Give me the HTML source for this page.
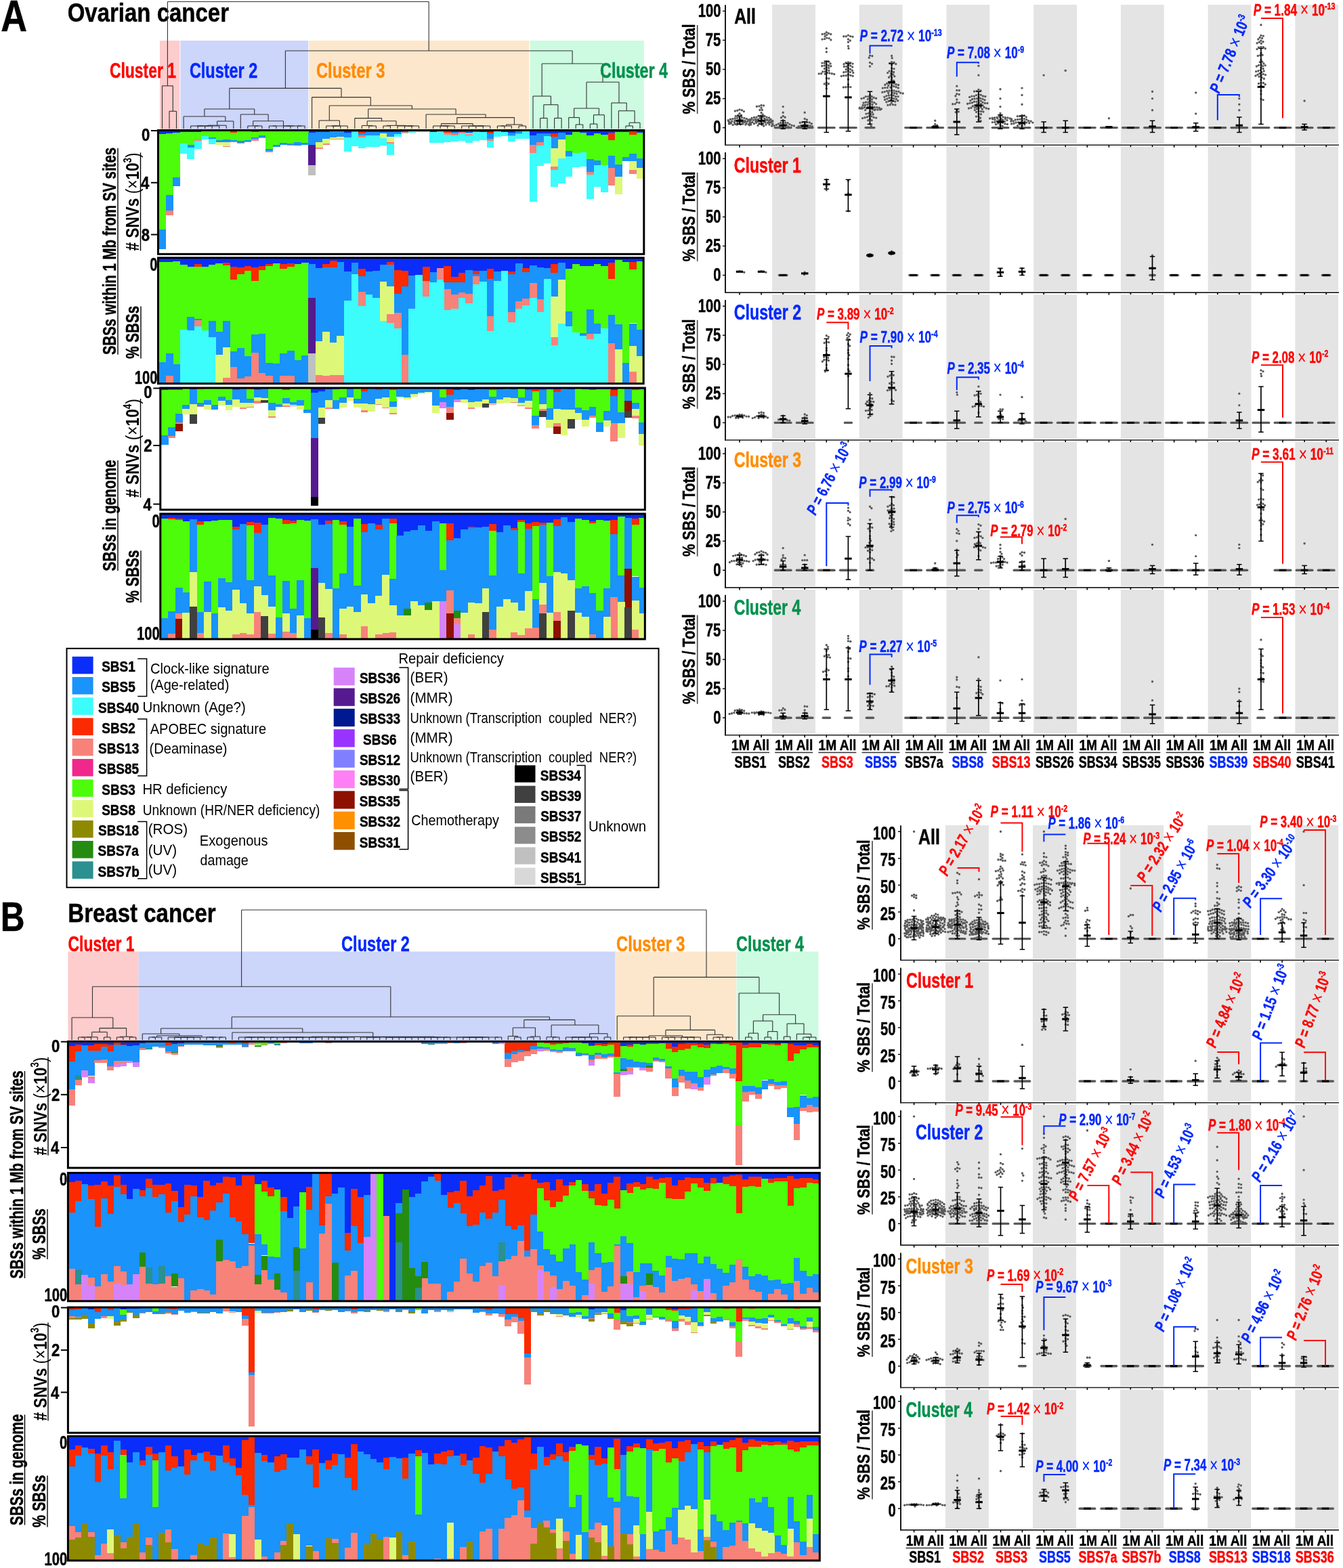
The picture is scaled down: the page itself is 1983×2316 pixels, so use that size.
<!DOCTYPE html>
<html><head><meta charset="utf-8"><title>Figure</title>
<style>
html,body{margin:0;padding:0;background:#fff;}
svg{display:block;font-family:'Liberation Sans', Arial, sans-serif;}
</style></head>
<body>
<svg xmlns="http://www.w3.org/2000/svg" width="1983" height="2316" viewBox="0 0 1983 2316">
<rect width="1983" height="2316" fill="#fff"/>
<text transform="translate(1.3,46.4) scale(0.826,1)" font-size="65" font-weight="bold" fill="#000" stroke="#000" stroke-width="0.50" >A</text>
<text transform="translate(99.7,32.3) scale(0.835,1)" font-size="39.5" font-weight="bold" fill="#000" stroke="#000" stroke-width="0.50" >Ovarian cancer</text>
<text transform="translate(0.7,1374.9) scale(0.816,1)" font-size="60.7" font-weight="bold" fill="#000" stroke="#000" stroke-width="0.50" >B</text>
<text transform="translate(100.3,1361.9) scale(0.836,1)" font-size="39.5" font-weight="bold" fill="#000" stroke="#000" stroke-width="0.50" >Breast cancer</text>
<rect x="1140.1" y="7.0" width="63.8" height="205.2" fill="#e4e4e4" />
<rect x="1268.8" y="7.0" width="63.8" height="205.2" fill="#e4e4e4" />
<rect x="1397.5" y="7.0" width="63.8" height="205.2" fill="#e4e4e4" />
<rect x="1526.2" y="7.0" width="63.8" height="205.2" fill="#e4e4e4" />
<rect x="1654.9" y="7.0" width="63.8" height="205.2" fill="#e4e4e4" />
<rect x="1783.6" y="7.0" width="63.8" height="205.2" fill="#e4e4e4" />
<rect x="1912.3" y="7.0" width="63.8" height="205.2" fill="#e4e4e4" />
<line x1="1071.0" y1="7.2" x2="1071.0" y2="215.0" stroke="#000" stroke-width="1.8" />
<line x1="1070.1" y1="214.2" x2="1977.0" y2="214.2" stroke="#222" stroke-width="1.6" />
<line x1="1067.0" y1="188.6" x2="1071.0" y2="188.6" stroke="#000" stroke-width="1.4" />
<text transform="translate(1053.3,197.3) scale(0.750,1)" font-size="27" font-weight="bold" fill="#000" stroke="#000" stroke-width="0.50" >0</text>
<line x1="1067.0" y1="145.6" x2="1071.0" y2="145.6" stroke="#000" stroke-width="1.4" />
<text transform="translate(1041.7,154.2) scale(0.750,1)" font-size="27" font-weight="bold" fill="#000" stroke="#000" stroke-width="0.50" >25</text>
<line x1="1067.0" y1="102.5" x2="1071.0" y2="102.5" stroke="#000" stroke-width="1.4" />
<text transform="translate(1041.9,111.2) scale(0.750,1)" font-size="27" font-weight="bold" fill="#000" stroke="#000" stroke-width="0.50" >50</text>
<line x1="1067.0" y1="59.4" x2="1071.0" y2="59.4" stroke="#000" stroke-width="1.4" />
<text transform="translate(1041.7,68.1) scale(0.750,1)" font-size="27" font-weight="bold" fill="#000" stroke="#000" stroke-width="0.50" >75</text>
<line x1="1067.0" y1="16.4" x2="1071.0" y2="16.4" stroke="#000" stroke-width="1.4" />
<text transform="translate(1030.8,25.1) scale(0.750,1)" font-size="27" font-weight="bold" fill="#000" stroke="#000" stroke-width="0.50" >100</text>
<line x1="1092.0" y1="214.2" x2="1092.0" y2="217.7" stroke="#000" stroke-width="1.6" />
<line x1="1124.1" y1="214.2" x2="1124.1" y2="217.7" stroke="#000" stroke-width="1.6" />
<line x1="1156.2" y1="214.2" x2="1156.2" y2="217.7" stroke="#000" stroke-width="1.6" />
<line x1="1188.2" y1="214.2" x2="1188.2" y2="217.7" stroke="#000" stroke-width="1.6" />
<line x1="1220.3" y1="214.2" x2="1220.3" y2="217.7" stroke="#000" stroke-width="1.6" />
<line x1="1252.4" y1="214.2" x2="1252.4" y2="217.7" stroke="#000" stroke-width="1.6" />
<line x1="1284.5" y1="214.2" x2="1284.5" y2="217.7" stroke="#000" stroke-width="1.6" />
<line x1="1316.6" y1="214.2" x2="1316.6" y2="217.7" stroke="#000" stroke-width="1.6" />
<line x1="1348.6" y1="214.2" x2="1348.6" y2="217.7" stroke="#000" stroke-width="1.6" />
<line x1="1380.7" y1="214.2" x2="1380.7" y2="217.7" stroke="#000" stroke-width="1.6" />
<line x1="1412.8" y1="214.2" x2="1412.8" y2="217.7" stroke="#000" stroke-width="1.6" />
<line x1="1444.9" y1="214.2" x2="1444.9" y2="217.7" stroke="#000" stroke-width="1.6" />
<line x1="1477.0" y1="214.2" x2="1477.0" y2="217.7" stroke="#000" stroke-width="1.6" />
<line x1="1509.0" y1="214.2" x2="1509.0" y2="217.7" stroke="#000" stroke-width="1.6" />
<line x1="1541.1" y1="214.2" x2="1541.1" y2="217.7" stroke="#000" stroke-width="1.6" />
<line x1="1573.2" y1="214.2" x2="1573.2" y2="217.7" stroke="#000" stroke-width="1.6" />
<line x1="1605.3" y1="214.2" x2="1605.3" y2="217.7" stroke="#000" stroke-width="1.6" />
<line x1="1637.4" y1="214.2" x2="1637.4" y2="217.7" stroke="#000" stroke-width="1.6" />
<line x1="1669.4" y1="214.2" x2="1669.4" y2="217.7" stroke="#000" stroke-width="1.6" />
<line x1="1701.5" y1="214.2" x2="1701.5" y2="217.7" stroke="#000" stroke-width="1.6" />
<line x1="1733.6" y1="214.2" x2="1733.6" y2="217.7" stroke="#000" stroke-width="1.6" />
<line x1="1765.7" y1="214.2" x2="1765.7" y2="217.7" stroke="#000" stroke-width="1.6" />
<line x1="1797.8" y1="214.2" x2="1797.8" y2="217.7" stroke="#000" stroke-width="1.6" />
<line x1="1829.8" y1="214.2" x2="1829.8" y2="217.7" stroke="#000" stroke-width="1.6" />
<line x1="1861.9" y1="214.2" x2="1861.9" y2="217.7" stroke="#000" stroke-width="1.6" />
<line x1="1894.0" y1="214.2" x2="1894.0" y2="217.7" stroke="#000" stroke-width="1.6" />
<line x1="1926.1" y1="214.2" x2="1926.1" y2="217.7" stroke="#000" stroke-width="1.6" />
<line x1="1958.2" y1="214.2" x2="1958.2" y2="217.7" stroke="#000" stroke-width="1.6" />
<text transform="translate(1026.0,168.4) rotate(-90) scale(0.812,1)" font-size="25.7" font-weight="bold" fill="#000" stroke="#000" stroke-width="0.50" >% SBS / Total</text>
<line x1="1029.7" y1="37.0" x2="1029.7" y2="168.0" stroke="#444" stroke-width="1.6" />
<text transform="translate(1084.2,34.8) scale(0.800,1)" font-size="31" font-weight="bold" fill="#000000" stroke="#000000" stroke-width="0.50" >All</text>
<path stroke="#5a5a5a" stroke-width="3.4" stroke-linecap="round" d="M1092.0 161.9h0M1095.4 162.7h0M1088.8 163.3h0M1085.4 164.0h0M1098.4 164.6h0M1092.0 167.7h0M1094.5 170.1h0M1089.7 170.3h0M1086.3 171.4h0M1092.0 173.3h0M1095.5 173.6h0M1088.6 174.2h0M1098.9 174.4h0M1085.2 174.8h0M1102.3 175.4h0M1081.8 175.8h0M1078.4 176.2h0M1093.4 176.5h0M1105.4 176.9h0M1108.9 177.0h0M1104.8 177.2h0M1090.1 177.7h0M1096.7 177.7h0M1075.2 177.8h0M1091.4 177.8h0M1086.6 178.1h0M1100.1 178.2h0M1084.9 178.3h0M1091.8 178.5h0M1080.7 179.1h0M1075.9 179.3h0M1094.4 179.4h0M1103.7 179.4h0M1100.5 179.5h0M1099.4 179.7h0M1092.2 179.9h0M1096.2 180.0h0M1107.1 180.4h0M1092.4 180.5h0M1099.1 180.5h0M1077.6 180.6h0M1107.1 180.7h0M1084.3 180.7h0M1088.9 181.2h0M1076.7 181.5h0M1079.6 181.7h0M1108.6 182.0h0M1078.1 182.4h0M1088.9 182.4h0M1102.1 182.5h0M1076.5 182.9h0M1096.8 183.0h0M1085.3 183.0h0M1086.0 183.4h0M1105.4 183.8h0M1093.3 183.9h0M1088.2 184.0h0M1100.9 184.1h0M1108.7 184.1h0M1082.1 184.4h0M1106.5 184.7h0"/>
<line x1="1092.0" y1="171.4" x2="1092.0" y2="183.4" stroke="#000" stroke-width="1.7" />
<line x1="1088.2" y1="171.4" x2="1095.8" y2="171.4" stroke="#000" stroke-width="1.5" />
<line x1="1088.2" y1="183.4" x2="1095.8" y2="183.4" stroke="#000" stroke-width="1.5" />
<line x1="1086.8" y1="178.3" x2="1097.2" y2="178.3" stroke="#000" stroke-width="3" />
<path stroke="#5a5a5a" stroke-width="3.4" stroke-linecap="round" d="M1124.1 155.5h0M1127.6 155.9h0M1120.9 156.9h0M1117.4 157.2h0M1124.1 159.2h0M1125.4 162.4h0M1121.9 162.5h0M1124.1 166.5h0M1126.3 169.2h0M1123.4 171.0h0M1119.9 171.2h0M1129.0 171.5h0M1116.9 173.1h0M1132.1 173.1h0M1126.0 173.4h0M1113.4 173.5h0M1135.5 174.0h0M1122.1 174.3h0M1110.0 174.4h0M1129.0 175.2h0M1119.2 176.2h0M1138.1 176.3h0M1115.6 176.3h0M1132.7 176.5h0M1124.7 176.6h0M1107.4 176.7h0M1129.6 176.9h0M1112.3 177.3h0M1132.8 177.6h0M1116.4 177.6h0M1136.0 177.7h0M1107.8 177.9h0M1107.3 178.1h0M1140.8 178.5h0M1122.0 178.8h0M1129.8 178.9h0M1115.6 179.0h0M1116.2 179.1h0M1140.9 179.2h0M1128.3 179.5h0M1139.0 179.5h0M1118.0 179.7h0M1123.6 179.8h0M1135.5 179.9h0M1129.5 180.0h0M1110.9 180.5h0M1135.5 180.8h0M1129.7 180.9h0M1138.1 181.0h0M1116.7 181.2h0M1135.0 181.4h0M1133.3 181.4h0M1120.8 182.1h0M1126.1 182.2h0M1108.0 182.4h0M1113.5 182.8h0M1141.0 183.0h0M1140.3 183.6h0M1136.0 184.1h0M1131.0 184.1h0M1124.8 184.2h0M1119.1 185.2h0M1127.7 186.1h0"/>
<line x1="1124.1" y1="171.4" x2="1124.1" y2="183.4" stroke="#000" stroke-width="1.7" />
<line x1="1120.3" y1="171.4" x2="1127.8" y2="171.4" stroke="#000" stroke-width="1.5" />
<line x1="1120.3" y1="183.4" x2="1127.8" y2="183.4" stroke="#000" stroke-width="1.5" />
<line x1="1118.8" y1="178.3" x2="1129.3" y2="178.3" stroke="#000" stroke-width="3" />
<rect x="1142.7" y="186.9" width="27.0" height="3.4" rx="1.7" fill="#5a5a5a"/>
<path stroke="#5a5a5a" stroke-width="3.4" stroke-linecap="round" d="M1156.2 157.6h0M1156.2 166.2h0M1156.2 171.5h0M1159.1 173.3h0M1153.5 173.7h0M1156.2 177.4h0M1156.2 181.2h0M1159.7 181.2h0M1152.7 181.5h0M1163.1 181.6h0M1149.5 183.0h0M1166.0 183.6h0M1157.7 184.4h0M1146.4 184.5h0M1161.2 184.6h0M1154.3 185.0h0M1169.1 185.3h0M1143.1 185.8h0M1172.5 185.9h0M1139.6 186.1h0M1151.1 186.5h0M1163.9 186.9h0"/>
<line x1="1156.2" y1="178.3" x2="1156.2" y2="190.3" stroke="#000" stroke-width="1.7" />
<line x1="1152.4" y1="178.3" x2="1159.9" y2="178.3" stroke="#000" stroke-width="1.5" />
<line x1="1152.4" y1="190.3" x2="1159.9" y2="190.3" stroke="#000" stroke-width="1.5" />
<line x1="1150.9" y1="185.2" x2="1161.4" y2="185.2" stroke="#000" stroke-width="3" />
<rect x="1174.7" y="186.9" width="27.0" height="3.4" rx="1.7" fill="#5a5a5a"/>
<path stroke="#5a5a5a" stroke-width="3.4" stroke-linecap="round" d="M1188.2 166.2h0M1188.2 175.4h0M1191.4 176.9h0M1188.2 180.3h0M1191.7 180.5h0M1184.7 180.5h0M1195.2 181.0h0M1181.3 181.3h0M1198.3 182.7h0M1189.2 183.7h0M1186.0 184.9h0M1192.4 185.1h0M1182.5 185.6h0M1195.9 185.8h0M1179.2 186.6h0M1199.3 186.6h0"/>
<line x1="1188.2" y1="180.0" x2="1188.2" y2="190.3" stroke="#000" stroke-width="1.7" />
<line x1="1184.5" y1="180.0" x2="1192.0" y2="180.0" stroke="#000" stroke-width="1.5" />
<line x1="1184.5" y1="190.3" x2="1192.0" y2="190.3" stroke="#000" stroke-width="1.5" />
<line x1="1183.0" y1="186.0" x2="1193.5" y2="186.0" stroke="#000" stroke-width="3" />
<rect x="1206.8" y="186.9" width="27.0" height="3.4" rx="1.7" fill="#5a5a5a"/>
<path stroke="#5a5a5a" stroke-width="3.4" stroke-linecap="round" d="M1220.3 47.7h0M1223.4 49.3h0M1217.7 50.0h0M1214.2 50.4h0M1226.7 50.5h0M1220.8 51.6h0M1218.1 53.8h0M1220.8 56.1h0M1224.2 56.6h0M1217.6 57.6h0M1214.1 58.1h0M1226.9 58.9h0M1220.3 71.5h0M1220.3 76.7h0M1220.3 91.0h0M1223.8 91.3h0M1217.5 93.0h0M1214.0 93.1h0M1226.1 93.9h0M1220.3 95.2h0M1223.5 96.7h0M1217.3 97.0h0M1213.8 97.5h0M1226.8 97.8h0M1220.3 99.3h0M1223.7 100.2h0M1217.5 101.4h0M1220.6 103.1h0M1223.9 104.3h0M1218.3 105.8h0M1214.8 105.9h0M1221.4 107.5h0M1224.8 108.0h0M1212.7 108.7h0M1228.3 108.7h0M1209.2 108.9h0M1218.4 109.3h0M1231.7 109.5h0M1220.3 115.8h0M1223.8 115.9h0M1220.3 122.1h0M1223.4 123.8h0M1217.3 123.9h0M1220.3 126.0h0M1220.3 130.8h0"/>
<line x1="1220.3" y1="90.4" x2="1220.3" y2="195.5" stroke="#000" stroke-width="1.7" />
<line x1="1216.6" y1="90.4" x2="1224.1" y2="90.4" stroke="#000" stroke-width="1.5" />
<line x1="1216.6" y1="195.5" x2="1224.1" y2="195.5" stroke="#000" stroke-width="1.5" />
<line x1="1215.1" y1="142.1" x2="1225.6" y2="142.1" stroke="#000" stroke-width="3" />
<rect x="1238.9" y="186.9" width="27.0" height="3.4" rx="1.7" fill="#5a5a5a"/>
<path stroke="#5a5a5a" stroke-width="3.4" stroke-linecap="round" d="M1252.4 52.1h0M1255.6 53.6h0M1249.3 53.7h0M1245.8 53.8h0M1259.0 54.3h0M1252.4 58.0h0M1255.3 60.0h0M1252.4 62.2h0M1252.4 68.1h0M1253.0 71.5h0M1252.4 92.0h0M1255.8 92.6h0M1249.0 92.7h0M1259.0 94.1h0M1246.1 94.7h0M1252.4 95.9h0M1255.7 97.0h0M1249.9 98.3h0M1246.4 98.4h0M1258.7 98.9h0M1252.4 100.8h0M1255.6 102.2h0M1249.3 102.4h0M1258.5 104.2h0M1252.4 104.6h0M1249.2 106.1h0M1255.3 106.6h0M1245.8 106.7h0M1259.8 107.5h0M1252.4 110.2h0M1255.8 111.2h0M1249.2 111.7h0M1245.7 111.8h0M1259.1 112.2h0M1242.3 112.4h0M1252.4 117.3h0M1252.4 124.7h0M1252.4 128.2h0M1255.9 128.6h0M1248.9 128.7h0M1245.4 128.9h0"/>
<line x1="1252.4" y1="93.9" x2="1252.4" y2="193.8" stroke="#000" stroke-width="1.7" />
<line x1="1248.7" y1="93.9" x2="1256.2" y2="93.9" stroke="#000" stroke-width="1.5" />
<line x1="1248.7" y1="193.8" x2="1256.2" y2="193.8" stroke="#000" stroke-width="1.5" />
<line x1="1247.2" y1="143.8" x2="1257.7" y2="143.8" stroke="#000" stroke-width="3" />
<rect x="1276.4" y="186.9" width="16.2" height="3.4" rx="1.7" fill="#5a5a5a"/>
<path stroke="#5a5a5a" stroke-width="3.4" stroke-linecap="round" d="M1284.5 82.0h0M1287.9 82.8h0M1283.2 85.3h0M1284.5 92.4h0M1287.5 94.3h0M1284.5 98.0h0M1284.5 140.3h0M1287.2 142.5h0M1281.8 142.6h0M1278.3 142.6h0M1290.2 144.3h0M1275.5 144.7h0M1284.5 144.8h0M1293.6 145.2h0M1272.1 145.6h0M1281.4 146.4h0M1287.4 146.8h0M1284.4 148.6h0M1287.4 150.4h0M1281.9 151.0h0M1278.4 151.0h0M1290.8 151.5h0M1275.1 152.0h0M1284.6 153.3h0M1293.6 153.6h0M1288.0 154.2h0M1281.1 154.4h0M1277.6 155.2h0M1274.2 155.5h0M1284.5 157.0h0M1287.9 157.8h0M1281.3 158.5h0M1291.3 158.5h0M1276.6 158.5h0M1294.8 158.6h0M1272.7 158.7h0M1298.2 159.3h0M1269.2 159.3h0M1272.8 159.5h0M1272.8 159.7h0M1279.9 159.9h0M1273.6 160.0h0M1269.2 160.0h0M1271.7 160.2h0M1284.5 160.8h0M1301.3 161.0h0M1287.9 161.4h0M1288.5 161.6h0M1292.3 161.9h0M1299.5 161.9h0M1295.9 162.0h0M1277.6 162.6h0M1291.4 162.6h0M1284.5 164.7h0M1287.8 165.7h0M1282.3 167.5h0M1278.9 168.1h0M1285.6 168.6h0M1289.2 168.9h0M1283.6 171.4h0M1287.0 171.9h0M1280.4 172.8h0M1290.2 173.4h0M1277.0 173.7h0M1293.7 174.1h0M1273.6 174.6h0M1284.5 175.5h0M1287.2 177.7h0M1281.8 177.8h0M1284.5 183.1h0M1286.3 186.1h0"/>
<line x1="1284.5" y1="135.2" x2="1284.5" y2="183.4" stroke="#000" stroke-width="1.7" />
<line x1="1280.7" y1="135.2" x2="1288.2" y2="135.2" stroke="#000" stroke-width="1.5" />
<line x1="1280.7" y1="183.4" x2="1288.2" y2="183.4" stroke="#000" stroke-width="1.5" />
<line x1="1279.2" y1="159.3" x2="1289.7" y2="159.3" stroke="#000" stroke-width="3" />
<path stroke="#5a5a5a" stroke-width="3.4" stroke-linecap="round" d="M1316.6 82.4h0M1317.2 85.8h0M1316.6 91.8h0M1320.0 92.3h0M1313.5 93.5h0M1322.8 94.5h0M1316.6 95.5h0M1316.6 100.9h0M1320.0 101.6h0M1316.6 105.1h0M1313.1 105.1h0M1319.7 106.5h0M1310.7 107.6h0M1315.5 108.4h0M1318.7 109.9h0M1315.1 111.9h0M1320.8 112.7h0M1312.5 114.2h0M1316.7 115.0h0M1316.2 118.5h0M1319.6 119.1h0M1316.6 122.2h0M1319.9 123.2h0M1313.2 123.2h0M1309.7 123.3h0M1323.1 124.7h0M1306.8 125.3h0M1326.5 125.5h0M1316.6 126.1h0M1311.7 126.4h0M1319.8 127.4h0M1323.1 128.5h0M1314.9 129.2h0M1310.3 129.6h0M1306.8 129.6h0M1326.3 129.9h0M1303.3 130.1h0M1316.6 133.7h0M1320.0 134.0h0M1313.1 134.0h0M1309.6 134.4h0M1323.4 135.0h0M1326.9 135.3h0M1306.3 135.6h0M1302.9 136.3h0M1317.2 137.1h0M1311.7 137.2h0M1329.7 137.3h0M1320.6 137.6h0M1333.2 138.0h0M1324.0 138.6h0M1315.9 140.4h0M1312.4 140.7h0M1319.3 141.0h0M1309.0 141.6h0M1322.5 142.6h0M1326.0 142.6h0M1305.9 143.3h0M1316.6 144.5h0M1313.1 144.5h0M1319.8 145.8h0M1309.9 146.0h0M1323.3 146.2h0M1306.6 147.3h0M1315.3 147.7h0M1325.7 148.7h0M1318.4 149.2h0M1312.2 149.4h0M1321.8 150.0h0M1308.9 150.7h0M1316.2 151.9h0M1318.4 154.6h0M1314.4 154.8h0M1321.9 154.9h0M1310.9 155.3h0"/>
<line x1="1316.6" y1="93.9" x2="1316.6" y2="149.0" stroke="#000" stroke-width="1.7" />
<line x1="1312.8" y1="93.9" x2="1320.3" y2="93.9" stroke="#000" stroke-width="1.5" />
<line x1="1312.8" y1="149.0" x2="1320.3" y2="149.0" stroke="#000" stroke-width="1.5" />
<line x1="1311.3" y1="121.4" x2="1321.8" y2="121.4" stroke="#000" stroke-width="3" />
<rect x="1335.1" y="186.9" width="27.0" height="3.4" rx="1.7" fill="#5a5a5a"/>
<line x1="1343.4" y1="188.6" x2="1353.9" y2="188.6" stroke="#000" stroke-width="3" />
<rect x="1367.2" y="186.9" width="27.0" height="3.4" rx="1.7" fill="#5a5a5a"/>
<path stroke="#5a5a5a" stroke-width="3.4" stroke-linecap="round" d="M1380.7 178.3h0M1380.7 183.4h0M1383.8 185.2h0"/>
<line x1="1380.7" y1="186.0" x2="1380.7" y2="188.6" stroke="#000" stroke-width="1.7" />
<line x1="1377.0" y1="186.0" x2="1384.5" y2="186.0" stroke="#000" stroke-width="1.5" />
<line x1="1377.0" y1="188.6" x2="1384.5" y2="188.6" stroke="#000" stroke-width="1.5" />
<line x1="1375.5" y1="187.7" x2="1386.0" y2="187.7" stroke="#000" stroke-width="3" />
<rect x="1399.3" y="186.9" width="27.0" height="3.4" rx="1.7" fill="#5a5a5a"/>
<path stroke="#5a5a5a" stroke-width="3.4" stroke-linecap="round" d="M1412.8 127.3h0M1412.8 133.4h0M1416.3 133.5h0M1412.8 138.7h0M1416.2 139.5h0M1410.9 141.7h0M1412.8 147.0h0M1412.8 151.2h0M1416.3 151.7h0M1410.2 153.6h0M1406.7 153.8h0M1412.8 162.6h0M1415.3 165.0h0M1411.2 165.7h0"/>
<line x1="1412.8" y1="161.0" x2="1412.8" y2="198.9" stroke="#000" stroke-width="1.7" />
<line x1="1409.0" y1="161.0" x2="1416.5" y2="161.0" stroke="#000" stroke-width="1.5" />
<line x1="1409.0" y1="198.9" x2="1416.5" y2="198.9" stroke="#000" stroke-width="1.5" />
<line x1="1407.5" y1="180.0" x2="1418.0" y2="180.0" stroke="#000" stroke-width="3" />
<rect x="1436.8" y="186.9" width="16.2" height="3.4" rx="1.7" fill="#5a5a5a"/>
<path stroke="#5a5a5a" stroke-width="3.4" stroke-linecap="round" d="M1444.9 97.3h0M1444.9 111.1h0M1444.9 132.5h0M1448.1 134.0h0M1442.1 134.6h0M1438.6 135.0h0M1444.9 139.5h0M1448.3 140.2h0M1441.5 140.6h0M1451.4 141.9h0M1438.4 142.1h0M1434.9 142.1h0M1454.8 142.5h0M1444.9 143.1h0M1431.6 143.4h0M1447.6 145.3h0M1442.5 145.6h0M1439.0 145.9h0M1451.0 146.2h0M1435.6 146.5h0M1454.0 147.8h0M1444.9 148.2h0M1432.8 148.6h0M1448.3 149.1h0M1442.0 150.2h0M1438.5 150.3h0M1451.0 151.2h0M1445.3 151.7h0M1435.4 151.8h0M1454.4 152.4h0M1431.9 152.4h0M1457.9 152.4h0M1428.5 153.2h0M1448.3 153.6h0M1442.7 154.0h0M1439.5 155.4h0M1451.1 155.7h0M1445.6 156.0h0M1436.3 156.8h0M1442.6 157.8h0M1448.2 158.4h0M1453.1 158.5h0M1439.3 158.9h0M1433.9 159.3h0M1456.3 160.0h0M1430.5 160.0h0M1445.0 160.3h0M1459.7 160.8h0M1442.4 160.9h0M1450.2 161.2h0M1439.3 162.6h0M1444.9 164.3h0M1448.4 164.6h0M1451.8 165.0h0M1441.6 165.5h0M1444.9 168.3h0M1448.4 168.7h0M1444.9 171.9h0M1441.4 172.1h0M1447.5 174.2h0M1444.9 177.3h0M1448.1 178.7h0"/>
<line x1="1444.9" y1="135.2" x2="1444.9" y2="180.0" stroke="#000" stroke-width="1.7" />
<line x1="1441.1" y1="135.2" x2="1448.6" y2="135.2" stroke="#000" stroke-width="1.5" />
<line x1="1441.1" y1="180.0" x2="1448.6" y2="180.0" stroke="#000" stroke-width="1.5" />
<line x1="1439.6" y1="155.9" x2="1450.1" y2="155.9" stroke="#000" stroke-width="3" />
<rect x="1463.5" y="186.9" width="27.0" height="3.4" rx="1.7" fill="#5a5a5a"/>
<path stroke="#5a5a5a" stroke-width="3.4" stroke-linecap="round" d="M1477.0 131.8h0M1477.0 145.6h0M1477.0 157.6h0M1477.0 167.4h0M1478.4 170.6h0M1475.2 172.0h0M1481.0 172.9h0M1472.0 173.5h0M1484.4 173.8h0M1468.5 174.0h0M1487.9 174.0h0M1465.1 174.2h0M1477.3 174.8h0M1491.3 175.0h0M1461.6 175.0h0M1472.9 175.0h0M1484.3 175.4h0M1465.6 175.9h0M1493.7 175.9h0M1478.3 176.0h0M1469.0 176.9h0M1480.7 177.2h0M1487.0 177.6h0M1475.3 177.7h0M1479.1 177.8h0M1493.4 177.9h0M1472.1 179.1h0M1483.4 179.4h0M1468.8 180.5h0M1465.3 180.6h0M1477.0 180.9h0M1480.4 181.3h0M1473.8 182.3h0M1483.9 182.9h0M1487.3 183.5h0M1470.5 183.7h0M1477.0 184.7h0M1480.1 186.2h0"/>
<line x1="1477.0" y1="169.7" x2="1477.0" y2="190.3" stroke="#000" stroke-width="1.7" />
<line x1="1473.2" y1="169.7" x2="1480.7" y2="169.7" stroke="#000" stroke-width="1.5" />
<line x1="1473.2" y1="190.3" x2="1480.7" y2="190.3" stroke="#000" stroke-width="1.5" />
<line x1="1471.7" y1="180.0" x2="1482.2" y2="180.0" stroke="#000" stroke-width="3" />
<rect x="1495.5" y="186.9" width="27.0" height="3.4" rx="1.7" fill="#5a5a5a"/>
<path stroke="#5a5a5a" stroke-width="3.4" stroke-linecap="round" d="M1509.0 130.1h0M1509.0 140.4h0M1509.0 154.2h0M1509.0 170.2h0M1512.5 170.6h0M1505.8 171.5h0M1502.3 171.8h0M1515.2 172.9h0M1509.0 174.3h0M1512.3 175.6h0M1506.1 176.3h0M1502.7 176.5h0M1515.7 176.6h0M1499.2 177.0h0M1509.3 177.9h0M1518.6 178.4h0M1496.3 179.0h0M1522.1 179.0h0M1512.9 179.1h0M1492.8 179.1h0M1507.1 180.6h0M1503.6 180.7h0M1515.8 181.0h0M1500.1 181.0h0M1524.9 181.1h0M1510.4 181.6h0M1519.7 181.8h0M1496.9 182.5h0M1493.5 182.9h0M1505.5 183.7h0M1512.9 184.1h0M1509.0 185.4h0M1502.5 185.6h0"/>
<line x1="1509.0" y1="171.4" x2="1509.0" y2="190.3" stroke="#000" stroke-width="1.7" />
<line x1="1505.3" y1="171.4" x2="1512.8" y2="171.4" stroke="#000" stroke-width="1.5" />
<line x1="1505.3" y1="190.3" x2="1512.8" y2="190.3" stroke="#000" stroke-width="1.5" />
<line x1="1503.8" y1="181.7" x2="1514.3" y2="181.7" stroke="#000" stroke-width="3" />
<rect x="1527.6" y="186.9" width="27.0" height="3.4" rx="1.7" fill="#5a5a5a"/>
<path stroke="#5a5a5a" stroke-width="3.4" stroke-linecap="round" d="M1541.1 111.1h0"/>
<line x1="1541.1" y1="180.0" x2="1541.1" y2="195.5" stroke="#000" stroke-width="1.7" />
<line x1="1537.4" y1="180.0" x2="1544.9" y2="180.0" stroke="#000" stroke-width="1.5" />
<line x1="1537.4" y1="195.5" x2="1544.9" y2="195.5" stroke="#000" stroke-width="1.5" />
<line x1="1535.9" y1="188.6" x2="1546.4" y2="188.6" stroke="#000" stroke-width="3" />
<rect x="1559.7" y="186.9" width="27.0" height="3.4" rx="1.7" fill="#5a5a5a"/>
<path stroke="#5a5a5a" stroke-width="3.4" stroke-linecap="round" d="M1573.2 104.2h0"/>
<line x1="1573.2" y1="178.3" x2="1573.2" y2="195.5" stroke="#000" stroke-width="1.7" />
<line x1="1569.5" y1="178.3" x2="1577.0" y2="178.3" stroke="#000" stroke-width="1.5" />
<line x1="1569.5" y1="195.5" x2="1577.0" y2="195.5" stroke="#000" stroke-width="1.5" />
<line x1="1568.0" y1="188.6" x2="1578.5" y2="188.6" stroke="#000" stroke-width="3" />
<rect x="1591.8" y="186.9" width="27.0" height="3.4" rx="1.7" fill="#5a5a5a"/>
<line x1="1600.0" y1="188.6" x2="1610.5" y2="188.6" stroke="#000" stroke-width="3" />
<rect x="1623.9" y="186.9" width="27.0" height="3.4" rx="1.7" fill="#5a5a5a"/>
<path stroke="#5a5a5a" stroke-width="3.4" stroke-linecap="round" d="M1637.4 174.8h0"/>
<line x1="1637.4" y1="186.9" x2="1637.4" y2="188.6" stroke="#000" stroke-width="1.7" />
<line x1="1633.6" y1="186.9" x2="1641.1" y2="186.9" stroke="#000" stroke-width="1.5" />
<line x1="1633.6" y1="188.6" x2="1641.1" y2="188.6" stroke="#000" stroke-width="1.5" />
<line x1="1632.1" y1="187.7" x2="1642.6" y2="187.7" stroke="#000" stroke-width="3" />
<rect x="1655.9" y="186.9" width="27.0" height="3.4" rx="1.7" fill="#5a5a5a"/>
<line x1="1664.2" y1="188.6" x2="1674.7" y2="188.6" stroke="#000" stroke-width="3" />
<rect x="1688.0" y="186.9" width="27.0" height="3.4" rx="1.7" fill="#5a5a5a"/>
<path stroke="#5a5a5a" stroke-width="3.4" stroke-linecap="round" d="M1701.5 135.2h0M1701.5 145.6h0M1701.5 162.8h0"/>
<line x1="1701.5" y1="178.3" x2="1701.5" y2="195.5" stroke="#000" stroke-width="1.7" />
<line x1="1697.8" y1="178.3" x2="1705.3" y2="178.3" stroke="#000" stroke-width="1.5" />
<line x1="1697.8" y1="195.5" x2="1705.3" y2="195.5" stroke="#000" stroke-width="1.5" />
<line x1="1696.3" y1="186.9" x2="1706.8" y2="186.9" stroke="#000" stroke-width="3" />
<rect x="1720.1" y="186.9" width="27.0" height="3.4" rx="1.7" fill="#5a5a5a"/>
<line x1="1728.3" y1="188.6" x2="1738.8" y2="188.6" stroke="#000" stroke-width="3" />
<rect x="1752.2" y="186.9" width="27.0" height="3.4" rx="1.7" fill="#5a5a5a"/>
<path stroke="#5a5a5a" stroke-width="3.4" stroke-linecap="round" d="M1765.7 136.9h0M1765.7 167.9h0"/>
<line x1="1765.7" y1="181.7" x2="1765.7" y2="193.8" stroke="#000" stroke-width="1.7" />
<line x1="1761.9" y1="181.7" x2="1769.4" y2="181.7" stroke="#000" stroke-width="1.5" />
<line x1="1761.9" y1="193.8" x2="1769.4" y2="193.8" stroke="#000" stroke-width="1.5" />
<line x1="1760.4" y1="187.7" x2="1770.9" y2="187.7" stroke="#000" stroke-width="3" />
<rect x="1784.3" y="186.9" width="27.0" height="3.4" rx="1.7" fill="#5a5a5a"/>
<line x1="1792.5" y1="188.6" x2="1803.0" y2="188.6" stroke="#000" stroke-width="3" />
<rect x="1816.3" y="186.9" width="27.0" height="3.4" rx="1.7" fill="#5a5a5a"/>
<path stroke="#5a5a5a" stroke-width="3.4" stroke-linecap="round" d="M1829.8 145.6h0M1829.8 154.2h0M1829.8 162.8h0"/>
<line x1="1829.8" y1="173.1" x2="1829.8" y2="195.5" stroke="#000" stroke-width="1.7" />
<line x1="1826.1" y1="173.1" x2="1833.6" y2="173.1" stroke="#000" stroke-width="1.5" />
<line x1="1826.1" y1="195.5" x2="1833.6" y2="195.5" stroke="#000" stroke-width="1.5" />
<line x1="1824.6" y1="185.2" x2="1835.1" y2="185.2" stroke="#000" stroke-width="3" />
<rect x="1848.4" y="186.9" width="27.0" height="3.4" rx="1.7" fill="#5a5a5a"/>
<path stroke="#5a5a5a" stroke-width="3.4" stroke-linecap="round" d="M1861.9 36.7h0M1861.9 52.4h0M1865.3 53.1h0M1860.2 55.5h0M1863.6 56.4h0M1857.8 58.0h0M1861.9 60.0h0M1865.0 61.8h0M1859.3 62.3h0M1856.1 63.8h0M1862.3 64.2h0M1861.9 69.5h0M1865.4 69.6h0M1858.5 70.1h0M1868.2 71.7h0M1856.0 72.6h0M1861.9 78.5h0M1864.1 81.2h0M1860.7 81.7h0M1857.3 82.5h0M1861.9 88.2h0M1863.7 91.2h0M1860.3 91.7h0M1865.9 93.9h0M1861.9 95.6h0M1858.5 96.4h0M1868.2 96.6h0M1864.7 97.6h0M1855.4 98.0h0M1861.9 100.2h0M1865.1 101.5h0M1861.3 103.6h0M1858.0 104.8h0M1866.2 104.9h0M1854.6 105.6h0M1863.0 106.6h0M1860.0 108.5h0M1865.2 109.4h0M1857.0 110.3h0M1868.5 110.6h0M1862.1 111.3h0M1854.0 112.0h0M1859.2 113.2h0M1863.3 114.6h0M1866.4 116.2h0M1861.9 118.0h0M1861.9 122.4h0M1865.4 122.5h0M1858.5 123.4h0M1868.2 124.7h0M1861.9 126.8h0M1861.9 134.2h0M1861.9 138.9h0M1861.9 146.2h0M1865.1 147.6h0"/>
<line x1="1861.9" y1="71.5" x2="1861.9" y2="183.4" stroke="#000" stroke-width="1.7" />
<line x1="1858.2" y1="71.5" x2="1865.7" y2="71.5" stroke="#000" stroke-width="1.5" />
<line x1="1858.2" y1="183.4" x2="1865.7" y2="183.4" stroke="#000" stroke-width="1.5" />
<line x1="1856.7" y1="128.3" x2="1867.2" y2="128.3" stroke="#000" stroke-width="3" />
<rect x="1880.5" y="186.9" width="27.0" height="3.4" rx="1.7" fill="#5a5a5a"/>
<line x1="1888.8" y1="188.6" x2="1899.2" y2="188.6" stroke="#000" stroke-width="3" />
<rect x="1912.6" y="186.9" width="27.0" height="3.4" rx="1.7" fill="#5a5a5a"/>
<path stroke="#5a5a5a" stroke-width="3.4" stroke-linecap="round" d="M1926.1 149.0h0"/>
<line x1="1926.1" y1="183.4" x2="1926.1" y2="192.0" stroke="#000" stroke-width="1.7" />
<line x1="1922.3" y1="183.4" x2="1929.8" y2="183.4" stroke="#000" stroke-width="1.5" />
<line x1="1922.3" y1="192.0" x2="1929.8" y2="192.0" stroke="#000" stroke-width="1.5" />
<line x1="1920.8" y1="187.7" x2="1931.3" y2="187.7" stroke="#000" stroke-width="3" />
<rect x="1944.7" y="186.9" width="27.0" height="3.4" rx="1.7" fill="#5a5a5a"/>
<line x1="1952.9" y1="188.6" x2="1963.4" y2="188.6" stroke="#000" stroke-width="3" />
<polyline points="1284.5,79.3 1284.5,67.4 1316.6,67.4 1316.6,68.7" stroke="#0028ff" stroke-width="2.0" fill="none" />
<text transform="translate(1269.5,61.0) scale(0.747,1)" font-size="23" font-weight="bold" fill="#0028ff" stroke="#0028ff" stroke-width="0.45"><tspan font-style="italic">P</tspan> = 2.72 <tspan font-weight="normal" font-size="28.8" stroke-width="0" dy="1.8">×</tspan><tspan dy="-1.8"> 10</tspan><tspan font-size="14.3" dy="-8.3">-13</tspan></text>
<polyline points="1412.8,113.3 1412.8,92.3 1444.9,92.3 1444.9,93.9" stroke="#0028ff" stroke-width="2.0" fill="none" />
<text transform="translate(1398.0,86.0) scale(0.740,1)" font-size="23" font-weight="bold" fill="#0028ff" stroke="#0028ff" stroke-width="0.45"><tspan font-style="italic">P</tspan> = 7.08 <tspan font-weight="normal" font-size="28.8" stroke-width="0" dy="1.8">×</tspan><tspan dy="-1.8"> 10</tspan><tspan font-size="14.3" dy="-8.3">-9</tspan></text>
<polyline points="1797.8,177.4 1797.8,140.0 1829.8,140.0 1829.8,143.3" stroke="#0028ff" stroke-width="2.0" fill="none" />
<text transform="translate(1800.0,139.0) rotate(-67.5) scale(0.789,1)" font-size="23" font-weight="bold" fill="#0028ff" stroke="#0028ff" stroke-width="0.45"><tspan font-style="italic">P</tspan> = 7.78 <tspan font-weight="normal" font-size="28.8" stroke-width="0" dy="1.8">×</tspan><tspan dy="-1.8"> 10</tspan><tspan font-size="14.3" dy="-8.3">-3</tspan></text>
<polyline points="1861.9,27.1 1861.9,27.1 1894.0,27.1 1894.0,174.5" stroke="#ff0000" stroke-width="2.0" fill="none" />
<text transform="translate(1850.7,22.6) scale(0.744,1)" font-size="23" font-weight="bold" fill="#ff0000" stroke="#ff0000" stroke-width="0.45"><tspan font-style="italic">P</tspan> = 1.84 <tspan font-weight="normal" font-size="28.8" stroke-width="0" dy="1.8">×</tspan><tspan dy="-1.8"> 10</tspan><tspan font-size="14.3" dy="-8.3">-13</tspan></text>
<rect x="1140.1" y="217.2" width="63.8" height="212.9" fill="#e4e4e4" />
<rect x="1268.8" y="217.2" width="63.8" height="212.9" fill="#e4e4e4" />
<rect x="1397.5" y="217.2" width="63.8" height="212.9" fill="#e4e4e4" />
<rect x="1526.2" y="217.2" width="63.8" height="212.9" fill="#e4e4e4" />
<rect x="1654.9" y="217.2" width="63.8" height="212.9" fill="#e4e4e4" />
<rect x="1783.6" y="217.2" width="63.8" height="212.9" fill="#e4e4e4" />
<rect x="1912.3" y="217.2" width="63.8" height="212.9" fill="#e4e4e4" />
<line x1="1071.0" y1="225.1" x2="1071.0" y2="432.9" stroke="#000" stroke-width="1.8" />
<line x1="1070.1" y1="432.1" x2="1977.0" y2="432.1" stroke="#222" stroke-width="1.6" />
<line x1="1067.0" y1="406.5" x2="1071.0" y2="406.5" stroke="#000" stroke-width="1.4" />
<text transform="translate(1053.3,415.2) scale(0.750,1)" font-size="27" font-weight="bold" fill="#000" stroke="#000" stroke-width="0.50" >0</text>
<line x1="1067.0" y1="363.4" x2="1071.0" y2="363.4" stroke="#000" stroke-width="1.4" />
<text transform="translate(1041.7,372.1) scale(0.750,1)" font-size="27" font-weight="bold" fill="#000" stroke="#000" stroke-width="0.50" >25</text>
<line x1="1067.0" y1="320.4" x2="1071.0" y2="320.4" stroke="#000" stroke-width="1.4" />
<text transform="translate(1041.9,329.1) scale(0.750,1)" font-size="27" font-weight="bold" fill="#000" stroke="#000" stroke-width="0.50" >50</text>
<line x1="1067.0" y1="277.4" x2="1071.0" y2="277.4" stroke="#000" stroke-width="1.4" />
<text transform="translate(1041.7,286.1) scale(0.750,1)" font-size="27" font-weight="bold" fill="#000" stroke="#000" stroke-width="0.50" >75</text>
<line x1="1067.0" y1="234.3" x2="1071.0" y2="234.3" stroke="#000" stroke-width="1.4" />
<text transform="translate(1030.8,243.0) scale(0.750,1)" font-size="27" font-weight="bold" fill="#000" stroke="#000" stroke-width="0.50" >100</text>
<line x1="1092.0" y1="432.1" x2="1092.0" y2="435.6" stroke="#000" stroke-width="1.6" />
<line x1="1124.1" y1="432.1" x2="1124.1" y2="435.6" stroke="#000" stroke-width="1.6" />
<line x1="1156.2" y1="432.1" x2="1156.2" y2="435.6" stroke="#000" stroke-width="1.6" />
<line x1="1188.2" y1="432.1" x2="1188.2" y2="435.6" stroke="#000" stroke-width="1.6" />
<line x1="1220.3" y1="432.1" x2="1220.3" y2="435.6" stroke="#000" stroke-width="1.6" />
<line x1="1252.4" y1="432.1" x2="1252.4" y2="435.6" stroke="#000" stroke-width="1.6" />
<line x1="1284.5" y1="432.1" x2="1284.5" y2="435.6" stroke="#000" stroke-width="1.6" />
<line x1="1316.6" y1="432.1" x2="1316.6" y2="435.6" stroke="#000" stroke-width="1.6" />
<line x1="1348.6" y1="432.1" x2="1348.6" y2="435.6" stroke="#000" stroke-width="1.6" />
<line x1="1380.7" y1="432.1" x2="1380.7" y2="435.6" stroke="#000" stroke-width="1.6" />
<line x1="1412.8" y1="432.1" x2="1412.8" y2="435.6" stroke="#000" stroke-width="1.6" />
<line x1="1444.9" y1="432.1" x2="1444.9" y2="435.6" stroke="#000" stroke-width="1.6" />
<line x1="1477.0" y1="432.1" x2="1477.0" y2="435.6" stroke="#000" stroke-width="1.6" />
<line x1="1509.0" y1="432.1" x2="1509.0" y2="435.6" stroke="#000" stroke-width="1.6" />
<line x1="1541.1" y1="432.1" x2="1541.1" y2="435.6" stroke="#000" stroke-width="1.6" />
<line x1="1573.2" y1="432.1" x2="1573.2" y2="435.6" stroke="#000" stroke-width="1.6" />
<line x1="1605.3" y1="432.1" x2="1605.3" y2="435.6" stroke="#000" stroke-width="1.6" />
<line x1="1637.4" y1="432.1" x2="1637.4" y2="435.6" stroke="#000" stroke-width="1.6" />
<line x1="1669.4" y1="432.1" x2="1669.4" y2="435.6" stroke="#000" stroke-width="1.6" />
<line x1="1701.5" y1="432.1" x2="1701.5" y2="435.6" stroke="#000" stroke-width="1.6" />
<line x1="1733.6" y1="432.1" x2="1733.6" y2="435.6" stroke="#000" stroke-width="1.6" />
<line x1="1765.7" y1="432.1" x2="1765.7" y2="435.6" stroke="#000" stroke-width="1.6" />
<line x1="1797.8" y1="432.1" x2="1797.8" y2="435.6" stroke="#000" stroke-width="1.6" />
<line x1="1829.8" y1="432.1" x2="1829.8" y2="435.6" stroke="#000" stroke-width="1.6" />
<line x1="1861.9" y1="432.1" x2="1861.9" y2="435.6" stroke="#000" stroke-width="1.6" />
<line x1="1894.0" y1="432.1" x2="1894.0" y2="435.6" stroke="#000" stroke-width="1.6" />
<line x1="1926.1" y1="432.1" x2="1926.1" y2="435.6" stroke="#000" stroke-width="1.6" />
<line x1="1958.2" y1="432.1" x2="1958.2" y2="435.6" stroke="#000" stroke-width="1.6" />
<text transform="translate(1026.0,386.3) rotate(-90) scale(0.812,1)" font-size="25.7" font-weight="bold" fill="#000" stroke="#000" stroke-width="0.50" >% SBS / Total</text>
<line x1="1029.7" y1="254.9" x2="1029.7" y2="385.9" stroke="#444" stroke-width="1.6" />
<text transform="translate(1083.8,254.8) scale(0.747,1)" font-size="31" font-weight="bold" fill="#ff0000" stroke="#ff0000" stroke-width="0.50" >Cluster 1</text>
<path stroke="#5a5a5a" stroke-width="3.4" stroke-linecap="round" d="M1092.0 400.5h0M1095.4 401.3h0M1088.6 401.3h0M1098.8 402.2h0"/>
<line x1="1086.8" y1="401.3" x2="1097.2" y2="401.3" stroke="#000" stroke-width="3" />
<path stroke="#5a5a5a" stroke-width="3.4" stroke-linecap="round" d="M1124.1 400.5h0M1127.5 401.3h0M1120.7 401.3h0M1130.9 402.2h0"/>
<line x1="1118.8" y1="401.3" x2="1129.3" y2="401.3" stroke="#000" stroke-width="3" />
<rect x="1148.7" y="404.8" width="14.9" height="3.4" rx="1.7" fill="#5a5a5a"/>
<line x1="1150.9" y1="406.5" x2="1161.4" y2="406.5" stroke="#000" stroke-width="3" />
<path stroke="#5a5a5a" stroke-width="3.4" stroke-linecap="round" d="M1188.2 402.2h0M1191.3 403.9h0M1187.6 405.6h0"/>
<line x1="1183.0" y1="403.9" x2="1193.5" y2="403.9" stroke="#000" stroke-width="3" />
<path stroke="#5a5a5a" stroke-width="3.4" stroke-linecap="round" d="M1220.3 265.3h0M1220.9 268.7h0M1220.3 275.6h0M1220.3 280.8h0"/>
<line x1="1220.3" y1="265.3" x2="1220.3" y2="279.1" stroke="#000" stroke-width="1.7" />
<line x1="1216.6" y1="265.3" x2="1224.1" y2="265.3" stroke="#000" stroke-width="1.5" />
<line x1="1216.6" y1="279.1" x2="1224.1" y2="279.1" stroke="#000" stroke-width="1.5" />
<line x1="1215.1" y1="272.2" x2="1225.6" y2="272.2" stroke="#000" stroke-width="3" />
<path stroke="#5a5a5a" stroke-width="3.4" stroke-linecap="round" d="M1252.4 267.0h0M1252.4 286.0h0M1252.4 311.8h0"/>
<line x1="1252.4" y1="265.3" x2="1252.4" y2="311.8" stroke="#000" stroke-width="1.7" />
<line x1="1248.7" y1="265.3" x2="1256.2" y2="265.3" stroke="#000" stroke-width="1.5" />
<line x1="1248.7" y1="311.8" x2="1256.2" y2="311.8" stroke="#000" stroke-width="1.5" />
<line x1="1247.2" y1="287.7" x2="1257.7" y2="287.7" stroke="#000" stroke-width="3" />
<path stroke="#5a5a5a" stroke-width="3.4" stroke-linecap="round" d="M1284.5 375.5h0M1287.5 377.2h0M1283.9 378.9h0"/>
<line x1="1284.5" y1="375.5" x2="1284.5" y2="378.9" stroke="#000" stroke-width="1.7" />
<line x1="1280.7" y1="375.5" x2="1288.2" y2="375.5" stroke="#000" stroke-width="1.5" />
<line x1="1280.7" y1="378.9" x2="1288.2" y2="378.9" stroke="#000" stroke-width="1.5" />
<line x1="1279.2" y1="377.2" x2="1289.7" y2="377.2" stroke="#000" stroke-width="3" />
<path stroke="#5a5a5a" stroke-width="3.4" stroke-linecap="round" d="M1316.6 371.2h0M1318.9 373.8h0M1315.9 375.5h0"/>
<line x1="1316.6" y1="372.1" x2="1316.6" y2="375.5" stroke="#000" stroke-width="1.7" />
<line x1="1312.8" y1="372.1" x2="1320.3" y2="372.1" stroke="#000" stroke-width="1.5" />
<line x1="1312.8" y1="375.5" x2="1320.3" y2="375.5" stroke="#000" stroke-width="1.5" />
<line x1="1311.3" y1="373.8" x2="1321.8" y2="373.8" stroke="#000" stroke-width="3" />
<rect x="1341.2" y="404.8" width="14.9" height="3.4" rx="1.7" fill="#5a5a5a"/>
<line x1="1343.4" y1="406.5" x2="1353.9" y2="406.5" stroke="#000" stroke-width="3" />
<rect x="1373.3" y="404.8" width="14.9" height="3.4" rx="1.7" fill="#5a5a5a"/>
<line x1="1375.5" y1="406.5" x2="1386.0" y2="406.5" stroke="#000" stroke-width="3" />
<rect x="1405.4" y="404.8" width="14.9" height="3.4" rx="1.7" fill="#5a5a5a"/>
<line x1="1407.5" y1="406.5" x2="1418.0" y2="406.5" stroke="#000" stroke-width="3" />
<rect x="1437.5" y="404.8" width="14.9" height="3.4" rx="1.7" fill="#5a5a5a"/>
<line x1="1439.6" y1="406.5" x2="1450.1" y2="406.5" stroke="#000" stroke-width="3" />
<path stroke="#5a5a5a" stroke-width="3.4" stroke-linecap="round" d="M1477.0 397.9h0M1477.0 403.1h0M1477.6 406.5h0"/>
<line x1="1477.0" y1="396.2" x2="1477.0" y2="408.2" stroke="#000" stroke-width="1.7" />
<line x1="1473.2" y1="396.2" x2="1480.7" y2="396.2" stroke="#000" stroke-width="1.5" />
<line x1="1473.2" y1="408.2" x2="1480.7" y2="408.2" stroke="#000" stroke-width="1.5" />
<line x1="1471.7" y1="402.2" x2="1482.2" y2="402.2" stroke="#000" stroke-width="3" />
<path stroke="#5a5a5a" stroke-width="3.4" stroke-linecap="round" d="M1509.0 396.2h0M1509.0 401.3h0M1509.7 404.8h0"/>
<line x1="1509.0" y1="396.2" x2="1509.0" y2="406.5" stroke="#000" stroke-width="1.7" />
<line x1="1505.3" y1="396.2" x2="1512.8" y2="396.2" stroke="#000" stroke-width="1.5" />
<line x1="1505.3" y1="406.5" x2="1512.8" y2="406.5" stroke="#000" stroke-width="1.5" />
<line x1="1503.8" y1="401.3" x2="1514.3" y2="401.3" stroke="#000" stroke-width="3" />
<rect x="1533.7" y="404.8" width="14.9" height="3.4" rx="1.7" fill="#5a5a5a"/>
<line x1="1535.9" y1="406.5" x2="1546.4" y2="406.5" stroke="#000" stroke-width="3" />
<rect x="1565.8" y="404.8" width="14.9" height="3.4" rx="1.7" fill="#5a5a5a"/>
<line x1="1568.0" y1="406.5" x2="1578.5" y2="406.5" stroke="#000" stroke-width="3" />
<rect x="1597.9" y="404.8" width="14.9" height="3.4" rx="1.7" fill="#5a5a5a"/>
<line x1="1600.0" y1="406.5" x2="1610.5" y2="406.5" stroke="#000" stroke-width="3" />
<rect x="1629.9" y="404.8" width="14.9" height="3.4" rx="1.7" fill="#5a5a5a"/>
<line x1="1632.1" y1="406.5" x2="1642.6" y2="406.5" stroke="#000" stroke-width="3" />
<rect x="1662.0" y="404.8" width="14.9" height="3.4" rx="1.7" fill="#5a5a5a"/>
<line x1="1664.2" y1="406.5" x2="1674.7" y2="406.5" stroke="#000" stroke-width="3" />
<rect x="1696.1" y="404.8" width="10.8" height="3.4" rx="1.7" fill="#5a5a5a"/>
<path stroke="#5a5a5a" stroke-width="3.4" stroke-linecap="round" d="M1701.5 377.2h0M1701.5 396.2h0"/>
<line x1="1701.5" y1="378.9" x2="1701.5" y2="413.4" stroke="#000" stroke-width="1.7" />
<line x1="1697.8" y1="378.9" x2="1705.3" y2="378.9" stroke="#000" stroke-width="1.5" />
<line x1="1697.8" y1="413.4" x2="1705.3" y2="413.4" stroke="#000" stroke-width="1.5" />
<line x1="1696.3" y1="396.2" x2="1706.8" y2="396.2" stroke="#000" stroke-width="3" />
<rect x="1726.2" y="404.8" width="14.9" height="3.4" rx="1.7" fill="#5a5a5a"/>
<line x1="1728.3" y1="406.5" x2="1738.8" y2="406.5" stroke="#000" stroke-width="3" />
<rect x="1758.3" y="404.8" width="14.9" height="3.4" rx="1.7" fill="#5a5a5a"/>
<line x1="1760.4" y1="406.5" x2="1770.9" y2="406.5" stroke="#000" stroke-width="3" />
<rect x="1790.3" y="404.8" width="14.9" height="3.4" rx="1.7" fill="#5a5a5a"/>
<line x1="1792.5" y1="406.5" x2="1803.0" y2="406.5" stroke="#000" stroke-width="3" />
<rect x="1822.4" y="404.8" width="14.9" height="3.4" rx="1.7" fill="#5a5a5a"/>
<line x1="1824.6" y1="406.5" x2="1835.1" y2="406.5" stroke="#000" stroke-width="3" />
<rect x="1854.5" y="404.8" width="14.9" height="3.4" rx="1.7" fill="#5a5a5a"/>
<line x1="1856.7" y1="406.5" x2="1867.2" y2="406.5" stroke="#000" stroke-width="3" />
<rect x="1886.6" y="404.8" width="14.9" height="3.4" rx="1.7" fill="#5a5a5a"/>
<line x1="1888.8" y1="406.5" x2="1899.2" y2="406.5" stroke="#000" stroke-width="3" />
<rect x="1918.7" y="404.8" width="14.9" height="3.4" rx="1.7" fill="#5a5a5a"/>
<line x1="1920.8" y1="406.5" x2="1931.3" y2="406.5" stroke="#000" stroke-width="3" />
<rect x="1950.7" y="404.8" width="14.9" height="3.4" rx="1.7" fill="#5a5a5a"/>
<line x1="1952.9" y1="406.5" x2="1963.4" y2="406.5" stroke="#000" stroke-width="3" />
<rect x="1140.1" y="435.1" width="63.8" height="212.9" fill="#e4e4e4" />
<rect x="1268.8" y="435.1" width="63.8" height="212.9" fill="#e4e4e4" />
<rect x="1397.5" y="435.1" width="63.8" height="212.9" fill="#e4e4e4" />
<rect x="1526.2" y="435.1" width="63.8" height="212.9" fill="#e4e4e4" />
<rect x="1654.9" y="435.1" width="63.8" height="212.9" fill="#e4e4e4" />
<rect x="1783.6" y="435.1" width="63.8" height="212.9" fill="#e4e4e4" />
<rect x="1912.3" y="435.1" width="63.8" height="212.9" fill="#e4e4e4" />
<line x1="1071.0" y1="443.0" x2="1071.0" y2="650.8" stroke="#000" stroke-width="1.8" />
<line x1="1070.1" y1="650.0" x2="1977.0" y2="650.0" stroke="#222" stroke-width="1.6" />
<line x1="1067.0" y1="624.4" x2="1071.0" y2="624.4" stroke="#000" stroke-width="1.4" />
<text transform="translate(1053.3,633.1) scale(0.750,1)" font-size="27" font-weight="bold" fill="#000" stroke="#000" stroke-width="0.50" >0</text>
<line x1="1067.0" y1="581.4" x2="1071.0" y2="581.4" stroke="#000" stroke-width="1.4" />
<text transform="translate(1041.7,590.1) scale(0.750,1)" font-size="27" font-weight="bold" fill="#000" stroke="#000" stroke-width="0.50" >25</text>
<line x1="1067.0" y1="538.3" x2="1071.0" y2="538.3" stroke="#000" stroke-width="1.4" />
<text transform="translate(1041.9,547.0) scale(0.750,1)" font-size="27" font-weight="bold" fill="#000" stroke="#000" stroke-width="0.50" >50</text>
<line x1="1067.0" y1="495.2" x2="1071.0" y2="495.2" stroke="#000" stroke-width="1.4" />
<text transform="translate(1041.7,503.9) scale(0.750,1)" font-size="27" font-weight="bold" fill="#000" stroke="#000" stroke-width="0.50" >75</text>
<line x1="1067.0" y1="452.2" x2="1071.0" y2="452.2" stroke="#000" stroke-width="1.4" />
<text transform="translate(1030.8,460.9) scale(0.750,1)" font-size="27" font-weight="bold" fill="#000" stroke="#000" stroke-width="0.50" >100</text>
<line x1="1092.0" y1="650.0" x2="1092.0" y2="653.5" stroke="#000" stroke-width="1.6" />
<line x1="1124.1" y1="650.0" x2="1124.1" y2="653.5" stroke="#000" stroke-width="1.6" />
<line x1="1156.2" y1="650.0" x2="1156.2" y2="653.5" stroke="#000" stroke-width="1.6" />
<line x1="1188.2" y1="650.0" x2="1188.2" y2="653.5" stroke="#000" stroke-width="1.6" />
<line x1="1220.3" y1="650.0" x2="1220.3" y2="653.5" stroke="#000" stroke-width="1.6" />
<line x1="1252.4" y1="650.0" x2="1252.4" y2="653.5" stroke="#000" stroke-width="1.6" />
<line x1="1284.5" y1="650.0" x2="1284.5" y2="653.5" stroke="#000" stroke-width="1.6" />
<line x1="1316.6" y1="650.0" x2="1316.6" y2="653.5" stroke="#000" stroke-width="1.6" />
<line x1="1348.6" y1="650.0" x2="1348.6" y2="653.5" stroke="#000" stroke-width="1.6" />
<line x1="1380.7" y1="650.0" x2="1380.7" y2="653.5" stroke="#000" stroke-width="1.6" />
<line x1="1412.8" y1="650.0" x2="1412.8" y2="653.5" stroke="#000" stroke-width="1.6" />
<line x1="1444.9" y1="650.0" x2="1444.9" y2="653.5" stroke="#000" stroke-width="1.6" />
<line x1="1477.0" y1="650.0" x2="1477.0" y2="653.5" stroke="#000" stroke-width="1.6" />
<line x1="1509.0" y1="650.0" x2="1509.0" y2="653.5" stroke="#000" stroke-width="1.6" />
<line x1="1541.1" y1="650.0" x2="1541.1" y2="653.5" stroke="#000" stroke-width="1.6" />
<line x1="1573.2" y1="650.0" x2="1573.2" y2="653.5" stroke="#000" stroke-width="1.6" />
<line x1="1605.3" y1="650.0" x2="1605.3" y2="653.5" stroke="#000" stroke-width="1.6" />
<line x1="1637.4" y1="650.0" x2="1637.4" y2="653.5" stroke="#000" stroke-width="1.6" />
<line x1="1669.4" y1="650.0" x2="1669.4" y2="653.5" stroke="#000" stroke-width="1.6" />
<line x1="1701.5" y1="650.0" x2="1701.5" y2="653.5" stroke="#000" stroke-width="1.6" />
<line x1="1733.6" y1="650.0" x2="1733.6" y2="653.5" stroke="#000" stroke-width="1.6" />
<line x1="1765.7" y1="650.0" x2="1765.7" y2="653.5" stroke="#000" stroke-width="1.6" />
<line x1="1797.8" y1="650.0" x2="1797.8" y2="653.5" stroke="#000" stroke-width="1.6" />
<line x1="1829.8" y1="650.0" x2="1829.8" y2="653.5" stroke="#000" stroke-width="1.6" />
<line x1="1861.9" y1="650.0" x2="1861.9" y2="653.5" stroke="#000" stroke-width="1.6" />
<line x1="1894.0" y1="650.0" x2="1894.0" y2="653.5" stroke="#000" stroke-width="1.6" />
<line x1="1926.1" y1="650.0" x2="1926.1" y2="653.5" stroke="#000" stroke-width="1.6" />
<line x1="1958.2" y1="650.0" x2="1958.2" y2="653.5" stroke="#000" stroke-width="1.6" />
<text transform="translate(1026.0,604.2) rotate(-90) scale(0.812,1)" font-size="25.7" font-weight="bold" fill="#000" stroke="#000" stroke-width="0.50" >% SBS / Total</text>
<line x1="1029.7" y1="472.8" x2="1029.7" y2="603.8" stroke="#444" stroke-width="1.6" />
<text transform="translate(1083.8,472.4) scale(0.749,1)" font-size="31" font-weight="bold" fill="#0028ff" stroke="#0028ff" stroke-width="0.50" >Cluster 2</text>
<path stroke="#5a5a5a" stroke-width="3.4" stroke-linecap="round" d="M1092.0 612.5h0M1095.5 612.7h0M1088.7 613.6h0M1085.2 613.7h0M1098.8 613.7h0M1081.7 614.2h0M1102.1 615.1h0M1105.6 615.2h0M1093.3 615.7h0M1078.7 616.0h0M1075.2 616.0h0M1096.6 616.9h0M1090.1 617.3h0M1086.6 617.3h0"/>
<line x1="1086.8" y1="614.9" x2="1097.2" y2="614.9" stroke="#000" stroke-width="3" />
<path stroke="#5a5a5a" stroke-width="3.4" stroke-linecap="round" d="M1124.1 608.9h0M1127.5 609.9h0M1120.7 609.9h0M1124.1 612.5h0M1127.4 613.5h0M1121.0 614.1h0M1117.5 614.6h0M1130.5 615.2h0M1124.1 616.1h0M1114.6 616.5h0M1133.5 617.0h0M1127.4 617.1h0M1120.2 617.5h0M1111.3 617.6h0"/>
<line x1="1118.8" y1="614.9" x2="1129.3" y2="614.9" stroke="#000" stroke-width="3" />
<rect x="1142.7" y="622.7" width="27.0" height="3.4" rx="1.7" fill="#5a5a5a"/>
<path stroke="#5a5a5a" stroke-width="3.4" stroke-linecap="round" d="M1156.2 613.9h0M1156.2 617.4h0M1159.4 618.7h0M1153.0 619.0h0M1149.6 619.7h0M1162.4 620.5h0M1156.2 621.3h0M1165.8 621.3h0"/>
<line x1="1156.2" y1="614.1" x2="1156.2" y2="624.4" stroke="#000" stroke-width="1.7" />
<line x1="1152.4" y1="614.1" x2="1159.9" y2="614.1" stroke="#000" stroke-width="1.5" />
<line x1="1152.4" y1="624.4" x2="1159.9" y2="624.4" stroke="#000" stroke-width="1.5" />
<line x1="1150.9" y1="619.2" x2="1161.4" y2="619.2" stroke="#000" stroke-width="3" />
<rect x="1174.7" y="622.7" width="27.0" height="3.4" rx="1.7" fill="#5a5a5a"/>
<path stroke="#5a5a5a" stroke-width="3.4" stroke-linecap="round" d="M1188.2 612.0h0M1191.3 613.6h0M1188.2 616.4h0M1191.5 617.7h0M1185.0 617.7h0"/>
<line x1="1188.2" y1="617.5" x2="1188.2" y2="626.1" stroke="#000" stroke-width="1.7" />
<line x1="1184.5" y1="617.5" x2="1192.0" y2="617.5" stroke="#000" stroke-width="1.5" />
<line x1="1184.5" y1="626.1" x2="1192.0" y2="626.1" stroke="#000" stroke-width="1.5" />
<line x1="1183.0" y1="621.8" x2="1193.5" y2="621.8" stroke="#000" stroke-width="3" />
<path stroke="#5a5a5a" stroke-width="3.4" stroke-linecap="round" d="M1220.3 495.8h0M1223.3 497.6h0M1220.3 504.9h0M1223.7 505.6h0M1217.2 506.5h0M1220.3 514.2h0M1220.3 517.7h0M1220.3 522.6h0M1223.2 524.7h0M1220.1 526.3h0M1216.7 527.2h0M1222.7 528.6h0M1220.3 531.2h0M1216.8 531.5h0M1223.5 532.5h0M1214.4 534.0h0M1220.3 539.1h0M1220.3 544.0h0M1221.7 547.2h0M1218.5 548.7h0"/>
<line x1="1220.3" y1="500.4" x2="1220.3" y2="546.9" stroke="#000" stroke-width="1.7" />
<line x1="1216.6" y1="500.4" x2="1224.1" y2="500.4" stroke="#000" stroke-width="1.5" />
<line x1="1216.6" y1="546.9" x2="1224.1" y2="546.9" stroke="#000" stroke-width="1.5" />
<line x1="1215.1" y1="524.5" x2="1225.6" y2="524.5" stroke="#000" stroke-width="3" />
<rect x="1245.7" y="622.7" width="13.5" height="3.4" rx="1.7" fill="#5a5a5a"/>
<path stroke="#5a5a5a" stroke-width="3.4" stroke-linecap="round" d="M1252.4 491.9h0M1255.3 493.9h0M1250.6 494.9h0M1253.4 496.9h0M1251.1 499.5h0M1254.0 501.5h0M1252.4 508.3h0M1254.7 510.9h0M1252.4 517.1h0M1252.4 521.3h0M1253.8 524.6h0M1252.4 529.9h0M1252.4 539.3h0M1252.4 545.4h0M1254.3 548.4h0M1252.4 555.5h0"/>
<line x1="1252.4" y1="502.1" x2="1252.4" y2="603.7" stroke="#000" stroke-width="1.7" />
<line x1="1248.7" y1="502.1" x2="1256.2" y2="502.1" stroke="#000" stroke-width="1.5" />
<line x1="1248.7" y1="603.7" x2="1256.2" y2="603.7" stroke="#000" stroke-width="1.5" />
<line x1="1247.2" y1="552.1" x2="1257.7" y2="552.1" stroke="#000" stroke-width="3" />
<path stroke="#5a5a5a" stroke-width="3.4" stroke-linecap="round" d="M1284.5 580.7h0M1284.5 588.0h0M1287.9 588.8h0M1283.3 591.3h0M1286.3 593.1h0M1280.4 593.2h0M1289.8 593.5h0M1283.5 595.2h0M1278.6 596.2h0M1286.6 597.0h0M1283.6 598.9h0M1286.5 600.9h0M1284.3 603.6h0M1287.2 605.5h0M1281.9 606.2h0M1278.4 606.6h0M1284.5 610.9h0M1287.9 611.8h0M1284.8 614.4h0M1282.3 616.9h0"/>
<line x1="1284.5" y1="583.1" x2="1284.5" y2="612.3" stroke="#000" stroke-width="1.7" />
<line x1="1280.7" y1="583.1" x2="1288.2" y2="583.1" stroke="#000" stroke-width="1.5" />
<line x1="1280.7" y1="612.3" x2="1288.2" y2="612.3" stroke="#000" stroke-width="1.5" />
<line x1="1279.2" y1="598.6" x2="1289.7" y2="598.6" stroke="#000" stroke-width="3" />
<path stroke="#5a5a5a" stroke-width="3.4" stroke-linecap="round" d="M1316.6 527.0h0M1320.0 527.3h0M1316.6 532.5h0M1316.6 537.5h0M1316.6 552.3h0M1319.4 554.3h0M1314.1 554.8h0M1310.9 556.2h0M1316.6 558.8h0M1316.6 564.4h0M1319.9 565.6h0M1313.6 566.3h0M1316.6 568.3h0M1316.6 573.5h0M1320.1 573.7h0M1313.8 575.7h0M1322.6 576.1h0M1310.4 576.6h0M1316.6 590.7h0M1319.5 592.6h0"/>
<line x1="1316.6" y1="548.6" x2="1316.6" y2="596.8" stroke="#000" stroke-width="1.7" />
<line x1="1312.8" y1="548.6" x2="1320.3" y2="548.6" stroke="#000" stroke-width="1.5" />
<line x1="1312.8" y1="596.8" x2="1320.3" y2="596.8" stroke="#000" stroke-width="1.5" />
<line x1="1311.3" y1="572.7" x2="1321.8" y2="572.7" stroke="#000" stroke-width="3" />
<rect x="1335.1" y="622.7" width="27.0" height="3.4" rx="1.7" fill="#5a5a5a"/>
<line x1="1343.4" y1="624.4" x2="1353.9" y2="624.4" stroke="#000" stroke-width="3" />
<rect x="1367.2" y="622.7" width="27.0" height="3.4" rx="1.7" fill="#5a5a5a"/>
<line x1="1375.5" y1="624.4" x2="1386.0" y2="624.4" stroke="#000" stroke-width="3" />
<rect x="1399.3" y="622.7" width="27.0" height="3.4" rx="1.7" fill="#5a5a5a"/>
<path stroke="#5a5a5a" stroke-width="3.4" stroke-linecap="round" d="M1412.8 579.6h0M1413.4 583.1h0"/>
<line x1="1412.8" y1="607.2" x2="1412.8" y2="633.0" stroke="#000" stroke-width="1.7" />
<line x1="1409.0" y1="607.2" x2="1416.5" y2="607.2" stroke="#000" stroke-width="1.5" />
<line x1="1409.0" y1="633.0" x2="1416.5" y2="633.0" stroke="#000" stroke-width="1.5" />
<line x1="1407.5" y1="621.0" x2="1418.0" y2="621.0" stroke="#000" stroke-width="3" />
<rect x="1438.1" y="622.7" width="13.5" height="3.4" rx="1.7" fill="#5a5a5a"/>
<path stroke="#5a5a5a" stroke-width="3.4" stroke-linecap="round" d="M1444.9 570.9h0M1444.9 580.6h0M1448.2 581.6h0M1442.5 583.2h0M1439.1 584.0h0M1444.9 586.0h0M1444.9 591.5h0M1447.6 593.7h0M1444.9 596.0h0M1441.5 596.8h0M1445.6 599.5h0M1449.1 599.6h0M1439.6 599.8h0M1452.5 600.4h0M1436.2 600.7h0M1444.9 609.5h0"/>
<line x1="1444.9" y1="577.9" x2="1444.9" y2="615.8" stroke="#000" stroke-width="1.7" />
<line x1="1441.1" y1="577.9" x2="1448.6" y2="577.9" stroke="#000" stroke-width="1.5" />
<line x1="1441.1" y1="615.8" x2="1448.6" y2="615.8" stroke="#000" stroke-width="1.5" />
<line x1="1439.6" y1="596.8" x2="1450.1" y2="596.8" stroke="#000" stroke-width="3" />
<rect x="1463.5" y="622.7" width="27.0" height="3.4" rx="1.7" fill="#5a5a5a"/>
<path stroke="#5a5a5a" stroke-width="3.4" stroke-linecap="round" d="M1477.0 583.1h0M1477.0 604.6h0M1480.5 604.7h0M1477.0 610.1h0M1478.4 613.3h0M1475.2 614.8h0M1477.8 617.1h0M1474.6 618.4h0M1480.7 619.1h0"/>
<line x1="1477.0" y1="607.2" x2="1477.0" y2="624.4" stroke="#000" stroke-width="1.7" />
<line x1="1473.2" y1="607.2" x2="1480.7" y2="607.2" stroke="#000" stroke-width="1.5" />
<line x1="1473.2" y1="624.4" x2="1480.7" y2="624.4" stroke="#000" stroke-width="1.5" />
<line x1="1471.7" y1="615.8" x2="1482.2" y2="615.8" stroke="#000" stroke-width="3" />
<rect x="1495.5" y="622.7" width="27.0" height="3.4" rx="1.7" fill="#5a5a5a"/>
<path stroke="#5a5a5a" stroke-width="3.4" stroke-linecap="round" d="M1509.0 586.5h0M1509.0 610.9h0M1509.0 617.9h0M1511.8 620.1h0M1507.2 620.9h0M1503.7 621.0h0M1514.7 622.1h0"/>
<line x1="1509.0" y1="610.6" x2="1509.0" y2="626.1" stroke="#000" stroke-width="1.7" />
<line x1="1505.3" y1="610.6" x2="1512.8" y2="610.6" stroke="#000" stroke-width="1.5" />
<line x1="1505.3" y1="626.1" x2="1512.8" y2="626.1" stroke="#000" stroke-width="1.5" />
<line x1="1503.8" y1="619.2" x2="1514.3" y2="619.2" stroke="#000" stroke-width="3" />
<rect x="1527.6" y="622.7" width="27.0" height="3.4" rx="1.7" fill="#5a5a5a"/>
<line x1="1535.9" y1="624.4" x2="1546.4" y2="624.4" stroke="#000" stroke-width="3" />
<rect x="1559.7" y="622.7" width="27.0" height="3.4" rx="1.7" fill="#5a5a5a"/>
<line x1="1568.0" y1="624.4" x2="1578.5" y2="624.4" stroke="#000" stroke-width="3" />
<rect x="1591.8" y="622.7" width="27.0" height="3.4" rx="1.7" fill="#5a5a5a"/>
<line x1="1600.0" y1="624.4" x2="1610.5" y2="624.4" stroke="#000" stroke-width="3" />
<rect x="1623.9" y="622.7" width="27.0" height="3.4" rx="1.7" fill="#5a5a5a"/>
<line x1="1632.1" y1="624.4" x2="1642.6" y2="624.4" stroke="#000" stroke-width="3" />
<rect x="1655.9" y="622.7" width="27.0" height="3.4" rx="1.7" fill="#5a5a5a"/>
<line x1="1664.2" y1="624.4" x2="1674.7" y2="624.4" stroke="#000" stroke-width="3" />
<rect x="1688.0" y="622.7" width="27.0" height="3.4" rx="1.7" fill="#5a5a5a"/>
<line x1="1696.3" y1="624.4" x2="1706.8" y2="624.4" stroke="#000" stroke-width="3" />
<rect x="1720.1" y="622.7" width="27.0" height="3.4" rx="1.7" fill="#5a5a5a"/>
<line x1="1728.3" y1="624.4" x2="1738.8" y2="624.4" stroke="#000" stroke-width="3" />
<rect x="1752.2" y="622.7" width="27.0" height="3.4" rx="1.7" fill="#5a5a5a"/>
<line x1="1760.4" y1="624.4" x2="1770.9" y2="624.4" stroke="#000" stroke-width="3" />
<rect x="1784.3" y="622.7" width="27.0" height="3.4" rx="1.7" fill="#5a5a5a"/>
<line x1="1792.5" y1="624.4" x2="1803.0" y2="624.4" stroke="#000" stroke-width="3" />
<rect x="1816.3" y="622.7" width="27.0" height="3.4" rx="1.7" fill="#5a5a5a"/>
<path stroke="#5a5a5a" stroke-width="3.4" stroke-linecap="round" d="M1829.8 581.4h0M1829.8 598.6h0"/>
<line x1="1829.8" y1="608.9" x2="1829.8" y2="633.0" stroke="#000" stroke-width="1.7" />
<line x1="1826.1" y1="608.9" x2="1833.6" y2="608.9" stroke="#000" stroke-width="1.5" />
<line x1="1826.1" y1="633.0" x2="1833.6" y2="633.0" stroke="#000" stroke-width="1.5" />
<line x1="1824.6" y1="621.0" x2="1835.1" y2="621.0" stroke="#000" stroke-width="3" />
<rect x="1848.4" y="622.7" width="27.0" height="3.4" rx="1.7" fill="#5a5a5a"/>
<path stroke="#5a5a5a" stroke-width="3.4" stroke-linecap="round" d="M1861.9 546.9h0M1865.0 548.6h0M1861.9 552.1h0M1862.5 555.5h0"/>
<line x1="1861.9" y1="571.0" x2="1861.9" y2="638.2" stroke="#000" stroke-width="1.7" />
<line x1="1858.2" y1="571.0" x2="1865.7" y2="571.0" stroke="#000" stroke-width="1.5" />
<line x1="1858.2" y1="638.2" x2="1865.7" y2="638.2" stroke="#000" stroke-width="1.5" />
<line x1="1856.7" y1="605.5" x2="1867.2" y2="605.5" stroke="#000" stroke-width="3" />
<rect x="1880.5" y="622.7" width="27.0" height="3.4" rx="1.7" fill="#5a5a5a"/>
<line x1="1888.8" y1="624.4" x2="1899.2" y2="624.4" stroke="#000" stroke-width="3" />
<rect x="1912.6" y="622.7" width="27.0" height="3.4" rx="1.7" fill="#5a5a5a"/>
<line x1="1920.8" y1="624.4" x2="1931.3" y2="624.4" stroke="#000" stroke-width="3" />
<rect x="1944.7" y="622.7" width="27.0" height="3.4" rx="1.7" fill="#5a5a5a"/>
<line x1="1952.9" y1="624.4" x2="1963.4" y2="624.4" stroke="#000" stroke-width="3" />
<polyline points="1220.3,476.3 1220.3,476.3 1252.4,476.3 1252.4,486.6" stroke="#ff0000" stroke-width="2.0" fill="none" />
<text transform="translate(1206.0,472.4) scale(0.736,1)" font-size="23" font-weight="bold" fill="#ff0000" stroke="#ff0000" stroke-width="0.45"><tspan font-style="italic">P</tspan> = 3.89 <tspan font-weight="normal" font-size="28.8" stroke-width="0" dy="1.8">×</tspan><tspan dy="-1.8"> 10</tspan><tspan font-size="14.3" dy="-8.3">-2</tspan></text>
<polyline points="1284.5,563.1 1284.5,511.1 1316.6,511.1 1316.6,514.2" stroke="#0028ff" stroke-width="2.0" fill="none" />
<text transform="translate(1269.5,506.3) scale(0.746,1)" font-size="23" font-weight="bold" fill="#0028ff" stroke="#0028ff" stroke-width="0.45"><tspan font-style="italic">P</tspan> = 7.90 <tspan font-weight="normal" font-size="28.8" stroke-width="0" dy="1.8">×</tspan><tspan dy="-1.8"> 10</tspan><tspan font-size="14.3" dy="-8.3">-4</tspan></text>
<polyline points="1412.8,576.2 1412.8,557.2 1444.9,557.2 1444.9,560.7" stroke="#0028ff" stroke-width="2.0" fill="none" />
<text transform="translate(1398.4,551.6) scale(0.736,1)" font-size="23" font-weight="bold" fill="#0028ff" stroke="#0028ff" stroke-width="0.45"><tspan font-style="italic">P</tspan> = 2.35 <tspan font-weight="normal" font-size="28.8" stroke-width="0" dy="1.8">×</tspan><tspan dy="-1.8"> 10</tspan><tspan font-size="14.3" dy="-8.3">-4</tspan></text>
<polyline points="1861.9,539.3 1861.9,539.3 1894.0,539.3 1894.0,616.8" stroke="#ff0000" stroke-width="2.0" fill="none" />
<text transform="translate(1847.9,535.7) scale(0.736,1)" font-size="23" font-weight="bold" fill="#ff0000" stroke="#ff0000" stroke-width="0.45"><tspan font-style="italic">P</tspan> = 2.08 <tspan font-weight="normal" font-size="28.8" stroke-width="0" dy="1.8">×</tspan><tspan dy="-1.8"> 10</tspan><tspan font-size="14.3" dy="-8.3">-2</tspan></text>
<rect x="1140.1" y="653.0" width="63.8" height="212.9" fill="#e4e4e4" />
<rect x="1268.8" y="653.0" width="63.8" height="212.9" fill="#e4e4e4" />
<rect x="1397.5" y="653.0" width="63.8" height="212.9" fill="#e4e4e4" />
<rect x="1526.2" y="653.0" width="63.8" height="212.9" fill="#e4e4e4" />
<rect x="1654.9" y="653.0" width="63.8" height="212.9" fill="#e4e4e4" />
<rect x="1783.6" y="653.0" width="63.8" height="212.9" fill="#e4e4e4" />
<rect x="1912.3" y="653.0" width="63.8" height="212.9" fill="#e4e4e4" />
<line x1="1071.0" y1="660.9" x2="1071.0" y2="868.7" stroke="#000" stroke-width="1.8" />
<line x1="1070.1" y1="867.9" x2="1977.0" y2="867.9" stroke="#222" stroke-width="1.6" />
<line x1="1067.0" y1="842.3" x2="1071.0" y2="842.3" stroke="#000" stroke-width="1.4" />
<text transform="translate(1053.3,851.0) scale(0.750,1)" font-size="27" font-weight="bold" fill="#000" stroke="#000" stroke-width="0.50" >0</text>
<line x1="1067.0" y1="799.3" x2="1071.0" y2="799.3" stroke="#000" stroke-width="1.4" />
<text transform="translate(1041.7,808.0) scale(0.750,1)" font-size="27" font-weight="bold" fill="#000" stroke="#000" stroke-width="0.50" >25</text>
<line x1="1067.0" y1="756.2" x2="1071.0" y2="756.2" stroke="#000" stroke-width="1.4" />
<text transform="translate(1041.9,764.9) scale(0.750,1)" font-size="27" font-weight="bold" fill="#000" stroke="#000" stroke-width="0.50" >50</text>
<line x1="1067.0" y1="713.2" x2="1071.0" y2="713.2" stroke="#000" stroke-width="1.4" />
<text transform="translate(1041.7,721.9) scale(0.750,1)" font-size="27" font-weight="bold" fill="#000" stroke="#000" stroke-width="0.50" >75</text>
<line x1="1067.0" y1="670.1" x2="1071.0" y2="670.1" stroke="#000" stroke-width="1.4" />
<text transform="translate(1030.8,678.8) scale(0.750,1)" font-size="27" font-weight="bold" fill="#000" stroke="#000" stroke-width="0.50" >100</text>
<line x1="1092.0" y1="867.9" x2="1092.0" y2="871.4" stroke="#000" stroke-width="1.6" />
<line x1="1124.1" y1="867.9" x2="1124.1" y2="871.4" stroke="#000" stroke-width="1.6" />
<line x1="1156.2" y1="867.9" x2="1156.2" y2="871.4" stroke="#000" stroke-width="1.6" />
<line x1="1188.2" y1="867.9" x2="1188.2" y2="871.4" stroke="#000" stroke-width="1.6" />
<line x1="1220.3" y1="867.9" x2="1220.3" y2="871.4" stroke="#000" stroke-width="1.6" />
<line x1="1252.4" y1="867.9" x2="1252.4" y2="871.4" stroke="#000" stroke-width="1.6" />
<line x1="1284.5" y1="867.9" x2="1284.5" y2="871.4" stroke="#000" stroke-width="1.6" />
<line x1="1316.6" y1="867.9" x2="1316.6" y2="871.4" stroke="#000" stroke-width="1.6" />
<line x1="1348.6" y1="867.9" x2="1348.6" y2="871.4" stroke="#000" stroke-width="1.6" />
<line x1="1380.7" y1="867.9" x2="1380.7" y2="871.4" stroke="#000" stroke-width="1.6" />
<line x1="1412.8" y1="867.9" x2="1412.8" y2="871.4" stroke="#000" stroke-width="1.6" />
<line x1="1444.9" y1="867.9" x2="1444.9" y2="871.4" stroke="#000" stroke-width="1.6" />
<line x1="1477.0" y1="867.9" x2="1477.0" y2="871.4" stroke="#000" stroke-width="1.6" />
<line x1="1509.0" y1="867.9" x2="1509.0" y2="871.4" stroke="#000" stroke-width="1.6" />
<line x1="1541.1" y1="867.9" x2="1541.1" y2="871.4" stroke="#000" stroke-width="1.6" />
<line x1="1573.2" y1="867.9" x2="1573.2" y2="871.4" stroke="#000" stroke-width="1.6" />
<line x1="1605.3" y1="867.9" x2="1605.3" y2="871.4" stroke="#000" stroke-width="1.6" />
<line x1="1637.4" y1="867.9" x2="1637.4" y2="871.4" stroke="#000" stroke-width="1.6" />
<line x1="1669.4" y1="867.9" x2="1669.4" y2="871.4" stroke="#000" stroke-width="1.6" />
<line x1="1701.5" y1="867.9" x2="1701.5" y2="871.4" stroke="#000" stroke-width="1.6" />
<line x1="1733.6" y1="867.9" x2="1733.6" y2="871.4" stroke="#000" stroke-width="1.6" />
<line x1="1765.7" y1="867.9" x2="1765.7" y2="871.4" stroke="#000" stroke-width="1.6" />
<line x1="1797.8" y1="867.9" x2="1797.8" y2="871.4" stroke="#000" stroke-width="1.6" />
<line x1="1829.8" y1="867.9" x2="1829.8" y2="871.4" stroke="#000" stroke-width="1.6" />
<line x1="1861.9" y1="867.9" x2="1861.9" y2="871.4" stroke="#000" stroke-width="1.6" />
<line x1="1894.0" y1="867.9" x2="1894.0" y2="871.4" stroke="#000" stroke-width="1.6" />
<line x1="1926.1" y1="867.9" x2="1926.1" y2="871.4" stroke="#000" stroke-width="1.6" />
<line x1="1958.2" y1="867.9" x2="1958.2" y2="871.4" stroke="#000" stroke-width="1.6" />
<text transform="translate(1026.0,822.1) rotate(-90) scale(0.812,1)" font-size="25.7" font-weight="bold" fill="#000" stroke="#000" stroke-width="0.50" >% SBS / Total</text>
<line x1="1029.7" y1="690.7" x2="1029.7" y2="821.7" stroke="#444" stroke-width="1.6" />
<text transform="translate(1083.8,690.0) scale(0.749,1)" font-size="31" font-weight="bold" fill="#ff8c00" stroke="#ff8c00" stroke-width="0.50" >Cluster 3</text>
<path stroke="#5a5a5a" stroke-width="3.4" stroke-linecap="round" d="M1092.0 817.2h0M1094.8 819.2h0M1089.4 819.6h0M1086.0 820.2h0M1098.2 820.3h0M1082.6 821.1h0M1101.5 821.5h0M1092.0 823.8h0M1095.5 824.0h0M1088.7 824.9h0M1092.0 828.0h0M1095.5 828.1h0M1087.4 828.2h0M1099.0 828.4h0M1083.9 828.5h0M1102.5 828.7h0M1080.4 828.7h0M1105.9 829.4h0M1077.4 830.5h0M1090.0 830.8h0M1093.5 831.1h0M1096.9 832.0h0M1087.8 833.6h0M1092.0 834.5h0M1095.0 836.4h0"/>
<line x1="1092.0" y1="819.9" x2="1092.0" y2="833.7" stroke="#000" stroke-width="1.7" />
<line x1="1088.2" y1="819.9" x2="1095.8" y2="819.9" stroke="#000" stroke-width="1.5" />
<line x1="1088.2" y1="833.7" x2="1095.8" y2="833.7" stroke="#000" stroke-width="1.5" />
<line x1="1086.8" y1="826.8" x2="1097.2" y2="826.8" stroke="#000" stroke-width="3" />
<path stroke="#5a5a5a" stroke-width="3.4" stroke-linecap="round" d="M1124.1 814.1h0M1127.2 815.7h0M1121.0 815.8h0M1117.6 816.5h0M1130.6 816.6h0M1124.1 818.8h0M1114.9 818.8h0M1133.0 819.0h0M1127.3 820.1h0M1121.1 820.5h0M1124.1 823.1h0M1126.7 825.4h0M1122.2 826.0h0M1118.7 826.3h0M1129.9 826.8h0M1115.2 827.0h0M1133.4 827.3h0M1124.8 828.3h0M1112.1 828.6h0M1121.6 829.7h0M1124.1 832.9h0M1127.5 833.4h0M1120.7 833.7h0M1117.2 834.0h0M1131.0 834.2h0"/>
<line x1="1124.1" y1="819.9" x2="1124.1" y2="833.7" stroke="#000" stroke-width="1.7" />
<line x1="1120.3" y1="819.9" x2="1127.8" y2="819.9" stroke="#000" stroke-width="1.5" />
<line x1="1120.3" y1="833.7" x2="1127.8" y2="833.7" stroke="#000" stroke-width="1.5" />
<line x1="1118.8" y1="826.8" x2="1129.3" y2="826.8" stroke="#000" stroke-width="3" />
<rect x="1142.7" y="840.6" width="27.0" height="3.4" rx="1.7" fill="#5a5a5a"/>
<path stroke="#5a5a5a" stroke-width="3.4" stroke-linecap="round" d="M1156.2 809.6h0M1156.2 820.1h0M1156.2 823.7h0M1159.5 824.5h0M1154.0 826.4h0M1156.2 833.5h0M1159.5 834.4h0M1152.9 834.7h0M1156.2 840.5h0"/>
<line x1="1156.2" y1="828.5" x2="1156.2" y2="842.3" stroke="#000" stroke-width="1.7" />
<line x1="1152.4" y1="828.5" x2="1159.9" y2="828.5" stroke="#000" stroke-width="1.5" />
<line x1="1152.4" y1="842.3" x2="1159.9" y2="842.3" stroke="#000" stroke-width="1.5" />
<line x1="1150.9" y1="837.1" x2="1161.4" y2="837.1" stroke="#000" stroke-width="3" />
<rect x="1174.7" y="840.6" width="27.0" height="3.4" rx="1.7" fill="#5a5a5a"/>
<path stroke="#5a5a5a" stroke-width="3.4" stroke-linecap="round" d="M1188.2 819.9h0M1188.2 827.4h0M1191.7 827.4h0M1184.7 827.6h0M1188.2 834.0h0M1189.3 837.4h0M1187.4 840.2h0"/>
<line x1="1188.2" y1="833.7" x2="1188.2" y2="842.3" stroke="#000" stroke-width="1.7" />
<line x1="1184.5" y1="833.7" x2="1192.0" y2="833.7" stroke="#000" stroke-width="1.5" />
<line x1="1184.5" y1="842.3" x2="1192.0" y2="842.3" stroke="#000" stroke-width="1.5" />
<line x1="1183.0" y1="838.9" x2="1193.5" y2="838.9" stroke="#000" stroke-width="3" />
<rect x="1206.8" y="840.6" width="27.0" height="3.4" rx="1.7" fill="#5a5a5a"/>
<line x1="1215.1" y1="842.3" x2="1225.6" y2="842.3" stroke="#000" stroke-width="3" />
<rect x="1238.9" y="840.6" width="27.0" height="3.4" rx="1.7" fill="#5a5a5a"/>
<path stroke="#5a5a5a" stroke-width="3.4" stroke-linecap="round" d="M1252.4 750.1h0M1252.4 754.4h0M1255.1 756.6h0M1252.4 765.0h0M1255.1 767.2h0M1252.0 768.7h0M1252.4 773.4h0M1255.0 775.7h0"/>
<line x1="1252.4" y1="792.4" x2="1252.4" y2="856.1" stroke="#000" stroke-width="1.7" />
<line x1="1248.7" y1="792.4" x2="1256.2" y2="792.4" stroke="#000" stroke-width="1.5" />
<line x1="1248.7" y1="856.1" x2="1256.2" y2="856.1" stroke="#000" stroke-width="1.5" />
<line x1="1247.2" y1="825.1" x2="1257.7" y2="825.1" stroke="#000" stroke-width="3" />
<rect x="1277.7" y="840.6" width="13.5" height="3.4" rx="1.7" fill="#5a5a5a"/>
<path stroke="#5a5a5a" stroke-width="3.4" stroke-linecap="round" d="M1284.5 748.3h0M1286.9 750.8h0M1284.5 767.8h0M1284.5 774.5h0M1284.5 778.3h0M1287.9 779.2h0M1282.1 780.9h0M1284.5 784.4h0M1284.5 791.8h0M1284.5 795.4h0M1285.6 798.7h0M1283.8 801.7h0M1284.5 806.4h0M1287.5 808.1h0M1281.5 808.3h0M1278.0 808.6h0M1284.5 811.6h0M1287.8 812.6h0M1281.5 813.4h0M1284.5 815.8h0M1284.5 823.8h0M1287.8 825.0h0M1281.5 825.5h0M1290.5 827.1h0M1284.5 831.3h0"/>
<line x1="1284.5" y1="773.4" x2="1284.5" y2="842.3" stroke="#000" stroke-width="1.7" />
<line x1="1280.7" y1="773.4" x2="1288.2" y2="773.4" stroke="#000" stroke-width="1.5" />
<line x1="1280.7" y1="842.3" x2="1288.2" y2="842.3" stroke="#000" stroke-width="1.5" />
<line x1="1279.2" y1="806.1" x2="1289.7" y2="806.1" stroke="#000" stroke-width="3" />
<path stroke="#5a5a5a" stroke-width="3.4" stroke-linecap="round" d="M1316.6 733.9h0M1320.0 734.2h0M1316.6 744.2h0M1319.4 746.3h0M1314.0 746.6h0M1310.9 748.2h0M1316.6 750.8h0M1320.0 751.2h0M1314.5 753.6h0M1311.0 754.0h0M1317.9 754.4h0M1321.2 755.7h0M1316.0 757.4h0M1312.6 757.8h0M1317.9 760.4h0M1314.7 761.8h0M1316.9 764.5h0M1313.6 765.5h0M1319.7 766.6h0M1316.6 769.1h0M1319.6 770.9h0M1316.6 773.7h0M1313.1 773.8h0M1319.9 774.7h0M1315.1 776.8h0M1316.6 780.2h0M1318.8 782.9h0M1315.8 784.6h0"/>
<line x1="1316.6" y1="733.8" x2="1316.6" y2="778.6" stroke="#000" stroke-width="1.7" />
<line x1="1312.8" y1="733.8" x2="1320.3" y2="733.8" stroke="#000" stroke-width="1.5" />
<line x1="1312.8" y1="778.6" x2="1320.3" y2="778.6" stroke="#000" stroke-width="1.5" />
<line x1="1311.3" y1="756.2" x2="1321.8" y2="756.2" stroke="#000" stroke-width="3" />
<rect x="1335.1" y="840.6" width="27.0" height="3.4" rx="1.7" fill="#5a5a5a"/>
<line x1="1343.4" y1="842.3" x2="1353.9" y2="842.3" stroke="#000" stroke-width="3" />
<rect x="1367.2" y="840.6" width="27.0" height="3.4" rx="1.7" fill="#5a5a5a"/>
<path stroke="#5a5a5a" stroke-width="3.4" stroke-linecap="round" d="M1380.7 832.0h0M1380.7 838.9h0"/>
<line x1="1380.7" y1="838.9" x2="1380.7" y2="843.2" stroke="#000" stroke-width="1.7" />
<line x1="1377.0" y1="838.9" x2="1384.5" y2="838.9" stroke="#000" stroke-width="1.5" />
<line x1="1377.0" y1="843.2" x2="1384.5" y2="843.2" stroke="#000" stroke-width="1.5" />
<line x1="1375.5" y1="841.4" x2="1386.0" y2="841.4" stroke="#000" stroke-width="3" />
<rect x="1399.3" y="840.6" width="27.0" height="3.4" rx="1.7" fill="#5a5a5a"/>
<path stroke="#5a5a5a" stroke-width="3.4" stroke-linecap="round" d="M1412.8 781.5h0M1415.1 784.1h0M1412.8 787.4h0M1416.2 788.4h0M1412.8 799.0h0M1412.8 811.9h0M1412.8 816.6h0M1414.3 819.7h0M1412.8 823.3h0"/>
<line x1="1412.8" y1="813.0" x2="1412.8" y2="850.9" stroke="#000" stroke-width="1.7" />
<line x1="1409.0" y1="813.0" x2="1416.5" y2="813.0" stroke="#000" stroke-width="1.5" />
<line x1="1409.0" y1="850.9" x2="1416.5" y2="850.9" stroke="#000" stroke-width="1.5" />
<line x1="1407.5" y1="832.0" x2="1418.0" y2="832.0" stroke="#000" stroke-width="3" />
<rect x="1438.1" y="840.6" width="13.5" height="3.4" rx="1.7" fill="#5a5a5a"/>
<path stroke="#5a5a5a" stroke-width="3.4" stroke-linecap="round" d="M1444.9 774.6h0M1448.0 776.2h0M1444.9 781.2h0M1444.9 786.4h0M1444.9 791.2h0M1448.2 792.3h0M1442.4 793.6h0M1439.0 794.4h0M1450.9 794.6h0M1444.9 799.9h0M1447.3 802.3h0M1442.5 802.5h0M1439.3 803.8h0M1444.9 806.1h0M1448.4 806.3h0M1441.8 807.7h0M1451.3 808.3h0M1438.3 808.3h0M1454.7 809.1h0M1444.9 811.1h0M1447.8 813.0h0M1444.9 821.1h0"/>
<line x1="1444.9" y1="785.5" x2="1444.9" y2="826.8" stroke="#000" stroke-width="1.7" />
<line x1="1441.1" y1="785.5" x2="1448.6" y2="785.5" stroke="#000" stroke-width="1.5" />
<line x1="1441.1" y1="826.8" x2="1448.6" y2="826.8" stroke="#000" stroke-width="1.5" />
<line x1="1439.6" y1="806.1" x2="1450.1" y2="806.1" stroke="#000" stroke-width="3" />
<path stroke="#5a5a5a" stroke-width="3.4" stroke-linecap="round" d="M1477.0 804.7h0M1477.0 810.1h0M1477.0 815.2h0M1479.0 818.1h0M1477.0 821.5h0M1480.0 823.1h0M1477.0 825.1h0M1473.5 825.5h0M1482.6 825.6h0M1477.0 828.7h0M1480.5 828.9h0M1473.5 829.2h0M1483.8 830.0h0M1470.5 830.9h0M1467.0 830.9h0M1487.1 831.0h0M1463.5 831.5h0M1477.0 833.2h0M1480.3 834.1h0M1474.7 835.9h0M1471.2 836.2h0M1477.9 837.2h0"/>
<line x1="1477.0" y1="821.6" x2="1477.0" y2="838.9" stroke="#000" stroke-width="1.7" />
<line x1="1473.2" y1="821.6" x2="1480.7" y2="821.6" stroke="#000" stroke-width="1.5" />
<line x1="1473.2" y1="838.9" x2="1480.7" y2="838.9" stroke="#000" stroke-width="1.5" />
<line x1="1471.7" y1="830.2" x2="1482.2" y2="830.2" stroke="#000" stroke-width="3" />
<rect x="1495.5" y="840.6" width="27.0" height="3.4" rx="1.7" fill="#5a5a5a"/>
<path stroke="#5a5a5a" stroke-width="3.4" stroke-linecap="round" d="M1509.0 815.7h0M1512.5 816.3h0M1506.3 818.0h0M1509.0 820.5h0M1509.0 828.9h0M1512.5 829.4h0M1506.0 830.6h0M1509.0 835.0h0M1512.5 835.1h0M1509.0 840.4h0"/>
<line x1="1509.0" y1="830.2" x2="1509.0" y2="842.3" stroke="#000" stroke-width="1.7" />
<line x1="1505.3" y1="830.2" x2="1512.8" y2="830.2" stroke="#000" stroke-width="1.5" />
<line x1="1505.3" y1="842.3" x2="1512.8" y2="842.3" stroke="#000" stroke-width="1.5" />
<line x1="1503.8" y1="837.1" x2="1514.3" y2="837.1" stroke="#000" stroke-width="3" />
<rect x="1527.6" y="840.6" width="27.0" height="3.4" rx="1.7" fill="#5a5a5a"/>
<line x1="1541.1" y1="825.1" x2="1541.1" y2="852.6" stroke="#000" stroke-width="1.7" />
<line x1="1537.4" y1="825.1" x2="1544.9" y2="825.1" stroke="#000" stroke-width="1.5" />
<line x1="1537.4" y1="852.6" x2="1544.9" y2="852.6" stroke="#000" stroke-width="1.5" />
<line x1="1535.9" y1="842.3" x2="1546.4" y2="842.3" stroke="#000" stroke-width="3" />
<rect x="1559.7" y="840.6" width="27.0" height="3.4" rx="1.7" fill="#5a5a5a"/>
<path stroke="#5a5a5a" stroke-width="3.4" stroke-linecap="round" d="M1573.2 766.5h0"/>
<line x1="1573.2" y1="825.1" x2="1573.2" y2="852.6" stroke="#000" stroke-width="1.7" />
<line x1="1569.5" y1="825.1" x2="1577.0" y2="825.1" stroke="#000" stroke-width="1.5" />
<line x1="1569.5" y1="852.6" x2="1577.0" y2="852.6" stroke="#000" stroke-width="1.5" />
<line x1="1568.0" y1="840.6" x2="1578.5" y2="840.6" stroke="#000" stroke-width="3" />
<rect x="1591.8" y="840.6" width="27.0" height="3.4" rx="1.7" fill="#5a5a5a"/>
<line x1="1600.0" y1="842.3" x2="1610.5" y2="842.3" stroke="#000" stroke-width="3" />
<rect x="1623.9" y="840.6" width="27.0" height="3.4" rx="1.7" fill="#5a5a5a"/>
<path stroke="#5a5a5a" stroke-width="3.4" stroke-linecap="round" d="M1637.4 828.5h0"/>
<line x1="1637.4" y1="838.9" x2="1637.4" y2="844.0" stroke="#000" stroke-width="1.7" />
<line x1="1633.6" y1="838.9" x2="1641.1" y2="838.9" stroke="#000" stroke-width="1.5" />
<line x1="1633.6" y1="844.0" x2="1641.1" y2="844.0" stroke="#000" stroke-width="1.5" />
<line x1="1632.1" y1="842.3" x2="1642.6" y2="842.3" stroke="#000" stroke-width="3" />
<rect x="1655.9" y="840.6" width="27.0" height="3.4" rx="1.7" fill="#5a5a5a"/>
<line x1="1664.2" y1="842.3" x2="1674.7" y2="842.3" stroke="#000" stroke-width="3" />
<rect x="1688.0" y="840.6" width="27.0" height="3.4" rx="1.7" fill="#5a5a5a"/>
<path stroke="#5a5a5a" stroke-width="3.4" stroke-linecap="round" d="M1701.5 804.4h0"/>
<line x1="1701.5" y1="835.4" x2="1701.5" y2="847.5" stroke="#000" stroke-width="1.7" />
<line x1="1697.8" y1="835.4" x2="1705.3" y2="835.4" stroke="#000" stroke-width="1.5" />
<line x1="1697.8" y1="847.5" x2="1705.3" y2="847.5" stroke="#000" stroke-width="1.5" />
<line x1="1696.3" y1="840.6" x2="1706.8" y2="840.6" stroke="#000" stroke-width="3" />
<rect x="1720.1" y="840.6" width="27.0" height="3.4" rx="1.7" fill="#5a5a5a"/>
<line x1="1728.3" y1="842.3" x2="1738.8" y2="842.3" stroke="#000" stroke-width="3" />
<rect x="1752.2" y="840.6" width="27.0" height="3.4" rx="1.7" fill="#5a5a5a"/>
<path stroke="#5a5a5a" stroke-width="3.4" stroke-linecap="round" d="M1765.7 790.6h0M1765.7 821.6h0"/>
<line x1="1765.7" y1="832.0" x2="1765.7" y2="849.2" stroke="#000" stroke-width="1.7" />
<line x1="1761.9" y1="832.0" x2="1769.4" y2="832.0" stroke="#000" stroke-width="1.5" />
<line x1="1761.9" y1="849.2" x2="1769.4" y2="849.2" stroke="#000" stroke-width="1.5" />
<line x1="1760.4" y1="842.3" x2="1770.9" y2="842.3" stroke="#000" stroke-width="3" />
<rect x="1784.3" y="840.6" width="27.0" height="3.4" rx="1.7" fill="#5a5a5a"/>
<line x1="1792.5" y1="842.3" x2="1803.0" y2="842.3" stroke="#000" stroke-width="3" />
<rect x="1816.3" y="840.6" width="27.0" height="3.4" rx="1.7" fill="#5a5a5a"/>
<path stroke="#5a5a5a" stroke-width="3.4" stroke-linecap="round" d="M1829.8 804.4h0M1829.8 809.6h0"/>
<line x1="1829.8" y1="833.7" x2="1829.8" y2="849.2" stroke="#000" stroke-width="1.7" />
<line x1="1826.1" y1="833.7" x2="1833.6" y2="833.7" stroke="#000" stroke-width="1.5" />
<line x1="1826.1" y1="849.2" x2="1833.6" y2="849.2" stroke="#000" stroke-width="1.5" />
<line x1="1824.6" y1="840.6" x2="1835.1" y2="840.6" stroke="#000" stroke-width="3" />
<path stroke="#5a5a5a" stroke-width="3.4" stroke-linecap="round" d="M1861.9 700.2h0M1864.7 702.3h0M1861.9 706.9h0M1864.1 709.6h0M1859.8 709.7h0M1857.2 712.0h0M1861.9 712.7h0M1861.9 721.7h0M1864.9 723.6h0M1861.9 736.6h0M1865.2 737.8h0M1858.7 737.9h0M1861.9 742.3h0M1864.9 744.2h0M1859.8 745.1h0M1856.4 745.9h0M1867.6 746.4h0M1862.3 747.6h0M1861.9 751.9h0M1865.3 752.9h0M1861.9 758.8h0M1861.9 765.5h0M1863.5 768.6h0M1860.0 768.8h0M1866.6 770.2h0M1861.9 772.2h0M1864.8 774.2h0M1861.9 776.6h0M1861.9 781.7h0M1861.9 790.0h0"/>
<line x1="1861.9" y1="699.4" x2="1861.9" y2="799.3" stroke="#000" stroke-width="1.7" />
<line x1="1858.2" y1="699.4" x2="1865.7" y2="699.4" stroke="#000" stroke-width="1.5" />
<line x1="1858.2" y1="799.3" x2="1865.7" y2="799.3" stroke="#000" stroke-width="1.5" />
<line x1="1856.7" y1="749.3" x2="1867.2" y2="749.3" stroke="#000" stroke-width="3" />
<rect x="1880.5" y="840.6" width="27.0" height="3.4" rx="1.7" fill="#5a5a5a"/>
<line x1="1888.8" y1="842.3" x2="1899.2" y2="842.3" stroke="#000" stroke-width="3" />
<rect x="1912.6" y="840.6" width="27.0" height="3.4" rx="1.7" fill="#5a5a5a"/>
<path stroke="#5a5a5a" stroke-width="3.4" stroke-linecap="round" d="M1926.1 802.7h0"/>
<line x1="1926.1" y1="835.4" x2="1926.1" y2="847.5" stroke="#000" stroke-width="1.7" />
<line x1="1922.3" y1="835.4" x2="1929.8" y2="835.4" stroke="#000" stroke-width="1.5" />
<line x1="1922.3" y1="847.5" x2="1929.8" y2="847.5" stroke="#000" stroke-width="1.5" />
<line x1="1920.8" y1="842.3" x2="1931.3" y2="842.3" stroke="#000" stroke-width="3" />
<rect x="1944.7" y="840.6" width="27.0" height="3.4" rx="1.7" fill="#5a5a5a"/>
<line x1="1952.9" y1="842.3" x2="1963.4" y2="842.3" stroke="#000" stroke-width="3" />
<polyline points="1220.3,836.3 1220.3,742.9 1252.4,742.9 1252.4,746.7" stroke="#0028ff" stroke-width="2.0" fill="none" />
<text transform="translate(1204.0,762.0) rotate(-62) scale(0.756,1)" font-size="23" font-weight="bold" fill="#0028ff" stroke="#0028ff" stroke-width="0.45"><tspan font-style="italic">P</tspan> = 6.76 <tspan font-weight="normal" font-size="28.8" stroke-width="0" dy="1.8">×</tspan><tspan dy="-1.8"> 10</tspan><tspan font-size="14.3" dy="-8.3">-3</tspan></text>
<polyline points="1284.5,733.8 1284.5,723.5 1316.6,723.5 1316.6,725.2" stroke="#0028ff" stroke-width="2.0" fill="none" />
<text transform="translate(1268.3,721.2) scale(0.736,1)" font-size="23" font-weight="bold" fill="#0028ff" stroke="#0028ff" stroke-width="0.45"><tspan font-style="italic">P</tspan> = 2.99 <tspan font-weight="normal" font-size="28.8" stroke-width="0" dy="1.8">×</tspan><tspan dy="-1.8"> 10</tspan><tspan font-size="14.3" dy="-8.3">-9</tspan></text>
<polyline points="1412.8,772.4 1412.8,761.2 1444.9,761.2 1444.9,763.8" stroke="#0028ff" stroke-width="2.0" fill="none" />
<text transform="translate(1398.4,757.9) scale(0.736,1)" font-size="23" font-weight="bold" fill="#0028ff" stroke="#0028ff" stroke-width="0.45"><tspan font-style="italic">P</tspan> = 2.75 <tspan font-weight="normal" font-size="28.8" stroke-width="0" dy="1.8">×</tspan><tspan dy="-1.8"> 10</tspan><tspan font-size="14.3" dy="-8.3">-6</tspan></text>
<polyline points="1477.0,793.2 1477.0,793.2 1509.0,793.2 1509.0,803.4" stroke="#ff0000" stroke-width="2.0" fill="none" />
<text transform="translate(1462.3,791.8) scale(0.733,1)" font-size="23" font-weight="bold" fill="#ff0000" stroke="#ff0000" stroke-width="0.45"><tspan font-style="italic">P</tspan> = 2.79 <tspan font-weight="normal" font-size="28.8" stroke-width="0" dy="1.8">×</tspan><tspan dy="-1.8"> 10</tspan><tspan font-size="14.3" dy="-8.3">-2</tspan></text>
<polyline points="1861.9,682.5 1861.9,682.5 1894.0,682.5 1894.0,832.8" stroke="#ff0000" stroke-width="2.0" fill="none" />
<text transform="translate(1847.9,678.8) scale(0.750,1)" font-size="23" font-weight="bold" fill="#ff0000" stroke="#ff0000" stroke-width="0.45"><tspan font-style="italic">P</tspan> = 3.61 <tspan font-weight="normal" font-size="28.8" stroke-width="0" dy="1.8">×</tspan><tspan dy="-1.8"> 10</tspan><tspan font-size="14.3" dy="-8.3">-11</tspan></text>
<rect x="1140.1" y="870.9" width="63.8" height="212.9" fill="#e4e4e4" />
<rect x="1268.8" y="870.9" width="63.8" height="212.9" fill="#e4e4e4" />
<rect x="1397.5" y="870.9" width="63.8" height="212.9" fill="#e4e4e4" />
<rect x="1526.2" y="870.9" width="63.8" height="212.9" fill="#e4e4e4" />
<rect x="1654.9" y="870.9" width="63.8" height="212.9" fill="#e4e4e4" />
<rect x="1783.6" y="870.9" width="63.8" height="212.9" fill="#e4e4e4" />
<rect x="1912.3" y="870.9" width="63.8" height="212.9" fill="#e4e4e4" />
<line x1="1071.0" y1="878.8" x2="1071.0" y2="1086.6" stroke="#000" stroke-width="1.8" />
<line x1="1070.1" y1="1085.8" x2="1977.0" y2="1085.8" stroke="#222" stroke-width="1.6" />
<line x1="1067.0" y1="1060.2" x2="1071.0" y2="1060.2" stroke="#000" stroke-width="1.4" />
<text transform="translate(1053.3,1068.9) scale(0.750,1)" font-size="27" font-weight="bold" fill="#000" stroke="#000" stroke-width="0.50" >0</text>
<line x1="1067.0" y1="1017.2" x2="1071.0" y2="1017.2" stroke="#000" stroke-width="1.4" />
<text transform="translate(1041.7,1025.9) scale(0.750,1)" font-size="27" font-weight="bold" fill="#000" stroke="#000" stroke-width="0.50" >25</text>
<line x1="1067.0" y1="974.1" x2="1071.0" y2="974.1" stroke="#000" stroke-width="1.4" />
<text transform="translate(1041.9,982.8) scale(0.750,1)" font-size="27" font-weight="bold" fill="#000" stroke="#000" stroke-width="0.50" >50</text>
<line x1="1067.0" y1="931.1" x2="1071.0" y2="931.1" stroke="#000" stroke-width="1.4" />
<text transform="translate(1041.7,939.8) scale(0.750,1)" font-size="27" font-weight="bold" fill="#000" stroke="#000" stroke-width="0.50" >75</text>
<line x1="1067.0" y1="888.0" x2="1071.0" y2="888.0" stroke="#000" stroke-width="1.4" />
<text transform="translate(1030.8,896.7) scale(0.750,1)" font-size="27" font-weight="bold" fill="#000" stroke="#000" stroke-width="0.50" >100</text>
<line x1="1092.0" y1="1085.8" x2="1092.0" y2="1089.3" stroke="#000" stroke-width="1.6" />
<line x1="1124.1" y1="1085.8" x2="1124.1" y2="1089.3" stroke="#000" stroke-width="1.6" />
<line x1="1156.2" y1="1085.8" x2="1156.2" y2="1089.3" stroke="#000" stroke-width="1.6" />
<line x1="1188.2" y1="1085.8" x2="1188.2" y2="1089.3" stroke="#000" stroke-width="1.6" />
<line x1="1220.3" y1="1085.8" x2="1220.3" y2="1089.3" stroke="#000" stroke-width="1.6" />
<line x1="1252.4" y1="1085.8" x2="1252.4" y2="1089.3" stroke="#000" stroke-width="1.6" />
<line x1="1284.5" y1="1085.8" x2="1284.5" y2="1089.3" stroke="#000" stroke-width="1.6" />
<line x1="1316.6" y1="1085.8" x2="1316.6" y2="1089.3" stroke="#000" stroke-width="1.6" />
<line x1="1348.6" y1="1085.8" x2="1348.6" y2="1089.3" stroke="#000" stroke-width="1.6" />
<line x1="1380.7" y1="1085.8" x2="1380.7" y2="1089.3" stroke="#000" stroke-width="1.6" />
<line x1="1412.8" y1="1085.8" x2="1412.8" y2="1089.3" stroke="#000" stroke-width="1.6" />
<line x1="1444.9" y1="1085.8" x2="1444.9" y2="1089.3" stroke="#000" stroke-width="1.6" />
<line x1="1477.0" y1="1085.8" x2="1477.0" y2="1089.3" stroke="#000" stroke-width="1.6" />
<line x1="1509.0" y1="1085.8" x2="1509.0" y2="1089.3" stroke="#000" stroke-width="1.6" />
<line x1="1541.1" y1="1085.8" x2="1541.1" y2="1089.3" stroke="#000" stroke-width="1.6" />
<line x1="1573.2" y1="1085.8" x2="1573.2" y2="1089.3" stroke="#000" stroke-width="1.6" />
<line x1="1605.3" y1="1085.8" x2="1605.3" y2="1089.3" stroke="#000" stroke-width="1.6" />
<line x1="1637.4" y1="1085.8" x2="1637.4" y2="1089.3" stroke="#000" stroke-width="1.6" />
<line x1="1669.4" y1="1085.8" x2="1669.4" y2="1089.3" stroke="#000" stroke-width="1.6" />
<line x1="1701.5" y1="1085.8" x2="1701.5" y2="1089.3" stroke="#000" stroke-width="1.6" />
<line x1="1733.6" y1="1085.8" x2="1733.6" y2="1089.3" stroke="#000" stroke-width="1.6" />
<line x1="1765.7" y1="1085.8" x2="1765.7" y2="1089.3" stroke="#000" stroke-width="1.6" />
<line x1="1797.8" y1="1085.8" x2="1797.8" y2="1089.3" stroke="#000" stroke-width="1.6" />
<line x1="1829.8" y1="1085.8" x2="1829.8" y2="1089.3" stroke="#000" stroke-width="1.6" />
<line x1="1861.9" y1="1085.8" x2="1861.9" y2="1089.3" stroke="#000" stroke-width="1.6" />
<line x1="1894.0" y1="1085.8" x2="1894.0" y2="1089.3" stroke="#000" stroke-width="1.6" />
<line x1="1926.1" y1="1085.8" x2="1926.1" y2="1089.3" stroke="#000" stroke-width="1.6" />
<line x1="1958.2" y1="1085.8" x2="1958.2" y2="1089.3" stroke="#000" stroke-width="1.6" />
<text transform="translate(1026.0,1040.0) rotate(-90) scale(0.812,1)" font-size="25.7" font-weight="bold" fill="#000" stroke="#000" stroke-width="0.50" >% SBS / Total</text>
<line x1="1029.7" y1="908.6" x2="1029.7" y2="1039.6" stroke="#444" stroke-width="1.6" />
<text transform="translate(1083.8,908.3) scale(0.742,1)" font-size="31" font-weight="bold" fill="#00904c" stroke="#00904c" stroke-width="0.50" >Cluster 4</text>
<path stroke="#5a5a5a" stroke-width="3.4" stroke-linecap="round" d="M1092.0 1048.0h0M1095.4 1048.7h0M1088.6 1048.9h0M1085.2 1049.4h0M1098.7 1050.0h0M1092.0 1051.8h0M1095.4 1052.6h0M1088.6 1052.6h0M1084.0 1052.7h0M1098.8 1053.6h0M1102.3 1053.7h0M1080.6 1053.7h0M1105.8 1054.0h0M1077.2 1054.5h0"/>
<line x1="1092.0" y1="1049.9" x2="1092.0" y2="1055.0" stroke="#000" stroke-width="1.7" />
<line x1="1088.2" y1="1049.9" x2="1095.8" y2="1049.9" stroke="#000" stroke-width="1.5" />
<line x1="1088.2" y1="1055.0" x2="1095.8" y2="1055.0" stroke="#000" stroke-width="1.5" />
<line x1="1086.8" y1="1052.5" x2="1097.2" y2="1052.5" stroke="#000" stroke-width="3" />
<path stroke="#5a5a5a" stroke-width="3.4" stroke-linecap="round" d="M1124.1 1050.8h0M1127.5 1051.4h0M1120.8 1052.0h0M1117.3 1052.2h0M1130.9 1052.4h0M1113.8 1052.5h0M1134.4 1052.6h0M1110.3 1052.6h0M1137.8 1053.2h0M1114.4 1053.2h0M1114.3 1053.7h0M1124.1 1054.9h0M1127.5 1055.7h0M1120.7 1055.7h0"/>
<line x1="1124.1" y1="1051.6" x2="1124.1" y2="1055.0" stroke="#000" stroke-width="1.7" />
<line x1="1120.3" y1="1051.6" x2="1127.8" y2="1051.6" stroke="#000" stroke-width="1.5" />
<line x1="1120.3" y1="1055.0" x2="1127.8" y2="1055.0" stroke="#000" stroke-width="1.5" />
<line x1="1118.8" y1="1053.3" x2="1129.3" y2="1053.3" stroke="#000" stroke-width="3" />
<rect x="1142.7" y="1058.5" width="27.0" height="3.4" rx="1.7" fill="#5a5a5a"/>
<path stroke="#5a5a5a" stroke-width="3.4" stroke-linecap="round" d="M1156.2 1046.1h0M1158.9 1048.3h0M1154.3 1049.1h0M1150.8 1049.2h0M1156.2 1056.4h0"/>
<line x1="1156.2" y1="1053.3" x2="1156.2" y2="1061.9" stroke="#000" stroke-width="1.7" />
<line x1="1152.4" y1="1053.3" x2="1159.9" y2="1053.3" stroke="#000" stroke-width="1.5" />
<line x1="1152.4" y1="1061.9" x2="1159.9" y2="1061.9" stroke="#000" stroke-width="1.5" />
<line x1="1150.9" y1="1058.5" x2="1161.4" y2="1058.5" stroke="#000" stroke-width="3" />
<rect x="1174.7" y="1058.5" width="27.0" height="3.4" rx="1.7" fill="#5a5a5a"/>
<path stroke="#5a5a5a" stroke-width="3.4" stroke-linecap="round" d="M1188.2 1043.3h0M1191.7 1043.6h0M1188.2 1048.9h0M1188.2 1052.7h0M1191.6 1053.7h0"/>
<line x1="1188.2" y1="1053.3" x2="1188.2" y2="1061.9" stroke="#000" stroke-width="1.7" />
<line x1="1184.5" y1="1053.3" x2="1192.0" y2="1053.3" stroke="#000" stroke-width="1.5" />
<line x1="1184.5" y1="1061.9" x2="1192.0" y2="1061.9" stroke="#000" stroke-width="1.5" />
<line x1="1183.0" y1="1057.6" x2="1193.5" y2="1057.6" stroke="#000" stroke-width="3" />
<rect x="1213.6" y="1058.5" width="13.5" height="3.4" rx="1.7" fill="#5a5a5a"/>
<path stroke="#5a5a5a" stroke-width="3.4" stroke-linecap="round" d="M1220.3 952.8h0M1222.3 955.7h0M1220.3 961.3h0M1220.3 967.5h0M1223.8 967.5h0M1217.3 969.2h0M1221.9 970.6h0M1225.4 971.1h0M1220.3 988.1h0M1223.3 989.9h0M1218.8 991.2h0M1215.5 992.2h0M1220.3 997.0h0"/>
<line x1="1220.3" y1="958.6" x2="1220.3" y2="1048.1" stroke="#000" stroke-width="1.7" />
<line x1="1216.6" y1="958.6" x2="1224.1" y2="958.6" stroke="#000" stroke-width="1.5" />
<line x1="1216.6" y1="1048.1" x2="1224.1" y2="1048.1" stroke="#000" stroke-width="1.5" />
<line x1="1215.1" y1="1003.4" x2="1225.6" y2="1003.4" stroke="#000" stroke-width="3" />
<rect x="1245.7" y="1058.5" width="13.5" height="3.4" rx="1.7" fill="#5a5a5a"/>
<path stroke="#5a5a5a" stroke-width="3.4" stroke-linecap="round" d="M1252.4 939.4h0M1252.4 943.1h0M1252.4 946.9h0M1255.8 947.5h0M1252.4 955.5h0M1254.7 958.2h0M1252.4 962.7h0M1252.4 972.3h0M1255.9 972.7h0M1252.4 977.6h0M1252.4 987.4h0M1252.4 991.3h0M1252.4 998.9h0"/>
<line x1="1252.4" y1="956.9" x2="1252.4" y2="1049.9" stroke="#000" stroke-width="1.7" />
<line x1="1248.7" y1="956.9" x2="1256.2" y2="956.9" stroke="#000" stroke-width="1.5" />
<line x1="1248.7" y1="1049.9" x2="1256.2" y2="1049.9" stroke="#000" stroke-width="1.5" />
<line x1="1247.2" y1="1003.4" x2="1257.7" y2="1003.4" stroke="#000" stroke-width="3" />
<rect x="1277.7" y="1058.5" width="13.5" height="3.4" rx="1.7" fill="#5a5a5a"/>
<path stroke="#5a5a5a" stroke-width="3.4" stroke-linecap="round" d="M1284.5 1023.9h0M1287.9 1024.4h0M1281.0 1024.6h0M1291.3 1025.4h0M1284.5 1028.1h0M1287.9 1028.9h0M1281.4 1029.8h0M1284.5 1035.2h0M1286.7 1037.9h0M1283.5 1039.5h0M1285.7 1042.2h0M1281.6 1042.4h0M1289.2 1042.8h0M1284.5 1045.7h0"/>
<line x1="1284.5" y1="1024.0" x2="1284.5" y2="1048.1" stroke="#000" stroke-width="1.7" />
<line x1="1280.7" y1="1024.0" x2="1288.2" y2="1024.0" stroke="#000" stroke-width="1.5" />
<line x1="1280.7" y1="1048.1" x2="1288.2" y2="1048.1" stroke="#000" stroke-width="1.5" />
<line x1="1279.2" y1="1036.1" x2="1289.7" y2="1036.1" stroke="#000" stroke-width="3" />
<path stroke="#5a5a5a" stroke-width="3.4" stroke-linecap="round" d="M1316.6 984.7h0M1318.4 987.7h0M1315.1 989.1h0M1316.6 993.7h0M1316.6 998.0h0M1319.7 999.5h0M1316.6 1003.0h0M1320.0 1003.7h0M1316.6 1007.8h0M1319.9 1008.9h0M1314.2 1010.5h0M1317.3 1012.1h0M1320.7 1013.0h0M1312.5 1013.5h0M1309.0 1013.8h0M1316.6 1015.6h0M1316.6 1020.0h0"/>
<line x1="1316.6" y1="987.9" x2="1316.6" y2="1022.3" stroke="#000" stroke-width="1.7" />
<line x1="1312.8" y1="987.9" x2="1320.3" y2="987.9" stroke="#000" stroke-width="1.5" />
<line x1="1312.8" y1="1022.3" x2="1320.3" y2="1022.3" stroke="#000" stroke-width="1.5" />
<line x1="1311.3" y1="1005.1" x2="1321.8" y2="1005.1" stroke="#000" stroke-width="3" />
<rect x="1335.1" y="1058.5" width="27.0" height="3.4" rx="1.7" fill="#5a5a5a"/>
<line x1="1343.4" y1="1060.2" x2="1353.9" y2="1060.2" stroke="#000" stroke-width="3" />
<rect x="1367.2" y="1058.5" width="27.0" height="3.4" rx="1.7" fill="#5a5a5a"/>
<line x1="1375.5" y1="1060.2" x2="1386.0" y2="1060.2" stroke="#000" stroke-width="3" />
<rect x="1399.3" y="1058.5" width="27.0" height="3.4" rx="1.7" fill="#5a5a5a"/>
<path stroke="#5a5a5a" stroke-width="3.4" stroke-linecap="round" d="M1412.8 1000.2h0M1412.8 1004.0h0M1412.8 1014.4h0M1416.2 1015.2h0M1412.8 1030.8h0"/>
<line x1="1412.8" y1="1022.3" x2="1412.8" y2="1068.8" stroke="#000" stroke-width="1.7" />
<line x1="1409.0" y1="1022.3" x2="1416.5" y2="1022.3" stroke="#000" stroke-width="1.5" />
<line x1="1409.0" y1="1068.8" x2="1416.5" y2="1068.8" stroke="#000" stroke-width="1.5" />
<line x1="1407.5" y1="1046.4" x2="1418.0" y2="1046.4" stroke="#000" stroke-width="3" />
<rect x="1431.4" y="1058.5" width="27.0" height="3.4" rx="1.7" fill="#5a5a5a"/>
<path stroke="#5a5a5a" stroke-width="3.4" stroke-linecap="round" d="M1444.9 970.7h0M1444.9 1002.8h0M1444.9 1013.3h0M1448.2 1014.4h0M1444.9 1018.1h0M1448.2 1019.3h0M1444.9 1022.2h0M1448.3 1023.1h0M1441.8 1023.8h0M1450.8 1025.5h0M1444.9 1027.1h0"/>
<line x1="1444.9" y1="1005.1" x2="1444.9" y2="1056.8" stroke="#000" stroke-width="1.7" />
<line x1="1441.1" y1="1005.1" x2="1448.6" y2="1005.1" stroke="#000" stroke-width="1.5" />
<line x1="1441.1" y1="1056.8" x2="1448.6" y2="1056.8" stroke="#000" stroke-width="1.5" />
<line x1="1439.6" y1="1030.9" x2="1450.1" y2="1030.9" stroke="#000" stroke-width="3" />
<rect x="1463.5" y="1058.5" width="27.0" height="3.4" rx="1.7" fill="#5a5a5a"/>
<path stroke="#5a5a5a" stroke-width="3.4" stroke-linecap="round" d="M1477.0 1005.1h0M1477.0 1037.5h0M1480.2 1038.8h0M1477.0 1047.2h0M1477.0 1050.8h0"/>
<line x1="1477.0" y1="1037.8" x2="1477.0" y2="1065.4" stroke="#000" stroke-width="1.7" />
<line x1="1473.2" y1="1037.8" x2="1480.7" y2="1037.8" stroke="#000" stroke-width="1.5" />
<line x1="1473.2" y1="1065.4" x2="1480.7" y2="1065.4" stroke="#000" stroke-width="1.5" />
<line x1="1471.7" y1="1053.3" x2="1482.2" y2="1053.3" stroke="#000" stroke-width="3" />
<rect x="1495.5" y="1058.5" width="27.0" height="3.4" rx="1.7" fill="#5a5a5a"/>
<path stroke="#5a5a5a" stroke-width="3.4" stroke-linecap="round" d="M1509.0 1003.4h0M1509.0 1034.6h0M1509.0 1040.2h0M1512.5 1040.6h0M1505.8 1041.5h0"/>
<line x1="1509.0" y1="1039.5" x2="1509.0" y2="1065.4" stroke="#000" stroke-width="1.7" />
<line x1="1505.3" y1="1039.5" x2="1512.8" y2="1039.5" stroke="#000" stroke-width="1.5" />
<line x1="1505.3" y1="1065.4" x2="1512.8" y2="1065.4" stroke="#000" stroke-width="1.5" />
<line x1="1503.8" y1="1053.3" x2="1514.3" y2="1053.3" stroke="#000" stroke-width="3" />
<rect x="1527.6" y="1058.5" width="27.0" height="3.4" rx="1.7" fill="#5a5a5a"/>
<line x1="1535.9" y1="1060.2" x2="1546.4" y2="1060.2" stroke="#000" stroke-width="3" />
<rect x="1559.7" y="1058.5" width="27.0" height="3.4" rx="1.7" fill="#5a5a5a"/>
<line x1="1568.0" y1="1060.2" x2="1578.5" y2="1060.2" stroke="#000" stroke-width="3" />
<rect x="1591.8" y="1058.5" width="27.0" height="3.4" rx="1.7" fill="#5a5a5a"/>
<line x1="1600.0" y1="1060.2" x2="1610.5" y2="1060.2" stroke="#000" stroke-width="3" />
<rect x="1623.9" y="1058.5" width="27.0" height="3.4" rx="1.7" fill="#5a5a5a"/>
<line x1="1632.1" y1="1060.2" x2="1642.6" y2="1060.2" stroke="#000" stroke-width="3" />
<rect x="1655.9" y="1058.5" width="27.0" height="3.4" rx="1.7" fill="#5a5a5a"/>
<line x1="1664.2" y1="1060.2" x2="1674.7" y2="1060.2" stroke="#000" stroke-width="3" />
<rect x="1688.0" y="1058.5" width="27.0" height="3.4" rx="1.7" fill="#5a5a5a"/>
<path stroke="#5a5a5a" stroke-width="3.4" stroke-linecap="round" d="M1701.5 1006.8h0M1701.5 1034.4h0"/>
<line x1="1701.5" y1="1041.3" x2="1701.5" y2="1068.8" stroke="#000" stroke-width="1.7" />
<line x1="1697.8" y1="1041.3" x2="1705.3" y2="1041.3" stroke="#000" stroke-width="1.5" />
<line x1="1697.8" y1="1068.8" x2="1705.3" y2="1068.8" stroke="#000" stroke-width="1.5" />
<line x1="1696.3" y1="1055.0" x2="1706.8" y2="1055.0" stroke="#000" stroke-width="3" />
<rect x="1720.1" y="1058.5" width="27.0" height="3.4" rx="1.7" fill="#5a5a5a"/>
<line x1="1728.3" y1="1060.2" x2="1738.8" y2="1060.2" stroke="#000" stroke-width="3" />
<rect x="1752.2" y="1058.5" width="27.0" height="3.4" rx="1.7" fill="#5a5a5a"/>
<line x1="1760.4" y1="1060.2" x2="1770.9" y2="1060.2" stroke="#000" stroke-width="3" />
<rect x="1784.3" y="1058.5" width="27.0" height="3.4" rx="1.7" fill="#5a5a5a"/>
<line x1="1792.5" y1="1060.2" x2="1803.0" y2="1060.2" stroke="#000" stroke-width="3" />
<rect x="1816.3" y="1058.5" width="27.0" height="3.4" rx="1.7" fill="#5a5a5a"/>
<path stroke="#5a5a5a" stroke-width="3.4" stroke-linecap="round" d="M1829.8 1017.2h0M1829.8 1022.3h0M1829.8 1034.4h0M1829.8 1043.0h0M1829.8 1051.6h0"/>
<line x1="1829.8" y1="1036.1" x2="1829.8" y2="1068.8" stroke="#000" stroke-width="1.7" />
<line x1="1826.1" y1="1036.1" x2="1833.6" y2="1036.1" stroke="#000" stroke-width="1.5" />
<line x1="1826.1" y1="1068.8" x2="1833.6" y2="1068.8" stroke="#000" stroke-width="1.5" />
<line x1="1824.6" y1="1053.3" x2="1835.1" y2="1053.3" stroke="#000" stroke-width="3" />
<rect x="1855.2" y="1058.5" width="13.5" height="3.4" rx="1.7" fill="#5a5a5a"/>
<path stroke="#5a5a5a" stroke-width="3.4" stroke-linecap="round" d="M1861.9 945.0h0M1861.9 966.4h0M1864.4 968.9h0M1861.9 975.2h0M1861.9 979.6h0M1861.9 983.6h0M1864.7 985.7h0M1861.9 989.7h0M1861.9 993.4h0M1865.3 994.3h0M1861.9 1001.3h0M1865.1 1002.7h0M1861.9 1006.5h0M1865.4 1006.9h0"/>
<line x1="1861.9" y1="958.6" x2="1861.9" y2="1048.1" stroke="#000" stroke-width="1.7" />
<line x1="1858.2" y1="958.6" x2="1865.7" y2="958.6" stroke="#000" stroke-width="1.5" />
<line x1="1858.2" y1="1048.1" x2="1865.7" y2="1048.1" stroke="#000" stroke-width="1.5" />
<line x1="1856.7" y1="1003.4" x2="1867.2" y2="1003.4" stroke="#000" stroke-width="3" />
<rect x="1880.5" y="1058.5" width="27.0" height="3.4" rx="1.7" fill="#5a5a5a"/>
<line x1="1888.8" y1="1060.2" x2="1899.2" y2="1060.2" stroke="#000" stroke-width="3" />
<rect x="1912.6" y="1058.5" width="27.0" height="3.4" rx="1.7" fill="#5a5a5a"/>
<line x1="1920.8" y1="1060.2" x2="1931.3" y2="1060.2" stroke="#000" stroke-width="3" />
<rect x="1944.7" y="1058.5" width="27.0" height="3.4" rx="1.7" fill="#5a5a5a"/>
<line x1="1952.9" y1="1060.2" x2="1963.4" y2="1060.2" stroke="#000" stroke-width="3" />
<polyline points="1284.5,1011.6 1284.5,966.5 1316.6,966.5 1316.6,970.7" stroke="#0028ff" stroke-width="2.0" fill="none" />
<text transform="translate(1268.3,962.9) scale(0.745,1)" font-size="23" font-weight="bold" fill="#0028ff" stroke="#0028ff" stroke-width="0.45"><tspan font-style="italic">P</tspan> = 2.27 <tspan font-weight="normal" font-size="28.8" stroke-width="0" dy="1.8">×</tspan><tspan dy="-1.8"> 10</tspan><tspan font-size="14.3" dy="-8.3">-5</tspan></text>
<polyline points="1861.9,912.1 1861.9,912.1 1894.0,912.1 1894.0,1053.7" stroke="#ff0000" stroke-width="2.0" fill="none" />
<text transform="translate(1848.0,908.0) scale(0.747,1)" font-size="23" font-weight="bold" fill="#ff0000" stroke="#ff0000" stroke-width="0.45"><tspan font-style="italic">P</tspan> = 1.53 <tspan font-weight="normal" font-size="28.8" stroke-width="0" dy="1.8">×</tspan><tspan dy="-1.8"> 10</tspan><tspan font-size="14.3" dy="-8.3">-4</tspan></text>
<text transform="translate(1080.1,1107.9) scale(0.837,1)" font-size="23" font-weight="bold" fill="#000" stroke="#000" stroke-width="0.50" >1M All</text>
<line x1="1080.1" y1="1111.5" x2="1136.0" y2="1111.5" stroke="#333" stroke-width="1.5" />
<text transform="translate(1084.6,1133.9) scale(0.780,1)" font-size="23" font-weight="bold" fill="#000000" stroke="#000000" stroke-width="0.50" >SBS1</text>
<text transform="translate(1144.3,1107.9) scale(0.837,1)" font-size="23" font-weight="bold" fill="#000" stroke="#000" stroke-width="0.50" >1M All</text>
<line x1="1144.2" y1="1111.5" x2="1200.2" y2="1111.5" stroke="#333" stroke-width="1.5" />
<text transform="translate(1148.9,1133.9) scale(0.780,1)" font-size="23" font-weight="bold" fill="#000000" stroke="#000000" stroke-width="0.50" >SBS2</text>
<text transform="translate(1208.5,1107.9) scale(0.837,1)" font-size="23" font-weight="bold" fill="#000" stroke="#000" stroke-width="0.50" >1M All</text>
<line x1="1208.4" y1="1111.5" x2="1264.3" y2="1111.5" stroke="#333" stroke-width="1.5" />
<text transform="translate(1213.0,1133.9) scale(0.780,1)" font-size="23" font-weight="bold" fill="#ff0000" stroke="#ff0000" stroke-width="0.50" >SBS3</text>
<text transform="translate(1272.6,1107.9) scale(0.837,1)" font-size="23" font-weight="bold" fill="#000" stroke="#000" stroke-width="0.50" >1M All</text>
<line x1="1272.6" y1="1111.5" x2="1328.5" y2="1111.5" stroke="#333" stroke-width="1.5" />
<text transform="translate(1277.1,1133.9) scale(0.780,1)" font-size="23" font-weight="bold" fill="#0028ff" stroke="#0028ff" stroke-width="0.50" >SBS5</text>
<text transform="translate(1336.8,1107.9) scale(0.837,1)" font-size="23" font-weight="bold" fill="#000" stroke="#000" stroke-width="0.50" >1M All</text>
<line x1="1336.7" y1="1111.5" x2="1392.6" y2="1111.5" stroke="#333" stroke-width="1.5" />
<text transform="translate(1336.0,1133.9) scale(0.780,1)" font-size="23" font-weight="bold" fill="#000000" stroke="#000000" stroke-width="0.50" >SBS7a</text>
<text transform="translate(1400.9,1107.9) scale(0.837,1)" font-size="23" font-weight="bold" fill="#000" stroke="#000" stroke-width="0.50" >1M All</text>
<line x1="1400.9" y1="1111.5" x2="1456.8" y2="1111.5" stroke="#333" stroke-width="1.5" />
<text transform="translate(1405.4,1133.9) scale(0.780,1)" font-size="23" font-weight="bold" fill="#0028ff" stroke="#0028ff" stroke-width="0.50" >SBS8</text>
<text transform="translate(1465.1,1107.9) scale(0.837,1)" font-size="23" font-weight="bold" fill="#000" stroke="#000" stroke-width="0.50" >1M All</text>
<line x1="1465.0" y1="1111.5" x2="1521.0" y2="1111.5" stroke="#333" stroke-width="1.5" />
<text transform="translate(1464.7,1133.9) scale(0.780,1)" font-size="23" font-weight="bold" fill="#ff0000" stroke="#ff0000" stroke-width="0.50" >SBS13</text>
<text transform="translate(1529.3,1107.9) scale(0.837,1)" font-size="23" font-weight="bold" fill="#000" stroke="#000" stroke-width="0.50" >1M All</text>
<line x1="1529.2" y1="1111.5" x2="1585.1" y2="1111.5" stroke="#333" stroke-width="1.5" />
<text transform="translate(1528.9,1133.9) scale(0.780,1)" font-size="23" font-weight="bold" fill="#000000" stroke="#000000" stroke-width="0.50" >SBS26</text>
<text transform="translate(1593.4,1107.9) scale(0.837,1)" font-size="23" font-weight="bold" fill="#000" stroke="#000" stroke-width="0.50" >1M All</text>
<line x1="1593.4" y1="1111.5" x2="1649.3" y2="1111.5" stroke="#333" stroke-width="1.5" />
<text transform="translate(1592.7,1133.9) scale(0.780,1)" font-size="23" font-weight="bold" fill="#000000" stroke="#000000" stroke-width="0.50" >SBS34</text>
<text transform="translate(1657.6,1107.9) scale(0.837,1)" font-size="23" font-weight="bold" fill="#000" stroke="#000" stroke-width="0.50" >1M All</text>
<line x1="1657.5" y1="1111.5" x2="1713.4" y2="1111.5" stroke="#333" stroke-width="1.5" />
<text transform="translate(1657.1,1133.9) scale(0.780,1)" font-size="23" font-weight="bold" fill="#000000" stroke="#000000" stroke-width="0.50" >SBS35</text>
<text transform="translate(1721.7,1107.9) scale(0.837,1)" font-size="23" font-weight="bold" fill="#000" stroke="#000" stroke-width="0.50" >1M All</text>
<line x1="1721.7" y1="1111.5" x2="1777.6" y2="1111.5" stroke="#333" stroke-width="1.5" />
<text transform="translate(1721.4,1133.9) scale(0.780,1)" font-size="23" font-weight="bold" fill="#000000" stroke="#000000" stroke-width="0.50" >SBS36</text>
<text transform="translate(1785.9,1107.9) scale(0.837,1)" font-size="23" font-weight="bold" fill="#000" stroke="#000" stroke-width="0.50" >1M All</text>
<line x1="1785.8" y1="1111.5" x2="1841.8" y2="1111.5" stroke="#333" stroke-width="1.5" />
<text transform="translate(1785.5,1133.9) scale(0.780,1)" font-size="23" font-weight="bold" fill="#0028ff" stroke="#0028ff" stroke-width="0.50" >SBS39</text>
<text transform="translate(1850.1,1107.9) scale(0.837,1)" font-size="23" font-weight="bold" fill="#000" stroke="#000" stroke-width="0.50" >1M All</text>
<line x1="1850.0" y1="1111.5" x2="1905.9" y2="1111.5" stroke="#333" stroke-width="1.5" />
<text transform="translate(1849.7,1133.9) scale(0.780,1)" font-size="23" font-weight="bold" fill="#ff0000" stroke="#ff0000" stroke-width="0.50" >SBS40</text>
<text transform="translate(1914.2,1107.9) scale(0.837,1)" font-size="23" font-weight="bold" fill="#000" stroke="#000" stroke-width="0.50" >1M All</text>
<line x1="1914.2" y1="1111.5" x2="1970.1" y2="1111.5" stroke="#333" stroke-width="1.5" />
<text transform="translate(1913.8,1133.9) scale(0.780,1)" font-size="23" font-weight="bold" fill="#000000" stroke="#000000" stroke-width="0.50" >SBS41</text>
<rect x="1395.9" y="1218.8" width="64.0" height="197.5" fill="#e4e4e4" />
<rect x="1525.0" y="1218.8" width="64.0" height="197.5" fill="#e4e4e4" />
<rect x="1654.1" y="1218.8" width="64.0" height="197.5" fill="#e4e4e4" />
<rect x="1783.2" y="1218.8" width="64.0" height="197.5" fill="#e4e4e4" />
<rect x="1912.3" y="1218.8" width="64.0" height="197.5" fill="#e4e4e4" />
<line x1="1330.0" y1="1219.2" x2="1330.0" y2="1419.1" stroke="#000" stroke-width="1.8" />
<line x1="1329.1" y1="1418.3" x2="1977.0" y2="1418.3" stroke="#222" stroke-width="1.6" />
<line x1="1326.0" y1="1386.6" x2="1330.0" y2="1386.6" stroke="#000" stroke-width="1.4" />
<text transform="translate(1311.4,1398.1) scale(0.750,1)" font-size="27" font-weight="bold" fill="#000" stroke="#000" stroke-width="0.50" >0</text>
<line x1="1326.0" y1="1347.0" x2="1330.0" y2="1347.0" stroke="#000" stroke-width="1.4" />
<text transform="translate(1299.8,1358.5) scale(0.750,1)" font-size="27" font-weight="bold" fill="#000" stroke="#000" stroke-width="0.50" >25</text>
<line x1="1326.0" y1="1307.4" x2="1330.0" y2="1307.4" stroke="#000" stroke-width="1.4" />
<text transform="translate(1300.0,1318.9) scale(0.750,1)" font-size="27" font-weight="bold" fill="#000" stroke="#000" stroke-width="0.50" >50</text>
<line x1="1326.0" y1="1267.9" x2="1330.0" y2="1267.9" stroke="#000" stroke-width="1.4" />
<text transform="translate(1299.8,1279.4) scale(0.750,1)" font-size="27" font-weight="bold" fill="#000" stroke="#000" stroke-width="0.50" >75</text>
<line x1="1326.0" y1="1228.3" x2="1330.0" y2="1228.3" stroke="#000" stroke-width="1.4" />
<text transform="translate(1288.9,1239.8) scale(0.750,1)" font-size="27" font-weight="bold" fill="#000" stroke="#000" stroke-width="0.50" >100</text>
<line x1="1349.6" y1="1418.3" x2="1349.6" y2="1421.8" stroke="#000" stroke-width="1.6" />
<line x1="1381.6" y1="1418.3" x2="1381.6" y2="1421.8" stroke="#000" stroke-width="1.6" />
<line x1="1413.5" y1="1418.3" x2="1413.5" y2="1421.8" stroke="#000" stroke-width="1.6" />
<line x1="1445.5" y1="1418.3" x2="1445.5" y2="1421.8" stroke="#000" stroke-width="1.6" />
<line x1="1477.5" y1="1418.3" x2="1477.5" y2="1421.8" stroke="#000" stroke-width="1.6" />
<line x1="1509.4" y1="1418.3" x2="1509.4" y2="1421.8" stroke="#000" stroke-width="1.6" />
<line x1="1541.4" y1="1418.3" x2="1541.4" y2="1421.8" stroke="#000" stroke-width="1.6" />
<line x1="1573.4" y1="1418.3" x2="1573.4" y2="1421.8" stroke="#000" stroke-width="1.6" />
<line x1="1605.4" y1="1418.3" x2="1605.4" y2="1421.8" stroke="#000" stroke-width="1.6" />
<line x1="1637.3" y1="1418.3" x2="1637.3" y2="1421.8" stroke="#000" stroke-width="1.6" />
<line x1="1669.3" y1="1418.3" x2="1669.3" y2="1421.8" stroke="#000" stroke-width="1.6" />
<line x1="1701.3" y1="1418.3" x2="1701.3" y2="1421.8" stroke="#000" stroke-width="1.6" />
<line x1="1733.2" y1="1418.3" x2="1733.2" y2="1421.8" stroke="#000" stroke-width="1.6" />
<line x1="1765.2" y1="1418.3" x2="1765.2" y2="1421.8" stroke="#000" stroke-width="1.6" />
<line x1="1797.2" y1="1418.3" x2="1797.2" y2="1421.8" stroke="#000" stroke-width="1.6" />
<line x1="1829.1" y1="1418.3" x2="1829.1" y2="1421.8" stroke="#000" stroke-width="1.6" />
<line x1="1861.1" y1="1418.3" x2="1861.1" y2="1421.8" stroke="#000" stroke-width="1.6" />
<line x1="1893.1" y1="1418.3" x2="1893.1" y2="1421.8" stroke="#000" stroke-width="1.6" />
<line x1="1925.1" y1="1418.3" x2="1925.1" y2="1421.8" stroke="#000" stroke-width="1.6" />
<line x1="1957.0" y1="1418.3" x2="1957.0" y2="1421.8" stroke="#000" stroke-width="1.6" />
<text transform="translate(1284.3,1373.4) rotate(-90) scale(0.812,1)" font-size="25.7" font-weight="bold" fill="#000" stroke="#000" stroke-width="0.50" >% SBS / Total</text>
<line x1="1288.0" y1="1241.9" x2="1288.0" y2="1372.9" stroke="#444" stroke-width="1.6" />
<text transform="translate(1356.1,1246.7) scale(0.800,1)" font-size="31" font-weight="bold" fill="#000000" stroke="#000000" stroke-width="0.50" >All</text>
<path stroke="#5a5a5a" stroke-width="3.4" stroke-linecap="round" d="M1349.6 1228.3h0M1349.6 1321.4h0M1352.8 1322.8h0M1346.5 1322.9h0M1349.6 1324.9h0M1352.8 1326.5h0M1349.6 1344.7h0M1349.6 1355.8h0M1352.9 1357.0h0M1347.2 1358.3h0M1343.7 1358.5h0M1355.9 1358.7h0M1340.2 1358.8h0M1359.4 1359.2h0M1350.2 1360.1h0M1337.0 1360.2h0M1362.7 1360.4h0M1351.3 1361.0h0M1361.0 1361.4h0M1339.1 1361.4h0M1346.5 1361.7h0M1354.6 1362.3h0M1343.1 1362.7h0M1360.6 1362.7h0M1341.7 1362.9h0M1336.5 1363.8h0M1349.6 1364.6h0M1357.1 1364.7h0M1363.5 1364.7h0M1362.2 1364.8h0M1352.9 1365.7h0M1346.3 1365.8h0M1339.7 1365.8h0M1350.6 1365.8h0M1350.7 1365.9h0M1361.6 1366.1h0M1359.3 1366.4h0M1343.0 1366.6h0M1353.6 1366.7h0M1360.2 1367.1h0M1348.8 1367.1h0M1335.7 1367.2h0M1337.3 1367.8h0M1338.7 1368.3h0M1358.3 1368.3h0M1337.6 1368.4h0M1352.4 1368.4h0M1361.8 1368.5h0M1361.7 1368.7h0M1360.5 1368.8h0M1339.9 1368.8h0M1345.5 1369.2h0M1359.7 1369.6h0M1336.7 1369.7h0M1358.9 1370.0h0M1356.4 1370.2h0M1355.3 1370.3h0M1363.0 1370.4h0M1349.6 1370.8h0M1358.6 1371.0h0M1342.7 1371.3h0M1336.2 1371.9h0M1341.4 1372.0h0M1360.0 1372.1h0M1342.5 1372.3h0M1351.9 1372.5h0M1346.6 1372.6h0M1352.1 1372.6h0M1356.3 1373.2h0M1348.5 1373.3h0M1362.9 1374.0h0M1362.8 1374.2h0M1343.7 1374.3h0M1338.9 1374.4h0M1361.4 1374.6h0M1337.7 1374.6h0M1361.8 1374.9h0M1353.9 1374.9h0M1345.0 1375.1h0M1350.5 1375.8h0M1341.0 1375.8h0M1355.7 1375.8h0M1339.4 1375.9h0M1349.4 1376.1h0M1350.2 1376.2h0M1352.9 1376.3h0M1345.7 1376.4h0M1350.2 1376.4h0M1363.1 1376.5h0M1362.6 1376.6h0M1341.7 1376.7h0M1338.5 1376.8h0M1339.4 1376.9h0M1358.9 1377.1h0M1340.6 1377.2h0M1359.8 1377.8h0M1337.4 1378.5h0M1335.7 1378.6h0M1357.6 1378.7h0M1363.5 1378.7h0M1354.4 1378.9h0M1349.2 1379.7h0M1344.9 1379.8h0M1338.8 1379.8h0M1350.8 1380.1h0M1342.2 1380.7h0M1359.6 1381.5h0M1356.0 1382.0h0M1336.3 1382.2h0M1363.0 1382.3h0M1352.4 1382.5h0M1348.0 1383.0h0M1348.7 1383.2h0M1344.6 1384.0h0M1341.1 1384.3h0M1338.7 1384.3h0M1357.9 1384.9h0"/>
<line x1="1349.6" y1="1353.4" x2="1349.6" y2="1388.2" stroke="#000" stroke-width="1.7" />
<line x1="1345.8" y1="1353.4" x2="1353.3" y2="1353.4" stroke="#000" stroke-width="1.5" />
<line x1="1345.8" y1="1388.2" x2="1353.3" y2="1388.2" stroke="#000" stroke-width="1.5" />
<line x1="1344.3" y1="1370.8" x2="1354.8" y2="1370.8" stroke="#000" stroke-width="3" />
<path stroke="#5a5a5a" stroke-width="3.4" stroke-linecap="round" d="M1381.6 1349.9h0M1384.8 1351.1h0M1379.2 1352.5h0M1375.7 1352.6h0M1382.3 1354.2h0M1385.7 1354.9h0M1389.2 1355.3h0M1373.7 1355.4h0M1392.7 1355.5h0M1377.6 1355.6h0M1370.2 1355.7h0M1388.8 1356.4h0M1386.5 1356.6h0M1389.0 1357.0h0M1391.9 1357.2h0M1395.2 1357.3h0M1380.7 1357.3h0M1390.9 1357.8h0M1367.6 1358.0h0M1384.6 1358.2h0M1389.7 1358.2h0M1370.6 1358.3h0M1375.6 1358.5h0M1379.4 1359.0h0M1389.9 1359.3h0M1380.8 1359.3h0M1383.3 1359.7h0M1394.7 1359.8h0M1386.3 1360.1h0M1378.3 1360.2h0M1378.9 1360.3h0M1383.4 1360.4h0M1382.0 1360.7h0M1373.7 1361.5h0M1370.3 1361.8h0M1373.1 1361.8h0M1368.1 1361.9h0M1394.7 1362.0h0M1388.4 1362.9h0M1382.5 1363.3h0M1377.2 1363.5h0M1370.4 1363.6h0M1373.6 1363.7h0M1371.2 1363.8h0M1391.7 1364.0h0M1383.7 1364.9h0M1380.1 1365.9h0M1394.6 1366.0h0M1386.8 1366.6h0M1375.6 1366.7h0M1368.8 1366.7h0M1380.9 1366.8h0M1370.9 1366.9h0M1388.8 1366.9h0M1377.2 1367.5h0M1382.0 1367.5h0M1393.0 1367.9h0M1387.4 1368.0h0M1376.3 1368.2h0M1380.6 1368.5h0M1381.0 1368.7h0M1382.4 1368.8h0M1376.9 1369.1h0M1393.0 1369.3h0M1372.5 1369.4h0M1391.5 1369.6h0M1380.0 1369.7h0M1382.2 1369.7h0M1376.0 1369.7h0M1368.1 1370.1h0M1385.0 1370.3h0M1376.7 1370.3h0M1375.2 1370.7h0M1388.2 1371.0h0M1381.2 1371.0h0M1385.4 1371.1h0M1371.1 1371.5h0M1373.2 1371.6h0M1368.4 1371.6h0M1395.1 1372.1h0M1375.7 1372.2h0M1372.7 1372.6h0M1389.9 1372.7h0M1367.9 1372.9h0M1370.7 1372.9h0M1372.1 1372.9h0M1370.0 1373.0h0M1375.1 1373.3h0M1388.3 1373.4h0M1379.1 1373.8h0M1374.9 1373.9h0M1382.7 1374.2h0M1387.8 1374.3h0M1376.0 1374.3h0M1392.3 1375.2h0M1368.0 1375.6h0M1386.3 1375.7h0M1384.6 1375.8h0M1369.8 1376.1h0M1373.6 1376.2h0M1395.6 1376.4h0M1385.3 1376.6h0M1379.8 1376.8h0M1389.4 1377.5h0M1382.4 1379.1h0M1377.3 1379.3h0M1373.8 1379.7h0M1385.8 1380.1h0M1380.3 1381.9h0M1376.0 1382.6h0"/>
<line x1="1381.6" y1="1359.7" x2="1381.6" y2="1378.7" stroke="#000" stroke-width="1.7" />
<line x1="1377.8" y1="1359.7" x2="1385.3" y2="1359.7" stroke="#000" stroke-width="1.5" />
<line x1="1377.8" y1="1378.7" x2="1385.3" y2="1378.7" stroke="#000" stroke-width="1.5" />
<line x1="1376.3" y1="1369.2" x2="1386.8" y2="1369.2" stroke="#000" stroke-width="3" />
<rect x="1400.5" y="1384.9" width="26.0" height="3.4" rx="1.7" fill="#5a5a5a"/>
<path stroke="#5a5a5a" stroke-width="3.4" stroke-linecap="round" d="M1413.5 1289.2h0M1416.5 1291.1h0M1413.5 1300.5h0M1413.5 1304.4h0M1413.5 1317.9h0M1417.0 1318.3h0M1410.2 1318.9h0M1406.7 1319.2h0M1419.1 1321.1h0M1413.5 1325.2h0M1414.8 1328.5h0M1413.5 1332.9h0M1414.6 1336.2h0M1411.9 1338.4h0M1413.5 1344.3h0M1416.8 1345.5h0M1410.3 1345.6h0M1420.0 1347.0h0M1413.5 1349.0h0M1416.9 1349.9h0M1411.0 1351.4h0M1414.0 1353.2h0M1417.2 1354.7h0M1411.9 1355.9h0M1415.0 1357.5h0M1408.8 1357.7h0M1418.4 1358.1h0M1405.4 1358.1h0M1421.9 1358.3h0M1401.9 1358.4h0M1412.1 1359.5h0M1425.1 1359.8h0M1403.0 1360.1h0M1405.2 1360.3h0M1408.9 1360.5h0M1402.3 1360.7h0M1415.9 1360.9h0M1419.6 1361.4h0M1414.9 1361.6h0M1408.8 1362.1h0M1427.5 1362.3h0M1422.7 1363.0h0M1400.1 1363.5h0M1414.5 1363.5h0M1424.5 1363.6h0M1405.7 1363.8h0M1421.9 1363.9h0M1412.4 1363.9h0M1400.4 1364.1h0M1417.8 1364.7h0M1409.3 1365.6h0M1402.9 1365.7h0M1426.3 1366.6h0M1399.6 1366.7h0M1413.5 1367.2h0M1420.2 1367.2h0M1406.3 1367.3h0M1403.6 1367.5h0M1401.5 1367.9h0M1426.4 1368.2h0M1416.6 1368.9h0M1410.6 1369.1h0M1426.1 1369.2h0M1422.4 1369.7h0M1400.8 1369.8h0M1404.0 1370.0h0M1421.8 1370.1h0M1417.2 1370.1h0M1422.7 1370.4h0M1422.8 1370.5h0M1405.4 1370.6h0M1413.6 1370.9h0M1409.9 1370.9h0M1418.3 1371.0h0M1427.3 1372.4h0M1413.0 1372.5h0M1409.4 1372.8h0M1415.9 1374.3h0M1419.4 1374.4h0M1406.5 1374.9h0M1422.8 1375.5h0M1411.7 1375.7h0M1403.2 1375.9h0M1426.2 1376.1h0M1399.8 1376.8h0M1418.6 1376.8h0M1421.5 1377.4h0M1413.7 1378.6h0M1409.9 1378.8h0M1406.4 1378.8h0M1424.3 1378.8h0M1426.0 1378.9h0M1412.3 1381.8h0M1415.8 1382.1h0"/>
<line x1="1413.5" y1="1345.4" x2="1413.5" y2="1386.6" stroke="#000" stroke-width="1.7" />
<line x1="1409.8" y1="1345.4" x2="1417.3" y2="1345.4" stroke="#000" stroke-width="1.5" />
<line x1="1409.8" y1="1386.6" x2="1417.3" y2="1386.6" stroke="#000" stroke-width="1.5" />
<line x1="1408.3" y1="1366.0" x2="1418.8" y2="1366.0" stroke="#000" stroke-width="3" />
<rect x="1432.5" y="1384.9" width="26.0" height="3.4" rx="1.7" fill="#5a5a5a"/>
<path stroke="#5a5a5a" stroke-width="3.4" stroke-linecap="round" d="M1445.5 1298.7h0M1445.5 1318.4h0M1446.2 1321.8h0M1442.8 1322.1h0M1449.7 1322.2h0M1439.6 1323.7h0M1445.5 1325.4h0M1445.5 1335.9h0M1448.5 1337.7h0M1445.5 1343.1h0M1449.0 1343.4h0M1445.5 1348.3h0M1445.5 1357.4h0M1448.9 1358.3h0M1442.4 1359.1h0M1439.0 1359.7h0M1446.0 1360.9h0M1451.2 1361.0h0M1454.6 1361.4h0M1436.0 1361.6h0M1443.3 1363.1h0M1439.8 1363.3h0M1448.1 1363.7h0M1457.1 1363.9h0M1433.5 1364.0h0M1458.0 1364.1h0M1451.8 1364.4h0M1448.0 1364.5h0M1445.8 1364.7h0M1450.9 1365.0h0M1436.9 1365.3h0M1436.2 1365.4h0M1452.7 1365.6h0M1448.2 1365.7h0M1431.9 1365.8h0M1454.8 1365.8h0M1443.0 1366.9h0M1443.7 1366.9h0M1459.0 1367.4h0M1439.7 1368.1h0M1446.0 1368.2h0M1449.6 1368.9h0M1453.1 1369.1h0M1436.4 1369.2h0M1432.9 1369.6h0M1454.3 1369.7h0M1448.3 1369.7h0M1459.0 1369.8h0M1443.3 1370.4h0M1459.4 1371.4h0M1440.0 1371.7h0M1450.9 1372.1h0M1433.5 1372.2h0M1445.5 1373.2h0M1437.0 1373.4h0M1454.1 1373.4h0M1437.9 1374.2h0M1442.4 1374.3h0M1443.9 1374.4h0M1448.6 1374.9h0M1457.1 1375.2h0M1432.3 1375.5h0M1457.9 1375.6h0M1443.0 1375.7h0M1446.4 1375.7h0M1442.6 1375.8h0M1451.6 1376.6h0M1440.6 1376.7h0M1435.7 1377.0h0M1446.5 1377.2h0M1434.6 1377.2h0M1445.2 1377.4h0M1450.1 1377.5h0M1446.9 1377.6h0M1442.6 1377.8h0M1454.9 1378.0h0M1441.3 1378.0h0M1434.2 1378.1h0M1450.5 1378.2h0M1456.1 1378.5h0M1443.8 1378.8h0M1449.8 1379.1h0M1459.5 1379.5h0M1438.3 1379.7h0M1441.1 1379.8h0M1437.0 1380.1h0M1435.5 1380.2h0M1432.0 1380.8h0M1445.5 1382.3h0M1448.3 1384.4h0M1443.0 1384.7h0M1439.6 1385.7h0"/>
<line x1="1445.5" y1="1354.9" x2="1445.5" y2="1388.2" stroke="#000" stroke-width="1.7" />
<line x1="1441.8" y1="1354.9" x2="1449.3" y2="1354.9" stroke="#000" stroke-width="1.5" />
<line x1="1441.8" y1="1388.2" x2="1449.3" y2="1388.2" stroke="#000" stroke-width="1.5" />
<line x1="1440.3" y1="1372.4" x2="1450.8" y2="1372.4" stroke="#000" stroke-width="3" />
<rect x="1464.5" y="1384.9" width="26.0" height="3.4" rx="1.7" fill="#5a5a5a"/>
<path stroke="#5a5a5a" stroke-width="3.4" stroke-linecap="round" d="M1477.5 1228.3h0M1477.5 1261.3h0M1480.6 1262.8h0M1477.5 1264.8h0M1480.0 1267.3h0M1477.5 1269.7h0M1474.0 1269.8h0M1480.6 1271.3h0M1484.1 1271.3h0M1477.5 1280.0h0M1479.9 1282.6h0M1476.6 1283.8h0M1481.2 1285.8h0M1473.8 1285.9h0M1470.4 1286.7h0M1477.5 1287.8h0M1478.5 1291.1h0M1475.4 1292.8h0M1478.2 1294.8h0M1475.2 1296.7h0M1480.6 1297.4h0M1471.9 1297.9h0M1477.5 1301.4h0M1479.1 1304.5h0M1475.6 1305.1h0M1481.4 1307.1h0M1473.2 1307.7h0M1477.5 1325.8h0M1479.4 1328.8h0M1475.9 1329.2h0M1472.7 1330.7h0"/>
<line x1="1477.5" y1="1302.7" x2="1477.5" y2="1394.5" stroke="#000" stroke-width="1.7" />
<line x1="1473.7" y1="1302.7" x2="1481.2" y2="1302.7" stroke="#000" stroke-width="1.5" />
<line x1="1473.7" y1="1394.5" x2="1481.2" y2="1394.5" stroke="#000" stroke-width="1.5" />
<line x1="1472.2" y1="1348.6" x2="1482.7" y2="1348.6" stroke="#000" stroke-width="3" />
<rect x="1496.4" y="1384.9" width="26.0" height="3.4" rx="1.7" fill="#5a5a5a"/>
<path stroke="#5a5a5a" stroke-width="3.4" stroke-linecap="round" d="M1509.4 1261.9h0M1509.4 1273.6h0M1512.9 1273.7h0M1507.4 1276.4h0M1510.8 1277.0h0M1514.2 1278.1h0M1509.4 1287.3h0M1512.6 1288.9h0M1509.4 1292.7h0M1511.8 1295.3h0M1509.2 1297.5h0M1512.3 1299.0h0M1506.1 1299.2h0M1509.4 1304.7h0M1512.8 1305.7h0M1507.0 1307.2h0M1509.4 1312.9h0M1512.8 1314.0h0M1507.0 1315.4h0M1503.5 1315.9h0M1509.7 1317.6h0M1509.4 1322.4h0"/>
<line x1="1509.4" y1="1323.3" x2="1509.4" y2="1402.4" stroke="#000" stroke-width="1.7" />
<line x1="1505.7" y1="1323.3" x2="1513.2" y2="1323.3" stroke="#000" stroke-width="1.5" />
<line x1="1505.7" y1="1402.4" x2="1513.2" y2="1402.4" stroke="#000" stroke-width="1.5" />
<line x1="1504.2" y1="1362.9" x2="1514.7" y2="1362.9" stroke="#000" stroke-width="3" />
<path stroke="#5a5a5a" stroke-width="3.4" stroke-linecap="round" d="M1541.4 1228.3h0M1541.4 1260.3h0M1541.4 1265.5h0M1544.9 1266.1h0M1541.4 1271.4h0M1544.5 1273.2h0M1539.1 1274.0h0M1535.6 1274.4h0M1541.4 1276.7h0M1544.9 1277.3h0M1538.3 1278.2h0M1547.9 1279.1h0M1541.4 1283.5h0M1543.7 1286.1h0M1540.5 1287.5h0M1537.1 1288.4h0M1541.4 1293.1h0M1544.8 1293.8h0M1538.3 1294.8h0M1542.4 1296.5h0M1545.7 1297.6h0M1536.7 1297.9h0M1549.2 1297.9h0M1533.2 1298.1h0M1540.4 1299.4h0M1552.3 1299.4h0M1543.6 1300.8h0M1541.4 1304.2h0M1544.9 1304.6h0M1538.0 1304.6h0M1548.3 1305.4h0M1534.6 1305.8h0M1531.1 1306.0h0M1551.7 1306.4h0M1527.8 1306.9h0M1541.4 1308.2h0M1544.7 1309.5h0M1538.3 1309.8h0M1534.8 1310.3h0M1547.7 1311.3h0M1541.4 1312.2h0M1532.1 1312.4h0M1550.8 1312.9h0M1544.7 1313.5h0M1538.2 1313.5h0M1528.8 1313.8h0M1547.9 1314.9h0M1535.0 1315.0h0M1553.4 1315.2h0M1541.4 1316.1h0M1531.9 1316.6h0M1536.8 1316.9h0M1544.4 1318.0h0M1547.8 1318.4h0M1541.4 1319.9h0M1535.1 1320.0h0M1550.6 1320.6h0M1531.8 1321.1h0M1543.7 1322.6h0M1541.4 1327.5h0M1544.8 1328.4h0M1538.6 1329.6h0M1535.1 1329.8h0M1547.4 1330.7h0M1541.6 1331.3h0M1532.3 1331.9h0M1550.4 1332.6h0M1537.5 1332.9h0M1544.5 1333.3h0M1541.4 1335.2h0M1547.4 1335.3h0M1538.2 1336.5h0M1534.7 1336.6h0M1550.5 1337.0h0M1541.4 1340.2h0M1544.9 1340.7h0M1538.1 1341.4h0M1534.6 1341.5h0M1541.4 1344.8h0M1544.9 1345.1h0M1538.2 1346.1h0M1541.4 1348.7h0M1544.9 1348.7h0M1538.6 1350.8h0M1547.6 1351.0h0M1535.2 1351.6h0M1541.4 1353.1h0M1544.6 1354.6h0M1538.7 1355.3h0M1541.7 1357.1h0M1545.6 1357.9h0M1536.8 1358.2h0M1540.5 1360.3h0M1548.0 1360.4h0M1543.4 1362.2h0M1537.9 1362.7h0M1534.5 1363.4h0M1541.4 1366.5h0M1544.8 1367.4h0M1538.4 1368.2h0M1534.9 1368.3h0M1541.4 1370.1h0M1546.8 1370.3h0M1550.2 1370.8h0M1541.4 1375.6h0M1544.8 1376.3h0M1538.1 1376.6h0M1534.6 1376.8h0M1548.0 1377.8h0M1541.4 1380.1h0M1544.8 1380.9h0"/>
<line x1="1541.4" y1="1296.4" x2="1541.4" y2="1370.8" stroke="#000" stroke-width="1.7" />
<line x1="1537.7" y1="1296.4" x2="1545.2" y2="1296.4" stroke="#000" stroke-width="1.5" />
<line x1="1537.7" y1="1370.8" x2="1545.2" y2="1370.8" stroke="#000" stroke-width="1.5" />
<line x1="1536.2" y1="1332.8" x2="1546.7" y2="1332.8" stroke="#000" stroke-width="3" />
<path stroke="#5a5a5a" stroke-width="3.4" stroke-linecap="round" d="M1573.4 1249.2h0M1573.4 1253.4h0M1573.4 1258.4h0M1576.7 1259.5h0M1573.4 1262.3h0M1576.7 1263.3h0M1573.4 1266.0h0M1569.9 1266.1h0M1575.2 1268.9h0M1573.4 1272.0h0M1576.8 1272.6h0M1571.0 1274.6h0M1567.5 1274.7h0M1574.3 1275.9h0M1577.8 1276.0h0M1581.3 1276.3h0M1571.7 1278.3h0M1568.3 1278.7h0M1564.8 1278.9h0M1574.2 1280.8h0M1571.4 1282.9h0M1576.8 1283.1h0M1568.0 1283.6h0M1580.0 1284.6h0M1564.8 1284.9h0M1574.0 1285.3h0M1583.3 1285.8h0M1561.4 1285.9h0M1586.8 1285.9h0M1570.8 1286.9h0M1576.7 1287.5h0M1567.5 1287.9h0M1580.0 1288.8h0M1573.4 1289.5h0M1564.6 1290.0h0M1576.2 1291.5h0M1570.6 1291.6h0M1573.4 1295.9h0M1576.9 1296.1h0M1570.3 1297.5h0M1566.8 1297.5h0M1579.8 1298.1h0M1573.4 1301.7h0M1576.3 1303.7h0M1570.6 1303.8h0M1567.1 1304.1h0M1579.7 1304.1h0M1563.6 1304.3h0M1583.2 1304.4h0M1560.2 1305.0h0M1586.6 1305.2h0M1581.9 1305.7h0M1573.4 1306.3h0M1574.5 1306.6h0M1570.5 1306.6h0M1563.9 1306.8h0M1577.9 1307.3h0M1586.8 1307.6h0M1573.3 1309.9h0M1569.7 1310.1h0M1579.9 1310.2h0M1575.5 1312.5h0M1572.1 1313.3h0M1568.7 1314.2h0M1578.4 1314.6h0M1565.3 1314.7h0M1573.4 1317.1h0M1580.6 1317.3h0M1569.9 1317.6h0M1576.2 1319.2h0M1567.1 1319.7h0M1573.4 1321.4h0M1578.7 1321.7h0M1570.1 1322.6h0M1575.7 1324.1h0M1567.0 1324.2h0M1572.5 1325.4h0M1575.2 1327.6h0M1572.1 1329.2h0M1577.7 1330.1h0M1569.1 1331.0h0M1573.9 1332.1h0M1580.4 1332.3h0M1566.2 1333.0h0M1583.8 1333.1h0M1572.3 1335.2h0M1575.8 1335.4h0M1573.9 1338.3h0M1570.5 1339.0h0M1577.3 1339.1h0M1567.1 1340.0h0M1580.6 1340.4h0M1563.9 1341.5h0M1583.9 1341.5h0M1573.4 1344.6h0M1576.8 1345.6h0M1573.4 1349.8h0M1576.1 1352.0h0M1573.4 1355.2h0M1576.9 1355.6h0M1570.0 1355.9h0M1573.4 1359.7h0M1576.8 1360.5h0M1571.5 1362.6h0M1574.6 1364.2h0M1578.1 1364.8h0M1570.3 1365.9h0M1567.1 1367.1h0M1573.4 1371.4h0M1573.4 1382.2h0"/>
<line x1="1573.4" y1="1272.6" x2="1573.4" y2="1345.4" stroke="#000" stroke-width="1.7" />
<line x1="1569.6" y1="1272.6" x2="1577.1" y2="1272.6" stroke="#000" stroke-width="1.5" />
<line x1="1569.6" y1="1345.4" x2="1577.1" y2="1345.4" stroke="#000" stroke-width="1.5" />
<line x1="1568.1" y1="1309.0" x2="1578.6" y2="1309.0" stroke="#000" stroke-width="3" />
<rect x="1592.4" y="1384.9" width="26.0" height="3.4" rx="1.7" fill="#5a5a5a"/>
<path stroke="#5a5a5a" stroke-width="3.4" stroke-linecap="round" d="M1605.4 1340.9h0M1605.8 1344.4h0M1602.4 1345.2h0M1605.4 1358.8h0M1608.7 1359.7h0M1603.8 1361.9h0M1605.5 1365.0h0M1602.3 1366.3h0M1605.4 1369.4h0M1608.8 1370.2h0M1602.5 1371.5h0M1605.4 1375.1h0"/>
<line x1="1605.4" y1="1366.0" x2="1605.4" y2="1397.7" stroke="#000" stroke-width="1.7" />
<line x1="1601.6" y1="1366.0" x2="1609.1" y2="1366.0" stroke="#000" stroke-width="1.5" />
<line x1="1601.6" y1="1397.7" x2="1609.1" y2="1397.7" stroke="#000" stroke-width="1.5" />
<line x1="1600.1" y1="1381.9" x2="1610.6" y2="1381.9" stroke="#000" stroke-width="3" />
<rect x="1624.3" y="1384.9" width="26.0" height="3.4" rx="1.7" fill="#5a5a5a"/>
<line x1="1632.1" y1="1386.6" x2="1642.6" y2="1386.6" stroke="#000" stroke-width="3" />
<rect x="1656.3" y="1384.9" width="26.0" height="3.4" rx="1.7" fill="#5a5a5a"/>
<path stroke="#5a5a5a" stroke-width="3.4" stroke-linecap="round" d="M1669.3 1312.2h0M1669.3 1351.5h0M1672.8 1351.5h0M1666.4 1353.5h0M1669.3 1368.1h0M1671.3 1371.0h0M1669.3 1377.3h0"/>
<line x1="1669.3" y1="1375.5" x2="1669.3" y2="1392.9" stroke="#000" stroke-width="1.7" />
<line x1="1665.5" y1="1375.5" x2="1673.0" y2="1375.5" stroke="#000" stroke-width="1.5" />
<line x1="1665.5" y1="1392.9" x2="1673.0" y2="1392.9" stroke="#000" stroke-width="1.5" />
<line x1="1664.0" y1="1385.0" x2="1674.5" y2="1385.0" stroke="#000" stroke-width="3" />
<rect x="1688.3" y="1384.9" width="26.0" height="3.4" rx="1.7" fill="#5a5a5a"/>
<line x1="1696.0" y1="1386.6" x2="1706.5" y2="1386.6" stroke="#000" stroke-width="3" />
<rect x="1720.2" y="1384.9" width="26.0" height="3.4" rx="1.7" fill="#5a5a5a"/>
<line x1="1728.0" y1="1386.6" x2="1738.5" y2="1386.6" stroke="#000" stroke-width="3" />
<rect x="1752.2" y="1384.9" width="26.0" height="3.4" rx="1.7" fill="#5a5a5a"/>
<path stroke="#5a5a5a" stroke-width="3.4" stroke-linecap="round" d="M1765.2 1334.8h0M1765.2 1338.5h0M1765.2 1344.9h0M1768.6 1345.8h0M1761.8 1345.9h0M1771.8 1347.2h0M1759.1 1348.1h0M1765.2 1348.8h0M1768.4 1350.2h0M1765.2 1356.4h0M1768.6 1357.1h0M1762.3 1358.3h0M1765.2 1362.2h0M1768.6 1363.1h0M1762.2 1363.9h0M1765.2 1366.7h0"/>
<line x1="1765.2" y1="1366.0" x2="1765.2" y2="1392.9" stroke="#000" stroke-width="1.7" />
<line x1="1761.5" y1="1366.0" x2="1769.0" y2="1366.0" stroke="#000" stroke-width="1.5" />
<line x1="1761.5" y1="1392.9" x2="1769.0" y2="1392.9" stroke="#000" stroke-width="1.5" />
<line x1="1760.0" y1="1380.3" x2="1770.5" y2="1380.3" stroke="#000" stroke-width="3" />
<rect x="1784.2" y="1384.9" width="26.0" height="3.4" rx="1.7" fill="#5a5a5a"/>
<path stroke="#5a5a5a" stroke-width="3.4" stroke-linecap="round" d="M1797.2 1277.3h0M1797.2 1282.5h0M1800.6 1283.2h0M1797.2 1304.1h0M1797.2 1308.9h0M1797.2 1317.7h0M1797.2 1326.8h0M1800.6 1327.5h0M1797.2 1333.2h0M1799.8 1335.5h0M1797.2 1337.8h0M1793.7 1337.8h0M1797.2 1342.7h0M1800.7 1343.2h0M1793.7 1343.3h0M1790.2 1343.5h0M1803.9 1344.5h0M1787.2 1345.2h0M1807.2 1345.7h0M1783.7 1345.7h0M1797.8 1346.2h0M1794.5 1347.3h0M1801.0 1347.6h0M1791.4 1349.0h0M1804.1 1349.2h0M1788.0 1349.6h0M1797.2 1350.1h0M1807.3 1350.7h0M1784.8 1350.9h0M1799.5 1352.7h0M1796.6 1354.7h0M1793.1 1355.1h0M1801.9 1355.2h0M1789.6 1355.3h0M1805.4 1355.5h0M1786.4 1356.7h0M1808.5 1357.1h0M1797.2 1358.6h0M1800.7 1358.6h0M1793.7 1359.2h0M1804.1 1359.3h0M1790.4 1360.2h0M1807.4 1360.6h0M1787.0 1361.2h0M1797.2 1362.1h0M1800.5 1363.1h0M1793.9 1363.2h0M1804.0 1363.5h0M1789.9 1363.7h0M1809.1 1363.7h0M1785.7 1364.4h0M1789.4 1364.6h0M1803.3 1364.9h0M1797.2 1365.6h0M1800.4 1367.0h0M1794.3 1367.7h0M1805.5 1367.7h0M1790.8 1367.8h0M1787.4 1368.3h0M1808.7 1369.0h0M1797.5 1369.1h0M1784.0 1369.2h0M1789.1 1369.6h0M1797.9 1369.7h0M1802.4 1369.9h0M1808.7 1370.1h0M1788.3 1370.8h0M1794.7 1371.3h0M1808.7 1371.4h0M1796.0 1371.4h0M1811.1 1371.7h0M1797.5 1371.9h0M1805.2 1372.0h0M1789.4 1372.2h0M1783.8 1372.3h0M1806.3 1372.6h0M1790.0 1372.8h0M1800.7 1373.3h0M1809.3 1373.3h0M1793.4 1373.8h0M1795.3 1374.3h0M1804.0 1374.3h0M1784.4 1374.3h0M1784.4 1374.5h0M1788.9 1374.5h0M1787.3 1374.5h0M1804.6 1375.6h0M1798.1 1376.5h0M1810.8 1376.5h0M1792.0 1377.0h0M1801.4 1377.5h0M1795.5 1378.8h0M1789.0 1378.9h0M1806.0 1378.9h0M1798.6 1380.4h0M1795.7 1382.5h0M1801.0 1383.0h0M1798.0 1385.2h0"/>
<line x1="1797.2" y1="1342.3" x2="1797.2" y2="1386.6" stroke="#000" stroke-width="1.7" />
<line x1="1793.4" y1="1342.3" x2="1800.9" y2="1342.3" stroke="#000" stroke-width="1.5" />
<line x1="1793.4" y1="1386.6" x2="1800.9" y2="1386.6" stroke="#000" stroke-width="1.5" />
<line x1="1791.9" y1="1362.9" x2="1802.4" y2="1362.9" stroke="#000" stroke-width="3" />
<rect x="1816.1" y="1384.9" width="26.0" height="3.4" rx="1.7" fill="#5a5a5a"/>
<path stroke="#5a5a5a" stroke-width="3.4" stroke-linecap="round" d="M1829.1 1309.3h0M1832.5 1310.4h0M1826.3 1311.3h0M1829.1 1314.2h0M1832.3 1315.6h0M1826.2 1316.1h0M1829.1 1328.8h0M1829.1 1333.1h0M1829.1 1340.7h0M1829.1 1349.4h0M1829.1 1355.8h0M1832.4 1357.1h0M1826.5 1358.1h0M1823.1 1359.0h0M1835.2 1359.2h0M1829.1 1360.7h0M1832.2 1362.4h0M1826.1 1362.4h0M1822.6 1362.5h0M1835.7 1362.7h0M1819.1 1362.7h0M1839.2 1362.8h0M1815.7 1363.6h0M1842.6 1363.7h0M1822.2 1364.0h0M1825.6 1364.2h0M1829.1 1364.5h0M1824.0 1364.5h0M1832.9 1365.8h0M1836.3 1366.6h0M1820.0 1366.7h0M1827.5 1367.6h0M1839.6 1367.6h0M1816.7 1367.7h0M1823.6 1368.0h0M1843.1 1368.1h0M1829.3 1370.6h0M1825.8 1370.7h0M1832.8 1370.7h0M1822.0 1371.1h0M1836.3 1371.2h0M1818.6 1372.0h0M1839.7 1372.1h0M1815.2 1372.2h0M1832.8 1372.3h0M1836.7 1372.4h0M1843.1 1372.4h0M1829.8 1372.5h0M1822.2 1372.8h0M1836.0 1372.9h0M1816.5 1372.9h0M1829.6 1372.9h0M1820.1 1373.3h0M1834.4 1373.9h0M1818.3 1374.1h0M1826.4 1374.4h0M1817.3 1374.7h0M1824.9 1374.9h0M1838.6 1375.0h0M1817.7 1375.1h0M1831.4 1375.3h0M1831.8 1375.4h0M1842.0 1375.9h0M1826.4 1376.0h0M1829.7 1376.2h0M1822.1 1377.0h0M1835.5 1377.2h0M1835.4 1377.5h0M1815.3 1377.7h0M1837.3 1378.0h0M1819.0 1378.6h0M1826.4 1378.8h0M1842.3 1378.8h0M1831.6 1379.2h0M1832.4 1379.2h0M1822.6 1379.6h0M1816.7 1379.9h0M1832.5 1380.2h0M1835.9 1380.2h0M1821.8 1380.3h0M1836.6 1380.8h0M1834.1 1380.8h0M1831.9 1381.0h0M1828.6 1382.1h0M1825.2 1382.7h0M1820.3 1383.4h0M1838.0 1384.0h0M1833.2 1384.2h0M1816.9 1384.3h0M1829.9 1385.4h0"/>
<line x1="1829.1" y1="1356.5" x2="1829.1" y2="1388.2" stroke="#000" stroke-width="1.7" />
<line x1="1825.4" y1="1356.5" x2="1832.9" y2="1356.5" stroke="#000" stroke-width="1.5" />
<line x1="1825.4" y1="1388.2" x2="1832.9" y2="1388.2" stroke="#000" stroke-width="1.5" />
<line x1="1823.9" y1="1373.9" x2="1834.4" y2="1373.9" stroke="#000" stroke-width="3" />
<rect x="1848.1" y="1384.9" width="26.0" height="3.4" rx="1.7" fill="#5a5a5a"/>
<line x1="1855.9" y1="1386.6" x2="1866.4" y2="1386.6" stroke="#000" stroke-width="3" />
<rect x="1880.1" y="1384.9" width="26.0" height="3.4" rx="1.7" fill="#5a5a5a"/>
<path stroke="#5a5a5a" stroke-width="3.4" stroke-linecap="round" d="M1893.1 1342.6h0M1895.8 1344.8h0M1891.2 1345.5h0M1888.2 1347.4h0M1898.1 1347.4h0M1893.1 1350.2h0M1896.4 1351.3h0M1893.1 1354.0h0M1896.5 1355.0h0M1889.8 1355.2h0M1886.3 1355.2h0M1899.9 1355.4h0M1883.4 1357.2h0M1893.8 1357.5h0M1902.6 1357.7h0M1906.1 1358.0h0M1891.0 1359.5h0M1894.1 1361.1h0M1891.5 1363.5h0M1896.5 1363.7h0M1888.0 1364.1h0M1893.1 1367.8h0M1894.5 1371.0h0M1891.8 1373.3h0M1895.1 1374.5h0"/>
<line x1="1893.1" y1="1362.9" x2="1893.1" y2="1391.3" stroke="#000" stroke-width="1.7" />
<line x1="1889.3" y1="1362.9" x2="1896.8" y2="1362.9" stroke="#000" stroke-width="1.5" />
<line x1="1889.3" y1="1391.3" x2="1896.8" y2="1391.3" stroke="#000" stroke-width="1.5" />
<line x1="1887.8" y1="1377.1" x2="1898.3" y2="1377.1" stroke="#000" stroke-width="3" />
<rect x="1912.1" y="1384.9" width="26.0" height="3.4" rx="1.7" fill="#5a5a5a"/>
<path stroke="#5a5a5a" stroke-width="3.4" stroke-linecap="round" d="M1925.1 1228.3h0M1925.1 1307.4h0M1925.1 1348.4h0M1928.6 1348.6h0M1925.1 1358.2h0M1928.1 1359.9h0M1925.1 1365.0h0M1925.1 1369.0h0M1928.5 1369.6h0M1925.1 1374.9h0"/>
<line x1="1925.1" y1="1362.9" x2="1925.1" y2="1399.3" stroke="#000" stroke-width="1.7" />
<line x1="1921.3" y1="1362.9" x2="1928.8" y2="1362.9" stroke="#000" stroke-width="1.5" />
<line x1="1921.3" y1="1399.3" x2="1928.8" y2="1399.3" stroke="#000" stroke-width="1.5" />
<line x1="1919.8" y1="1381.9" x2="1930.3" y2="1381.9" stroke="#000" stroke-width="3" />
<rect x="1944.0" y="1384.9" width="26.0" height="3.4" rx="1.7" fill="#5a5a5a"/>
<line x1="1951.8" y1="1386.6" x2="1962.3" y2="1386.6" stroke="#000" stroke-width="3" />
<polyline points="1413.5,1282.1 1413.5,1282.1 1445.5,1282.1 1445.5,1287.7" stroke="#ff0000" stroke-width="2.0" fill="none" />
<text transform="translate(1398.5,1295.0) rotate(-60) scale(0.756,1)" font-size="23" font-weight="bold" fill="#ff0000" stroke="#ff0000" stroke-width="0.45"><tspan font-style="italic">P</tspan> = 2.17 <tspan font-weight="normal" font-size="28.8" stroke-width="0" dy="1.8">×</tspan><tspan dy="-1.8"> 10</tspan><tspan font-size="14.3" dy="-8.3">-2</tspan></text>
<polyline points="1477.5,1215.6 1477.5,1215.6 1509.4,1215.6 1509.4,1258.1" stroke="#ff0000" stroke-width="2.0" fill="none" />
<text transform="translate(1462.6,1207.0) scale(0.743,1)" font-size="23" font-weight="bold" fill="#ff0000" stroke="#ff0000" stroke-width="0.45"><tspan font-style="italic">P</tspan> = 1.11 <tspan font-weight="normal" font-size="28.8" stroke-width="0" dy="1.8">×</tspan><tspan dy="-1.8"> 10</tspan><tspan font-size="14.3" dy="-8.3">-2</tspan></text>
<polyline points="1541.4,1243.2 1541.4,1232.6 1573.4,1232.6 1573.4,1232.6" stroke="#0028ff" stroke-width="2.0" fill="none" />
<text transform="translate(1547.5,1224.0) scale(0.730,1)" font-size="23" font-weight="bold" fill="#0028ff" stroke="#0028ff" stroke-width="0.45"><tspan font-style="italic">P</tspan> = 1.86 <tspan font-weight="normal" font-size="28.8" stroke-width="0" dy="1.8">×</tspan><tspan dy="-1.8"> 10</tspan><tspan font-size="14.3" dy="-8.3">-6</tspan></text>
<polyline points="1605.4,1245.7 1605.4,1245.7 1637.3,1245.7 1637.3,1381.1" stroke="#ff0000" stroke-width="2.0" fill="none" />
<text transform="translate(1599.3,1247.3) scale(0.732,1)" font-size="23" font-weight="bold" fill="#ff0000" stroke="#ff0000" stroke-width="0.45"><tspan font-style="italic">P</tspan> = 5.24 <tspan font-weight="normal" font-size="28.8" stroke-width="0" dy="1.8">×</tspan><tspan dy="-1.8"> 10</tspan><tspan font-size="14.3" dy="-8.3">-3</tspan></text>
<polyline points="1669.3,1308.1 1669.3,1308.1 1701.3,1308.1 1701.3,1381.9" stroke="#ff0000" stroke-width="2.0" fill="none" />
<text transform="translate(1690.5,1304.6) rotate(-57) scale(0.756,1)" font-size="23" font-weight="bold" fill="#ff0000" stroke="#ff0000" stroke-width="0.45"><tspan font-style="italic">P</tspan> = 2.32 <tspan font-weight="normal" font-size="28.8" stroke-width="0" dy="1.8">×</tspan><tspan dy="-1.8"> 10</tspan><tspan font-size="14.3" dy="-8.3">-2</tspan></text>
<polyline points="1733.2,1381.1 1733.2,1326.8 1765.2,1326.8 1765.2,1329.6" stroke="#0028ff" stroke-width="2.0" fill="none" />
<text transform="translate(1714.0,1348.0) rotate(-61) scale(0.756,1)" font-size="23" font-weight="bold" fill="#0028ff" stroke="#0028ff" stroke-width="0.45"><tspan font-style="italic">P</tspan> = 2.95 <tspan font-weight="normal" font-size="28.8" stroke-width="0" dy="1.8">×</tspan><tspan dy="-1.8"> 10</tspan><tspan font-size="14.3" dy="-8.3">-6</tspan></text>
<polyline points="1797.2,1261.1 1797.2,1261.1 1829.1,1261.1 1829.1,1304.0" stroke="#ff0000" stroke-width="2.0" fill="none" />
<text transform="translate(1781.0,1257.0) scale(0.736,1)" font-size="23" font-weight="bold" fill="#ff0000" stroke="#ff0000" stroke-width="0.45"><tspan font-style="italic">P</tspan> = 1.04 <tspan font-weight="normal" font-size="28.8" stroke-width="0" dy="1.8">×</tspan><tspan dy="-1.8"> 10</tspan><tspan font-size="14.3" dy="-8.3">-4</tspan></text>
<polyline points="1861.1,1381.1 1861.1,1327.2 1893.1,1327.2 1893.1,1327.2" stroke="#0028ff" stroke-width="2.0" fill="none" />
<text transform="translate(1846.0,1342.0) rotate(-54) scale(0.768,1)" font-size="23" font-weight="bold" fill="#0028ff" stroke="#0028ff" stroke-width="0.45"><tspan font-style="italic">P</tspan> = 3.30 <tspan font-weight="normal" font-size="28.8" stroke-width="0" dy="1.8">×</tspan><tspan dy="-1.8"> 10</tspan><tspan font-size="14.3" dy="-8.3">-10</tspan></text>
<polyline points="1925.1,1226.1 1925.1,1226.1 1957.0,1226.1 1957.0,1381.1" stroke="#ff0000" stroke-width="2.0" fill="none" />
<text transform="translate(1860.3,1222.2) scale(0.734,1)" font-size="23" font-weight="bold" fill="#ff0000" stroke="#ff0000" stroke-width="0.45"><tspan font-style="italic">P</tspan> = 3.40 <tspan font-weight="normal" font-size="28.8" stroke-width="0" dy="1.8">×</tspan><tspan dy="-1.8"> 10</tspan><tspan font-size="14.3" dy="-8.3">-3</tspan></text>
<rect x="1395.9" y="1421.3" width="64.0" height="205.4" fill="#e4e4e4" />
<rect x="1525.0" y="1421.3" width="64.0" height="205.4" fill="#e4e4e4" />
<rect x="1654.1" y="1421.3" width="64.0" height="205.4" fill="#e4e4e4" />
<rect x="1783.2" y="1421.3" width="64.0" height="205.4" fill="#e4e4e4" />
<rect x="1912.3" y="1421.3" width="64.0" height="205.4" fill="#e4e4e4" />
<line x1="1330.0" y1="1429.6" x2="1330.0" y2="1629.5" stroke="#000" stroke-width="1.8" />
<line x1="1329.1" y1="1628.7" x2="1977.0" y2="1628.7" stroke="#222" stroke-width="1.6" />
<line x1="1326.0" y1="1597.0" x2="1330.0" y2="1597.0" stroke="#000" stroke-width="1.4" />
<text transform="translate(1311.4,1608.5) scale(0.750,1)" font-size="27" font-weight="bold" fill="#000" stroke="#000" stroke-width="0.50" >0</text>
<line x1="1326.0" y1="1557.4" x2="1330.0" y2="1557.4" stroke="#000" stroke-width="1.4" />
<text transform="translate(1299.8,1568.9) scale(0.750,1)" font-size="27" font-weight="bold" fill="#000" stroke="#000" stroke-width="0.50" >25</text>
<line x1="1326.0" y1="1517.8" x2="1330.0" y2="1517.8" stroke="#000" stroke-width="1.4" />
<text transform="translate(1300.0,1529.3) scale(0.750,1)" font-size="27" font-weight="bold" fill="#000" stroke="#000" stroke-width="0.50" >50</text>
<line x1="1326.0" y1="1478.3" x2="1330.0" y2="1478.3" stroke="#000" stroke-width="1.4" />
<text transform="translate(1299.8,1489.8) scale(0.750,1)" font-size="27" font-weight="bold" fill="#000" stroke="#000" stroke-width="0.50" >75</text>
<line x1="1326.0" y1="1438.7" x2="1330.0" y2="1438.7" stroke="#000" stroke-width="1.4" />
<text transform="translate(1288.9,1450.2) scale(0.750,1)" font-size="27" font-weight="bold" fill="#000" stroke="#000" stroke-width="0.50" >100</text>
<line x1="1349.6" y1="1628.7" x2="1349.6" y2="1632.2" stroke="#000" stroke-width="1.6" />
<line x1="1381.6" y1="1628.7" x2="1381.6" y2="1632.2" stroke="#000" stroke-width="1.6" />
<line x1="1413.5" y1="1628.7" x2="1413.5" y2="1632.2" stroke="#000" stroke-width="1.6" />
<line x1="1445.5" y1="1628.7" x2="1445.5" y2="1632.2" stroke="#000" stroke-width="1.6" />
<line x1="1477.5" y1="1628.7" x2="1477.5" y2="1632.2" stroke="#000" stroke-width="1.6" />
<line x1="1509.4" y1="1628.7" x2="1509.4" y2="1632.2" stroke="#000" stroke-width="1.6" />
<line x1="1541.4" y1="1628.7" x2="1541.4" y2="1632.2" stroke="#000" stroke-width="1.6" />
<line x1="1573.4" y1="1628.7" x2="1573.4" y2="1632.2" stroke="#000" stroke-width="1.6" />
<line x1="1605.4" y1="1628.7" x2="1605.4" y2="1632.2" stroke="#000" stroke-width="1.6" />
<line x1="1637.3" y1="1628.7" x2="1637.3" y2="1632.2" stroke="#000" stroke-width="1.6" />
<line x1="1669.3" y1="1628.7" x2="1669.3" y2="1632.2" stroke="#000" stroke-width="1.6" />
<line x1="1701.3" y1="1628.7" x2="1701.3" y2="1632.2" stroke="#000" stroke-width="1.6" />
<line x1="1733.2" y1="1628.7" x2="1733.2" y2="1632.2" stroke="#000" stroke-width="1.6" />
<line x1="1765.2" y1="1628.7" x2="1765.2" y2="1632.2" stroke="#000" stroke-width="1.6" />
<line x1="1797.2" y1="1628.7" x2="1797.2" y2="1632.2" stroke="#000" stroke-width="1.6" />
<line x1="1829.1" y1="1628.7" x2="1829.1" y2="1632.2" stroke="#000" stroke-width="1.6" />
<line x1="1861.1" y1="1628.7" x2="1861.1" y2="1632.2" stroke="#000" stroke-width="1.6" />
<line x1="1893.1" y1="1628.7" x2="1893.1" y2="1632.2" stroke="#000" stroke-width="1.6" />
<line x1="1925.1" y1="1628.7" x2="1925.1" y2="1632.2" stroke="#000" stroke-width="1.6" />
<line x1="1957.0" y1="1628.7" x2="1957.0" y2="1632.2" stroke="#000" stroke-width="1.6" />
<text transform="translate(1284.3,1583.8) rotate(-90) scale(0.812,1)" font-size="25.7" font-weight="bold" fill="#000" stroke="#000" stroke-width="0.50" >% SBS / Total</text>
<line x1="1288.0" y1="1452.3" x2="1288.0" y2="1583.3" stroke="#444" stroke-width="1.6" />
<text transform="translate(1338.0,1458.8) scale(0.747,1)" font-size="31" font-weight="bold" fill="#ff0000" stroke="#ff0000" stroke-width="0.50" >Cluster 1</text>
<path stroke="#5a5a5a" stroke-width="3.4" stroke-linecap="round" d="M1349.6 1580.5h0M1353.1 1580.9h0M1346.3 1581.6h0M1356.2 1582.5h0M1349.6 1584.2h0M1344.0 1584.3h0M1353.1 1584.6h0M1347.5 1587.0h0M1355.2 1587.4h0M1350.9 1587.6h0"/>
<line x1="1349.6" y1="1574.8" x2="1349.6" y2="1589.1" stroke="#000" stroke-width="1.7" />
<line x1="1345.8" y1="1574.8" x2="1353.3" y2="1574.8" stroke="#000" stroke-width="1.5" />
<line x1="1345.8" y1="1589.1" x2="1353.3" y2="1589.1" stroke="#000" stroke-width="1.5" />
<line x1="1344.3" y1="1582.8" x2="1354.8" y2="1582.8" stroke="#000" stroke-width="3" />
<path stroke="#5a5a5a" stroke-width="3.4" stroke-linecap="round" d="M1381.6 1573.2h0M1383.8 1575.9h0M1380.5 1576.9h0M1377.0 1577.5h0M1386.9 1577.6h0M1373.6 1578.2h0M1390.2 1578.5h0M1370.1 1578.5h0M1382.6 1579.7h0M1381.6 1583.1h0M1385.0 1584.0h0M1381.6 1586.8h0"/>
<line x1="1381.6" y1="1573.3" x2="1381.6" y2="1585.9" stroke="#000" stroke-width="1.7" />
<line x1="1377.8" y1="1573.3" x2="1385.3" y2="1573.3" stroke="#000" stroke-width="1.5" />
<line x1="1377.8" y1="1585.9" x2="1385.3" y2="1585.9" stroke="#000" stroke-width="1.5" />
<line x1="1376.3" y1="1579.6" x2="1386.8" y2="1579.6" stroke="#000" stroke-width="3" />
<rect x="1407.0" y="1595.3" width="13.0" height="3.4" rx="1.7" fill="#5a5a5a"/>
<path stroke="#5a5a5a" stroke-width="3.4" stroke-linecap="round" d="M1413.5 1570.0h0M1416.4 1572.0h0M1412.0 1573.2h0M1414.8 1575.2h0M1409.9 1575.9h0M1417.9 1576.9h0M1413.2 1578.4h0M1407.9 1578.8h0M1413.5 1586.7h0"/>
<line x1="1413.5" y1="1560.6" x2="1413.5" y2="1597.0" stroke="#000" stroke-width="1.7" />
<line x1="1409.8" y1="1560.6" x2="1417.3" y2="1560.6" stroke="#000" stroke-width="1.5" />
<line x1="1409.8" y1="1597.0" x2="1417.3" y2="1597.0" stroke="#000" stroke-width="1.5" />
<line x1="1408.3" y1="1578.0" x2="1418.8" y2="1578.0" stroke="#000" stroke-width="3" />
<rect x="1439.0" y="1595.3" width="13.0" height="3.4" rx="1.7" fill="#5a5a5a"/>
<path stroke="#5a5a5a" stroke-width="3.4" stroke-linecap="round" d="M1445.5 1564.0h0M1445.5 1571.9h0M1446.9 1575.1h0M1445.5 1580.8h0M1448.7 1582.2h0M1445.5 1586.1h0M1449.0 1586.3h0M1442.2 1587.2h0M1451.2 1589.0h0"/>
<line x1="1445.5" y1="1574.8" x2="1445.5" y2="1597.0" stroke="#000" stroke-width="1.7" />
<line x1="1441.8" y1="1574.8" x2="1449.3" y2="1574.8" stroke="#000" stroke-width="1.5" />
<line x1="1441.8" y1="1597.0" x2="1449.3" y2="1597.0" stroke="#000" stroke-width="1.5" />
<line x1="1440.3" y1="1585.9" x2="1450.8" y2="1585.9" stroke="#000" stroke-width="3" />
<rect x="1464.5" y="1595.3" width="26.0" height="3.4" rx="1.7" fill="#5a5a5a"/>
<line x1="1472.2" y1="1597.0" x2="1482.7" y2="1597.0" stroke="#000" stroke-width="3" />
<rect x="1496.4" y="1595.3" width="26.0" height="3.4" rx="1.7" fill="#5a5a5a"/>
<path stroke="#5a5a5a" stroke-width="3.4" stroke-linecap="round" d="M1509.4 1543.2h0"/>
<line x1="1509.4" y1="1574.8" x2="1509.4" y2="1608.1" stroke="#000" stroke-width="1.7" />
<line x1="1505.7" y1="1574.8" x2="1513.2" y2="1574.8" stroke="#000" stroke-width="1.5" />
<line x1="1505.7" y1="1608.1" x2="1513.2" y2="1608.1" stroke="#000" stroke-width="1.5" />
<line x1="1504.2" y1="1592.3" x2="1514.7" y2="1592.3" stroke="#000" stroke-width="3" />
<path stroke="#5a5a5a" stroke-width="3.4" stroke-linecap="round" d="M1541.4 1490.7h0M1541.4 1495.4h0M1541.4 1500.0h0M1544.9 1500.1h0M1541.4 1507.4h0M1544.9 1507.4h0M1538.2 1508.7h0M1541.4 1513.5h0M1543.7 1516.2h0M1540.9 1518.2h0M1543.5 1520.5h0M1538.6 1520.9h0"/>
<line x1="1541.4" y1="1490.9" x2="1541.4" y2="1516.3" stroke="#000" stroke-width="1.7" />
<line x1="1537.7" y1="1490.9" x2="1545.2" y2="1490.9" stroke="#000" stroke-width="1.5" />
<line x1="1537.7" y1="1516.3" x2="1545.2" y2="1516.3" stroke="#000" stroke-width="1.5" />
<line x1="1536.2" y1="1505.2" x2="1546.7" y2="1505.2" stroke="#000" stroke-width="3" />
<path stroke="#5a5a5a" stroke-width="3.4" stroke-linecap="round" d="M1573.4 1494.3h0M1576.6 1495.7h0M1571.9 1497.4h0M1568.6 1498.5h0M1574.9 1499.2h0M1578.4 1499.4h0M1572.6 1501.8h0M1575.4 1503.8h0M1573.4 1507.0h0M1576.6 1508.5h0M1573.4 1513.1h0M1576.8 1513.7h0"/>
<line x1="1573.4" y1="1487.8" x2="1573.4" y2="1522.6" stroke="#000" stroke-width="1.7" />
<line x1="1569.6" y1="1487.8" x2="1577.1" y2="1487.8" stroke="#000" stroke-width="1.5" />
<line x1="1569.6" y1="1522.6" x2="1577.1" y2="1522.6" stroke="#000" stroke-width="1.5" />
<line x1="1568.1" y1="1505.2" x2="1578.6" y2="1505.2" stroke="#000" stroke-width="3" />
<rect x="1592.4" y="1595.3" width="26.0" height="3.4" rx="1.7" fill="#5a5a5a"/>
<line x1="1600.1" y1="1597.0" x2="1610.6" y2="1597.0" stroke="#000" stroke-width="3" />
<rect x="1624.3" y="1595.3" width="26.0" height="3.4" rx="1.7" fill="#5a5a5a"/>
<line x1="1632.1" y1="1597.0" x2="1642.6" y2="1597.0" stroke="#000" stroke-width="3" />
<rect x="1656.3" y="1595.3" width="26.0" height="3.4" rx="1.7" fill="#5a5a5a"/>
<path stroke="#5a5a5a" stroke-width="3.4" stroke-linecap="round" d="M1669.3 1579.6h0M1669.3 1590.7h0"/>
<line x1="1669.3" y1="1590.7" x2="1669.3" y2="1600.2" stroke="#000" stroke-width="1.7" />
<line x1="1665.5" y1="1590.7" x2="1673.0" y2="1590.7" stroke="#000" stroke-width="1.5" />
<line x1="1665.5" y1="1600.2" x2="1673.0" y2="1600.2" stroke="#000" stroke-width="1.5" />
<line x1="1664.0" y1="1595.4" x2="1674.5" y2="1595.4" stroke="#000" stroke-width="3" />
<rect x="1688.3" y="1595.3" width="26.0" height="3.4" rx="1.7" fill="#5a5a5a"/>
<line x1="1696.0" y1="1597.0" x2="1706.5" y2="1597.0" stroke="#000" stroke-width="3" />
<rect x="1720.2" y="1595.3" width="26.0" height="3.4" rx="1.7" fill="#5a5a5a"/>
<line x1="1728.0" y1="1597.0" x2="1738.5" y2="1597.0" stroke="#000" stroke-width="3" />
<rect x="1752.2" y="1595.3" width="26.0" height="3.4" rx="1.7" fill="#5a5a5a"/>
<path stroke="#5a5a5a" stroke-width="3.4" stroke-linecap="round" d="M1765.2 1566.9h0"/>
<line x1="1765.2" y1="1585.9" x2="1765.2" y2="1603.3" stroke="#000" stroke-width="1.7" />
<line x1="1761.5" y1="1585.9" x2="1769.0" y2="1585.9" stroke="#000" stroke-width="1.5" />
<line x1="1761.5" y1="1603.3" x2="1769.0" y2="1603.3" stroke="#000" stroke-width="1.5" />
<line x1="1760.0" y1="1595.4" x2="1770.5" y2="1595.4" stroke="#000" stroke-width="3" />
<rect x="1790.7" y="1595.3" width="13.0" height="3.4" rx="1.7" fill="#5a5a5a"/>
<path stroke="#5a5a5a" stroke-width="3.4" stroke-linecap="round" d="M1797.2 1562.5h0M1799.5 1565.2h0M1796.5 1566.9h0M1797.6 1570.2h0M1794.5 1571.7h0M1797.2 1574.5h0M1800.7 1574.8h0M1794.1 1576.2h0M1797.2 1582.9h0M1797.2 1587.9h0"/>
<line x1="1797.2" y1="1566.9" x2="1797.2" y2="1592.3" stroke="#000" stroke-width="1.7" />
<line x1="1793.4" y1="1566.9" x2="1800.9" y2="1566.9" stroke="#000" stroke-width="1.5" />
<line x1="1793.4" y1="1592.3" x2="1800.9" y2="1592.3" stroke="#000" stroke-width="1.5" />
<line x1="1791.9" y1="1579.6" x2="1802.4" y2="1579.6" stroke="#000" stroke-width="3" />
<rect x="1816.1" y="1595.3" width="26.0" height="3.4" rx="1.7" fill="#5a5a5a"/>
<path stroke="#5a5a5a" stroke-width="3.4" stroke-linecap="round" d="M1829.1 1581.1h0M1832.3 1582.6h0M1826.5 1583.4h0M1823.2 1584.7h0M1829.1 1586.2h0M1832.6 1586.2h0M1836.1 1586.5h0M1820.5 1586.9h0"/>
<line x1="1829.1" y1="1584.3" x2="1829.1" y2="1595.4" stroke="#000" stroke-width="1.7" />
<line x1="1825.4" y1="1584.3" x2="1832.9" y2="1584.3" stroke="#000" stroke-width="1.5" />
<line x1="1825.4" y1="1595.4" x2="1832.9" y2="1595.4" stroke="#000" stroke-width="1.5" />
<line x1="1823.9" y1="1590.7" x2="1834.4" y2="1590.7" stroke="#000" stroke-width="3" />
<rect x="1848.1" y="1595.3" width="26.0" height="3.4" rx="1.7" fill="#5a5a5a"/>
<line x1="1855.9" y1="1597.0" x2="1866.4" y2="1597.0" stroke="#000" stroke-width="3" />
<rect x="1886.6" y="1595.3" width="13.0" height="3.4" rx="1.7" fill="#5a5a5a"/>
<path stroke="#5a5a5a" stroke-width="3.4" stroke-linecap="round" d="M1893.1 1562.9h0M1896.0 1564.8h0M1893.1 1570.2h0M1896.4 1571.3h0M1890.3 1572.3h0M1886.9 1573.3h0M1899.2 1573.5h0M1893.1 1574.8h0M1884.2 1575.5h0M1893.5 1578.3h0"/>
<line x1="1893.1" y1="1554.3" x2="1893.1" y2="1589.1" stroke="#000" stroke-width="1.7" />
<line x1="1889.3" y1="1554.3" x2="1896.8" y2="1554.3" stroke="#000" stroke-width="1.5" />
<line x1="1889.3" y1="1589.1" x2="1896.8" y2="1589.1" stroke="#000" stroke-width="1.5" />
<line x1="1887.8" y1="1573.3" x2="1898.3" y2="1573.3" stroke="#000" stroke-width="3" />
<rect x="1918.6" y="1595.3" width="13.0" height="3.4" rx="1.7" fill="#5a5a5a"/>
<path stroke="#5a5a5a" stroke-width="3.4" stroke-linecap="round" d="M1925.1 1570.0h0M1925.1 1577.9h0M1928.6 1578.0h0M1925.1 1581.8h0M1928.6 1582.1h0M1922.6 1584.3h0M1925.9 1585.3h0"/>
<line x1="1925.1" y1="1570.1" x2="1925.1" y2="1597.0" stroke="#000" stroke-width="1.7" />
<line x1="1921.3" y1="1570.1" x2="1928.8" y2="1570.1" stroke="#000" stroke-width="1.5" />
<line x1="1921.3" y1="1597.0" x2="1928.8" y2="1597.0" stroke="#000" stroke-width="1.5" />
<line x1="1919.8" y1="1584.3" x2="1930.3" y2="1584.3" stroke="#000" stroke-width="3" />
<rect x="1944.0" y="1595.3" width="26.0" height="3.4" rx="1.7" fill="#5a5a5a"/>
<line x1="1951.8" y1="1597.0" x2="1962.3" y2="1597.0" stroke="#000" stroke-width="3" />
<polyline points="1797.2,1553.9 1797.2,1553.9 1829.1,1553.9 1829.1,1572.1" stroke="#ff0000" stroke-width="2.0" fill="none" />
<text transform="translate(1794.5,1548.7) rotate(-67) scale(0.756,1)" font-size="23" font-weight="bold" fill="#ff0000" stroke="#ff0000" stroke-width="0.45"><tspan font-style="italic">P</tspan> = 4.84 <tspan font-weight="normal" font-size="28.8" stroke-width="0" dy="1.8">×</tspan><tspan dy="-1.8"> 10</tspan><tspan font-size="14.3" dy="-8.3">-2</tspan></text>
<polyline points="1861.1,1597.0 1861.1,1540.5 1893.1,1540.5 1893.1,1540.5" stroke="#0028ff" stroke-width="2.0" fill="none" />
<text transform="translate(1862.4,1537.2) rotate(-69) scale(0.756,1)" font-size="23" font-weight="bold" fill="#0028ff" stroke="#0028ff" stroke-width="0.45"><tspan font-style="italic">P</tspan> = 1.15 <tspan font-weight="normal" font-size="28.8" stroke-width="0" dy="1.8">×</tspan><tspan dy="-1.8"> 10</tspan><tspan font-size="14.3" dy="-8.3">-3</tspan></text>
<polyline points="1925.1,1554.3 1925.1,1554.3 1957.0,1554.3 1957.0,1595.4" stroke="#ff0000" stroke-width="2.0" fill="none" />
<text transform="translate(1926.0,1548.7) rotate(-70) scale(0.756,1)" font-size="23" font-weight="bold" fill="#ff0000" stroke="#ff0000" stroke-width="0.45"><tspan font-style="italic">P</tspan> = 8.77 <tspan font-weight="normal" font-size="28.8" stroke-width="0" dy="1.8">×</tspan><tspan dy="-1.8"> 10</tspan><tspan font-size="14.3" dy="-8.3">-3</tspan></text>
<rect x="1395.9" y="1631.7" width="64.0" height="205.4" fill="#e4e4e4" />
<rect x="1525.0" y="1631.7" width="64.0" height="205.4" fill="#e4e4e4" />
<rect x="1654.1" y="1631.7" width="64.0" height="205.4" fill="#e4e4e4" />
<rect x="1783.2" y="1631.7" width="64.0" height="205.4" fill="#e4e4e4" />
<rect x="1912.3" y="1631.7" width="64.0" height="205.4" fill="#e4e4e4" />
<line x1="1330.0" y1="1640.0" x2="1330.0" y2="1839.9" stroke="#000" stroke-width="1.8" />
<line x1="1329.1" y1="1839.1" x2="1977.0" y2="1839.1" stroke="#222" stroke-width="1.6" />
<line x1="1326.0" y1="1807.4" x2="1330.0" y2="1807.4" stroke="#000" stroke-width="1.4" />
<text transform="translate(1311.4,1818.9) scale(0.750,1)" font-size="27" font-weight="bold" fill="#000" stroke="#000" stroke-width="0.50" >0</text>
<line x1="1326.0" y1="1767.8" x2="1330.0" y2="1767.8" stroke="#000" stroke-width="1.4" />
<text transform="translate(1299.8,1779.3) scale(0.750,1)" font-size="27" font-weight="bold" fill="#000" stroke="#000" stroke-width="0.50" >25</text>
<line x1="1326.0" y1="1728.2" x2="1330.0" y2="1728.2" stroke="#000" stroke-width="1.4" />
<text transform="translate(1300.0,1739.7) scale(0.750,1)" font-size="27" font-weight="bold" fill="#000" stroke="#000" stroke-width="0.50" >50</text>
<line x1="1326.0" y1="1688.7" x2="1330.0" y2="1688.7" stroke="#000" stroke-width="1.4" />
<text transform="translate(1299.8,1700.2) scale(0.750,1)" font-size="27" font-weight="bold" fill="#000" stroke="#000" stroke-width="0.50" >75</text>
<line x1="1326.0" y1="1649.1" x2="1330.0" y2="1649.1" stroke="#000" stroke-width="1.4" />
<text transform="translate(1288.9,1660.6) scale(0.750,1)" font-size="27" font-weight="bold" fill="#000" stroke="#000" stroke-width="0.50" >100</text>
<line x1="1349.6" y1="1839.1" x2="1349.6" y2="1842.6" stroke="#000" stroke-width="1.6" />
<line x1="1381.6" y1="1839.1" x2="1381.6" y2="1842.6" stroke="#000" stroke-width="1.6" />
<line x1="1413.5" y1="1839.1" x2="1413.5" y2="1842.6" stroke="#000" stroke-width="1.6" />
<line x1="1445.5" y1="1839.1" x2="1445.5" y2="1842.6" stroke="#000" stroke-width="1.6" />
<line x1="1477.5" y1="1839.1" x2="1477.5" y2="1842.6" stroke="#000" stroke-width="1.6" />
<line x1="1509.4" y1="1839.1" x2="1509.4" y2="1842.6" stroke="#000" stroke-width="1.6" />
<line x1="1541.4" y1="1839.1" x2="1541.4" y2="1842.6" stroke="#000" stroke-width="1.6" />
<line x1="1573.4" y1="1839.1" x2="1573.4" y2="1842.6" stroke="#000" stroke-width="1.6" />
<line x1="1605.4" y1="1839.1" x2="1605.4" y2="1842.6" stroke="#000" stroke-width="1.6" />
<line x1="1637.3" y1="1839.1" x2="1637.3" y2="1842.6" stroke="#000" stroke-width="1.6" />
<line x1="1669.3" y1="1839.1" x2="1669.3" y2="1842.6" stroke="#000" stroke-width="1.6" />
<line x1="1701.3" y1="1839.1" x2="1701.3" y2="1842.6" stroke="#000" stroke-width="1.6" />
<line x1="1733.2" y1="1839.1" x2="1733.2" y2="1842.6" stroke="#000" stroke-width="1.6" />
<line x1="1765.2" y1="1839.1" x2="1765.2" y2="1842.6" stroke="#000" stroke-width="1.6" />
<line x1="1797.2" y1="1839.1" x2="1797.2" y2="1842.6" stroke="#000" stroke-width="1.6" />
<line x1="1829.1" y1="1839.1" x2="1829.1" y2="1842.6" stroke="#000" stroke-width="1.6" />
<line x1="1861.1" y1="1839.1" x2="1861.1" y2="1842.6" stroke="#000" stroke-width="1.6" />
<line x1="1893.1" y1="1839.1" x2="1893.1" y2="1842.6" stroke="#000" stroke-width="1.6" />
<line x1="1925.1" y1="1839.1" x2="1925.1" y2="1842.6" stroke="#000" stroke-width="1.6" />
<line x1="1957.0" y1="1839.1" x2="1957.0" y2="1842.6" stroke="#000" stroke-width="1.6" />
<text transform="translate(1284.3,1794.2) rotate(-90) scale(0.812,1)" font-size="25.7" font-weight="bold" fill="#000" stroke="#000" stroke-width="0.50" >% SBS / Total</text>
<line x1="1288.0" y1="1662.7" x2="1288.0" y2="1793.7" stroke="#444" stroke-width="1.6" />
<text transform="translate(1352.0,1683.4) scale(0.749,1)" font-size="31" font-weight="bold" fill="#0028ff" stroke="#0028ff" stroke-width="0.50" >Cluster 2</text>
<path stroke="#5a5a5a" stroke-width="3.4" stroke-linecap="round" d="M1349.6 1649.1h0M1349.6 1741.4h0M1349.6 1762.4h0M1352.9 1763.6h0M1346.6 1764.1h0M1343.1 1764.3h0M1349.6 1769.1h0M1353.1 1769.5h0M1346.2 1769.7h0M1356.5 1770.2h0M1342.8 1770.9h0M1350.9 1772.3h0M1347.6 1773.6h0M1353.9 1774.0h0M1344.4 1774.8h0M1349.6 1776.5h0M1355.8 1777.0h0M1346.4 1777.8h0M1342.9 1778.1h0M1352.5 1778.5h0M1349.2 1780.0h0M1357.6 1780.0h0M1340.1 1780.2h0M1361.1 1780.6h0M1336.6 1780.8h0M1345.0 1781.0h0M1352.1 1782.0h0M1358.2 1782.4h0M1349.6 1784.9h0M1346.1 1784.9h0M1353.8 1785.0h0M1342.6 1785.3h0M1359.9 1785.5h0M1339.2 1786.0h0M1363.3 1786.3h0M1335.7 1786.5h0M1355.4 1786.6h0M1345.6 1787.1h0M1359.4 1787.3h0M1353.1 1787.5h0M1345.5 1787.8h0M1346.3 1787.8h0M1348.0 1788.0h0M1351.2 1788.1h0M1361.5 1788.3h0M1341.7 1788.6h0M1338.8 1788.8h0M1348.2 1788.8h0M1346.5 1788.9h0M1342.4 1789.1h0M1337.2 1789.1h0M1363.2 1789.2h0M1337.4 1789.2h0M1341.3 1789.4h0M1350.8 1789.5h0M1362.0 1789.6h0M1336.4 1789.8h0M1354.4 1790.8h0M1357.9 1791.0h0M1340.0 1791.2h0M1352.1 1791.3h0M1357.9 1791.3h0M1344.4 1791.6h0M1359.3 1791.8h0M1348.6 1792.1h0M1363.3 1792.4h0M1338.7 1792.5h0M1342.1 1792.6h0M1351.1 1792.7h0M1349.5 1793.3h0M1358.5 1793.5h0M1353.9 1793.6h0M1361.1 1793.9h0M1335.8 1794.5h0M1347.4 1796.1h0M1351.3 1796.3h0M1344.0 1796.5h0M1355.4 1796.7h0M1340.5 1797.1h0M1358.9 1797.5h0M1337.6 1799.1h0M1349.6 1799.5h0M1352.1 1801.9h0M1347.4 1802.3h0M1349.8 1804.8h0M1346.4 1805.8h0"/>
<line x1="1349.6" y1="1767.8" x2="1349.6" y2="1810.6" stroke="#000" stroke-width="1.7" />
<line x1="1345.8" y1="1767.8" x2="1353.3" y2="1767.8" stroke="#000" stroke-width="1.5" />
<line x1="1345.8" y1="1810.6" x2="1353.3" y2="1810.6" stroke="#000" stroke-width="1.5" />
<line x1="1344.3" y1="1790.0" x2="1354.8" y2="1790.0" stroke="#000" stroke-width="3" />
<path stroke="#5a5a5a" stroke-width="3.4" stroke-linecap="round" d="M1381.6 1772.1h0M1385.0 1772.8h0M1378.2 1772.9h0M1374.7 1773.5h0M1388.1 1774.4h0M1381.6 1775.6h0M1372.1 1775.8h0M1391.2 1776.1h0M1384.9 1776.7h0M1378.6 1777.4h0M1375.1 1778.0h0M1388.1 1778.0h0M1369.7 1778.3h0M1393.8 1778.4h0M1394.1 1778.6h0M1375.4 1778.9h0M1387.9 1778.9h0M1381.6 1779.3h0M1369.8 1779.9h0M1384.6 1781.1h0M1378.6 1781.2h0M1390.5 1781.2h0M1373.0 1781.5h0M1393.8 1782.4h0M1381.6 1783.3h0M1387.1 1783.5h0M1376.2 1783.7h0M1370.7 1784.1h0M1388.1 1784.1h0M1386.5 1784.5h0M1391.4 1785.0h0M1389.1 1785.2h0M1395.0 1785.7h0M1379.2 1785.9h0M1383.1 1786.5h0M1374.2 1786.6h0M1368.3 1786.6h0M1379.8 1787.2h0M1392.4 1787.5h0M1384.9 1787.6h0M1394.3 1787.6h0M1394.1 1787.7h0M1372.3 1788.0h0M1390.0 1788.1h0M1394.5 1788.1h0M1371.4 1788.2h0M1375.9 1788.2h0M1376.7 1788.4h0M1394.6 1788.7h0M1370.6 1788.9h0M1395.6 1789.0h0M1383.9 1789.1h0M1379.3 1789.3h0M1390.8 1789.5h0M1376.7 1789.8h0M1380.0 1789.8h0M1373.4 1790.2h0M1387.2 1790.3h0M1386.3 1790.3h0M1370.3 1790.3h0M1386.9 1790.5h0M1392.6 1790.8h0M1389.9 1791.6h0M1383.1 1791.7h0M1391.2 1792.0h0M1393.2 1792.1h0M1369.4 1792.1h0M1376.4 1792.4h0M1392.5 1792.5h0M1377.4 1793.3h0M1394.6 1793.4h0M1373.1 1793.7h0M1385.5 1794.2h0M1381.0 1794.4h0M1388.7 1795.5h0M1370.2 1795.6h0M1383.6 1796.0h0M1376.0 1796.5h0M1391.9 1797.0h0M1381.3 1798.6h0"/>
<line x1="1381.6" y1="1778.9" x2="1381.6" y2="1793.2" stroke="#000" stroke-width="1.7" />
<line x1="1377.8" y1="1778.9" x2="1385.3" y2="1778.9" stroke="#000" stroke-width="1.5" />
<line x1="1377.8" y1="1793.2" x2="1385.3" y2="1793.2" stroke="#000" stroke-width="1.5" />
<line x1="1376.3" y1="1786.8" x2="1386.8" y2="1786.8" stroke="#000" stroke-width="3" />
<rect x="1400.5" y="1805.7" width="26.0" height="3.4" rx="1.7" fill="#5a5a5a"/>
<path stroke="#5a5a5a" stroke-width="3.4" stroke-linecap="round" d="M1413.5 1716.6h0M1415.1 1719.7h0M1413.5 1725.0h0M1416.9 1726.1h0M1410.5 1726.7h0M1413.5 1730.0h0M1413.5 1743.2h0M1413.5 1748.1h0M1415.0 1751.3h0M1413.5 1754.4h0M1413.5 1767.4h0M1417.0 1768.1h0M1413.5 1771.0h0M1417.0 1771.6h0M1410.4 1772.5h0M1406.9 1773.1h0M1419.8 1773.6h0M1423.3 1774.1h0M1413.5 1777.4h0M1417.0 1777.5h0M1410.8 1779.5h0M1419.6 1779.8h0M1414.5 1780.7h0M1407.7 1781.2h0M1422.8 1781.3h0M1404.2 1781.4h0M1426.3 1781.4h0M1411.8 1782.9h0M1416.6 1783.5h0M1420.0 1784.1h0M1402.2 1784.3h0M1408.8 1784.8h0M1423.2 1785.6h0M1413.8 1785.8h0M1405.5 1785.9h0M1417.0 1787.1h0M1411.1 1788.1h0M1420.3 1788.3h0M1407.7 1788.6h0M1403.5 1788.8h0M1423.7 1789.2h0M1400.0 1789.3h0M1414.3 1789.6h0M1427.0 1790.4h0M1417.7 1790.6h0M1415.4 1790.7h0M1425.1 1791.0h0M1410.1 1791.4h0M1405.8 1791.6h0M1421.0 1791.8h0M1402.3 1792.1h0M1415.5 1792.5h0M1412.6 1793.1h0M1408.6 1793.1h0M1410.7 1793.6h0M1403.4 1793.7h0M1418.2 1794.8h0M1413.5 1796.5h0M1407.9 1796.5h0M1421.1 1796.7h0M1424.6 1796.9h0M1404.5 1797.5h0M1416.3 1798.6h0M1412.1 1799.7h0M1414.5 1802.2h0"/>
<line x1="1413.5" y1="1761.5" x2="1413.5" y2="1807.4" stroke="#000" stroke-width="1.7" />
<line x1="1409.8" y1="1761.5" x2="1417.3" y2="1761.5" stroke="#000" stroke-width="1.5" />
<line x1="1409.8" y1="1807.4" x2="1417.3" y2="1807.4" stroke="#000" stroke-width="1.5" />
<line x1="1408.3" y1="1785.2" x2="1418.8" y2="1785.2" stroke="#000" stroke-width="3" />
<rect x="1432.5" y="1805.7" width="26.0" height="3.4" rx="1.7" fill="#5a5a5a"/>
<path stroke="#5a5a5a" stroke-width="3.4" stroke-linecap="round" d="M1445.5 1717.2h0M1445.5 1725.7h0M1445.5 1734.5h0M1445.5 1739.3h0M1449.0 1739.4h0M1445.5 1754.2h0M1449.0 1754.8h0M1445.5 1764.7h0M1445.5 1775.4h0M1448.8 1776.4h0M1442.2 1776.6h0M1438.8 1777.4h0M1445.5 1780.3h0M1449.0 1780.9h0M1442.1 1781.1h0M1438.6 1781.3h0M1452.4 1781.3h0M1435.4 1782.7h0M1455.4 1783.3h0M1446.0 1783.7h0M1450.2 1784.2h0M1458.7 1784.2h0M1441.3 1784.5h0M1432.9 1785.2h0M1438.0 1785.6h0M1447.2 1785.8h0M1439.3 1785.9h0M1441.5 1785.9h0M1453.1 1786.2h0M1456.4 1787.5h0M1438.4 1787.7h0M1444.8 1788.3h0M1448.1 1789.2h0M1442.2 1790.6h0M1445.5 1792.0h0M1449.7 1792.4h0M1439.2 1792.5h0M1453.2 1792.6h0M1435.8 1793.2h0M1456.6 1793.5h0M1442.8 1794.2h0M1432.7 1794.9h0M1447.1 1795.1h0M1459.5 1795.4h0M1451.2 1795.5h0M1439.9 1796.1h0M1453.6 1796.3h0M1436.5 1797.1h0M1444.5 1797.4h0M1456.7 1797.9h0M1448.2 1798.4h0M1441.6 1799.4h0M1451.4 1799.9h0M1438.4 1800.7h0M1445.5 1800.8h0M1454.1 1802.2h0M1448.6 1802.5h0M1435.5 1802.7h0M1457.5 1802.8h0M1442.7 1802.9h0M1432.0 1802.9h0M1457.3 1803.0h0M1445.5 1806.7h0"/>
<line x1="1445.5" y1="1771.0" x2="1445.5" y2="1812.1" stroke="#000" stroke-width="1.7" />
<line x1="1441.8" y1="1771.0" x2="1449.3" y2="1771.0" stroke="#000" stroke-width="1.5" />
<line x1="1441.8" y1="1812.1" x2="1449.3" y2="1812.1" stroke="#000" stroke-width="1.5" />
<line x1="1440.3" y1="1791.6" x2="1450.8" y2="1791.6" stroke="#000" stroke-width="3" />
<rect x="1464.5" y="1805.7" width="26.0" height="3.4" rx="1.7" fill="#5a5a5a"/>
<path stroke="#5a5a5a" stroke-width="3.4" stroke-linecap="round" d="M1477.5 1704.9h0M1477.5 1717.9h0M1480.7 1719.4h0M1477.5 1724.9h0M1480.2 1727.1h0M1476.1 1728.1h0M1473.0 1729.7h0M1482.3 1729.9h0M1477.6 1731.2h0M1470.0 1731.6h0M1475.1 1733.7h0M1480.0 1733.8h0M1472.0 1735.3h0M1477.5 1738.2h0"/>
<line x1="1477.5" y1="1753.6" x2="1477.5" y2="1824.8" stroke="#000" stroke-width="1.7" />
<line x1="1473.7" y1="1753.6" x2="1481.2" y2="1753.6" stroke="#000" stroke-width="1.5" />
<line x1="1473.7" y1="1824.8" x2="1481.2" y2="1824.8" stroke="#000" stroke-width="1.5" />
<line x1="1472.2" y1="1788.4" x2="1482.7" y2="1788.4" stroke="#000" stroke-width="3" />
<rect x="1496.4" y="1805.7" width="26.0" height="3.4" rx="1.7" fill="#5a5a5a"/>
<path stroke="#5a5a5a" stroke-width="3.4" stroke-linecap="round" d="M1509.4 1696.6h0M1509.4 1733.0h0M1510.9 1736.2h0M1509.4 1744.1h0"/>
<line x1="1509.4" y1="1780.5" x2="1509.4" y2="1821.6" stroke="#000" stroke-width="1.7" />
<line x1="1505.7" y1="1780.5" x2="1513.2" y2="1780.5" stroke="#000" stroke-width="1.5" />
<line x1="1505.7" y1="1821.6" x2="1513.2" y2="1821.6" stroke="#000" stroke-width="1.5" />
<line x1="1504.2" y1="1801.1" x2="1514.7" y2="1801.1" stroke="#000" stroke-width="3" />
<path stroke="#5a5a5a" stroke-width="3.4" stroke-linecap="round" d="M1541.4 1649.1h0M1541.4 1674.8h0M1541.4 1680.6h0M1541.4 1691.1h0M1544.1 1693.3h0M1541.1 1695.1h0M1538.0 1696.5h0M1541.4 1699.2h0M1541.4 1702.8h0M1541.4 1708.7h0M1544.8 1709.5h0M1538.5 1710.7h0M1535.0 1710.7h0M1548.1 1710.8h0M1531.6 1711.5h0M1541.7 1712.2h0M1551.0 1712.8h0M1541.4 1716.6h0M1544.7 1717.8h0M1538.7 1718.8h0M1535.2 1719.4h0M1541.7 1720.6h0M1545.1 1721.5h0M1541.4 1724.2h0M1544.7 1725.4h0M1538.3 1725.8h0M1541.4 1729.2h0M1544.7 1730.6h0M1538.6 1731.3h0M1535.2 1731.9h0M1541.8 1732.8h0M1547.3 1732.9h0M1539.5 1735.5h0M1541.7 1738.2h0M1537.7 1738.5h0M1545.1 1738.5h0M1534.4 1739.5h0M1548.4 1739.8h0M1551.9 1740.2h0M1541.4 1743.7h0M1544.9 1744.1h0M1538.0 1744.6h0M1547.8 1746.1h0M1535.2 1746.7h0M1541.4 1747.7h0M1544.8 1748.7h0M1541.4 1753.4h0M1544.9 1753.5h0M1538.0 1753.9h0M1548.4 1754.1h0M1535.2 1756.1h0M1542.8 1756.6h0M1550.6 1756.8h0M1539.4 1757.1h0M1545.3 1759.0h0M1536.9 1759.6h0M1541.4 1760.3h0M1543.8 1762.9h0M1539.7 1763.3h0M1536.2 1763.9h0M1541.4 1767.0h0M1544.8 1768.0h0M1538.3 1768.7h0M1534.9 1769.1h0M1548.1 1769.2h0M1541.4 1770.9h0M1531.9 1770.9h0M1551.1 1771.0h0M1544.7 1772.1h0M1539.8 1773.9h0M1536.3 1774.3h0M1541.4 1777.3h0M1544.9 1777.5h0M1538.0 1778.1h0M1541.4 1781.7h0M1544.3 1783.6h0M1541.4 1785.6h0M1541.4 1789.4h0M1542.7 1792.6h0M1541.4 1798.2h0M1544.7 1799.3h0"/>
<line x1="1541.4" y1="1709.3" x2="1541.4" y2="1786.8" stroke="#000" stroke-width="1.7" />
<line x1="1537.7" y1="1709.3" x2="1545.2" y2="1709.3" stroke="#000" stroke-width="1.5" />
<line x1="1537.7" y1="1786.8" x2="1545.2" y2="1786.8" stroke="#000" stroke-width="1.5" />
<line x1="1536.2" y1="1748.8" x2="1546.7" y2="1748.8" stroke="#000" stroke-width="3" />
<path stroke="#5a5a5a" stroke-width="3.4" stroke-linecap="round" d="M1573.4 1678.5h0M1576.8 1679.3h0M1570.1 1679.7h0M1579.5 1681.5h0M1573.4 1683.4h0M1573.4 1690.6h0M1576.8 1691.3h0M1570.9 1693.1h0M1567.5 1693.7h0M1573.4 1696.1h0M1576.9 1696.5h0M1570.1 1697.2h0M1579.5 1698.8h0M1573.4 1700.4h0M1576.6 1701.8h0M1573.4 1704.1h0M1573.4 1709.6h0M1575.6 1712.4h0M1572.1 1713.1h0M1568.6 1713.3h0M1578.7 1714.0h0M1565.3 1714.3h0M1582.1 1714.4h0M1562.0 1715.4h0M1573.4 1717.4h0M1576.8 1718.1h0M1571.4 1720.2h0M1567.9 1720.2h0M1579.0 1720.8h0M1564.4 1721.0h0M1574.6 1721.4h0M1582.4 1721.6h0M1561.2 1722.3h0M1585.7 1722.7h0M1572.3 1724.1h0M1576.9 1724.1h0M1569.1 1725.4h0M1573.4 1727.4h0M1576.9 1728.1h0M1570.9 1729.8h0M1574.2 1730.9h0M1578.4 1731.3h0M1567.7 1731.3h0M1581.9 1731.6h0M1564.2 1731.6h0M1585.1 1732.8h0M1561.1 1733.2h0M1572.0 1733.6h0M1575.0 1735.4h0M1572.3 1737.6h0M1574.9 1739.9h0M1570.1 1740.4h0M1578.3 1740.8h0M1567.2 1742.3h0M1573.4 1744.8h0M1576.9 1744.8h0M1569.9 1745.1h0M1580.4 1745.2h0M1566.7 1746.5h0M1573.4 1749.8h0M1576.9 1750.0h0M1574.9 1753.0h0M1573.4 1756.8h0M1576.8 1757.4h0M1570.0 1757.7h0M1580.1 1758.8h0M1573.4 1761.0h0M1576.9 1761.1h0M1573.4 1768.7h0M1576.9 1769.0h0M1569.9 1769.1h0M1574.2 1772.2h0M1570.8 1773.2h0M1577.1 1774.0h0M1567.4 1774.0h0M1580.5 1775.0h0M1573.4 1779.4h0M1573.4 1784.5h0M1573.4 1788.3h0M1573.4 1801.3h0"/>
<line x1="1573.4" y1="1683.9" x2="1573.4" y2="1748.8" stroke="#000" stroke-width="1.7" />
<line x1="1569.6" y1="1683.9" x2="1577.1" y2="1683.9" stroke="#000" stroke-width="1.5" />
<line x1="1569.6" y1="1748.8" x2="1577.1" y2="1748.8" stroke="#000" stroke-width="1.5" />
<line x1="1568.1" y1="1717.2" x2="1578.6" y2="1717.2" stroke="#000" stroke-width="3" />
<rect x="1592.4" y="1805.7" width="26.0" height="3.4" rx="1.7" fill="#5a5a5a"/>
<path stroke="#5a5a5a" stroke-width="3.4" stroke-linecap="round" d="M1605.4 1669.7h0M1605.4 1773.0h0M1605.4 1777.4h0M1608.5 1778.8h0M1605.4 1782.6h0M1608.7 1783.6h0M1602.5 1784.6h0M1605.5 1786.4h0M1608.9 1787.1h0M1605.4 1794.5h0M1608.9 1794.7h0"/>
<line x1="1605.4" y1="1782.1" x2="1605.4" y2="1820.1" stroke="#000" stroke-width="1.7" />
<line x1="1601.6" y1="1782.1" x2="1609.1" y2="1782.1" stroke="#000" stroke-width="1.5" />
<line x1="1601.6" y1="1820.1" x2="1609.1" y2="1820.1" stroke="#000" stroke-width="1.5" />
<line x1="1600.1" y1="1801.1" x2="1610.6" y2="1801.1" stroke="#000" stroke-width="3" />
<rect x="1624.3" y="1805.7" width="26.0" height="3.4" rx="1.7" fill="#5a5a5a"/>
<line x1="1632.1" y1="1807.4" x2="1642.6" y2="1807.4" stroke="#000" stroke-width="3" />
<rect x="1656.3" y="1805.7" width="26.0" height="3.4" rx="1.7" fill="#5a5a5a"/>
<path stroke="#5a5a5a" stroke-width="3.4" stroke-linecap="round" d="M1669.3 1768.1h0M1672.7 1769.1h0M1669.3 1773.2h0M1670.0 1776.6h0M1669.3 1787.1h0M1669.3 1794.1h0M1672.3 1795.9h0M1666.6 1796.3h0"/>
<line x1="1669.3" y1="1793.2" x2="1669.3" y2="1815.3" stroke="#000" stroke-width="1.7" />
<line x1="1665.5" y1="1793.2" x2="1673.0" y2="1793.2" stroke="#000" stroke-width="1.5" />
<line x1="1665.5" y1="1815.3" x2="1673.0" y2="1815.3" stroke="#000" stroke-width="1.5" />
<line x1="1664.0" y1="1804.2" x2="1674.5" y2="1804.2" stroke="#000" stroke-width="3" />
<rect x="1688.3" y="1805.7" width="26.0" height="3.4" rx="1.7" fill="#5a5a5a"/>
<line x1="1696.0" y1="1807.4" x2="1706.5" y2="1807.4" stroke="#000" stroke-width="3" />
<rect x="1720.2" y="1805.7" width="26.0" height="3.4" rx="1.7" fill="#5a5a5a"/>
<line x1="1728.0" y1="1807.4" x2="1738.5" y2="1807.4" stroke="#000" stroke-width="3" />
<rect x="1752.2" y="1805.7" width="26.0" height="3.4" rx="1.7" fill="#5a5a5a"/>
<path stroke="#5a5a5a" stroke-width="3.4" stroke-linecap="round" d="M1765.2 1776.0h0M1768.7 1776.1h0M1765.2 1780.5h0M1768.6 1781.2h0M1765.2 1784.8h0M1767.1 1787.8h0M1763.6 1788.4h0M1769.2 1790.6h0M1765.2 1793.7h0M1767.3 1796.5h0"/>
<line x1="1765.2" y1="1791.6" x2="1765.2" y2="1815.3" stroke="#000" stroke-width="1.7" />
<line x1="1761.5" y1="1791.6" x2="1769.0" y2="1791.6" stroke="#000" stroke-width="1.5" />
<line x1="1761.5" y1="1815.3" x2="1769.0" y2="1815.3" stroke="#000" stroke-width="1.5" />
<line x1="1760.0" y1="1804.2" x2="1770.5" y2="1804.2" stroke="#000" stroke-width="3" />
<rect x="1784.2" y="1805.7" width="26.0" height="3.4" rx="1.7" fill="#5a5a5a"/>
<path stroke="#5a5a5a" stroke-width="3.4" stroke-linecap="round" d="M1797.2 1694.0h0M1797.2 1713.8h0M1797.2 1730.6h0M1797.2 1738.0h0M1798.9 1741.0h0M1797.2 1747.1h0M1800.0 1749.2h0M1797.2 1761.5h0M1800.7 1761.5h0M1794.3 1763.4h0M1803.1 1764.0h0M1797.2 1766.0h0M1800.6 1766.8h0M1793.8 1766.9h0M1790.3 1766.9h0M1805.0 1767.0h0M1786.8 1767.1h0M1808.2 1768.5h0M1783.8 1768.8h0M1797.2 1769.5h0M1802.3 1769.8h0M1793.1 1770.3h0M1789.6 1770.6h0M1810.9 1770.7h0M1802.4 1770.7h0M1799.2 1772.4h0M1795.8 1773.1h0M1804.6 1773.5h0M1792.4 1774.1h0M1788.9 1774.6h0M1801.0 1775.3h0M1807.5 1775.4h0M1785.6 1775.7h0M1811.0 1775.7h0M1796.2 1775.9h0M1793.3 1777.8h0M1803.1 1778.1h0M1798.7 1778.4h0M1790.1 1779.1h0M1806.3 1779.7h0M1786.7 1780.0h0M1809.7 1780.1h0M1795.9 1780.4h0M1800.1 1781.6h0M1792.9 1782.3h0M1803.2 1783.1h0M1797.2 1783.7h0M1790.3 1784.6h0M1806.4 1784.7h0M1786.8 1785.0h0M1800.3 1785.2h0M1794.7 1786.2h0M1809.5 1786.2h0M1803.0 1787.5h0M1797.7 1787.9h0M1792.8 1789.1h0M1797.2 1791.5h0M1800.7 1791.8h0M1790.7 1791.9h0M1804.1 1792.5h0M1794.0 1793.0h0M1787.5 1793.3h0M1807.4 1793.6h0M1798.5 1794.7h0M1784.5 1795.2h0M1810.5 1795.2h0M1802.0 1795.3h0M1792.2 1796.0h0M1797.2 1799.8h0M1800.6 1800.6h0M1794.6 1802.1h0M1803.0 1803.1h0"/>
<line x1="1797.2" y1="1755.2" x2="1797.2" y2="1807.4" stroke="#000" stroke-width="1.7" />
<line x1="1793.4" y1="1755.2" x2="1800.9" y2="1755.2" stroke="#000" stroke-width="1.5" />
<line x1="1793.4" y1="1807.4" x2="1800.9" y2="1807.4" stroke="#000" stroke-width="1.5" />
<line x1="1791.9" y1="1780.5" x2="1802.4" y2="1780.5" stroke="#000" stroke-width="3" />
<rect x="1816.1" y="1805.7" width="26.0" height="3.4" rx="1.7" fill="#5a5a5a"/>
<path stroke="#5a5a5a" stroke-width="3.4" stroke-linecap="round" d="M1829.1 1741.2h0M1829.1 1748.7h0M1832.6 1749.6h0M1829.1 1754.2h0M1832.6 1754.6h0M1829.1 1761.1h0M1832.6 1761.4h0M1825.7 1761.4h0M1829.1 1767.7h0M1829.1 1772.6h0M1829.1 1778.2h0M1832.6 1778.7h0M1825.7 1778.9h0M1830.4 1781.4h0M1827.1 1782.5h0M1829.1 1785.5h0M1832.6 1785.5h0M1825.4 1785.6h0M1835.0 1788.1h0M1830.5 1788.8h0M1827.0 1788.9h0M1823.5 1789.1h0M1838.1 1789.7h0M1833.0 1791.2h0M1820.9 1791.5h0M1829.1 1792.3h0M1825.7 1792.3h0M1840.4 1792.3h0M1835.6 1793.5h0M1818.1 1793.6h0M1821.6 1793.7h0M1818.5 1793.9h0M1823.8 1794.1h0M1831.8 1794.6h0M1842.8 1795.0h0M1838.6 1795.1h0M1827.7 1795.5h0M1815.4 1795.7h0M1837.5 1795.9h0M1816.1 1796.9h0M1834.1 1797.2h0M1824.9 1797.5h0M1821.4 1797.6h0M1837.5 1797.7h0M1830.3 1797.8h0M1829.2 1797.8h0M1835.8 1797.9h0M1841.0 1798.1h0M1820.2 1798.1h0M1826.4 1798.3h0M1839.3 1798.6h0M1820.2 1799.0h0M1820.6 1799.1h0M1836.8 1799.1h0M1821.9 1799.3h0M1826.6 1799.6h0M1836.0 1799.7h0M1829.6 1801.4h0M1817.8 1801.6h0M1826.8 1803.5h0M1831.8 1804.0h0M1823.5 1804.5h0M1835.2 1805.1h0M1820.3 1806.1h0M1838.5 1806.2h0"/>
<line x1="1829.1" y1="1775.7" x2="1829.1" y2="1813.7" stroke="#000" stroke-width="1.7" />
<line x1="1825.4" y1="1775.7" x2="1832.9" y2="1775.7" stroke="#000" stroke-width="1.5" />
<line x1="1825.4" y1="1813.7" x2="1832.9" y2="1813.7" stroke="#000" stroke-width="1.5" />
<line x1="1823.9" y1="1794.7" x2="1834.4" y2="1794.7" stroke="#000" stroke-width="3" />
<rect x="1848.1" y="1805.7" width="26.0" height="3.4" rx="1.7" fill="#5a5a5a"/>
<line x1="1855.9" y1="1807.4" x2="1866.4" y2="1807.4" stroke="#000" stroke-width="3" />
<rect x="1880.1" y="1805.7" width="26.0" height="3.4" rx="1.7" fill="#5a5a5a"/>
<path stroke="#5a5a5a" stroke-width="3.4" stroke-linecap="round" d="M1893.1 1763.3h0M1893.1 1767.6h0M1896.5 1768.5h0M1890.3 1769.6h0M1893.6 1771.0h0M1893.0 1774.5h0M1893.1 1779.7h0M1896.6 1779.8h0M1890.4 1781.9h0M1894.0 1783.1h0M1897.1 1784.5h0M1888.5 1784.9h0M1892.7 1786.3h0M1900.0 1786.5h0M1885.6 1786.8h0M1895.0 1788.9h0M1890.8 1789.3h0M1893.1 1792.4h0M1896.5 1793.0h0M1894.3 1795.7h0"/>
<line x1="1893.1" y1="1782.1" x2="1893.1" y2="1812.1" stroke="#000" stroke-width="1.7" />
<line x1="1889.3" y1="1782.1" x2="1896.8" y2="1782.1" stroke="#000" stroke-width="1.5" />
<line x1="1889.3" y1="1812.1" x2="1896.8" y2="1812.1" stroke="#000" stroke-width="1.5" />
<line x1="1887.8" y1="1797.9" x2="1898.3" y2="1797.9" stroke="#000" stroke-width="3" />
<rect x="1912.1" y="1805.7" width="26.0" height="3.4" rx="1.7" fill="#5a5a5a"/>
<path stroke="#5a5a5a" stroke-width="3.4" stroke-linecap="round" d="M1925.1 1649.1h0M1925.1 1728.2h0M1925.1 1772.1h0M1925.1 1777.2h0M1926.4 1780.4h0M1925.1 1786.8h0M1925.1 1792.6h0M1928.5 1793.1h0"/>
<line x1="1925.1" y1="1782.1" x2="1925.1" y2="1824.8" stroke="#000" stroke-width="1.7" />
<line x1="1921.3" y1="1782.1" x2="1928.8" y2="1782.1" stroke="#000" stroke-width="1.5" />
<line x1="1921.3" y1="1824.8" x2="1928.8" y2="1824.8" stroke="#000" stroke-width="1.5" />
<line x1="1919.8" y1="1802.7" x2="1930.3" y2="1802.7" stroke="#000" stroke-width="3" />
<rect x="1944.0" y="1805.7" width="26.0" height="3.4" rx="1.7" fill="#5a5a5a"/>
<line x1="1951.8" y1="1807.4" x2="1962.3" y2="1807.4" stroke="#000" stroke-width="3" />
<polyline points="1477.5,1649.7 1477.5,1649.7 1509.4,1649.7 1509.4,1691.4" stroke="#ff0000" stroke-width="2.0" fill="none" />
<text transform="translate(1410.4,1647.6) scale(0.733,1)" font-size="23" font-weight="bold" fill="#ff0000" stroke="#ff0000" stroke-width="0.45"><tspan font-style="italic">P</tspan> = 9.45 <tspan font-weight="normal" font-size="28.8" stroke-width="0" dy="1.8">×</tspan><tspan dy="-1.8"> 10</tspan><tspan font-size="14.3" dy="-8.3">-3</tspan></text>
<polyline points="1541.4,1674.4 1541.4,1663.3 1573.4,1663.3 1573.4,1663.3" stroke="#0028ff" stroke-width="2.0" fill="none" />
<text transform="translate(1563.2,1662.4) scale(0.733,1)" font-size="23" font-weight="bold" fill="#0028ff" stroke="#0028ff" stroke-width="0.45"><tspan font-style="italic">P</tspan> = 2.90 <tspan font-weight="normal" font-size="28.8" stroke-width="0" dy="1.8">×</tspan><tspan dy="-1.8"> 10</tspan><tspan font-size="14.3" dy="-8.3">-7</tspan></text>
<polyline points="1605.4,1750.9 1605.4,1750.9 1637.3,1750.9 1637.3,1806.9" stroke="#ff0000" stroke-width="2.0" fill="none" />
<text transform="translate(1590.8,1774.9) rotate(-63) scale(0.756,1)" font-size="23" font-weight="bold" fill="#ff0000" stroke="#ff0000" stroke-width="0.45"><tspan font-style="italic">P</tspan> = 7.57 <tspan font-weight="normal" font-size="28.8" stroke-width="0" dy="1.8">×</tspan><tspan dy="-1.8"> 10</tspan><tspan font-size="14.3" dy="-8.3">-3</tspan></text>
<polyline points="1669.3,1731.4 1669.3,1731.4 1701.3,1731.4 1701.3,1807.4" stroke="#ff0000" stroke-width="2.0" fill="none" />
<text transform="translate(1654.4,1751.6) rotate(-64) scale(0.756,1)" font-size="23" font-weight="bold" fill="#ff0000" stroke="#ff0000" stroke-width="0.45"><tspan font-style="italic">P</tspan> = 3.44 <tspan font-weight="normal" font-size="28.8" stroke-width="0" dy="1.8">×</tspan><tspan dy="-1.8"> 10</tspan><tspan font-size="14.3" dy="-8.3">-2</tspan></text>
<polyline points="1733.2,1807.4 1733.2,1749.6 1765.2,1749.6 1765.2,1749.6" stroke="#0028ff" stroke-width="2.0" fill="none" />
<text transform="translate(1718.1,1770.7) rotate(-65) scale(0.756,1)" font-size="23" font-weight="bold" fill="#0028ff" stroke="#0028ff" stroke-width="0.45"><tspan font-style="italic">P</tspan> = 4.53 <tspan font-weight="normal" font-size="28.8" stroke-width="0" dy="1.8">×</tspan><tspan dy="-1.8"> 10</tspan><tspan font-size="14.3" dy="-8.3">-3</tspan></text>
<polyline points="1797.2,1673.2 1797.2,1673.2 1829.1,1673.2 1829.1,1728.2" stroke="#ff0000" stroke-width="2.0" fill="none" />
<text transform="translate(1783.9,1670.0) scale(0.738,1)" font-size="23" font-weight="bold" fill="#ff0000" stroke="#ff0000" stroke-width="0.45"><tspan font-style="italic">P</tspan> = 1.80 <tspan font-weight="normal" font-size="28.8" stroke-width="0" dy="1.8">×</tspan><tspan dy="-1.8"> 10</tspan><tspan font-size="14.3" dy="-8.3">-4</tspan></text>
<polyline points="1861.1,1807.4 1861.1,1750.9 1893.1,1750.9 1893.1,1750.9" stroke="#0028ff" stroke-width="2.0" fill="none" />
<text transform="translate(1860.3,1747.3) rotate(-59) scale(0.756,1)" font-size="23" font-weight="bold" fill="#0028ff" stroke="#0028ff" stroke-width="0.45"><tspan font-style="italic">P</tspan> = 2.16 <tspan font-weight="normal" font-size="28.8" stroke-width="0" dy="1.8">×</tspan><tspan dy="-1.8"> 10</tspan><tspan font-size="14.3" dy="-8.3">-7</tspan></text>
<rect x="1395.9" y="1842.1" width="64.0" height="205.4" fill="#e4e4e4" />
<rect x="1525.0" y="1842.1" width="64.0" height="205.4" fill="#e4e4e4" />
<rect x="1654.1" y="1842.1" width="64.0" height="205.4" fill="#e4e4e4" />
<rect x="1783.2" y="1842.1" width="64.0" height="205.4" fill="#e4e4e4" />
<rect x="1912.3" y="1842.1" width="64.0" height="205.4" fill="#e4e4e4" />
<line x1="1330.0" y1="1850.4" x2="1330.0" y2="2050.3" stroke="#000" stroke-width="1.8" />
<line x1="1329.1" y1="2049.5" x2="1977.0" y2="2049.5" stroke="#222" stroke-width="1.6" />
<line x1="1326.0" y1="2017.8" x2="1330.0" y2="2017.8" stroke="#000" stroke-width="1.4" />
<text transform="translate(1311.4,2029.3) scale(0.750,1)" font-size="27" font-weight="bold" fill="#000" stroke="#000" stroke-width="0.50" >0</text>
<line x1="1326.0" y1="1978.2" x2="1330.0" y2="1978.2" stroke="#000" stroke-width="1.4" />
<text transform="translate(1299.8,1989.7) scale(0.750,1)" font-size="27" font-weight="bold" fill="#000" stroke="#000" stroke-width="0.50" >25</text>
<line x1="1326.0" y1="1938.6" x2="1330.0" y2="1938.6" stroke="#000" stroke-width="1.4" />
<text transform="translate(1300.0,1950.1) scale(0.750,1)" font-size="27" font-weight="bold" fill="#000" stroke="#000" stroke-width="0.50" >50</text>
<line x1="1326.0" y1="1899.1" x2="1330.0" y2="1899.1" stroke="#000" stroke-width="1.4" />
<text transform="translate(1299.8,1910.6) scale(0.750,1)" font-size="27" font-weight="bold" fill="#000" stroke="#000" stroke-width="0.50" >75</text>
<line x1="1326.0" y1="1859.5" x2="1330.0" y2="1859.5" stroke="#000" stroke-width="1.4" />
<text transform="translate(1288.9,1871.0) scale(0.750,1)" font-size="27" font-weight="bold" fill="#000" stroke="#000" stroke-width="0.50" >100</text>
<line x1="1349.6" y1="2049.5" x2="1349.6" y2="2053.0" stroke="#000" stroke-width="1.6" />
<line x1="1381.6" y1="2049.5" x2="1381.6" y2="2053.0" stroke="#000" stroke-width="1.6" />
<line x1="1413.5" y1="2049.5" x2="1413.5" y2="2053.0" stroke="#000" stroke-width="1.6" />
<line x1="1445.5" y1="2049.5" x2="1445.5" y2="2053.0" stroke="#000" stroke-width="1.6" />
<line x1="1477.5" y1="2049.5" x2="1477.5" y2="2053.0" stroke="#000" stroke-width="1.6" />
<line x1="1509.4" y1="2049.5" x2="1509.4" y2="2053.0" stroke="#000" stroke-width="1.6" />
<line x1="1541.4" y1="2049.5" x2="1541.4" y2="2053.0" stroke="#000" stroke-width="1.6" />
<line x1="1573.4" y1="2049.5" x2="1573.4" y2="2053.0" stroke="#000" stroke-width="1.6" />
<line x1="1605.4" y1="2049.5" x2="1605.4" y2="2053.0" stroke="#000" stroke-width="1.6" />
<line x1="1637.3" y1="2049.5" x2="1637.3" y2="2053.0" stroke="#000" stroke-width="1.6" />
<line x1="1669.3" y1="2049.5" x2="1669.3" y2="2053.0" stroke="#000" stroke-width="1.6" />
<line x1="1701.3" y1="2049.5" x2="1701.3" y2="2053.0" stroke="#000" stroke-width="1.6" />
<line x1="1733.2" y1="2049.5" x2="1733.2" y2="2053.0" stroke="#000" stroke-width="1.6" />
<line x1="1765.2" y1="2049.5" x2="1765.2" y2="2053.0" stroke="#000" stroke-width="1.6" />
<line x1="1797.2" y1="2049.5" x2="1797.2" y2="2053.0" stroke="#000" stroke-width="1.6" />
<line x1="1829.1" y1="2049.5" x2="1829.1" y2="2053.0" stroke="#000" stroke-width="1.6" />
<line x1="1861.1" y1="2049.5" x2="1861.1" y2="2053.0" stroke="#000" stroke-width="1.6" />
<line x1="1893.1" y1="2049.5" x2="1893.1" y2="2053.0" stroke="#000" stroke-width="1.6" />
<line x1="1925.1" y1="2049.5" x2="1925.1" y2="2053.0" stroke="#000" stroke-width="1.6" />
<line x1="1957.0" y1="2049.5" x2="1957.0" y2="2053.0" stroke="#000" stroke-width="1.6" />
<text transform="translate(1284.3,2004.6) rotate(-90) scale(0.812,1)" font-size="25.7" font-weight="bold" fill="#000" stroke="#000" stroke-width="0.50" >% SBS / Total</text>
<line x1="1288.0" y1="1873.1" x2="1288.0" y2="2004.1" stroke="#444" stroke-width="1.6" />
<text transform="translate(1337.6,1881.0) scale(0.749,1)" font-size="31" font-weight="bold" fill="#ff8c00" stroke="#ff8c00" stroke-width="0.50" >Cluster 3</text>
<path stroke="#5a5a5a" stroke-width="3.4" stroke-linecap="round" d="M1349.6 2000.3h0M1352.8 2001.7h0M1347.3 2002.9h0M1343.8 2002.9h0M1355.2 2004.3h0M1349.8 2005.3h0M1341.4 2005.5h0M1346.6 2006.8h0M1357.5 2006.9h0M1352.6 2007.4h0M1339.2 2008.2h0M1349.6 2010.3h0M1346.1 2010.5h0M1352.7 2011.9h0M1343.0 2012.1h0M1356.2 2012.3h0M1339.6 2013.1h0M1349.6 2014.2h0"/>
<line x1="1349.6" y1="2005.1" x2="1349.6" y2="2014.6" stroke="#000" stroke-width="1.7" />
<line x1="1345.8" y1="2005.1" x2="1353.3" y2="2005.1" stroke="#000" stroke-width="1.5" />
<line x1="1345.8" y1="2014.6" x2="1353.3" y2="2014.6" stroke="#000" stroke-width="1.5" />
<line x1="1344.3" y1="2009.9" x2="1354.8" y2="2009.9" stroke="#000" stroke-width="3" />
<path stroke="#5a5a5a" stroke-width="3.4" stroke-linecap="round" d="M1381.6 1997.6h0M1383.7 2000.3h0M1381.6 2005.3h0M1385.0 2005.8h0M1378.2 2006.1h0M1374.7 2006.5h0M1388.3 2006.9h0M1371.4 2007.8h0M1391.6 2008.2h0M1382.4 2008.7h0M1368.1 2008.8h0M1379.0 2009.6h0M1385.8 2009.6h0M1375.6 2010.4h0M1381.6 2013.5h0M1385.1 2013.5h0M1378.1 2013.8h0M1388.3 2014.9h0"/>
<line x1="1381.6" y1="2005.1" x2="1381.6" y2="2013.1" stroke="#000" stroke-width="1.7" />
<line x1="1377.8" y1="2005.1" x2="1385.3" y2="2005.1" stroke="#000" stroke-width="1.5" />
<line x1="1377.8" y1="2013.1" x2="1385.3" y2="2013.1" stroke="#000" stroke-width="1.5" />
<line x1="1376.3" y1="2009.9" x2="1386.8" y2="2009.9" stroke="#000" stroke-width="3" />
<path stroke="#5a5a5a" stroke-width="3.4" stroke-linecap="round" d="M1413.5 1992.3h0M1416.6 1994.0h0M1411.1 1994.8h0M1407.7 1995.4h0M1413.6 1997.3h0M1410.3 1998.5h0M1416.7 1998.8h0M1420.2 1999.2h0M1407.1 2000.0h0M1403.6 2000.4h0M1413.5 2003.0h0M1416.5 2004.9h0M1410.6 2005.0h0M1407.5 2006.4h0M1413.5 2009.0h0M1417.0 2009.3h0M1410.7 2011.0h0M1407.2 2011.1h0"/>
<line x1="1413.5" y1="1995.6" x2="1413.5" y2="2013.1" stroke="#000" stroke-width="1.7" />
<line x1="1409.8" y1="1995.6" x2="1417.3" y2="1995.6" stroke="#000" stroke-width="1.5" />
<line x1="1409.8" y1="2013.1" x2="1417.3" y2="2013.1" stroke="#000" stroke-width="1.5" />
<line x1="1408.3" y1="2005.1" x2="1418.8" y2="2005.1" stroke="#000" stroke-width="3" />
<path stroke="#5a5a5a" stroke-width="3.4" stroke-linecap="round" d="M1445.5 1983.2h0M1448.6 1984.8h0M1445.5 1987.8h0M1445.5 1995.4h0M1449.0 1995.4h0M1442.0 1995.5h0M1452.5 1995.8h0M1439.1 1997.5h0M1445.5 1999.1h0M1446.3 2002.5h0M1443.0 2003.6h0M1449.4 2004.1h0M1445.5 2006.1h0M1442.2 2007.2h0M1448.6 2007.8h0M1452.0 2008.7h0M1445.5 2010.9h0M1445.5 2016.0h0"/>
<line x1="1445.5" y1="1998.8" x2="1445.5" y2="2016.2" stroke="#000" stroke-width="1.7" />
<line x1="1441.8" y1="1998.8" x2="1449.3" y2="1998.8" stroke="#000" stroke-width="1.5" />
<line x1="1441.8" y1="2016.2" x2="1449.3" y2="2016.2" stroke="#000" stroke-width="1.5" />
<line x1="1440.3" y1="2008.3" x2="1450.8" y2="2008.3" stroke="#000" stroke-width="3" />
<path stroke="#5a5a5a" stroke-width="3.4" stroke-linecap="round" d="M1477.5 1916.4h0M1480.7 1917.7h0M1477.5 1925.1h0M1480.9 1925.9h0M1474.4 1926.6h0M1477.5 1933.0h0M1480.4 1935.0h0M1477.5 1940.7h0M1477.5 1946.7h0M1477.5 1950.3h0M1481.0 1950.6h0M1474.2 1951.6h0M1483.9 1952.5h0M1478.7 1953.6h0M1477.5 1957.2h0M1479.3 1960.2h0M1477.5 1964.2h0M1481.0 1964.4h0"/>
<line x1="1477.5" y1="1911.7" x2="1477.5" y2="1949.7" stroke="#000" stroke-width="1.7" />
<line x1="1473.7" y1="1911.7" x2="1481.2" y2="1911.7" stroke="#000" stroke-width="1.5" />
<line x1="1473.7" y1="1949.7" x2="1481.2" y2="1949.7" stroke="#000" stroke-width="1.5" />
<line x1="1472.2" y1="1932.3" x2="1482.7" y2="1932.3" stroke="#000" stroke-width="3" />
<rect x="1502.9" y="2016.1" width="13.0" height="3.4" rx="1.7" fill="#5a5a5a"/>
<path stroke="#5a5a5a" stroke-width="3.4" stroke-linecap="round" d="M1509.4 1917.8h0M1509.4 1928.1h0M1510.4 1931.5h0M1509.4 1936.0h0M1509.4 1940.0h0M1509.4 1944.6h0M1512.9 1945.0h0M1509.4 1948.4h0M1510.9 1951.6h0M1508.0 1953.6h0M1509.5 1956.8h0M1508.5 1960.1h0M1511.8 1961.4h0M1509.4 1978.6h0M1509.4 1983.7h0M1512.9 1984.5h0"/>
<line x1="1509.4" y1="1914.9" x2="1509.4" y2="2005.1" stroke="#000" stroke-width="1.7" />
<line x1="1505.7" y1="1914.9" x2="1513.2" y2="1914.9" stroke="#000" stroke-width="1.5" />
<line x1="1505.7" y1="2005.1" x2="1513.2" y2="2005.1" stroke="#000" stroke-width="1.5" />
<line x1="1504.2" y1="1959.2" x2="1514.7" y2="1959.2" stroke="#000" stroke-width="3" />
<path stroke="#5a5a5a" stroke-width="3.4" stroke-linecap="round" d="M1541.4 1972.6h0M1541.4 1977.4h0M1544.6 1978.9h0M1541.4 1981.5h0M1541.4 1985.1h0M1542.8 1988.4h0M1539.3 1988.8h0M1545.8 1990.1h0M1541.4 1993.3h0M1544.9 1993.9h0M1541.4 1996.9h0M1544.7 1998.0h0M1538.2 1998.4h0M1534.8 1999.0h0M1548.0 1999.3h0M1551.5 1999.5h0M1531.4 2000.0h0M1541.4 2001.8h0"/>
<line x1="1541.4" y1="1979.8" x2="1541.4" y2="2002.0" stroke="#000" stroke-width="1.7" />
<line x1="1537.7" y1="1979.8" x2="1545.2" y2="1979.8" stroke="#000" stroke-width="1.5" />
<line x1="1537.7" y1="2002.0" x2="1545.2" y2="2002.0" stroke="#000" stroke-width="1.5" />
<line x1="1536.2" y1="1990.9" x2="1546.7" y2="1990.9" stroke="#000" stroke-width="3" />
<path stroke="#5a5a5a" stroke-width="3.4" stroke-linecap="round" d="M1573.4 1942.3h0M1576.8 1943.1h0M1570.0 1943.2h0M1580.0 1944.6h0M1573.4 1948.9h0M1573.4 1952.5h0M1576.2 1954.6h0M1573.4 1959.4h0M1573.4 1964.6h0M1576.7 1965.6h0M1573.4 1970.7h0M1576.5 1972.3h0M1573.4 1976.7h0M1576.6 1978.1h0M1573.4 1980.5h0M1570.0 1981.3h0M1573.4 1984.6h0M1575.0 1987.7h0"/>
<line x1="1573.4" y1="1948.1" x2="1573.4" y2="1997.2" stroke="#000" stroke-width="1.7" />
<line x1="1569.6" y1="1948.1" x2="1577.1" y2="1948.1" stroke="#000" stroke-width="1.5" />
<line x1="1569.6" y1="1997.2" x2="1577.1" y2="1997.2" stroke="#000" stroke-width="1.5" />
<line x1="1568.1" y1="1971.9" x2="1578.6" y2="1971.9" stroke="#000" stroke-width="3" />
<rect x="1598.9" y="2016.1" width="13.0" height="3.4" rx="1.7" fill="#5a5a5a"/>
<path stroke="#5a5a5a" stroke-width="3.4" stroke-linecap="round" d="M1605.4 2005.3h0M1608.9 2005.3h0M1605.4 2013.9h0"/>
<line x1="1605.4" y1="2013.1" x2="1605.4" y2="2019.4" stroke="#000" stroke-width="1.7" />
<line x1="1601.6" y1="2013.1" x2="1609.1" y2="2013.1" stroke="#000" stroke-width="1.5" />
<line x1="1601.6" y1="2019.4" x2="1609.1" y2="2019.4" stroke="#000" stroke-width="1.5" />
<line x1="1600.1" y1="2016.2" x2="1610.6" y2="2016.2" stroke="#000" stroke-width="3" />
<rect x="1624.3" y="2016.1" width="26.0" height="3.4" rx="1.7" fill="#5a5a5a"/>
<line x1="1632.1" y1="2017.8" x2="1642.6" y2="2017.8" stroke="#000" stroke-width="3" />
<rect x="1656.3" y="2016.1" width="26.0" height="3.4" rx="1.7" fill="#5a5a5a"/>
<line x1="1664.0" y1="2017.8" x2="1674.5" y2="2017.8" stroke="#000" stroke-width="3" />
<rect x="1688.3" y="2016.1" width="26.0" height="3.4" rx="1.7" fill="#5a5a5a"/>
<line x1="1696.0" y1="2017.8" x2="1706.5" y2="2017.8" stroke="#000" stroke-width="3" />
<rect x="1720.2" y="2016.1" width="26.0" height="3.4" rx="1.7" fill="#5a5a5a"/>
<line x1="1728.0" y1="2017.8" x2="1738.5" y2="2017.8" stroke="#000" stroke-width="3" />
<rect x="1752.2" y="2016.1" width="26.0" height="3.4" rx="1.7" fill="#5a5a5a"/>
<path stroke="#5a5a5a" stroke-width="3.4" stroke-linecap="round" d="M1765.2 1962.6h0M1768.6 1963.4h0M1764.0 1965.9h0M1765.2 1990.2h0M1765.2 1996.0h0M1768.3 1997.6h0M1765.2 2001.0h0M1768.7 2001.6h0"/>
<line x1="1765.2" y1="1981.4" x2="1765.2" y2="2025.7" stroke="#000" stroke-width="1.7" />
<line x1="1761.5" y1="1981.4" x2="1769.0" y2="1981.4" stroke="#000" stroke-width="1.5" />
<line x1="1761.5" y1="2025.7" x2="1769.0" y2="2025.7" stroke="#000" stroke-width="1.5" />
<line x1="1760.0" y1="2003.6" x2="1770.5" y2="2003.6" stroke="#000" stroke-width="3" />
<path stroke="#5a5a5a" stroke-width="3.4" stroke-linecap="round" d="M1797.2 1949.7h0M1797.2 1975.6h0M1797.2 1980.8h0M1800.0 1982.9h0M1797.2 1987.1h0M1800.0 1989.2h0M1795.1 1989.9h0M1791.7 1990.8h0M1802.9 1991.0h0M1797.2 1996.2h0M1800.1 1998.1h0M1797.2 2000.3h0M1799.1 2003.3h0M1795.5 2003.3h0M1792.7 2005.5h0M1797.2 2008.4h0M1800.7 2008.8h0M1797.2 2012.0h0M1800.7 2012.4h0"/>
<line x1="1797.2" y1="1983.0" x2="1797.2" y2="2013.1" stroke="#000" stroke-width="1.7" />
<line x1="1793.4" y1="1983.0" x2="1800.9" y2="1983.0" stroke="#000" stroke-width="1.5" />
<line x1="1793.4" y1="2013.1" x2="1800.9" y2="2013.1" stroke="#000" stroke-width="1.5" />
<line x1="1791.9" y1="1998.8" x2="1802.4" y2="1998.8" stroke="#000" stroke-width="3" />
<path stroke="#5a5a5a" stroke-width="3.4" stroke-linecap="round" d="M1829.1 1949.7h0M1829.1 1973.9h0M1829.1 1981.1h0M1831.7 1983.5h0M1829.1 1989.6h0M1832.1 1991.5h0M1829.1 1997.0h0M1832.6 1997.1h0M1825.7 1997.4h0M1835.7 1998.9h0M1829.1 2000.7h0M1832.5 2001.6h0M1829.1 2005.6h0M1832.5 2006.7h0M1826.0 2007.2h0M1822.6 2007.8h0M1835.7 2008.2h0M1839.2 2008.5h0M1829.1 2013.7h0"/>
<line x1="1829.1" y1="1986.1" x2="1829.1" y2="2014.6" stroke="#000" stroke-width="1.7" />
<line x1="1825.4" y1="1986.1" x2="1832.9" y2="1986.1" stroke="#000" stroke-width="1.5" />
<line x1="1825.4" y1="2014.6" x2="1832.9" y2="2014.6" stroke="#000" stroke-width="1.5" />
<line x1="1823.9" y1="2000.4" x2="1834.4" y2="2000.4" stroke="#000" stroke-width="3" />
<rect x="1848.1" y="2016.1" width="26.0" height="3.4" rx="1.7" fill="#5a5a5a"/>
<line x1="1855.9" y1="2017.8" x2="1866.4" y2="2017.8" stroke="#000" stroke-width="3" />
<rect x="1880.1" y="2016.1" width="26.0" height="3.4" rx="1.7" fill="#5a5a5a"/>
<path stroke="#5a5a5a" stroke-width="3.4" stroke-linecap="round" d="M1893.1 1983.8h0M1895.8 1986.1h0M1893.1 1990.2h0M1893.1 2000.5h0M1893.1 2004.1h0"/>
<line x1="1893.1" y1="2002.0" x2="1893.1" y2="2022.5" stroke="#000" stroke-width="1.7" />
<line x1="1889.3" y1="2002.0" x2="1896.8" y2="2002.0" stroke="#000" stroke-width="1.5" />
<line x1="1889.3" y1="2022.5" x2="1896.8" y2="2022.5" stroke="#000" stroke-width="1.5" />
<line x1="1887.8" y1="2013.1" x2="1898.3" y2="2013.1" stroke="#000" stroke-width="3" />
<rect x="1912.1" y="2016.1" width="26.0" height="3.4" rx="1.7" fill="#5a5a5a"/>
<path stroke="#5a5a5a" stroke-width="3.4" stroke-linecap="round" d="M1925.1 2004.3h0M1928.6 2004.4h0M1922.2 2006.2h0M1925.1 2008.5h0M1928.5 2009.0h0"/>
<line x1="1925.1" y1="2003.6" x2="1925.1" y2="2019.4" stroke="#000" stroke-width="1.7" />
<line x1="1921.3" y1="2003.6" x2="1928.8" y2="2003.6" stroke="#000" stroke-width="1.5" />
<line x1="1921.3" y1="2019.4" x2="1928.8" y2="2019.4" stroke="#000" stroke-width="1.5" />
<line x1="1919.8" y1="2013.1" x2="1930.3" y2="2013.1" stroke="#000" stroke-width="3" />
<rect x="1944.0" y="2016.1" width="26.0" height="3.4" rx="1.7" fill="#5a5a5a"/>
<line x1="1951.8" y1="2017.8" x2="1962.3" y2="2017.8" stroke="#000" stroke-width="3" />
<polyline points="1477.5,1896.9 1477.5,1896.9 1509.4,1896.9 1509.4,1907.9" stroke="#ff0000" stroke-width="2.0" fill="none" />
<text transform="translate(1457.0,1891.6) scale(0.734,1)" font-size="23" font-weight="bold" fill="#ff0000" stroke="#ff0000" stroke-width="0.45"><tspan font-style="italic">P</tspan> = 1.69 <tspan font-weight="normal" font-size="28.8" stroke-width="0" dy="1.8">×</tspan><tspan dy="-1.8"> 10</tspan><tspan font-size="14.3" dy="-8.3">-2</tspan></text>
<polyline points="1541.4,1964.8 1541.4,1916.0 1573.4,1916.0 1573.4,1916.0" stroke="#0028ff" stroke-width="2.0" fill="none" />
<text transform="translate(1529.2,1908.6) scale(0.728,1)" font-size="23" font-weight="bold" fill="#0028ff" stroke="#0028ff" stroke-width="0.45"><tspan font-style="italic">P</tspan> = 9.67 <tspan font-weight="normal" font-size="28.8" stroke-width="0" dy="1.8">×</tspan><tspan dy="-1.8"> 10</tspan><tspan font-size="14.3" dy="-8.3">-3</tspan></text>
<polyline points="1733.2,2017.8 1733.2,1959.7 1765.2,1959.7 1765.2,1963.2" stroke="#0028ff" stroke-width="2.0" fill="none" />
<text transform="translate(1718.1,1968.0) rotate(-65) scale(0.756,1)" font-size="23" font-weight="bold" fill="#0028ff" stroke="#0028ff" stroke-width="0.45"><tspan font-style="italic">P</tspan> = 1.08 <tspan font-weight="normal" font-size="28.8" stroke-width="0" dy="1.8">×</tspan><tspan dy="-1.8"> 10</tspan><tspan font-size="14.3" dy="-8.3">-2</tspan></text>
<polyline points="1861.1,2017.8 1861.1,1975.4 1893.1,1975.4 1893.1,1975.4" stroke="#0028ff" stroke-width="2.0" fill="none" />
<text transform="translate(1845.4,1985.0) rotate(-63) scale(0.756,1)" font-size="23" font-weight="bold" fill="#0028ff" stroke="#0028ff" stroke-width="0.45"><tspan font-style="italic">P</tspan> = 4.96 <tspan font-weight="normal" font-size="28.8" stroke-width="0" dy="1.8">×</tspan><tspan dy="-1.8"> 10</tspan><tspan font-size="14.3" dy="-8.3">-2</tspan></text>
<polyline points="1925.1,1980.0 1925.1,1980.0 1957.0,1980.0 1957.0,2017.8" stroke="#ff0000" stroke-width="2.0" fill="none" />
<text transform="translate(1913.4,1980.8) rotate(-68) scale(0.756,1)" font-size="23" font-weight="bold" fill="#ff0000" stroke="#ff0000" stroke-width="0.45"><tspan font-style="italic">P</tspan> = 2.76 <tspan font-weight="normal" font-size="28.8" stroke-width="0" dy="1.8">×</tspan><tspan dy="-1.8"> 10</tspan><tspan font-size="14.3" dy="-8.3">-2</tspan></text>
<rect x="1395.9" y="2052.5" width="64.0" height="205.4" fill="#e4e4e4" />
<rect x="1525.0" y="2052.5" width="64.0" height="205.4" fill="#e4e4e4" />
<rect x="1654.1" y="2052.5" width="64.0" height="205.4" fill="#e4e4e4" />
<rect x="1783.2" y="2052.5" width="64.0" height="205.4" fill="#e4e4e4" />
<rect x="1912.3" y="2052.5" width="64.0" height="205.4" fill="#e4e4e4" />
<line x1="1330.0" y1="2060.8" x2="1330.0" y2="2260.7" stroke="#000" stroke-width="1.8" />
<line x1="1329.1" y1="2259.9" x2="1977.0" y2="2259.9" stroke="#222" stroke-width="1.6" />
<line x1="1326.0" y1="2228.2" x2="1330.0" y2="2228.2" stroke="#000" stroke-width="1.4" />
<text transform="translate(1311.4,2239.7) scale(0.750,1)" font-size="27" font-weight="bold" fill="#000" stroke="#000" stroke-width="0.50" >0</text>
<line x1="1326.0" y1="2188.6" x2="1330.0" y2="2188.6" stroke="#000" stroke-width="1.4" />
<text transform="translate(1299.8,2200.1) scale(0.750,1)" font-size="27" font-weight="bold" fill="#000" stroke="#000" stroke-width="0.50" >25</text>
<line x1="1326.0" y1="2149.0" x2="1330.0" y2="2149.0" stroke="#000" stroke-width="1.4" />
<text transform="translate(1300.0,2160.5) scale(0.750,1)" font-size="27" font-weight="bold" fill="#000" stroke="#000" stroke-width="0.50" >50</text>
<line x1="1326.0" y1="2109.5" x2="1330.0" y2="2109.5" stroke="#000" stroke-width="1.4" />
<text transform="translate(1299.8,2121.0) scale(0.750,1)" font-size="27" font-weight="bold" fill="#000" stroke="#000" stroke-width="0.50" >75</text>
<line x1="1326.0" y1="2069.9" x2="1330.0" y2="2069.9" stroke="#000" stroke-width="1.4" />
<text transform="translate(1288.9,2081.4) scale(0.750,1)" font-size="27" font-weight="bold" fill="#000" stroke="#000" stroke-width="0.50" >100</text>
<line x1="1349.6" y1="2259.9" x2="1349.6" y2="2263.4" stroke="#000" stroke-width="1.6" />
<line x1="1381.6" y1="2259.9" x2="1381.6" y2="2263.4" stroke="#000" stroke-width="1.6" />
<line x1="1413.5" y1="2259.9" x2="1413.5" y2="2263.4" stroke="#000" stroke-width="1.6" />
<line x1="1445.5" y1="2259.9" x2="1445.5" y2="2263.4" stroke="#000" stroke-width="1.6" />
<line x1="1477.5" y1="2259.9" x2="1477.5" y2="2263.4" stroke="#000" stroke-width="1.6" />
<line x1="1509.4" y1="2259.9" x2="1509.4" y2="2263.4" stroke="#000" stroke-width="1.6" />
<line x1="1541.4" y1="2259.9" x2="1541.4" y2="2263.4" stroke="#000" stroke-width="1.6" />
<line x1="1573.4" y1="2259.9" x2="1573.4" y2="2263.4" stroke="#000" stroke-width="1.6" />
<line x1="1605.4" y1="2259.9" x2="1605.4" y2="2263.4" stroke="#000" stroke-width="1.6" />
<line x1="1637.3" y1="2259.9" x2="1637.3" y2="2263.4" stroke="#000" stroke-width="1.6" />
<line x1="1669.3" y1="2259.9" x2="1669.3" y2="2263.4" stroke="#000" stroke-width="1.6" />
<line x1="1701.3" y1="2259.9" x2="1701.3" y2="2263.4" stroke="#000" stroke-width="1.6" />
<line x1="1733.2" y1="2259.9" x2="1733.2" y2="2263.4" stroke="#000" stroke-width="1.6" />
<line x1="1765.2" y1="2259.9" x2="1765.2" y2="2263.4" stroke="#000" stroke-width="1.6" />
<line x1="1797.2" y1="2259.9" x2="1797.2" y2="2263.4" stroke="#000" stroke-width="1.6" />
<line x1="1829.1" y1="2259.9" x2="1829.1" y2="2263.4" stroke="#000" stroke-width="1.6" />
<line x1="1861.1" y1="2259.9" x2="1861.1" y2="2263.4" stroke="#000" stroke-width="1.6" />
<line x1="1893.1" y1="2259.9" x2="1893.1" y2="2263.4" stroke="#000" stroke-width="1.6" />
<line x1="1925.1" y1="2259.9" x2="1925.1" y2="2263.4" stroke="#000" stroke-width="1.6" />
<line x1="1957.0" y1="2259.9" x2="1957.0" y2="2263.4" stroke="#000" stroke-width="1.6" />
<text transform="translate(1284.3,2215.0) rotate(-90) scale(0.812,1)" font-size="25.7" font-weight="bold" fill="#000" stroke="#000" stroke-width="0.50" >% SBS / Total</text>
<line x1="1288.0" y1="2083.5" x2="1288.0" y2="2214.5" stroke="#444" stroke-width="1.6" />
<text transform="translate(1337.6,2093.0) scale(0.742,1)" font-size="31" font-weight="bold" fill="#00904c" stroke="#00904c" stroke-width="0.50" >Cluster 4</text>
<path stroke="#5a5a5a" stroke-width="3.4" stroke-linecap="round" d="M1349.6 2221.8h0M1353.1 2221.8h0M1346.1 2221.9h0M1356.5 2222.4h0M1342.6 2222.4h0M1360.0 2222.5h0M1339.1 2222.6h0M1363.5 2223.1h0M1335.7 2223.3h0M1351.0 2225.0h0"/>
<line x1="1344.3" y1="2222.7" x2="1354.8" y2="2222.7" stroke="#000" stroke-width="3" />
<path stroke="#5a5a5a" stroke-width="3.4" stroke-linecap="round" d="M1381.6 2220.4h0M1385.1 2220.4h0M1378.1 2220.9h0M1388.4 2221.6h0M1375.4 2223.0h0M1371.9 2223.1h0M1391.5 2223.1h0M1368.4 2223.2h0M1395.0 2223.2h0M1383.1 2223.5h0"/>
<line x1="1376.3" y1="2221.9" x2="1386.8" y2="2221.9" stroke="#000" stroke-width="3" />
<path stroke="#5a5a5a" stroke-width="3.4" stroke-linecap="round" d="M1413.5 2179.1h0M1413.5 2187.0h0M1413.5 2197.5h0M1413.5 2203.2h0M1415.2 2206.3h0M1413.5 2211.8h0M1417.0 2211.9h0M1413.5 2215.9h0M1416.3 2218.1h0M1411.1 2218.4h0M1407.7 2219.3h0M1413.7 2220.6h0M1417.5 2221.4h0M1413.5 2226.7h0"/>
<line x1="1413.5" y1="2201.3" x2="1413.5" y2="2228.2" stroke="#000" stroke-width="1.7" />
<line x1="1409.8" y1="2201.3" x2="1417.3" y2="2201.3" stroke="#000" stroke-width="1.5" />
<line x1="1409.8" y1="2228.2" x2="1417.3" y2="2228.2" stroke="#000" stroke-width="1.5" />
<line x1="1408.3" y1="2215.5" x2="1418.8" y2="2215.5" stroke="#000" stroke-width="3" />
<path stroke="#5a5a5a" stroke-width="3.4" stroke-linecap="round" d="M1445.5 2183.9h0M1445.5 2201.0h0M1445.5 2204.6h0M1448.3 2206.7h0M1445.5 2208.9h0M1442.2 2209.9h0M1448.1 2211.2h0M1444.8 2212.3h0M1441.9 2214.3h0M1445.5 2218.3h0M1449.0 2218.5h0M1445.5 2224.3h0M1446.6 2227.7h0"/>
<line x1="1445.5" y1="2207.6" x2="1445.5" y2="2228.2" stroke="#000" stroke-width="1.7" />
<line x1="1441.8" y1="2207.6" x2="1449.3" y2="2207.6" stroke="#000" stroke-width="1.5" />
<line x1="1441.8" y1="2228.2" x2="1449.3" y2="2228.2" stroke="#000" stroke-width="1.5" />
<line x1="1440.3" y1="2218.7" x2="1450.8" y2="2218.7" stroke="#000" stroke-width="3" />
<path stroke="#5a5a5a" stroke-width="3.4" stroke-linecap="round" d="M1477.5 2103.7h0M1477.5 2116.8h0M1480.9 2117.7h0M1474.5 2118.6h0M1483.6 2119.8h0M1477.9 2120.2h0M1471.7 2120.7h0M1475.1 2122.4h0M1480.3 2122.8h0M1477.5 2126.0h0M1481.0 2126.4h0M1477.5 2131.2h0M1477.5 2172.8h0"/>
<line x1="1477.5" y1="2104.7" x2="1477.5" y2="2142.7" stroke="#000" stroke-width="1.7" />
<line x1="1473.7" y1="2104.7" x2="1481.2" y2="2104.7" stroke="#000" stroke-width="1.5" />
<line x1="1473.7" y1="2142.7" x2="1481.2" y2="2142.7" stroke="#000" stroke-width="1.5" />
<line x1="1472.2" y1="2122.1" x2="1482.7" y2="2122.1" stroke="#000" stroke-width="3" />
<path stroke="#5a5a5a" stroke-width="3.4" stroke-linecap="round" d="M1509.4 2117.4h0M1509.4 2129.2h0M1509.4 2133.4h0M1512.9 2134.1h0M1509.7 2136.9h0M1506.3 2137.7h0M1512.1 2139.4h0M1515.6 2139.5h0M1509.4 2144.8h0M1512.2 2146.9h0M1509.2 2148.7h0M1505.7 2148.7h0M1509.4 2152.6h0"/>
<line x1="1509.4" y1="2117.4" x2="1509.4" y2="2166.5" stroke="#000" stroke-width="1.7" />
<line x1="1505.7" y1="2117.4" x2="1513.2" y2="2117.4" stroke="#000" stroke-width="1.5" />
<line x1="1505.7" y1="2166.5" x2="1513.2" y2="2166.5" stroke="#000" stroke-width="1.5" />
<line x1="1504.2" y1="2142.7" x2="1514.7" y2="2142.7" stroke="#000" stroke-width="3" />
<path stroke="#5a5a5a" stroke-width="3.4" stroke-linecap="round" d="M1541.4 2201.8h0M1544.7 2202.9h0M1539.4 2204.6h0M1535.9 2204.8h0M1547.6 2205.0h0M1541.4 2208.2h0M1544.5 2210.0h0M1538.4 2210.0h0M1534.9 2210.1h0M1547.8 2211.1h0M1541.4 2215.4h0M1544.5 2217.1h0"/>
<line x1="1541.4" y1="2199.7" x2="1541.4" y2="2217.1" stroke="#000" stroke-width="1.7" />
<line x1="1537.7" y1="2199.7" x2="1545.2" y2="2199.7" stroke="#000" stroke-width="1.5" />
<line x1="1537.7" y1="2217.1" x2="1545.2" y2="2217.1" stroke="#000" stroke-width="1.5" />
<line x1="1536.2" y1="2209.2" x2="1546.7" y2="2209.2" stroke="#000" stroke-width="3" />
<path stroke="#5a5a5a" stroke-width="3.4" stroke-linecap="round" d="M1573.4 2194.6h0M1576.7 2195.7h0M1570.3 2196.1h0M1566.8 2196.6h0M1573.4 2202.9h0M1574.8 2206.1h0M1571.3 2206.7h0M1573.4 2209.7h0M1574.4 2213.0h0M1571.1 2214.3h0M1577.1 2215.2h0M1573.4 2218.7h0"/>
<line x1="1573.4" y1="2190.2" x2="1573.4" y2="2212.4" stroke="#000" stroke-width="1.7" />
<line x1="1569.6" y1="2190.2" x2="1577.1" y2="2190.2" stroke="#000" stroke-width="1.5" />
<line x1="1569.6" y1="2212.4" x2="1577.1" y2="2212.4" stroke="#000" stroke-width="1.5" />
<line x1="1568.1" y1="2201.3" x2="1578.6" y2="2201.3" stroke="#000" stroke-width="3" />
<rect x="1592.4" y="2226.5" width="26.0" height="3.4" rx="1.7" fill="#5a5a5a"/>
<line x1="1600.1" y1="2228.2" x2="1610.6" y2="2228.2" stroke="#000" stroke-width="3" />
<rect x="1624.3" y="2226.5" width="26.0" height="3.4" rx="1.7" fill="#5a5a5a"/>
<line x1="1632.1" y1="2228.2" x2="1642.6" y2="2228.2" stroke="#000" stroke-width="3" />
<rect x="1656.3" y="2226.5" width="26.0" height="3.4" rx="1.7" fill="#5a5a5a"/>
<line x1="1664.0" y1="2228.2" x2="1674.5" y2="2228.2" stroke="#000" stroke-width="3" />
<rect x="1688.3" y="2226.5" width="26.0" height="3.4" rx="1.7" fill="#5a5a5a"/>
<line x1="1696.0" y1="2228.2" x2="1706.5" y2="2228.2" stroke="#000" stroke-width="3" />
<rect x="1720.2" y="2226.5" width="26.0" height="3.4" rx="1.7" fill="#5a5a5a"/>
<line x1="1728.0" y1="2228.2" x2="1738.5" y2="2228.2" stroke="#000" stroke-width="3" />
<rect x="1758.7" y="2226.5" width="13.0" height="3.4" rx="1.7" fill="#5a5a5a"/>
<path stroke="#5a5a5a" stroke-width="3.4" stroke-linecap="round" d="M1765.2 2191.4h0M1765.2 2200.0h0M1767.9 2202.3h0M1765.2 2206.0h0M1768.7 2206.4h0M1761.7 2206.4h0M1772.1 2207.3h0M1765.2 2214.1h0"/>
<line x1="1765.2" y1="2196.5" x2="1765.2" y2="2229.8" stroke="#000" stroke-width="1.7" />
<line x1="1761.5" y1="2196.5" x2="1769.0" y2="2196.5" stroke="#000" stroke-width="1.5" />
<line x1="1761.5" y1="2229.8" x2="1769.0" y2="2229.8" stroke="#000" stroke-width="1.5" />
<line x1="1760.0" y1="2214.0" x2="1770.5" y2="2214.0" stroke="#000" stroke-width="3" />
<path stroke="#5a5a5a" stroke-width="3.4" stroke-linecap="round" d="M1797.2 2197.4h0M1798.5 2200.6h0M1797.2 2204.5h0M1800.3 2206.2h0M1797.2 2210.3h0M1800.7 2210.6h0M1793.7 2210.7h0M1804.1 2211.4h0M1797.2 2214.2h0M1800.5 2215.3h0M1795.2 2217.1h0M1797.2 2221.3h0M1798.8 2224.4h0"/>
<line x1="1797.2" y1="2199.7" x2="1797.2" y2="2226.6" stroke="#000" stroke-width="1.7" />
<line x1="1793.4" y1="2199.7" x2="1800.9" y2="2199.7" stroke="#000" stroke-width="1.5" />
<line x1="1793.4" y1="2226.6" x2="1800.9" y2="2226.6" stroke="#000" stroke-width="1.5" />
<line x1="1791.9" y1="2212.4" x2="1802.4" y2="2212.4" stroke="#000" stroke-width="3" />
<path stroke="#5a5a5a" stroke-width="3.4" stroke-linecap="round" d="M1829.1 2192.8h0M1832.4 2194.1h0M1827.9 2196.1h0M1829.6 2199.1h0M1827.7 2202.1h0M1831.1 2202.7h0M1829.1 2208.4h0M1831.5 2211.0h0M1828.3 2212.2h0M1824.9 2213.0h0M1833.3 2214.0h0M1821.8 2214.7h0M1829.1 2217.6h0"/>
<line x1="1829.1" y1="2201.3" x2="1829.1" y2="2223.5" stroke="#000" stroke-width="1.7" />
<line x1="1825.4" y1="2201.3" x2="1832.9" y2="2201.3" stroke="#000" stroke-width="1.5" />
<line x1="1825.4" y1="2223.5" x2="1832.9" y2="2223.5" stroke="#000" stroke-width="1.5" />
<line x1="1823.9" y1="2212.4" x2="1834.4" y2="2212.4" stroke="#000" stroke-width="3" />
<rect x="1848.1" y="2226.5" width="26.0" height="3.4" rx="1.7" fill="#5a5a5a"/>
<line x1="1855.9" y1="2228.2" x2="1866.4" y2="2228.2" stroke="#000" stroke-width="3" />
<rect x="1880.1" y="2226.5" width="26.0" height="3.4" rx="1.7" fill="#5a5a5a"/>
<line x1="1887.8" y1="2228.2" x2="1898.3" y2="2228.2" stroke="#000" stroke-width="3" />
<rect x="1912.1" y="2226.5" width="26.0" height="3.4" rx="1.7" fill="#5a5a5a"/>
<line x1="1919.8" y1="2228.2" x2="1930.3" y2="2228.2" stroke="#000" stroke-width="3" />
<rect x="1944.0" y="2226.5" width="26.0" height="3.4" rx="1.7" fill="#5a5a5a"/>
<line x1="1951.8" y1="2228.2" x2="1962.3" y2="2228.2" stroke="#000" stroke-width="3" />
<polyline points="1477.5,2092.1 1477.5,2092.1 1509.4,2092.1 1509.4,2104.7" stroke="#ff0000" stroke-width="2.0" fill="none" />
<text transform="translate(1457.0,2088.8) scale(0.734,1)" font-size="23" font-weight="bold" fill="#ff0000" stroke="#ff0000" stroke-width="0.45"><tspan font-style="italic">P</tspan> = 1.42 <tspan font-weight="normal" font-size="28.8" stroke-width="0" dy="1.8">×</tspan><tspan dy="-1.8"> 10</tspan><tspan font-size="14.3" dy="-8.3">-2</tspan></text>
<polyline points="1541.4,2188.6 1541.4,2178.0 1573.4,2178.0 1573.4,2178.0" stroke="#0028ff" stroke-width="2.0" fill="none" />
<text transform="translate(1529.2,2173.7) scale(0.733,1)" font-size="23" font-weight="bold" fill="#0028ff" stroke="#0028ff" stroke-width="0.45"><tspan font-style="italic">P</tspan> = 4.00 <tspan font-weight="normal" font-size="28.8" stroke-width="0" dy="1.8">×</tspan><tspan dy="-1.8"> 10</tspan><tspan font-size="14.3" dy="-8.3">-2</tspan></text>
<polyline points="1733.2,2228.2 1733.2,2177.2 1765.2,2177.2 1765.2,2177.2" stroke="#0028ff" stroke-width="2.0" fill="none" />
<text transform="translate(1718.1,2172.4) scale(0.733,1)" font-size="23" font-weight="bold" fill="#0028ff" stroke="#0028ff" stroke-width="0.45"><tspan font-style="italic">P</tspan> = 7.34 <tspan font-weight="normal" font-size="28.8" stroke-width="0" dy="1.8">×</tspan><tspan dy="-1.8"> 10</tspan><tspan font-size="14.3" dy="-8.3">-3</tspan></text>
<text transform="translate(1337.7,2282.8) scale(0.837,1)" font-size="23" font-weight="bold" fill="#000" stroke="#000" stroke-width="0.50" >1M All</text>
<line x1="1337.6" y1="2286.4" x2="1393.5" y2="2286.4" stroke="#333" stroke-width="1.5" />
<text transform="translate(1342.2,2308.0) scale(0.780,1)" font-size="23" font-weight="bold" fill="#000000" stroke="#000000" stroke-width="0.50" >SBS1</text>
<text transform="translate(1401.6,2282.8) scale(0.837,1)" font-size="23" font-weight="bold" fill="#000" stroke="#000" stroke-width="0.50" >1M All</text>
<line x1="1401.6" y1="2286.4" x2="1457.5" y2="2286.4" stroke="#333" stroke-width="1.5" />
<text transform="translate(1406.2,2308.0) scale(0.780,1)" font-size="23" font-weight="bold" fill="#ff0000" stroke="#ff0000" stroke-width="0.50" >SBS2</text>
<text transform="translate(1465.6,2282.8) scale(0.837,1)" font-size="23" font-weight="bold" fill="#000" stroke="#000" stroke-width="0.50" >1M All</text>
<line x1="1465.5" y1="2286.4" x2="1521.4" y2="2286.4" stroke="#333" stroke-width="1.5" />
<text transform="translate(1470.1,2308.0) scale(0.780,1)" font-size="23" font-weight="bold" fill="#ff0000" stroke="#ff0000" stroke-width="0.50" >SBS3</text>
<text transform="translate(1529.5,2282.8) scale(0.837,1)" font-size="23" font-weight="bold" fill="#000" stroke="#000" stroke-width="0.50" >1M All</text>
<line x1="1529.5" y1="2286.4" x2="1585.4" y2="2286.4" stroke="#333" stroke-width="1.5" />
<text transform="translate(1534.0,2308.0) scale(0.780,1)" font-size="23" font-weight="bold" fill="#0028ff" stroke="#0028ff" stroke-width="0.50" >SBS5</text>
<text transform="translate(1593.4,2282.8) scale(0.837,1)" font-size="23" font-weight="bold" fill="#000" stroke="#000" stroke-width="0.50" >1M All</text>
<line x1="1593.4" y1="2286.4" x2="1649.3" y2="2286.4" stroke="#333" stroke-width="1.5" />
<text transform="translate(1592.6,2308.0) scale(0.780,1)" font-size="23" font-weight="bold" fill="#ff0000" stroke="#ff0000" stroke-width="0.50" >SBS7a</text>
<text transform="translate(1657.4,2282.8) scale(0.837,1)" font-size="23" font-weight="bold" fill="#000" stroke="#000" stroke-width="0.50" >1M All</text>
<line x1="1657.3" y1="2286.4" x2="1713.2" y2="2286.4" stroke="#333" stroke-width="1.5" />
<text transform="translate(1656.6,2308.0) scale(0.780,1)" font-size="23" font-weight="bold" fill="#ff0000" stroke="#ff0000" stroke-width="0.50" >SBS7b</text>
<text transform="translate(1721.3,2282.8) scale(0.837,1)" font-size="23" font-weight="bold" fill="#000" stroke="#000" stroke-width="0.50" >1M All</text>
<line x1="1721.3" y1="2286.4" x2="1777.2" y2="2286.4" stroke="#333" stroke-width="1.5" />
<text transform="translate(1725.8,2308.0) scale(0.780,1)" font-size="23" font-weight="bold" fill="#0028ff" stroke="#0028ff" stroke-width="0.50" >SBS8</text>
<text transform="translate(1785.3,2282.8) scale(0.837,1)" font-size="23" font-weight="bold" fill="#000" stroke="#000" stroke-width="0.50" >1M All</text>
<line x1="1785.2" y1="2286.4" x2="1841.1" y2="2286.4" stroke="#333" stroke-width="1.5" />
<text transform="translate(1784.9,2308.0) scale(0.780,1)" font-size="23" font-weight="bold" fill="#ff0000" stroke="#ff0000" stroke-width="0.50" >SBS13</text>
<text transform="translate(1849.2,2282.8) scale(0.837,1)" font-size="23" font-weight="bold" fill="#000" stroke="#000" stroke-width="0.50" >1M All</text>
<line x1="1849.2" y1="2286.4" x2="1905.1" y2="2286.4" stroke="#333" stroke-width="1.5" />
<text transform="translate(1848.8,2308.0) scale(0.780,1)" font-size="23" font-weight="bold" fill="#0028ff" stroke="#0028ff" stroke-width="0.50" >SBS18</text>
<text transform="translate(1913.1,2282.8) scale(0.837,1)" font-size="23" font-weight="bold" fill="#000" stroke="#000" stroke-width="0.50" >1M All</text>
<line x1="1913.1" y1="2286.4" x2="1969.0" y2="2286.4" stroke="#333" stroke-width="1.5" />
<text transform="translate(1912.8,2308.0) scale(0.780,1)" font-size="23" font-weight="bold" fill="#ff0000" stroke="#ff0000" stroke-width="0.50" >SBS36</text>
<rect x="236.0" y="60.0" width="29.5" height="131.0" fill="#fdcccc" />
<rect x="266.5" y="60.0" width="188.8" height="131.0" fill="#ccd5fa" />
<rect x="456.3" y="60.0" width="325.0" height="131.0" fill="#fde7cc" />
<rect x="782.5" y="60.0" width="168.3" height="131.0" fill="#ccfbe1" />
<g><line x1="250.0" y1="164.3" x2="260.5" y2="164.3" stroke="#333" stroke-width="1.1" /><line x1="250.0" y1="164.3" x2="250.0" y2="190.0" stroke="#333" stroke-width="1.1" /><line x1="260.5" y1="164.3" x2="260.5" y2="190.0" stroke="#333" stroke-width="1.1" /><line x1="239.5" y1="126.8" x2="255.3" y2="126.8" stroke="#333" stroke-width="1.1" /><line x1="239.5" y1="126.8" x2="239.5" y2="190.0" stroke="#333" stroke-width="1.1" /><line x1="255.3" y1="126.8" x2="255.3" y2="164.3" stroke="#333" stroke-width="1.1" /><line x1="271.1" y1="172.0" x2="271.1" y2="190.0" stroke="#333" stroke-width="1.1" /><line x1="281.6" y1="186.0" x2="281.6" y2="190.0" stroke="#333" stroke-width="1.1" /><line x1="292.1" y1="186.0" x2="292.1" y2="190.0" stroke="#333" stroke-width="1.1" /><line x1="302.6" y1="186.0" x2="302.6" y2="190.0" stroke="#333" stroke-width="1.1" /><line x1="313.2" y1="186.0" x2="313.2" y2="190.0" stroke="#333" stroke-width="1.1" /><line x1="302.6" y1="186.0" x2="313.2" y2="186.0" stroke="#333" stroke-width="1.1" /><line x1="307.9" y1="186.0" x2="307.9" y2="186.0" stroke="#333" stroke-width="1.1" /><line x1="292.1" y1="186.0" x2="307.9" y2="186.0" stroke="#333" stroke-width="1.1" /><line x1="300.0" y1="186.0" x2="300.0" y2="186.0" stroke="#333" stroke-width="1.1" /><line x1="281.6" y1="186.0" x2="300.0" y2="186.0" stroke="#333" stroke-width="1.1" /><line x1="290.8" y1="186.0" x2="290.8" y2="186.0" stroke="#333" stroke-width="1.1" /><line x1="323.7" y1="186.0" x2="323.7" y2="190.0" stroke="#333" stroke-width="1.1" /><line x1="290.8" y1="186.0" x2="323.7" y2="186.0" stroke="#333" stroke-width="1.1" /><line x1="307.3" y1="185.2" x2="307.3" y2="186.0" stroke="#333" stroke-width="1.1" /><line x1="334.2" y1="185.2" x2="334.2" y2="190.0" stroke="#333" stroke-width="1.1" /><line x1="307.3" y1="185.2" x2="334.2" y2="185.2" stroke="#333" stroke-width="1.1" /><line x1="320.7" y1="179.0" x2="320.7" y2="185.2" stroke="#333" stroke-width="1.1" /><line x1="344.8" y1="179.0" x2="344.8" y2="190.0" stroke="#333" stroke-width="1.1" /><line x1="320.7" y1="179.0" x2="344.8" y2="179.0" stroke="#333" stroke-width="1.1" /><line x1="332.8" y1="172.0" x2="332.8" y2="179.0" stroke="#333" stroke-width="1.1" /><line x1="271.1" y1="172.0" x2="332.8" y2="172.0" stroke="#333" stroke-width="1.1" /><line x1="355.3" y1="169.0" x2="355.3" y2="190.0" stroke="#333" stroke-width="1.1" /><line x1="365.8" y1="186.0" x2="365.8" y2="190.0" stroke="#333" stroke-width="1.1" /><line x1="376.4" y1="186.0" x2="376.4" y2="190.0" stroke="#333" stroke-width="1.1" /><line x1="386.9" y1="186.0" x2="386.9" y2="190.0" stroke="#333" stroke-width="1.1" /><line x1="376.4" y1="186.0" x2="386.9" y2="186.0" stroke="#333" stroke-width="1.1" /><line x1="381.6" y1="186.0" x2="381.6" y2="186.0" stroke="#333" stroke-width="1.1" /><line x1="365.8" y1="186.0" x2="381.6" y2="186.0" stroke="#333" stroke-width="1.1" /><line x1="373.7" y1="178.8" x2="373.7" y2="186.0" stroke="#333" stroke-width="1.1" /><line x1="397.4" y1="186.0" x2="397.4" y2="190.0" stroke="#333" stroke-width="1.1" /><line x1="407.9" y1="186.0" x2="407.9" y2="190.0" stroke="#333" stroke-width="1.1" /><line x1="397.4" y1="186.0" x2="407.9" y2="186.0" stroke="#333" stroke-width="1.1" /><line x1="402.7" y1="186.0" x2="402.7" y2="186.0" stroke="#333" stroke-width="1.1" /><line x1="418.5" y1="186.0" x2="418.5" y2="190.0" stroke="#333" stroke-width="1.1" /><line x1="429.0" y1="186.0" x2="429.0" y2="190.0" stroke="#333" stroke-width="1.1" /><line x1="418.5" y1="186.0" x2="429.0" y2="186.0" stroke="#333" stroke-width="1.1" /><line x1="423.7" y1="186.0" x2="423.7" y2="186.0" stroke="#333" stroke-width="1.1" /><line x1="439.5" y1="186.0" x2="439.5" y2="190.0" stroke="#333" stroke-width="1.1" /><line x1="450.1" y1="186.0" x2="450.1" y2="190.0" stroke="#333" stroke-width="1.1" /><line x1="439.5" y1="186.0" x2="450.1" y2="186.0" stroke="#333" stroke-width="1.1" /><line x1="444.8" y1="186.0" x2="444.8" y2="186.0" stroke="#333" stroke-width="1.1" /><line x1="423.7" y1="186.0" x2="444.8" y2="186.0" stroke="#333" stroke-width="1.1" /><line x1="434.3" y1="186.0" x2="434.3" y2="186.0" stroke="#333" stroke-width="1.1" /><line x1="402.7" y1="186.0" x2="434.3" y2="186.0" stroke="#333" stroke-width="1.1" /><line x1="418.5" y1="178.8" x2="418.5" y2="186.0" stroke="#333" stroke-width="1.1" /><line x1="373.7" y1="178.8" x2="418.5" y2="178.8" stroke="#333" stroke-width="1.1" /><line x1="396.1" y1="169.0" x2="396.1" y2="178.8" stroke="#333" stroke-width="1.1" /><line x1="355.3" y1="169.0" x2="396.1" y2="169.0" stroke="#333" stroke-width="1.1" /><line x1="301.9" y1="161.0" x2="375.7" y2="161.0" stroke="#333" stroke-width="1.1" /><line x1="301.9" y1="161.0" x2="301.9" y2="172.0" stroke="#333" stroke-width="1.1" /><line x1="375.7" y1="161.0" x2="375.7" y2="169.0" stroke="#333" stroke-width="1.1" /><line x1="471.1" y1="178.0" x2="471.1" y2="190.0" stroke="#333" stroke-width="1.1" /><line x1="481.7" y1="186.0" x2="481.7" y2="190.0" stroke="#333" stroke-width="1.1" /><line x1="492.2" y1="186.0" x2="492.2" y2="190.0" stroke="#333" stroke-width="1.1" /><line x1="502.7" y1="186.0" x2="502.7" y2="190.0" stroke="#333" stroke-width="1.1" /><line x1="492.2" y1="186.0" x2="502.7" y2="186.0" stroke="#333" stroke-width="1.1" /><line x1="497.4" y1="186.0" x2="497.4" y2="186.0" stroke="#333" stroke-width="1.1" /><line x1="481.7" y1="186.0" x2="497.4" y2="186.0" stroke="#333" stroke-width="1.1" /><line x1="489.6" y1="186.0" x2="489.6" y2="186.0" stroke="#333" stroke-width="1.1" /><line x1="513.2" y1="186.0" x2="513.2" y2="190.0" stroke="#333" stroke-width="1.1" /><line x1="489.6" y1="186.0" x2="513.2" y2="186.0" stroke="#333" stroke-width="1.1" /><line x1="501.4" y1="178.0" x2="501.4" y2="186.0" stroke="#333" stroke-width="1.1" /><line x1="471.1" y1="178.0" x2="501.4" y2="178.0" stroke="#333" stroke-width="1.1" /><line x1="523.8" y1="174.6" x2="523.8" y2="190.0" stroke="#333" stroke-width="1.1" /><line x1="534.3" y1="185.5" x2="534.3" y2="190.0" stroke="#333" stroke-width="1.1" /><line x1="544.8" y1="186.0" x2="544.8" y2="190.0" stroke="#333" stroke-width="1.1" /><line x1="555.4" y1="186.0" x2="555.4" y2="190.0" stroke="#333" stroke-width="1.1" /><line x1="544.8" y1="186.0" x2="555.4" y2="186.0" stroke="#333" stroke-width="1.1" /><line x1="550.1" y1="185.5" x2="550.1" y2="186.0" stroke="#333" stroke-width="1.1" /><line x1="534.3" y1="185.5" x2="550.1" y2="185.5" stroke="#333" stroke-width="1.1" /><line x1="542.2" y1="178.7" x2="542.2" y2="185.5" stroke="#333" stroke-width="1.1" /><line x1="565.9" y1="186.0" x2="565.9" y2="190.0" stroke="#333" stroke-width="1.1" /><line x1="576.4" y1="186.0" x2="576.4" y2="190.0" stroke="#333" stroke-width="1.1" /><line x1="565.9" y1="186.0" x2="576.4" y2="186.0" stroke="#333" stroke-width="1.1" /><line x1="571.2" y1="185.4" x2="571.2" y2="186.0" stroke="#333" stroke-width="1.1" /><line x1="587.0" y1="186.0" x2="587.0" y2="190.0" stroke="#333" stroke-width="1.1" /><line x1="597.5" y1="186.0" x2="597.5" y2="190.0" stroke="#333" stroke-width="1.1" /><line x1="608.0" y1="186.0" x2="608.0" y2="190.0" stroke="#333" stroke-width="1.1" /><line x1="597.5" y1="186.0" x2="608.0" y2="186.0" stroke="#333" stroke-width="1.1" /><line x1="602.8" y1="186.0" x2="602.8" y2="186.0" stroke="#333" stroke-width="1.1" /><line x1="618.5" y1="186.0" x2="618.5" y2="190.0" stroke="#333" stroke-width="1.1" /><line x1="602.8" y1="186.0" x2="618.5" y2="186.0" stroke="#333" stroke-width="1.1" /><line x1="610.6" y1="186.0" x2="610.6" y2="186.0" stroke="#333" stroke-width="1.1" /><line x1="587.0" y1="186.0" x2="610.6" y2="186.0" stroke="#333" stroke-width="1.1" /><line x1="598.8" y1="185.4" x2="598.8" y2="186.0" stroke="#333" stroke-width="1.1" /><line x1="571.2" y1="185.4" x2="598.8" y2="185.4" stroke="#333" stroke-width="1.1" /><line x1="585.0" y1="178.7" x2="585.0" y2="185.4" stroke="#333" stroke-width="1.1" /><line x1="542.2" y1="178.7" x2="585.0" y2="178.7" stroke="#333" stroke-width="1.1" /><line x1="563.6" y1="174.6" x2="563.6" y2="178.7" stroke="#333" stroke-width="1.1" /><line x1="523.8" y1="174.6" x2="563.6" y2="174.6" stroke="#333" stroke-width="1.1" /><line x1="629.1" y1="169.0" x2="629.1" y2="190.0" stroke="#333" stroke-width="1.1" /><line x1="639.6" y1="186.0" x2="639.6" y2="190.0" stroke="#333" stroke-width="1.1" /><line x1="650.1" y1="186.0" x2="650.1" y2="190.0" stroke="#333" stroke-width="1.1" /><line x1="660.7" y1="186.0" x2="660.7" y2="190.0" stroke="#333" stroke-width="1.1" /><line x1="650.1" y1="186.0" x2="660.7" y2="186.0" stroke="#333" stroke-width="1.1" /><line x1="655.4" y1="186.0" x2="655.4" y2="186.0" stroke="#333" stroke-width="1.1" /><line x1="671.2" y1="186.0" x2="671.2" y2="190.0" stroke="#333" stroke-width="1.1" /><line x1="655.4" y1="186.0" x2="671.2" y2="186.0" stroke="#333" stroke-width="1.1" /><line x1="663.3" y1="186.0" x2="663.3" y2="186.0" stroke="#333" stroke-width="1.1" /><line x1="639.6" y1="186.0" x2="663.3" y2="186.0" stroke="#333" stroke-width="1.1" /><line x1="651.5" y1="182.6" x2="651.5" y2="186.0" stroke="#333" stroke-width="1.1" /><line x1="681.7" y1="186.0" x2="681.7" y2="190.0" stroke="#333" stroke-width="1.1" /><line x1="692.3" y1="186.0" x2="692.3" y2="190.0" stroke="#333" stroke-width="1.1" /><line x1="702.8" y1="186.0" x2="702.8" y2="190.0" stroke="#333" stroke-width="1.1" /><line x1="692.3" y1="186.0" x2="702.8" y2="186.0" stroke="#333" stroke-width="1.1" /><line x1="697.5" y1="186.0" x2="697.5" y2="186.0" stroke="#333" stroke-width="1.1" /><line x1="713.3" y1="186.0" x2="713.3" y2="190.0" stroke="#333" stroke-width="1.1" /><line x1="697.5" y1="186.0" x2="713.3" y2="186.0" stroke="#333" stroke-width="1.1" /><line x1="705.4" y1="186.0" x2="705.4" y2="186.0" stroke="#333" stroke-width="1.1" /><line x1="723.8" y1="186.0" x2="723.8" y2="190.0" stroke="#333" stroke-width="1.1" /><line x1="705.4" y1="186.0" x2="723.8" y2="186.0" stroke="#333" stroke-width="1.1" /><line x1="714.6" y1="186.0" x2="714.6" y2="186.0" stroke="#333" stroke-width="1.1" /><line x1="681.7" y1="186.0" x2="714.6" y2="186.0" stroke="#333" stroke-width="1.1" /><line x1="698.2" y1="182.6" x2="698.2" y2="186.0" stroke="#333" stroke-width="1.1" /><line x1="651.5" y1="182.6" x2="698.2" y2="182.6" stroke="#333" stroke-width="1.1" /><line x1="674.8" y1="173.6" x2="674.8" y2="182.6" stroke="#333" stroke-width="1.1" /><line x1="734.4" y1="186.0" x2="734.4" y2="190.0" stroke="#333" stroke-width="1.1" /><line x1="744.9" y1="186.0" x2="744.9" y2="190.0" stroke="#333" stroke-width="1.1" /><line x1="734.4" y1="186.0" x2="744.9" y2="186.0" stroke="#333" stroke-width="1.1" /><line x1="739.6" y1="186.0" x2="739.6" y2="186.0" stroke="#333" stroke-width="1.1" /><line x1="755.4" y1="186.0" x2="755.4" y2="190.0" stroke="#333" stroke-width="1.1" /><line x1="739.6" y1="186.0" x2="755.4" y2="186.0" stroke="#333" stroke-width="1.1" /><line x1="747.5" y1="184.0" x2="747.5" y2="186.0" stroke="#333" stroke-width="1.1" /><line x1="766.0" y1="186.0" x2="766.0" y2="190.0" stroke="#333" stroke-width="1.1" /><line x1="776.5" y1="186.0" x2="776.5" y2="190.0" stroke="#333" stroke-width="1.1" /><line x1="766.0" y1="186.0" x2="776.5" y2="186.0" stroke="#333" stroke-width="1.1" /><line x1="771.2" y1="184.0" x2="771.2" y2="186.0" stroke="#333" stroke-width="1.1" /><line x1="747.5" y1="184.0" x2="771.2" y2="184.0" stroke="#333" stroke-width="1.1" /><line x1="759.4" y1="173.6" x2="759.4" y2="184.0" stroke="#333" stroke-width="1.1" /><line x1="674.8" y1="173.6" x2="759.4" y2="173.6" stroke="#333" stroke-width="1.1" /><line x1="717.1" y1="169.0" x2="717.1" y2="173.6" stroke="#333" stroke-width="1.1" /><line x1="629.1" y1="169.0" x2="717.1" y2="169.0" stroke="#333" stroke-width="1.1" /><line x1="543.7" y1="161.0" x2="673.1" y2="161.0" stroke="#333" stroke-width="1.1" /><line x1="543.7" y1="161.0" x2="543.7" y2="174.6" stroke="#333" stroke-width="1.1" /><line x1="673.1" y1="161.0" x2="673.1" y2="169.0" stroke="#333" stroke-width="1.1" /><line x1="486.3" y1="156.0" x2="608.4" y2="156.0" stroke="#333" stroke-width="1.1" /><line x1="486.3" y1="156.0" x2="486.3" y2="178.0" stroke="#333" stroke-width="1.1" /><line x1="608.4" y1="156.0" x2="608.4" y2="161.0" stroke="#333" stroke-width="1.1" /><line x1="460.6" y1="143.6" x2="547.3" y2="143.6" stroke="#333" stroke-width="1.1" /><line x1="460.6" y1="143.6" x2="460.6" y2="190.0" stroke="#333" stroke-width="1.1" /><line x1="547.3" y1="143.6" x2="547.3" y2="156.0" stroke="#333" stroke-width="1.1" /><line x1="338.8" y1="130.4" x2="504.0" y2="130.4" stroke="#333" stroke-width="1.1" /><line x1="338.8" y1="130.4" x2="338.8" y2="161.0" stroke="#333" stroke-width="1.1" /><line x1="504.0" y1="130.4" x2="504.0" y2="143.6" stroke="#333" stroke-width="1.1" /><line x1="797.6" y1="174.5" x2="797.6" y2="190.0" stroke="#333" stroke-width="1.1" /><line x1="808.1" y1="174.5" x2="808.1" y2="190.0" stroke="#333" stroke-width="1.1" /><line x1="797.6" y1="174.5" x2="808.1" y2="174.5" stroke="#333" stroke-width="1.1" /><line x1="818.6" y1="174.5" x2="818.6" y2="190.0" stroke="#333" stroke-width="1.1" /><line x1="829.1" y1="174.5" x2="829.1" y2="190.0" stroke="#333" stroke-width="1.1" /><line x1="818.6" y1="174.5" x2="829.1" y2="174.5" stroke="#333" stroke-width="1.1" /><line x1="802.8" y1="154.7" x2="823.9" y2="154.7" stroke="#333" stroke-width="1.1" /><line x1="802.8" y1="154.7" x2="802.8" y2="174.5" stroke="#333" stroke-width="1.1" /><line x1="823.9" y1="154.7" x2="823.9" y2="174.5" stroke="#333" stroke-width="1.1" /><line x1="787.0" y1="142.0" x2="813.4" y2="142.0" stroke="#333" stroke-width="1.1" /><line x1="787.0" y1="142.0" x2="787.0" y2="190.0" stroke="#333" stroke-width="1.1" /><line x1="813.4" y1="142.0" x2="813.4" y2="154.7" stroke="#333" stroke-width="1.1" /><line x1="839.7" y1="173.6" x2="839.7" y2="190.0" stroke="#333" stroke-width="1.1" /><line x1="850.2" y1="184.0" x2="850.2" y2="190.0" stroke="#333" stroke-width="1.1" /><line x1="860.7" y1="184.0" x2="860.7" y2="190.0" stroke="#333" stroke-width="1.1" /><line x1="850.2" y1="184.0" x2="860.7" y2="184.0" stroke="#333" stroke-width="1.1" /><line x1="855.5" y1="173.6" x2="855.5" y2="184.0" stroke="#333" stroke-width="1.1" /><line x1="839.7" y1="173.6" x2="855.5" y2="173.6" stroke="#333" stroke-width="1.1" /><line x1="871.3" y1="183.1" x2="871.3" y2="190.0" stroke="#333" stroke-width="1.1" /><line x1="881.8" y1="183.1" x2="881.8" y2="190.0" stroke="#333" stroke-width="1.1" /><line x1="871.3" y1="183.1" x2="881.8" y2="183.1" stroke="#333" stroke-width="1.1" /><line x1="876.5" y1="169.7" x2="876.5" y2="183.1" stroke="#333" stroke-width="1.1" /><line x1="892.3" y1="169.7" x2="892.3" y2="190.0" stroke="#333" stroke-width="1.1" /><line x1="876.5" y1="169.7" x2="892.3" y2="169.7" stroke="#333" stroke-width="1.1" /><line x1="847.6" y1="160.0" x2="884.4" y2="160.0" stroke="#333" stroke-width="1.1" /><line x1="847.6" y1="160.0" x2="847.6" y2="173.6" stroke="#333" stroke-width="1.1" /><line x1="884.4" y1="160.0" x2="884.4" y2="169.7" stroke="#333" stroke-width="1.1" /><line x1="913.4" y1="163.7" x2="913.4" y2="190.0" stroke="#333" stroke-width="1.1" /><line x1="923.9" y1="186.0" x2="923.9" y2="190.0" stroke="#333" stroke-width="1.1" /><line x1="934.4" y1="186.0" x2="934.4" y2="190.0" stroke="#333" stroke-width="1.1" /><line x1="923.9" y1="186.0" x2="934.4" y2="186.0" stroke="#333" stroke-width="1.1" /><line x1="929.2" y1="181.2" x2="929.2" y2="186.0" stroke="#333" stroke-width="1.1" /><line x1="945.0" y1="181.2" x2="945.0" y2="190.0" stroke="#333" stroke-width="1.1" /><line x1="929.2" y1="181.2" x2="945.0" y2="181.2" stroke="#333" stroke-width="1.1" /><line x1="937.1" y1="163.7" x2="937.1" y2="181.2" stroke="#333" stroke-width="1.1" /><line x1="913.4" y1="163.7" x2="937.1" y2="163.7" stroke="#333" stroke-width="1.1" /><line x1="902.9" y1="152.0" x2="925.2" y2="152.0" stroke="#333" stroke-width="1.1" /><line x1="902.9" y1="152.0" x2="902.9" y2="190.0" stroke="#333" stroke-width="1.1" /><line x1="925.2" y1="152.0" x2="925.2" y2="163.7" stroke="#333" stroke-width="1.1" /><line x1="866.0" y1="121.3" x2="914.0" y2="121.3" stroke="#333" stroke-width="1.1" /><line x1="866.0" y1="121.3" x2="866.0" y2="160.0" stroke="#333" stroke-width="1.1" /><line x1="914.0" y1="121.3" x2="914.0" y2="152.0" stroke="#333" stroke-width="1.1" /><line x1="800.2" y1="94.0" x2="890.0" y2="94.0" stroke="#333" stroke-width="1.1" /><line x1="800.2" y1="94.0" x2="800.2" y2="142.0" stroke="#333" stroke-width="1.1" /><line x1="890.0" y1="94.0" x2="890.0" y2="121.3" stroke="#333" stroke-width="1.1" /><line x1="421.4" y1="75.0" x2="845.1" y2="75.0" stroke="#333" stroke-width="1.1" /><line x1="421.4" y1="75.0" x2="421.4" y2="130.4" stroke="#333" stroke-width="1.1" /><line x1="845.1" y1="75.0" x2="845.1" y2="94.0" stroke="#333" stroke-width="1.1" /><line x1="247.4" y1="2.5" x2="633.2" y2="2.5" stroke="#333" stroke-width="1.1" /><line x1="247.4" y1="2.5" x2="247.4" y2="126.8" stroke="#333" stroke-width="1.1" /><line x1="633.2" y1="2.5" x2="633.2" y2="75.0" stroke="#333" stroke-width="1.1" /></g>
<g shape-rendering="crispEdges"><path fill="#0a2dfa" d="M234.2 193.6h10.8v4.5h-10.8zM244.7 193.6h10.8v3.6h-10.8zM255.3 193.6h10.8v2.5h-10.8zM265.8 193.6h10.8v1.8h-10.8zM276.3 193.6h10.8v1.8h-10.8zM286.8 193.6h10.8v0.9h-10.8zM297.4 193.6h10.8v0.6h-10.8zM307.9 193.6h10.8v0.6h-10.8zM318.4 193.6h10.8v0.6h-10.8zM329.0 193.6h10.8v0.6h-10.8zM339.5 193.6h10.8v0.5h-10.8zM350.0 193.6h10.8v0.6h-10.8zM360.6 193.6h10.8v0.6h-10.8zM371.1 193.6h10.8v0.6h-10.8zM381.6 193.6h10.8v0.5h-10.8zM392.1 193.6h10.8v0.6h-10.8zM402.7 193.6h10.8v0.6h-10.8zM413.2 193.6h10.8v0.6h-10.8zM423.7 193.6h10.8v0.6h-10.8zM434.3 193.6h10.8v0.6h-10.8zM444.8 193.6h10.8v0.6h-10.8zM455.3 193.6h10.8v2.5h-10.8zM465.9 193.6h10.8v1.2h-10.8zM476.4 193.6h10.8v0.9h-10.8zM497.4 193.6h10.8v0.5h-10.8zM508.0 193.6h10.8v2.5h-10.8zM518.5 193.6h10.8v0.5h-10.8zM529.0 193.6h10.8v1.2h-10.8zM539.6 193.6h10.8v1.2h-10.8zM550.1 193.6h10.8v1.2h-10.8zM560.6 193.6h10.8v1.2h-10.8zM571.2 193.6h10.8v0.9h-10.8zM581.7 193.6h10.8v0.9h-10.8zM592.2 193.6h10.8v0.5h-10.8zM602.8 193.6h10.8v0.4h-10.8zM613.3 193.6h10.8v0.4h-10.8zM623.8 193.6h10.8v0.4h-10.8zM634.3 193.6h10.8v1.8h-10.8zM644.9 193.6h10.8v0.5h-10.8zM655.4 193.6h10.8v0.5h-10.8zM665.9 193.6h10.8v1.8h-10.8zM676.5 193.6h10.8v1.2h-10.8zM687.0 193.6h10.8v1.8h-10.8zM697.5 193.6h10.8v0.4h-10.8zM708.0 193.6h10.8v1.3h-10.8zM718.6 193.6h10.8v1.3h-10.8zM729.1 193.6h10.8v0.7h-10.8zM739.6 193.6h10.8v0.9h-10.8zM750.2 193.6h10.8v1.9h-10.8zM760.7 193.6h10.8v0.7h-10.8zM771.2 193.6h10.8v0.7h-10.8zM781.8 193.6h10.8v5.9h-10.8zM792.3 193.6h10.8v3.7h-10.8zM802.8 193.6h10.8v3.7h-10.8zM813.3 193.6h10.8v3.7h-10.8zM823.9 193.6h10.8v2.3h-10.8zM834.4 193.6h10.8v5.2h-10.8zM844.9 193.6h10.8v1.6h-10.8zM855.5 193.6h10.8v2.3h-10.8zM866.0 193.6h10.8v5.9h-10.8zM876.5 193.6h10.8v3.7h-10.8zM887.1 193.6h10.8v5.2h-10.8zM897.6 193.6h10.8v2.7h-10.8zM908.1 193.6h10.8v0.9h-10.8zM918.6 193.6h10.8v0.9h-10.8zM929.2 193.6h10.8v0.7h-10.8zM939.7 193.6h10.8v1.9h-10.8z"/><path fill="#4cfc0a" d="M234.2 198.1h10.8v140.7h-10.8zM244.7 197.2h10.8v90.9h-10.8zM255.3 196.1h10.8v66.3h-10.8zM265.8 195.4h10.8v16.6h-10.8zM276.3 195.4h10.8v18.5h-10.8zM286.8 194.9h10.8v11.4h-10.8zM297.4 194.2h10.8v6.6h-10.8zM307.9 194.2h10.8v8.7h-10.8zM318.4 194.2h10.8v12.7h-10.8zM329.0 194.2h10.8v11.6h-10.8zM339.5 195.4h10.8v11.5h-10.8zM350.0 194.2h10.8v13.8h-10.8zM360.6 194.2h10.8v12.7h-10.8zM371.1 195.4h10.8v7.4h-10.8zM381.6 194.1h10.8v6.1h-10.8zM392.1 194.2h10.8v26.0h-10.8zM402.7 194.2h10.8v19.5h-10.8zM413.2 194.2h10.8v16.5h-10.8zM423.7 194.2h10.8v17.5h-10.8zM434.3 194.2h10.8v16.1h-10.8zM444.8 194.2h10.8v16.5h-10.8zM834.4 198.8h10.8v24.4h-10.8zM844.9 195.2h10.8v30.5h-10.8zM855.5 195.9h10.8v29.2h-10.8zM866.0 199.5h10.8v35.6h-10.8zM876.5 197.3h10.8v39.8h-10.8zM887.1 198.8h10.8v45.0h-10.8zM897.6 206.7h10.8v23.0h-10.8zM908.1 194.5h10.8v48.9h-10.8zM918.6 194.5h10.8v37.4h-10.8zM929.2 198.8h10.8v27.7h-10.8zM939.7 195.5h10.8v38.5h-10.8z"/><path fill="#1a93fa" d="M234.2 338.8h10.8v29.1h-10.8zM244.7 288.1h10.8v23.0h-10.8zM255.3 262.4h10.8v12.4h-10.8zM276.3 214.0h10.8v3.5h-10.8zM307.9 202.9h10.8v2.0h-10.8zM318.4 206.9h10.8v2.7h-10.8zM329.0 205.9h10.8v3.8h-10.8zM339.5 206.9h10.8v2.0h-10.8zM350.0 208.0h10.8v3.2h-10.8zM360.6 206.9h10.8v2.0h-10.8zM371.1 202.9h10.8v1.6h-10.8zM381.6 200.2h10.8v2.7h-10.8zM392.1 220.2h10.8v3.2h-10.8zM402.7 213.7h10.8v3.0h-10.8zM413.2 210.7h10.8v3.0h-10.8zM423.7 211.7h10.8v2.7h-10.8zM434.3 210.3h10.8v4.7h-10.8zM444.8 210.7h10.8v3.7h-10.8zM455.3 196.1h10.8v17.6h-10.8zM465.9 194.8h10.8v15.6h-10.8zM476.4 194.5h10.8v10.8h-10.8zM486.9 194.1h10.8v8.8h-10.8zM497.4 194.1h10.8v7.4h-10.8zM508.0 196.1h10.8v6.8h-10.8zM518.5 194.1h10.8v1.4h-10.8zM529.0 196.8h10.8v3.1h-10.8zM539.6 194.8h10.8v4.7h-10.8zM550.1 194.8h10.8v5.7h-10.8zM560.6 194.8h10.8v2.4h-10.8zM571.2 194.8h10.8v6.8h-10.8zM581.7 194.5h10.8v3.0h-10.8zM665.9 195.4h10.8v1.4h-10.8zM687.0 195.4h10.8v2.0h-10.8zM718.6 196.9h10.8v7.6h-10.8zM750.2 195.5h10.8v4.0h-10.8zM760.7 194.3h10.8v2.6h-10.8zM781.8 199.5h10.8v14.4h-10.8zM792.3 197.3h10.8v12.9h-10.8zM802.8 197.3h10.8v3.6h-10.8zM813.3 202.4h10.8v16.5h-10.8zM823.9 195.9h10.8v10.1h-10.8zM834.4 223.2h10.8v7.6h-10.8zM866.0 235.1h10.8v19.0h-10.8zM876.5 237.2h10.8v6.9h-10.8zM897.6 229.7h10.8v18.0h-10.8zM908.1 243.3h10.8v18.0h-10.8zM918.6 231.8h10.8v6.5h-10.8zM929.2 226.5h10.8v11.1h-10.8zM939.7 234.0h10.8v14.4h-10.8z"/><path fill="#f7827a" d="M244.7 311.1h10.8v7.0h-10.8zM286.8 206.3h10.8v1.4h-10.8zM329.0 216.1h10.8v0.9h-10.8zM339.5 209.0h10.8v1.4h-10.8zM350.0 211.3h10.8v1.1h-10.8zM360.6 209.0h10.8v0.7h-10.8zM371.1 204.5h10.8v3.1h-10.8zM381.6 202.9h10.8v1.1h-10.8zM392.1 223.4h10.8v1.8h-10.8zM413.2 213.7h10.8v0.7h-10.8zM423.7 214.4h10.8v0.7h-10.8zM465.9 218.0h10.8v1.8h-10.8zM476.4 212.4h10.8v1.1h-10.8zM486.9 204.9h10.8v1.4h-10.8zM497.4 204.9h10.8v0.7h-10.8zM529.0 199.9h10.8v3.0h-10.8zM571.2 210.3h10.8v1.4h-10.8zM581.7 197.5h10.8v0.7h-10.8zM592.2 194.8h10.8v1.4h-10.8zM644.9 194.1h10.8v1.4h-10.8zM655.4 195.4h10.8v3.4h-10.8zM665.9 196.8h10.8v2.7h-10.8zM676.5 194.8h10.8v2.0h-10.8zM687.0 197.5h10.8v2.0h-10.8zM718.6 204.5h10.8v3.3h-10.8zM750.2 199.5h10.8v1.7h-10.8zM760.7 196.9h10.8v0.9h-10.8zM781.8 213.9h10.8v12.2h-10.8zM792.3 210.3h10.8v5.0h-10.8zM813.3 246.2h10.8v4.7h-10.8zM866.0 254.1h10.8v4.3h-10.8zM897.6 247.7h10.8v26.3h-10.8zM929.2 250.5h10.8v6.2h-10.8z"/><path fill="#3cfcfc" d="M265.8 212.1h10.8v14.5h-10.8zM276.3 217.5h10.8v17.9h-10.8zM286.8 207.6h10.8v12.6h-10.8zM297.4 200.9h10.8v5.0h-10.8zM307.9 204.9h10.8v7.7h-10.8zM508.0 202.9h10.8v21.0h-10.8zM518.5 195.4h10.8v21.0h-10.8zM529.0 202.9h10.8v16.0h-10.8zM539.6 199.5h10.8v17.2h-10.8zM550.1 200.4h10.8v16.6h-10.8zM560.6 204.2h10.8v10.6h-10.8zM571.2 211.7h10.8v17.6h-10.8zM581.7 198.1h10.8v3.4h-10.8zM592.2 196.1h10.8v0.7h-10.8zM602.8 194.0h10.8v2.4h-10.8zM613.3 194.0h10.8v0.5h-10.8zM623.8 194.0h10.8v0.5h-10.8zM634.3 195.4h10.8v15.3h-10.8zM644.9 195.4h10.8v15.3h-10.8zM655.4 198.8h10.8v11.5h-10.8zM665.9 199.5h10.8v9.9h-10.8zM676.5 196.8h10.8v10.8h-10.8zM687.0 199.5h10.8v11.5h-10.8zM697.5 194.9h10.8v13.2h-10.8zM708.0 194.9h10.8v12.5h-10.8zM718.6 207.8h10.8v10.3h-10.8zM729.1 194.3h10.8v8.0h-10.8zM739.6 194.5h10.8v6.8h-10.8zM750.2 201.2h10.8v7.6h-10.8zM760.7 197.8h10.8v6.8h-10.8zM771.2 194.3h10.8v10.2h-10.8zM781.8 226.1h10.8v71.9h-10.8zM792.3 215.3h10.8v29.5h-10.8zM802.8 200.9h10.8v40.2h-10.8zM813.3 251.0h10.8v24.7h-10.8zM823.9 234.0h10.8v37.4h-10.8zM834.4 230.8h10.8v30.5h-10.8zM844.9 225.7h10.8v21.3h-10.8zM855.5 225.1h10.8v20.4h-10.8zM866.0 258.4h10.8v35.9h-10.8zM876.5 244.1h10.8v31.9h-10.8zM887.1 243.8h10.8v40.2h-10.8z"/><path fill="#fc2a00" d="M286.8 194.5h10.8v0.4h-10.8zM339.5 194.1h10.8v1.4h-10.8zM371.1 194.2h10.8v1.2h-10.8zM486.9 193.6h10.8v0.5h-10.8zM529.0 194.8h10.8v2.0h-10.8zM571.2 194.5h10.8v0.3h-10.8zM592.2 194.1h10.8v0.7h-10.8zM655.4 194.1h10.8v1.4h-10.8zM697.5 194.0h10.8v0.9h-10.8zM718.6 194.9h10.8v2.0h-10.8zM813.3 197.3h10.8v5.0h-10.8zM897.6 196.3h10.8v10.3h-10.8zM929.2 194.3h10.8v4.5h-10.8z"/><path fill="#ddf878" d="M318.4 209.6h10.8v4.7h-10.8zM329.0 209.6h10.8v6.5h-10.8zM465.9 210.3h10.8v7.7h-10.8zM476.4 205.3h10.8v7.0h-10.8zM486.9 202.9h10.8v2.0h-10.8zM497.4 201.5h10.8v3.4h-10.8zM560.6 197.2h10.8v7.0h-10.8zM571.2 201.5h10.8v8.8h-10.8zM813.3 218.9h10.8v27.3h-10.8zM823.9 206.0h10.8v28.0h-10.8zM908.1 261.3h10.8v25.6h-10.8zM929.2 237.6h10.8v12.9h-10.8zM939.7 248.4h10.8v15.5h-10.8z"/><path fill="#561a90" d="M455.3 213.7h10.8v29.8h-10.8z"/><path fill="#c0c0c0" d="M455.3 243.5h10.8v15.6h-10.8z"/></g>
<g shape-rendering="crispEdges"><path fill="#0a2dfa" d="M234.2 381.8h10.8v5.4h-10.8zM244.7 381.8h10.8v5.4h-10.8zM255.3 381.8h10.8v4.6h-10.8zM265.8 381.8h10.8v9.1h-10.8zM276.3 381.8h10.8v11.8h-10.8zM286.8 381.8h10.8v8.4h-10.8zM297.4 381.8h10.8v12.4h-10.8zM307.9 381.8h10.8v9.1h-10.8zM318.4 381.8h10.8v7.3h-10.8zM329.0 381.8h10.8v6.3h-10.8zM339.5 381.8h10.8v12.2h-10.8zM350.0 381.8h10.8v13.5h-10.8zM360.6 381.8h10.8v10.8h-10.8zM371.1 381.8h10.8v13.5h-10.8zM381.6 381.8h10.8v11.1h-10.8zM392.1 381.8h10.8v8.4h-10.8zM402.7 381.8h10.8v7.3h-10.8zM413.2 381.8h10.8v8.6h-10.8zM423.7 381.8h10.8v7.3h-10.8zM434.3 381.8h10.8v8.1h-10.8zM444.8 381.8h10.8v5.9h-10.8zM455.3 381.8h10.8v8.1h-10.8zM465.9 381.8h10.8v14.5h-10.8zM476.4 381.8h10.8v8.1h-10.8zM486.9 381.8h10.8v3.6h-10.8zM497.4 381.8h10.8v5.4h-10.8zM508.0 381.8h10.8v19.2h-10.8zM518.5 381.8h10.8v6.3h-10.8zM529.0 381.8h10.8v15.4h-10.8zM539.6 381.8h10.8v19.5h-10.8zM550.1 381.8h10.8v18.1h-10.8zM560.6 381.8h10.8v9.1h-10.8zM571.2 381.8h10.8v5.4h-10.8zM581.7 381.8h10.8v17.6h-10.8zM592.2 381.8h10.8v18.5h-10.8zM602.8 381.8h10.8v24.9h-10.8zM613.3 381.8h10.8v23.9h-10.8zM623.8 381.8h10.8v12.2h-10.8zM634.3 381.8h10.8v20.3h-10.8zM644.9 381.8h10.8v14.5h-10.8zM655.4 381.8h10.8v11.1h-10.8zM665.9 381.8h10.8v27.6h-10.8zM676.5 381.8h10.8v21.2h-10.8zM687.0 381.8h10.8v17.2h-10.8zM697.5 381.8h10.8v18.5h-10.8zM708.0 381.8h10.8v18.5h-10.8zM718.6 381.8h10.8v15.6h-10.8zM729.1 381.8h10.8v19.2h-10.8zM739.6 381.8h10.8v18.5h-10.8zM750.2 381.8h10.8v19.2h-10.8zM760.7 381.8h10.8v7.4h-10.8zM771.2 381.8h10.8v14.6h-10.8zM781.8 381.8h10.8v9.9h-10.8zM792.3 381.8h10.8v13.4h-10.8zM802.8 381.8h10.8v14.2h-10.8zM813.3 381.8h10.8v8.4h-10.8zM823.9 381.8h10.8v6.5h-10.8zM834.4 381.8h10.8v15.2h-10.8zM844.9 381.8h10.8v8.4h-10.8zM855.5 381.8h10.8v11.3h-10.8zM866.0 381.8h10.8v11.3h-10.8zM876.5 381.8h10.8v8.4h-10.8zM887.1 381.8h10.8v10.9h-10.8zM897.6 381.8h10.8v6.3h-10.8zM908.1 381.8h10.8v1.9h-10.8zM918.6 381.8h10.8v5.5h-10.8zM929.2 381.8h10.8v5.5h-10.8zM939.7 381.8h10.8v4.5h-10.8z"/><path fill="#4cfc0a" d="M234.2 387.2h10.8v148.0h-10.8zM244.7 387.2h10.8v134.5h-10.8zM255.3 386.4h10.8v151.9h-10.8zM265.8 390.9h10.8v96.5h-10.8zM276.3 393.6h10.8v74.8h-10.8zM286.8 394.2h10.8v76.8h-10.8zM297.4 394.2h10.8v94.0h-10.8zM307.9 390.9h10.8v83.2h-10.8zM318.4 389.1h10.8v100.5h-10.8zM329.0 391.5h10.8v82.5h-10.8zM339.5 412.9h10.8v106.1h-10.8zM350.0 404.8h10.8v109.6h-10.8zM360.6 400.3h10.8v125.8h-10.8zM371.1 414.5h10.8v79.5h-10.8zM381.6 399.0h10.8v94.3h-10.8zM392.1 392.6h10.8v143.4h-10.8zM402.7 389.1h10.8v147.9h-10.8zM413.2 396.9h10.8v124.7h-10.8zM423.7 394.2h10.8v123.8h-10.8zM434.3 389.9h10.8v141.6h-10.8zM444.8 387.7h10.8v137.4h-10.8zM834.4 397.0h10.8v63.2h-10.8zM844.9 390.2h10.8v100.6h-10.8zM855.5 393.1h10.8v98.5h-10.8zM866.0 393.1h10.8v64.3h-10.8zM876.5 390.2h10.8v87.3h-10.8zM887.1 392.7h10.8v92.0h-10.8zM897.6 411.8h10.8v53.2h-10.8zM908.1 383.7h10.8v95.6h-10.8zM918.6 387.3h10.8v149.1h-10.8zM929.2 397.8h10.8v79.6h-10.8zM939.7 386.3h10.8v100.2h-10.8z"/><path fill="#1a93fa" d="M234.2 535.2h10.8v31.1h-10.8zM244.7 521.7h10.8v33.5h-10.8zM255.3 538.3h10.8v28.0h-10.8zM276.3 468.4h10.8v19.5h-10.8zM286.8 471.1h10.8v2.3h-10.8zM307.9 474.0h10.8v24.1h-10.8zM318.4 489.6h10.8v34.5h-10.8zM329.0 474.0h10.8v39.0h-10.8zM339.5 519.0h10.8v23.4h-10.8zM350.0 514.4h10.8v44.9h-10.8zM360.6 526.1h10.8v30.2h-10.8zM371.1 494.1h10.8v27.1h-10.8zM381.6 493.3h10.8v58.2h-10.8zM392.1 536.0h10.8v19.2h-10.8zM402.7 537.0h10.8v29.3h-10.8zM413.2 521.7h10.8v33.5h-10.8zM423.7 518.0h10.8v36.5h-10.8zM434.3 531.5h10.8v34.8h-10.8zM444.8 525.2h10.8v41.1h-10.8zM455.3 389.9h10.8v50.3h-10.8zM465.9 396.3h10.8v107.3h-10.8zM476.4 394.9h10.8v95.1h-10.8zM486.9 394.9h10.8v110.9h-10.8zM497.4 387.2h10.8v108.5h-10.8zM508.0 401.0h10.8v43.0h-10.8zM518.5 388.1h10.8v16.6h-10.8zM529.0 408.4h10.8v23.0h-10.8zM539.6 401.3h10.8v33.8h-10.8zM550.1 399.9h10.8v39.6h-10.8zM560.6 390.9h10.8v25.3h-10.8zM571.2 390.9h10.8v32.1h-10.8zM581.7 433.7h10.8v28.1h-10.8zM592.2 422.9h10.8v101.2h-10.8zM602.8 406.7h10.8v49.5h-10.8zM634.3 402.1h10.8v14.5h-10.8zM655.4 416.6h10.8v10.4h-10.8zM665.9 417.2h10.8v17.9h-10.8zM676.5 416.6h10.8v15.8h-10.8zM687.0 399.0h10.8v35.2h-10.8zM697.5 405.1h10.8v3.4h-10.8zM708.0 400.3h10.8v15.4h-10.8zM718.6 411.8h10.8v55.3h-10.8zM729.1 401.0h10.8v13.7h-10.8zM750.2 404.6h10.8v56.8h-10.8zM760.7 389.2h10.8v56.1h-10.8zM771.2 402.1h10.8v38.4h-10.8zM781.8 391.7h10.8v25.9h-10.8zM792.3 395.2h10.8v47.1h-10.8zM802.8 396.0h10.8v16.2h-10.8zM813.3 402.7h10.8v35.4h-10.8zM823.9 388.3h10.8v24.9h-10.8zM834.4 460.2h10.8v21.3h-10.8zM855.5 491.6h10.8v4.6h-10.8zM866.0 457.3h10.8v35.6h-10.8zM876.5 477.5h10.8v15.8h-10.8zM897.6 465.0h10.8v41.7h-10.8zM908.1 479.3h10.8v36.4h-10.8zM918.6 536.4h10.8v29.9h-10.8zM929.2 477.5h10.8v33.9h-10.8zM939.7 486.5h10.8v39.2h-10.8z"/><path fill="#f7827a" d="M244.7 555.2h10.8v11.1h-10.8zM286.8 473.4h10.8v9.1h-10.8zM329.0 558.2h10.8v8.1h-10.8zM339.5 542.4h10.8v23.9h-10.8zM350.0 559.3h10.8v7.0h-10.8zM360.6 556.3h10.8v10.0h-10.8zM371.1 521.1h10.8v45.2h-10.8zM381.6 551.4h10.8v14.9h-10.8zM392.1 555.2h10.8v11.1h-10.8zM413.2 555.2h10.8v11.1h-10.8zM423.7 554.5h10.8v11.8h-10.8zM465.9 553.6h10.8v12.7h-10.8zM476.4 554.9h10.8v11.4h-10.8zM486.9 553.6h10.8v12.7h-10.8zM497.4 553.6h10.8v12.7h-10.8zM529.0 431.4h10.8v20.7h-10.8zM571.2 463.9h10.8v13.1h-10.8zM581.7 461.9h10.8v22.7h-10.8zM592.2 524.1h10.8v42.2h-10.8zM623.8 415.2h10.8v22.3h-10.8zM644.9 396.3h10.8v16.9h-10.8zM655.4 427.0h10.8v30.8h-10.8zM665.9 435.1h10.8v21.1h-10.8zM676.5 432.4h10.8v7.2h-10.8zM687.0 434.1h10.8v13.5h-10.8zM697.5 408.4h10.8v11.8h-10.8zM718.6 467.1h10.8v21.6h-10.8zM750.2 461.4h10.8v14.7h-10.8zM760.7 445.3h10.8v10.6h-10.8zM771.2 440.5h10.8v10.1h-10.8zM781.8 417.5h10.8v22.0h-10.8zM792.3 442.4h10.8v19.0h-10.8zM813.3 497.6h10.8v12.4h-10.8zM866.0 493.0h10.8v7.9h-10.8zM897.6 506.6h10.8v59.7h-10.8zM929.2 549.3h10.8v17.0h-10.8z"/><path fill="#3cfcfc" d="M265.8 487.3h10.8v79.0h-10.8zM276.3 487.8h10.8v78.5h-10.8zM286.8 482.4h10.8v83.9h-10.8zM297.4 488.3h10.8v78.0h-10.8zM307.9 498.1h10.8v68.2h-10.8zM508.0 444.0h10.8v122.3h-10.8zM518.5 404.8h10.8v161.5h-10.8zM529.0 452.1h10.8v114.2h-10.8zM539.6 435.1h10.8v131.2h-10.8zM550.1 439.6h10.8v126.7h-10.8zM560.6 474.3h10.8v92.0h-10.8zM571.2 477.0h10.8v89.3h-10.8zM581.7 484.6h10.8v81.7h-10.8zM602.8 456.2h10.8v110.1h-10.8zM613.3 405.7h10.8v160.6h-10.8zM623.8 437.5h10.8v128.8h-10.8zM634.3 416.6h10.8v149.7h-10.8zM644.9 413.2h10.8v153.1h-10.8zM655.4 457.8h10.8v108.5h-10.8zM665.9 456.2h10.8v110.1h-10.8zM676.5 439.6h10.8v126.7h-10.8zM687.0 447.7h10.8v118.6h-10.8zM697.5 420.2h10.8v146.1h-10.8zM708.0 415.7h10.8v150.6h-10.8zM718.6 488.7h10.8v77.6h-10.8zM729.1 414.7h10.8v151.6h-10.8zM739.6 400.3h10.8v166.0h-10.8zM750.2 476.0h10.8v90.3h-10.8zM760.7 455.9h10.8v110.4h-10.8zM771.2 450.6h10.8v115.7h-10.8zM781.8 439.5h10.8v126.8h-10.8zM792.3 461.4h10.8v104.9h-10.8zM802.8 412.2h10.8v154.1h-10.8zM813.3 510.0h10.8v56.3h-10.8zM823.9 477.5h10.8v88.8h-10.8zM834.4 481.5h10.8v84.8h-10.8zM844.9 490.8h10.8v75.5h-10.8zM855.5 496.2h10.8v70.1h-10.8zM866.0 500.9h10.8v65.4h-10.8zM876.5 493.3h10.8v73.0h-10.8zM887.1 484.7h10.8v81.6h-10.8z"/><path fill="#fc2a00" d="M286.8 390.2h10.8v4.1h-10.8zM329.0 388.1h10.8v3.4h-10.8zM339.5 394.0h10.8v18.9h-10.8zM350.0 395.3h10.8v9.5h-10.8zM360.6 392.6h10.8v7.7h-10.8zM371.1 395.3h10.8v19.2h-10.8zM381.6 392.9h10.8v6.1h-10.8zM392.1 390.2h10.8v2.4h-10.8zM413.2 390.4h10.8v6.5h-10.8zM423.7 389.1h10.8v5.1h-10.8zM476.4 389.9h10.8v5.0h-10.8zM486.9 385.4h10.8v9.5h-10.8zM529.0 397.2h10.8v11.2h-10.8zM571.2 387.2h10.8v3.7h-10.8zM581.7 399.4h10.8v34.4h-10.8zM592.2 400.3h10.8v22.6h-10.8zM623.8 394.0h10.8v21.2h-10.8zM655.4 392.9h10.8v23.7h-10.8zM665.9 409.4h10.8v7.8h-10.8zM676.5 403.0h10.8v13.5h-10.8zM697.5 400.3h10.8v4.7h-10.8zM718.6 397.4h10.8v14.4h-10.8zM750.2 401.0h10.8v3.6h-10.8zM771.2 396.4h10.8v5.7h-10.8zM813.3 390.2h10.8v12.5h-10.8zM897.6 388.1h10.8v23.7h-10.8zM929.2 387.3h10.8v10.5h-10.8z"/><path fill="#ddf878" d="M318.4 524.1h10.8v42.2h-10.8zM329.0 513.0h10.8v45.2h-10.8zM465.9 503.5h10.8v50.1h-10.8zM476.4 490.0h10.8v64.9h-10.8zM486.9 505.8h10.8v47.8h-10.8zM497.4 495.7h10.8v57.9h-10.8zM560.6 416.1h10.8v58.2h-10.8zM571.2 422.9h10.8v41.0h-10.8zM813.3 438.1h10.8v59.5h-10.8zM823.9 413.2h10.8v64.3h-10.8zM908.1 515.7h10.8v50.6h-10.8zM929.2 511.4h10.8v37.9h-10.8zM939.7 525.8h10.8v40.5h-10.8z"/><path fill="#561a90" d="M455.3 440.2h10.8v81.8h-10.8z"/><path fill="#c0c0c0" d="M455.3 522.1h10.8v44.2h-10.8z"/></g>
<g shape-rendering="crispEdges"><path fill="#0a2dfa" d="M237.8 574.2h10.8v1.3h-10.8zM248.3 574.2h10.8v0.6h-10.8zM258.9 574.2h10.8v0.6h-10.8zM269.4 574.2h10.8v0.2h-10.8zM279.9 574.2h10.8v0.6h-10.8zM290.4 574.2h10.8v0.2h-10.8zM301.0 574.2h10.8v0.2h-10.8zM311.5 574.2h10.8v0.2h-10.8zM332.6 574.2h10.8v0.2h-10.8zM343.1 574.2h10.8v1.0h-10.8zM353.6 574.2h10.8v0.2h-10.8zM364.2 574.2h10.8v0.2h-10.8zM374.7 574.2h10.8v0.6h-10.8zM385.2 574.2h10.8v0.2h-10.8zM395.8 574.2h10.8v0.2h-10.8zM427.3 574.2h10.8v0.2h-10.8zM437.9 574.2h10.8v0.2h-10.8zM448.4 574.2h10.8v0.2h-10.8zM458.9 574.2h10.8v5.3h-10.8zM469.5 574.2h10.8v3.3h-10.8zM480.0 574.2h10.8v0.6h-10.8zM490.5 574.2h10.8v0.6h-10.8zM501.1 574.2h10.8v0.2h-10.8zM511.6 574.2h10.8v0.2h-10.8zM532.6 574.2h10.8v0.2h-10.8zM543.2 574.2h10.8v0.2h-10.8zM553.7 574.2h10.8v0.2h-10.8zM564.2 574.2h10.8v0.2h-10.8zM574.8 574.2h10.8v0.2h-10.8zM585.3 574.2h10.8v0.2h-10.8zM595.8 574.2h10.8v0.2h-10.8zM637.9 574.2h10.8v0.2h-10.8zM648.5 574.2h10.8v0.6h-10.8zM659.0 574.2h10.8v1.0h-10.8zM669.5 574.2h10.8v1.9h-10.8zM680.1 574.2h10.8v1.0h-10.8zM690.6 574.2h10.8v1.3h-10.8zM701.1 574.2h10.8v1.1h-10.8zM711.6 574.2h10.8v1.1h-10.8zM722.2 574.2h10.8v0.1h-10.8zM732.7 574.2h10.8v0.7h-10.8zM743.2 574.2h10.8v0.1h-10.8zM753.8 574.2h10.8v0.7h-10.8zM774.8 574.2h10.8v0.7h-10.8zM785.4 574.2h10.8v0.7h-10.8zM795.9 574.2h10.8v0.7h-10.8zM806.4 574.2h10.8v0.7h-10.8zM817.0 574.2h10.8v0.7h-10.8zM827.5 574.2h10.8v0.1h-10.8zM838.0 574.2h10.8v0.7h-10.8zM859.1 574.2h10.8v0.4h-10.8zM869.6 574.2h10.8v0.7h-10.8zM880.1 574.2h10.8v0.7h-10.8zM890.7 574.2h10.8v0.7h-10.8zM901.2 574.2h10.8v2.1h-10.8zM932.8 574.2h10.8v0.1h-10.8zM943.3 574.2h10.8v0.7h-10.8z"/><path fill="#4cfc0a" d="M237.8 575.5h10.8v67.4h-10.8zM248.3 575.7h10.8v55.2h-10.8zM258.9 575.5h10.8v35.4h-10.8zM269.4 574.4h10.8v23.8h-10.8zM290.4 575.2h10.8v19.9h-10.8zM301.0 574.4h10.8v16.2h-10.8zM311.5 574.4h10.8v23.8h-10.8zM322.0 574.2h10.8v11.8h-10.8zM332.6 574.4h10.8v17.0h-10.8zM364.2 575.2h10.8v13.5h-10.8zM395.8 574.4h10.8v20.7h-10.8zM406.3 574.2h10.8v22.6h-10.8zM416.8 575.5h10.8v12.2h-10.8zM427.3 574.4h10.8v19.8h-10.8zM437.9 574.4h10.8v16.2h-10.8zM448.4 574.4h10.8v30.2h-10.8zM490.5 574.8h10.8v16.2h-10.8zM501.1 574.4h10.8v12.6h-10.8zM522.1 574.2h10.8v15.1h-10.8zM574.8 575.5h10.8v17.6h-10.8zM648.5 574.8h10.8v11.8h-10.8zM722.2 576.3h10.8v9.5h-10.8zM764.3 574.2h10.8v12.6h-10.8zM785.4 577.5h10.8v36.7h-10.8zM806.4 574.9h10.8v27.7h-10.8zM848.5 574.2h10.8v27.4h-10.8zM859.1 574.6h10.8v31.3h-10.8zM869.6 576.1h10.8v24.7h-10.8zM880.1 574.9h10.8v48.9h-10.8zM890.7 574.9h10.8v32.1h-10.8zM911.7 574.2h10.8v35.2h-10.8zM932.8 576.3h10.8v18.7h-10.8zM943.3 574.9h10.8v48.6h-10.8z"/><path fill="#1a93fa" d="M237.8 642.8h10.8v14.1h-10.8zM248.3 630.9h10.8v12.9h-10.8zM258.9 610.9h10.8v12.6h-10.8zM269.4 598.2h10.8v6.0h-10.8zM279.9 574.8h10.8v22.3h-10.8zM290.4 595.1h10.8v4.5h-10.8zM301.0 590.6h10.8v7.8h-10.8zM311.5 598.2h10.8v6.4h-10.8zM322.0 586.0h10.8v6.0h-10.8zM332.6 591.4h10.8v6.8h-10.8zM343.1 576.1h10.8v14.2h-10.8zM353.6 574.4h10.8v20.3h-10.8zM364.2 588.7h10.8v6.4h-10.8zM374.7 576.1h10.8v10.4h-10.8zM385.2 574.4h10.8v13.3h-10.8zM395.8 595.1h10.8v10.8h-10.8zM406.3 596.8h10.8v4.3h-10.8zM416.8 587.6h10.8v8.1h-10.8zM427.3 594.1h10.8v4.3h-10.8zM437.9 590.6h10.8v8.5h-10.8zM448.4 604.6h10.8v5.4h-10.8zM458.9 579.5h10.8v67.9h-10.8zM469.5 577.5h10.8v24.8h-10.8zM480.0 574.8h10.8v16.6h-10.8zM490.5 591.0h10.8v12.9h-10.8zM501.1 587.0h10.8v7.7h-10.8zM511.6 574.4h10.8v12.2h-10.8zM522.1 589.3h10.8v6.5h-10.8zM532.6 577.9h10.8v17.9h-10.8zM543.2 574.4h10.8v22.7h-10.8zM553.7 575.5h10.8v13.8h-10.8zM564.2 574.4h10.8v13.0h-10.8zM574.8 593.1h10.8v7.8h-10.8zM585.3 574.4h10.8v11.2h-10.8zM595.8 574.4h10.8v12.2h-10.8zM606.3 574.2h10.8v7.8h-10.8zM616.9 574.2h10.8v5.3h-10.8zM627.4 574.2h10.8v4.7h-10.8zM637.9 574.4h10.8v24.1h-10.8zM648.5 586.6h10.8v7.2h-10.8zM659.0 582.5h10.8v18.9h-10.8zM669.5 576.1h10.8v13.5h-10.8zM680.1 575.2h10.8v14.9h-10.8zM690.6 576.1h10.8v18.3h-10.8zM701.1 575.3h10.8v17.7h-10.8zM711.6 575.3h10.8v15.1h-10.8zM722.2 585.8h10.8v10.6h-10.8zM732.7 574.9h10.8v15.5h-10.8zM743.2 574.3h10.8v12.9h-10.8zM753.8 574.9h10.8v13.4h-10.8zM764.3 586.8h10.8v7.9h-10.8zM774.8 576.1h10.8v15.8h-10.8zM785.4 614.2h10.8v13.9h-10.8zM795.9 576.1h10.8v20.4h-10.8zM806.4 602.7h10.8v17.7h-10.8zM817.0 578.6h10.8v25.0h-10.8zM827.5 574.3h10.8v30.8h-10.8zM838.0 574.9h10.8v29.6h-10.8zM848.5 601.6h10.8v8.6h-10.8zM859.1 606.0h10.8v13.9h-10.8zM869.6 600.8h10.8v13.4h-10.8zM880.1 623.8h10.8v13.8h-10.8zM890.7 607.0h10.8v13.7h-10.8zM901.2 585.4h10.8v39.8h-10.8zM911.7 609.4h10.8v15.5h-10.8zM922.2 574.2h10.8v18.0h-10.8zM932.8 595.0h10.8v8.6h-10.8zM943.3 623.5h10.8v17.2h-10.8z"/><path fill="#fc2a00" d="M248.3 574.8h10.8v0.9h-10.8zM258.9 574.8h10.8v0.7h-10.8zM290.4 574.4h10.8v0.8h-10.8zM343.1 575.2h10.8v0.9h-10.8zM364.2 574.4h10.8v0.8h-10.8zM374.7 574.8h10.8v1.4h-10.8zM416.8 574.2h10.8v1.3h-10.8zM532.6 574.4h10.8v3.5h-10.8zM553.7 574.4h10.8v1.1h-10.8zM574.8 574.4h10.8v1.1h-10.8zM659.0 575.2h10.8v7.3h-10.8zM690.6 575.5h10.8v0.7h-10.8zM722.2 574.3h10.8v2.0h-10.8zM774.8 574.9h10.8v1.1h-10.8zM785.4 574.9h10.8v2.6h-10.8zM795.9 574.9h10.8v1.1h-10.8zM817.0 574.9h10.8v3.7h-10.8zM869.6 574.9h10.8v1.1h-10.8zM901.2 576.3h10.8v9.1h-10.8zM932.8 574.3h10.8v2.0h-10.8z"/><path fill="#f7827a" d="M248.3 643.8h10.8v3.1h-10.8zM258.9 623.5h10.8v2.7h-10.8zM290.4 599.5h10.8v1.4h-10.8zM343.1 600.5h10.8v0.7h-10.8zM353.6 601.8h10.8v1.8h-10.8zM364.2 600.5h10.8v1.4h-10.8zM374.7 591.4h10.8v5.0h-10.8zM395.8 615.0h10.8v1.8h-10.8zM416.8 599.1h10.8v1.8h-10.8zM427.3 598.5h10.8v1.1h-10.8zM480.0 602.3h10.8v1.6h-10.8zM501.1 601.4h10.8v0.8h-10.8zM532.6 606.3h10.8v3.0h-10.8zM553.7 596.8h10.8v0.9h-10.8zM564.2 601.4h10.8v1.4h-10.8zM574.8 610.0h10.8v2.0h-10.8zM659.0 601.4h10.8v8.1h-10.8zM690.6 602.3h10.8v1.6h-10.8zM722.2 596.5h10.8v1.9h-10.8zM753.8 593.6h10.8v0.9h-10.8zM764.3 599.1h10.8v1.1h-10.8zM774.8 601.9h10.8v1.7h-10.8zM785.4 628.1h10.8v4.7h-10.8zM795.9 604.1h10.8v2.9h-10.8zM817.0 625.2h10.8v4.7h-10.8zM869.6 614.2h10.8v2.4h-10.8zM901.2 625.2h10.8v26.3h-10.8zM932.8 614.2h10.8v3.3h-10.8z"/><path fill="#8e1000" d="M258.9 626.2h10.8v10.4h-10.8zM659.0 609.6h10.8v9.9h-10.8zM817.0 630.0h10.8v10.5h-10.8zM922.2 592.2h10.8v14.8h-10.8z"/><path fill="#ddf878" d="M269.4 604.1h10.8v7.8h-10.8zM279.9 597.1h10.8v14.9h-10.8zM301.0 598.5h10.8v6.1h-10.8zM322.0 592.0h10.8v6.5h-10.8zM332.6 598.2h10.8v8.1h-10.8zM343.1 590.4h10.8v10.1h-10.8zM353.6 594.7h10.8v7.2h-10.8zM364.2 595.1h10.8v5.4h-10.8zM374.7 586.6h10.8v4.9h-10.8zM385.2 587.6h10.8v3.8h-10.8zM395.8 605.9h10.8v9.1h-10.8zM416.8 595.8h10.8v3.4h-10.8zM437.9 599.1h10.8v5.8h-10.8zM469.5 602.3h10.8v14.9h-10.8zM480.0 591.4h10.8v10.8h-10.8zM501.1 594.7h10.8v6.8h-10.8zM511.6 586.6h10.8v5.4h-10.8zM522.1 595.8h10.8v6.5h-10.8zM532.6 595.8h10.8v10.6h-10.8zM543.2 597.1h10.8v10.6h-10.8zM553.7 589.3h10.8v7.6h-10.8zM564.2 587.4h10.8v14.1h-10.8zM574.8 600.9h10.8v9.1h-10.8zM585.3 585.6h10.8v2.7h-10.8zM595.8 587.0h10.8v3.1h-10.8zM606.3 582.0h10.8v3.7h-10.8zM616.9 579.5h10.8v2.4h-10.8zM627.4 578.9h10.8v1.4h-10.8zM637.9 598.5h10.8v11.1h-10.8zM680.1 590.1h10.8v4.6h-10.8zM690.6 594.4h10.8v7.8h-10.8zM701.1 593.0h10.8v7.5h-10.8zM711.6 590.4h10.8v5.5h-10.8zM732.7 590.4h10.8v6.0h-10.8zM743.2 587.3h10.8v7.5h-10.8zM753.8 588.3h10.8v5.3h-10.8zM764.3 594.7h10.8v4.3h-10.8zM774.8 591.9h10.8v10.1h-10.8zM795.9 596.5h10.8v7.6h-10.8zM806.4 620.3h10.8v12.1h-10.8zM817.0 603.7h10.8v21.6h-10.8zM827.5 605.1h10.8v37.4h-10.8zM838.0 604.5h10.8v14.7h-10.8zM848.5 610.3h10.8v10.1h-10.8zM859.1 619.9h10.8v10.5h-10.8zM890.7 620.6h10.8v9.8h-10.8zM911.7 624.9h10.8v21.8h-10.8zM932.8 603.7h10.8v10.5h-10.8zM943.3 640.7h10.8v17.2h-10.8z"/><path fill="#404040" d="M279.9 612.0h10.8v13.5h-10.8zM385.2 591.4h10.8v3.7h-10.8zM469.5 617.1h10.8v8.4h-10.8zM711.6 595.9h10.8v6.0h-10.8zM795.9 607.0h10.8v8.6h-10.8zM838.0 619.2h10.8v13.7h-10.8zM922.2 607.0h10.8v10.1h-10.8z"/><path fill="#561a90" d="M458.9 647.4h10.8v86.3h-10.8z"/><path fill="#000000" d="M458.9 733.7h10.8v12.9h-10.8z"/><path fill="#248c10" d="M595.8 586.6h10.8v0.4h-10.8zM669.5 589.7h10.8v0.7h-10.8z"/><path fill="#d683fa" d="M648.5 593.7h10.8v9.1h-10.8zM669.5 590.4h10.8v3.4h-10.8z"/></g>
<g shape-rendering="crispEdges"><path fill="#0a2dfa" d="M237.8 760.2h10.8v5.7h-10.8zM248.3 760.2h10.8v4.9h-10.8zM258.9 760.2h10.8v5.3h-10.8zM269.4 760.2h10.8v9.8h-10.8zM279.9 760.2h10.8v7.1h-10.8zM290.4 760.2h10.8v9.4h-10.8zM301.0 760.2h10.8v9.8h-10.8zM311.5 760.2h10.8v9.0h-10.8zM322.0 760.2h10.8v8.0h-10.8zM332.6 760.2h10.8v8.0h-10.8zM343.1 760.2h10.8v18.2h-10.8zM353.6 760.2h10.8v13.8h-10.8zM364.2 760.2h10.8v11.1h-10.8zM374.7 760.2h10.8v12.1h-10.8zM385.2 760.2h10.8v14.8h-10.8zM395.8 760.2h10.8v4.6h-10.8zM406.3 760.2h10.8v5.7h-10.8zM416.8 760.2h10.8v7.3h-10.8zM427.3 760.2h10.8v8.4h-10.8zM437.9 760.2h10.8v8.0h-10.8zM448.4 760.2h10.8v8.4h-10.8zM458.9 760.2h10.8v7.1h-10.8zM469.5 760.2h10.8v15.2h-10.8zM480.0 760.2h10.8v9.0h-10.8zM490.5 760.2h10.8v7.3h-10.8zM501.1 760.2h10.8v10.0h-10.8zM511.6 760.2h10.8v18.2h-10.8zM522.1 760.2h10.8v6.2h-10.8zM532.6 760.2h10.8v13.8h-10.8zM543.2 760.2h10.8v13.0h-10.8zM553.7 760.2h10.8v14.8h-10.8zM564.2 760.2h10.8v5.7h-10.8zM574.8 760.2h10.8v6.2h-10.8zM585.3 760.2h10.8v30.6h-10.8zM595.8 760.2h10.8v24.9h-10.8zM606.3 760.2h10.8v22.9h-10.8zM616.9 760.2h10.8v15.4h-10.8zM627.4 760.2h10.8v23.8h-10.8zM637.9 760.2h10.8v10.0h-10.8zM648.5 760.2h10.8v13.0h-10.8zM659.0 760.2h10.8v13.0h-10.8zM669.5 760.2h10.8v34.4h-10.8zM680.1 760.2h10.8v21.9h-10.8zM690.6 760.2h10.8v17.5h-10.8zM701.1 760.2h10.8v18.8h-10.8zM711.6 760.2h10.8v18.2h-10.8zM722.2 760.2h10.8v13.9h-10.8zM732.7 760.2h10.8v26.1h-10.8zM743.2 760.2h10.8v15.6h-10.8zM753.8 760.2h10.8v19.4h-10.8zM764.3 760.2h10.8v7.5h-10.8zM774.8 760.2h10.8v12.8h-10.8zM785.4 760.2h10.8v10.3h-10.8zM795.9 760.2h10.8v11.3h-10.8zM806.4 760.2h10.8v11.8h-10.8zM817.0 760.2h10.8v6.4h-10.8zM827.5 760.2h10.8v3.9h-10.8zM838.0 760.2h10.8v10.8h-10.8zM848.5 760.2h10.8v5.6h-10.8zM859.1 760.2h10.8v8.2h-10.8zM869.6 760.2h10.8v9.9h-10.8zM880.1 760.2h10.8v7.5h-10.8zM890.7 760.2h10.8v8.9h-10.8zM901.2 760.2h10.8v7.5h-10.8zM911.7 760.2h10.8v3.1h-10.8zM922.2 760.2h10.8v4.6h-10.8zM932.8 760.2h10.8v5.6h-10.8zM943.3 760.2h10.8v4.6h-10.8z"/><path fill="#4cfc0a" d="M237.8 765.9h10.8v146.6h-10.8zM248.3 766.9h10.8v136.0h-10.8zM258.9 767.8h10.8v100.1h-10.8zM269.4 770.0h10.8v105.1h-10.8zM290.4 775.4h10.8v128.5h-10.8zM301.0 770.0h10.8v88.9h-10.8zM311.5 769.2h10.8v136.4h-10.8zM322.0 768.2h10.8v85.9h-10.8zM332.6 768.2h10.8v92.0h-10.8zM364.2 775.6h10.8v80.9h-10.8zM395.8 764.8h10.8v85.0h-10.8zM406.3 765.9h10.8v146.1h-10.8zM416.8 773.6h10.8v84.3h-10.8zM427.3 772.7h10.8v126.4h-10.8zM437.9 768.2h10.8v88.9h-10.8zM448.4 768.6h10.8v144.3h-10.8zM490.5 767.5h10.8v101.2h-10.8zM501.1 774.6h10.8v72.1h-10.8zM522.1 766.4h10.8v98.5h-10.8zM574.8 772.9h10.8v81.8h-10.8zM648.5 773.2h10.8v68.7h-10.8zM722.2 784.2h10.8v65.8h-10.8zM764.3 771.2h10.8v76.2h-10.8zM785.4 776.7h10.8v107.8h-10.8zM806.4 772.0h10.8v79.1h-10.8zM848.5 765.8h10.8v102.9h-10.8zM859.1 768.4h10.8v97.7h-10.8zM869.6 772.7h10.8v103.5h-10.8zM880.1 767.7h10.8v134.1h-10.8zM890.7 769.1h10.8v99.9h-10.8zM911.7 763.3h10.8v86.7h-10.8zM932.8 774.8h10.8v76.6h-10.8zM943.3 764.8h10.8v102.8h-10.8z"/><path fill="#1a93fa" d="M237.8 912.5h10.8v30.5h-10.8zM248.3 902.8h10.8v32.7h-10.8zM258.9 867.9h10.8v38.3h-10.8zM269.4 875.1h10.8v30.2h-10.8zM279.9 767.3h10.8v77.7h-10.8zM290.4 903.9h10.8v31.1h-10.8zM301.0 858.8h10.8v45.3h-10.8zM311.5 905.5h10.8v37.5h-10.8zM322.0 854.1h10.8v43.0h-10.8zM332.6 860.2h10.8v41.5h-10.8zM343.1 781.7h10.8v89.7h-10.8zM353.6 774.0h10.8v116.6h-10.8zM364.2 856.5h10.8v49.6h-10.8zM374.7 787.1h10.8v78.9h-10.8zM385.2 775.0h10.8v103.5h-10.8zM395.8 849.8h10.8v46.3h-10.8zM406.3 912.0h10.8v31.0h-10.8zM416.8 857.9h10.8v48.3h-10.8zM427.3 899.0h10.8v35.6h-10.8zM437.9 857.1h10.8v52.2h-10.8zM448.4 913.0h10.8v30.0h-10.8zM458.9 767.3h10.8v71.3h-10.8zM469.5 775.4h10.8v85.8h-10.8zM480.0 774.0h10.8v96.0h-10.8zM490.5 868.7h10.8v74.3h-10.8zM501.1 846.7h10.8v52.8h-10.8zM511.6 778.4h10.8v117.7h-10.8zM522.1 864.9h10.8v39.0h-10.8zM532.6 785.8h10.8v92.0h-10.8zM543.2 773.2h10.8v117.7h-10.8zM553.7 782.1h10.8v97.9h-10.8zM564.2 765.9h10.8v83.5h-10.8zM574.8 854.8h10.8v39.2h-10.8zM585.3 790.8h10.8v117.7h-10.8zM595.8 785.1h10.8v113.9h-10.8zM606.3 783.1h10.8v104.8h-10.8zM616.9 775.6h10.8v118.4h-10.8zM627.4 784.0h10.8v105.9h-10.8zM637.9 770.2h10.8v117.7h-10.8zM648.5 841.9h10.8v46.0h-10.8zM659.0 797.6h10.8v74.8h-10.8zM669.5 794.6h10.8v107.1h-10.8zM680.1 782.1h10.8v122.7h-10.8zM690.6 780.4h10.8v109.6h-10.8zM701.1 779.0h10.8v111.6h-10.8zM711.6 778.4h10.8v90.3h-10.8zM722.2 850.0h10.8v80.1h-10.8zM732.7 786.3h10.8v110.0h-10.8zM743.2 775.8h10.8v108.7h-10.8zM753.8 782.7h10.8v107.1h-10.8zM764.3 847.4h10.8v54.6h-10.8zM774.8 781.0h10.8v92.0h-10.8zM785.4 884.5h10.8v42.0h-10.8zM795.9 774.8h10.8v86.2h-10.8zM806.4 851.0h10.8v54.2h-10.8zM817.0 776.7h10.8v68.6h-10.8zM827.5 764.1h10.8v83.4h-10.8zM838.0 771.0h10.8v86.2h-10.8zM848.5 868.7h10.8v36.5h-10.8zM859.1 866.1h10.8v44.6h-10.8zM869.6 876.2h10.8v60.4h-10.8zM880.1 901.8h10.8v41.2h-10.8zM890.7 869.0h10.8v42.0h-10.8zM901.2 789.2h10.8v92.4h-10.8zM911.7 850.0h10.8v38.8h-10.8zM922.2 764.8h10.8v74.7h-10.8zM932.8 851.5h10.8v35.5h-10.8zM943.3 867.6h10.8v38.5h-10.8z"/><path fill="#fc2a00" d="M248.3 765.1h10.8v1.8h-10.8zM258.9 765.5h10.8v2.3h-10.8zM290.4 769.6h10.8v5.8h-10.8zM343.1 778.4h10.8v3.4h-10.8zM364.2 771.3h10.8v4.3h-10.8zM374.7 772.3h10.8v14.9h-10.8zM416.8 767.5h10.8v6.1h-10.8zM427.3 768.6h10.8v4.1h-10.8zM480.0 769.2h10.8v4.9h-10.8zM501.1 770.2h10.8v4.3h-10.8zM532.6 774.0h10.8v11.8h-10.8zM553.7 775.0h10.8v7.2h-10.8zM574.8 766.4h10.8v6.5h-10.8zM659.0 773.2h10.8v24.4h-10.8zM690.6 777.7h10.8v2.7h-10.8zM722.2 774.1h10.8v10.1h-10.8zM753.8 779.6h10.8v3.2h-10.8zM764.3 767.7h10.8v3.6h-10.8zM774.8 773.0h10.8v8.0h-10.8zM785.4 770.5h10.8v6.2h-10.8zM795.9 771.5h10.8v3.3h-10.8zM817.0 766.6h10.8v10.1h-10.8zM869.6 770.1h10.8v2.6h-10.8zM901.2 767.7h10.8v21.6h-10.8zM932.8 765.8h10.8v9.1h-10.8z"/><path fill="#f7827a" d="M248.3 935.5h10.8v7.5h-10.8zM258.9 906.2h10.8v7.7h-10.8zM290.4 935.0h10.8v8.0h-10.8zM343.1 936.6h10.8v6.4h-10.8zM353.6 935.3h10.8v7.7h-10.8zM364.2 936.9h10.8v6.1h-10.8zM374.7 903.9h10.8v39.1h-10.8zM395.8 936.0h10.8v7.0h-10.8zM416.8 933.2h10.8v9.8h-10.8zM427.3 934.6h10.8v8.4h-10.8zM480.0 935.0h10.8v8.0h-10.8zM501.1 937.3h10.8v5.7h-10.8zM532.6 924.7h10.8v18.3h-10.8zM553.7 937.3h10.8v5.7h-10.8zM564.2 934.6h10.8v8.4h-10.8zM574.8 933.9h10.8v9.1h-10.8zM659.0 872.4h10.8v33.4h-10.8zM669.5 912.5h10.8v9.5h-10.8zM690.6 936.6h10.8v6.4h-10.8zM722.2 930.1h10.8v12.9h-10.8zM753.8 934.4h10.8v8.6h-10.8zM764.3 937.7h10.8v5.3h-10.8zM774.8 927.9h10.8v15.1h-10.8zM785.4 926.5h10.8v16.5h-10.8zM795.9 892.7h10.8v13.4h-10.8zM817.0 903.8h10.8v12.9h-10.8zM869.6 936.5h10.8v6.5h-10.8zM901.2 881.6h10.8v61.4h-10.8zM932.8 930.1h10.8v12.9h-10.8z"/><path fill="#8e1000" d="M258.9 913.9h10.8v29.1h-10.8zM659.0 905.8h10.8v37.2h-10.8zM817.0 916.7h10.8v26.3h-10.8zM922.2 839.5h10.8v57.5h-10.8z"/><path fill="#ddf878" d="M269.4 905.2h10.8v37.8h-10.8zM279.9 844.9h10.8v51.4h-10.8zM301.0 904.2h10.8v38.8h-10.8zM322.0 897.1h10.8v45.9h-10.8zM332.6 901.7h10.8v41.3h-10.8zM343.1 871.4h10.8v65.2h-10.8zM353.6 890.6h10.8v44.6h-10.8zM364.2 906.2h10.8v30.7h-10.8zM374.7 866.0h10.8v37.9h-10.8zM385.2 878.5h10.8v31.8h-10.8zM395.8 896.0h10.8v39.9h-10.8zM416.8 906.2h10.8v27.1h-10.8zM437.9 909.3h10.8v33.7h-10.8zM469.5 861.1h10.8v50.9h-10.8zM480.0 870.1h10.8v64.9h-10.8zM501.1 899.4h10.8v37.9h-10.8zM511.6 896.0h10.8v47.0h-10.8zM522.1 903.9h10.8v39.1h-10.8zM532.6 877.8h10.8v46.9h-10.8zM543.2 890.9h10.8v52.1h-10.8zM553.7 880.1h10.8v57.2h-10.8zM564.2 849.4h10.8v85.2h-10.8zM574.8 894.0h10.8v39.9h-10.8zM585.3 908.5h10.8v34.5h-10.8zM595.8 909.3h10.8v33.7h-10.8zM606.3 887.9h10.8v55.1h-10.8zM616.9 894.0h10.8v49.0h-10.8zM627.4 901.2h10.8v41.8h-10.8zM637.9 887.9h10.8v55.1h-10.8zM680.1 904.8h10.8v38.2h-10.8zM690.6 890.0h10.8v46.7h-10.8zM701.1 890.6h10.8v52.4h-10.8zM711.6 868.7h10.8v35.1h-10.8zM732.7 896.3h10.8v46.7h-10.8zM743.2 884.5h10.8v58.5h-10.8zM753.8 889.8h10.8v44.6h-10.8zM764.3 902.1h10.8v35.6h-10.8zM774.8 873.0h10.8v54.9h-10.8zM795.9 861.1h10.8v31.6h-10.8zM806.4 905.2h10.8v37.8h-10.8zM817.0 845.3h10.8v58.5h-10.8zM827.5 847.4h10.8v95.6h-10.8zM838.0 857.2h10.8v44.8h-10.8zM848.5 905.2h10.8v37.8h-10.8zM859.1 910.7h10.8v32.3h-10.8zM890.7 911.0h10.8v32.0h-10.8zM911.7 888.8h10.8v54.2h-10.8zM932.8 887.0h10.8v43.1h-10.8zM943.3 906.1h10.8v36.9h-10.8z"/><path fill="#404040" d="M279.9 896.3h10.8v46.7h-10.8zM385.2 910.2h10.8v32.8h-10.8zM469.5 912.0h10.8v31.0h-10.8zM711.6 903.8h10.8v39.2h-10.8zM795.9 906.1h10.8v36.9h-10.8zM838.0 902.1h10.8v40.9h-10.8zM922.2 897.0h10.8v46.0h-10.8z"/><path fill="#561a90" d="M458.9 838.6h10.8v91.0h-10.8z"/><path fill="#000000" d="M458.9 929.6h10.8v13.4h-10.8z"/><path fill="#248c10" d="M595.8 899.0h10.8v10.3h-10.8zM627.4 890.0h10.8v11.2h-10.8zM669.5 901.7h10.8v10.8h-10.8z"/><path fill="#d683fa" d="M648.5 887.9h10.8v55.1h-10.8zM669.5 922.0h10.8v21.0h-10.8z"/></g>
<rect x="233.5" y="192.5" width="717.3" height="182.8" fill="none" stroke="#000" stroke-width="3"/>
<rect x="233.5" y="380.8" width="716.7" height="185.8" fill="none" stroke="#000" stroke-width="3"/>
<rect x="236.8" y="573.0" width="715.5" height="179.9" fill="none" stroke="#000" stroke-width="3"/>
<rect x="236.8" y="758.9" width="715.5" height="185.1" fill="none" stroke="#000" stroke-width="3"/>
<line x1="223.0" y1="193.0" x2="233.5" y2="193.0" stroke="#000" stroke-width="2" />
<text transform="translate(209.0,207.8) scale(0.850,1)" font-size="26" font-weight="bold" fill="#000" stroke="#000" stroke-width="0.50" >0</text>
<line x1="223.0" y1="269.8" x2="233.5" y2="269.8" stroke="#000" stroke-width="2" />
<text transform="translate(208.1,279.0) scale(0.850,1)" font-size="26" font-weight="bold" fill="#000" stroke="#000" stroke-width="0.50" >4</text>
<line x1="223.0" y1="346.5" x2="233.5" y2="346.5" stroke="#000" stroke-width="2" />
<text transform="translate(208.8,355.7) scale(0.850,1)" font-size="26" font-weight="bold" fill="#000" stroke="#000" stroke-width="0.50" >8</text>
<text transform="translate(221.2,400.0) scale(0.750,1)" font-size="27" font-weight="bold" fill="#000" stroke="#000" stroke-width="0.50" >0</text>
<text transform="translate(198.7,566.5) scale(0.750,1)" font-size="27" font-weight="bold" fill="#000" stroke="#000" stroke-width="0.50" >100</text>
<line x1="226.3" y1="573.5" x2="236.8" y2="573.5" stroke="#000" stroke-width="2" />
<text transform="translate(212.3,588.3) scale(0.850,1)" font-size="26" font-weight="bold" fill="#000" stroke="#000" stroke-width="0.50" >0</text>
<line x1="226.3" y1="658.0" x2="236.8" y2="658.0" stroke="#000" stroke-width="2" />
<text transform="translate(212.3,667.2) scale(0.850,1)" font-size="26" font-weight="bold" fill="#000" stroke="#000" stroke-width="0.50" >2</text>
<line x1="226.3" y1="744.6" x2="236.8" y2="744.6" stroke="#000" stroke-width="2" />
<text transform="translate(211.4,753.8) scale(0.850,1)" font-size="26" font-weight="bold" fill="#000" stroke="#000" stroke-width="0.50" >4</text>
<text transform="translate(224.5,778.5) scale(0.750,1)" font-size="27" font-weight="bold" fill="#000" stroke="#000" stroke-width="0.50" >0</text>
<text transform="translate(202.0,944.5) scale(0.750,1)" font-size="27" font-weight="bold" fill="#000" stroke="#000" stroke-width="0.50" >100</text>
<text transform="translate(171.0,524.1) rotate(-90) scale(0.729,1)" font-size="28" font-weight="bold" fill="#000" stroke="#000" stroke-width="0.50" >SBSs within 1 Mb from SV sites</text>
<line x1="174.0" y1="218.7" x2="174.0" y2="523.7" stroke="#000" stroke-width="1.4" />
<text transform="translate(205.0,297.9) rotate(-90) scale(0.837,1)" font-size="27" font-weight="bold" text-anchor="middle"># SNVs <tspan font-weight="normal">(</tspan><tspan font-weight="normal">×</tspan><tspan>10</tspan><tspan font-size="16.2" dy="-11.3">3</tspan><tspan dy="11.3" font-weight="normal">)</tspan></text>
<line x1="207.5" y1="225.4" x2="207.5" y2="370.4" stroke="#000" stroke-width="1.4" />
<text transform="translate(205.0,529.8) rotate(-90) scale(0.764,1)" font-size="27" font-weight="bold" fill="#000" stroke="#000" stroke-width="0.50" >% SBSs</text>
<line x1="208.0" y1="452.6" x2="208.0" y2="529.4" stroke="#000" stroke-width="1.4" />
<text transform="translate(171.0,843.4) rotate(-90) scale(0.743,1)" font-size="28" font-weight="bold" fill="#000" stroke="#000" stroke-width="0.50" >SBSs in genome</text>
<line x1="174.0" y1="680.0" x2="174.0" y2="843.0" stroke="#000" stroke-width="1.4" />
<text transform="translate(205.0,662.0) rotate(-90) scale(0.842,1)" font-size="27" font-weight="bold" text-anchor="middle"># SNVs <tspan font-weight="normal">(</tspan><tspan font-weight="normal">×</tspan><tspan>10</tspan><tspan font-size="16.2" dy="-11.3">4</tspan><tspan dy="11.3" font-weight="normal">)</tspan></text>
<line x1="207.5" y1="589.0" x2="207.5" y2="735.0" stroke="#000" stroke-width="1.4" />
<text transform="translate(205.0,890.4) rotate(-90) scale(0.765,1)" font-size="27" font-weight="bold" fill="#000" stroke="#000" stroke-width="0.50" >% SBSs</text>
<line x1="208.0" y1="813.2" x2="208.0" y2="890.0" stroke="#000" stroke-width="1.4" />
<text transform="translate(161.9,114.8) scale(0.752,1)" font-size="30.5" font-weight="bold" fill="#ff0000" stroke="#ff0000" stroke-width="0.50" >Cluster 1</text>
<text transform="translate(279.9,114.8) scale(0.769,1)" font-size="30.5" font-weight="bold" fill="#0028ff" stroke="#0028ff" stroke-width="0.50" >Cluster 2</text>
<text transform="translate(467.0,114.8) scale(0.777,1)" font-size="30.5" font-weight="bold" fill="#ff8c00" stroke="#ff8c00" stroke-width="0.50" >Cluster 3</text>
<text transform="translate(886.1,114.8) scale(0.766,1)" font-size="30.5" font-weight="bold" fill="#00904c" stroke="#00904c" stroke-width="0.50" >Cluster 4</text>
<rect x="100.4" y="1405.5" width="104.2" height="131.5" fill="#fdcccc" />
<rect x="204.6" y="1405.5" width="703.9" height="131.5" fill="#ccd5fa" />
<rect x="908.5" y="1405.5" width="178.5" height="131.5" fill="#fde7cc" />
<rect x="1087.5" y="1405.5" width="120.9" height="131.5" fill="#ccfbe1" />
<g><line x1="106.1" y1="1503.0" x2="106.1" y2="1536.0" stroke="#333" stroke-width="1.1" /><line x1="115.6" y1="1532.0" x2="115.6" y2="1536.0" stroke="#333" stroke-width="1.1" /><line x1="125.1" y1="1532.0" x2="125.1" y2="1536.0" stroke="#333" stroke-width="1.1" /><line x1="115.6" y1="1532.0" x2="125.1" y2="1532.0" stroke="#333" stroke-width="1.1" /><line x1="120.3" y1="1532.0" x2="120.3" y2="1532.0" stroke="#333" stroke-width="1.1" /><line x1="134.5" y1="1532.0" x2="134.5" y2="1536.0" stroke="#333" stroke-width="1.1" /><line x1="120.3" y1="1532.0" x2="134.5" y2="1532.0" stroke="#333" stroke-width="1.1" /><line x1="127.4" y1="1531.8" x2="127.4" y2="1532.0" stroke="#333" stroke-width="1.1" /><line x1="144.0" y1="1531.8" x2="144.0" y2="1536.0" stroke="#333" stroke-width="1.1" /><line x1="127.4" y1="1531.8" x2="144.0" y2="1531.8" stroke="#333" stroke-width="1.1" /><line x1="135.7" y1="1524.4" x2="135.7" y2="1531.8" stroke="#333" stroke-width="1.1" /><line x1="153.5" y1="1532.0" x2="153.5" y2="1536.0" stroke="#333" stroke-width="1.1" /><line x1="163.0" y1="1532.0" x2="163.0" y2="1536.0" stroke="#333" stroke-width="1.1" /><line x1="153.5" y1="1532.0" x2="163.0" y2="1532.0" stroke="#333" stroke-width="1.1" /><line x1="158.2" y1="1524.4" x2="158.2" y2="1532.0" stroke="#333" stroke-width="1.1" /><line x1="135.7" y1="1524.4" x2="158.2" y2="1524.4" stroke="#333" stroke-width="1.1" /><line x1="147.0" y1="1518.6" x2="147.0" y2="1524.4" stroke="#333" stroke-width="1.1" /><line x1="172.4" y1="1532.0" x2="172.4" y2="1536.0" stroke="#333" stroke-width="1.1" /><line x1="181.9" y1="1532.0" x2="181.9" y2="1536.0" stroke="#333" stroke-width="1.1" /><line x1="172.4" y1="1532.0" x2="181.9" y2="1532.0" stroke="#333" stroke-width="1.1" /><line x1="177.2" y1="1531.3" x2="177.2" y2="1532.0" stroke="#333" stroke-width="1.1" /><line x1="191.4" y1="1532.0" x2="191.4" y2="1536.0" stroke="#333" stroke-width="1.1" /><line x1="200.8" y1="1532.0" x2="200.8" y2="1536.0" stroke="#333" stroke-width="1.1" /><line x1="191.4" y1="1532.0" x2="200.8" y2="1532.0" stroke="#333" stroke-width="1.1" /><line x1="196.1" y1="1531.3" x2="196.1" y2="1532.0" stroke="#333" stroke-width="1.1" /><line x1="177.2" y1="1531.3" x2="196.1" y2="1531.3" stroke="#333" stroke-width="1.1" /><line x1="186.6" y1="1518.6" x2="186.6" y2="1531.3" stroke="#333" stroke-width="1.1" /><line x1="147.0" y1="1518.6" x2="186.6" y2="1518.6" stroke="#333" stroke-width="1.1" /><line x1="166.8" y1="1503.0" x2="166.8" y2="1518.6" stroke="#333" stroke-width="1.1" /><line x1="106.1" y1="1503.0" x2="166.8" y2="1503.0" stroke="#333" stroke-width="1.1" /><line x1="210.3" y1="1527.0" x2="210.3" y2="1536.0" stroke="#333" stroke-width="1.1" /><line x1="219.8" y1="1532.0" x2="219.8" y2="1536.0" stroke="#333" stroke-width="1.1" /><line x1="229.3" y1="1532.0" x2="229.3" y2="1536.0" stroke="#333" stroke-width="1.1" /><line x1="219.8" y1="1532.0" x2="229.3" y2="1532.0" stroke="#333" stroke-width="1.1" /><line x1="224.5" y1="1532.0" x2="224.5" y2="1532.0" stroke="#333" stroke-width="1.1" /><line x1="238.7" y1="1532.0" x2="238.7" y2="1536.0" stroke="#333" stroke-width="1.1" /><line x1="224.5" y1="1532.0" x2="238.7" y2="1532.0" stroke="#333" stroke-width="1.1" /><line x1="231.6" y1="1529.7" x2="231.6" y2="1532.0" stroke="#333" stroke-width="1.1" /><line x1="248.2" y1="1532.0" x2="248.2" y2="1536.0" stroke="#333" stroke-width="1.1" /><line x1="257.7" y1="1532.0" x2="257.7" y2="1536.0" stroke="#333" stroke-width="1.1" /><line x1="267.1" y1="1532.0" x2="267.1" y2="1536.0" stroke="#333" stroke-width="1.1" /><line x1="276.6" y1="1532.0" x2="276.6" y2="1536.0" stroke="#333" stroke-width="1.1" /><line x1="267.1" y1="1532.0" x2="276.6" y2="1532.0" stroke="#333" stroke-width="1.1" /><line x1="271.9" y1="1532.0" x2="271.9" y2="1532.0" stroke="#333" stroke-width="1.1" /><line x1="286.1" y1="1532.0" x2="286.1" y2="1536.0" stroke="#333" stroke-width="1.1" /><line x1="271.9" y1="1532.0" x2="286.1" y2="1532.0" stroke="#333" stroke-width="1.1" /><line x1="279.0" y1="1532.0" x2="279.0" y2="1532.0" stroke="#333" stroke-width="1.1" /><line x1="257.7" y1="1532.0" x2="279.0" y2="1532.0" stroke="#333" stroke-width="1.1" /><line x1="268.3" y1="1532.0" x2="268.3" y2="1532.0" stroke="#333" stroke-width="1.1" /><line x1="248.2" y1="1532.0" x2="268.3" y2="1532.0" stroke="#333" stroke-width="1.1" /><line x1="258.3" y1="1532.0" x2="258.3" y2="1532.0" stroke="#333" stroke-width="1.1" /><line x1="295.6" y1="1532.0" x2="295.6" y2="1536.0" stroke="#333" stroke-width="1.1" /><line x1="258.3" y1="1532.0" x2="295.6" y2="1532.0" stroke="#333" stroke-width="1.1" /><line x1="276.9" y1="1532.0" x2="276.9" y2="1532.0" stroke="#333" stroke-width="1.1" /><line x1="305.0" y1="1532.0" x2="305.0" y2="1536.0" stroke="#333" stroke-width="1.1" /><line x1="314.5" y1="1532.0" x2="314.5" y2="1536.0" stroke="#333" stroke-width="1.1" /><line x1="305.0" y1="1532.0" x2="314.5" y2="1532.0" stroke="#333" stroke-width="1.1" /><line x1="309.8" y1="1532.0" x2="309.8" y2="1532.0" stroke="#333" stroke-width="1.1" /><line x1="324.0" y1="1532.0" x2="324.0" y2="1536.0" stroke="#333" stroke-width="1.1" /><line x1="333.4" y1="1532.0" x2="333.4" y2="1536.0" stroke="#333" stroke-width="1.1" /><line x1="324.0" y1="1532.0" x2="333.4" y2="1532.0" stroke="#333" stroke-width="1.1" /><line x1="328.7" y1="1532.0" x2="328.7" y2="1532.0" stroke="#333" stroke-width="1.1" /><line x1="309.8" y1="1532.0" x2="328.7" y2="1532.0" stroke="#333" stroke-width="1.1" /><line x1="319.2" y1="1532.0" x2="319.2" y2="1532.0" stroke="#333" stroke-width="1.1" /><line x1="276.9" y1="1532.0" x2="319.2" y2="1532.0" stroke="#333" stroke-width="1.1" /><line x1="298.1" y1="1529.7" x2="298.1" y2="1532.0" stroke="#333" stroke-width="1.1" /><line x1="231.6" y1="1529.7" x2="298.1" y2="1529.7" stroke="#333" stroke-width="1.1" /><line x1="264.8" y1="1527.0" x2="264.8" y2="1529.7" stroke="#333" stroke-width="1.1" /><line x1="210.3" y1="1527.0" x2="264.8" y2="1527.0" stroke="#333" stroke-width="1.1" /><line x1="342.9" y1="1525.0" x2="342.9" y2="1536.0" stroke="#333" stroke-width="1.1" /><line x1="352.4" y1="1532.0" x2="352.4" y2="1536.0" stroke="#333" stroke-width="1.1" /><line x1="361.9" y1="1532.0" x2="361.9" y2="1536.0" stroke="#333" stroke-width="1.1" /><line x1="371.3" y1="1532.0" x2="371.3" y2="1536.0" stroke="#333" stroke-width="1.1" /><line x1="361.9" y1="1532.0" x2="371.3" y2="1532.0" stroke="#333" stroke-width="1.1" /><line x1="366.6" y1="1532.0" x2="366.6" y2="1532.0" stroke="#333" stroke-width="1.1" /><line x1="380.8" y1="1532.0" x2="380.8" y2="1536.0" stroke="#333" stroke-width="1.1" /><line x1="390.3" y1="1532.0" x2="390.3" y2="1536.0" stroke="#333" stroke-width="1.1" /><line x1="380.8" y1="1532.0" x2="390.3" y2="1532.0" stroke="#333" stroke-width="1.1" /><line x1="385.5" y1="1532.0" x2="385.5" y2="1532.0" stroke="#333" stroke-width="1.1" /><line x1="366.6" y1="1532.0" x2="385.5" y2="1532.0" stroke="#333" stroke-width="1.1" /><line x1="376.1" y1="1532.0" x2="376.1" y2="1532.0" stroke="#333" stroke-width="1.1" /><line x1="352.4" y1="1532.0" x2="376.1" y2="1532.0" stroke="#333" stroke-width="1.1" /><line x1="364.2" y1="1532.0" x2="364.2" y2="1532.0" stroke="#333" stroke-width="1.1" /><line x1="399.7" y1="1532.0" x2="399.7" y2="1536.0" stroke="#333" stroke-width="1.1" /><line x1="409.2" y1="1532.0" x2="409.2" y2="1536.0" stroke="#333" stroke-width="1.1" /><line x1="399.7" y1="1532.0" x2="409.2" y2="1532.0" stroke="#333" stroke-width="1.1" /><line x1="404.5" y1="1532.0" x2="404.5" y2="1532.0" stroke="#333" stroke-width="1.1" /><line x1="364.2" y1="1532.0" x2="404.5" y2="1532.0" stroke="#333" stroke-width="1.1" /><line x1="384.3" y1="1532.0" x2="384.3" y2="1532.0" stroke="#333" stroke-width="1.1" /><line x1="418.7" y1="1532.0" x2="418.7" y2="1536.0" stroke="#333" stroke-width="1.1" /><line x1="428.1" y1="1532.0" x2="428.1" y2="1536.0" stroke="#333" stroke-width="1.1" /><line x1="437.6" y1="1532.0" x2="437.6" y2="1536.0" stroke="#333" stroke-width="1.1" /><line x1="447.1" y1="1532.0" x2="447.1" y2="1536.0" stroke="#333" stroke-width="1.1" /><line x1="437.6" y1="1532.0" x2="447.1" y2="1532.0" stroke="#333" stroke-width="1.1" /><line x1="442.4" y1="1532.0" x2="442.4" y2="1532.0" stroke="#333" stroke-width="1.1" /><line x1="428.1" y1="1532.0" x2="442.4" y2="1532.0" stroke="#333" stroke-width="1.1" /><line x1="435.3" y1="1532.0" x2="435.3" y2="1532.0" stroke="#333" stroke-width="1.1" /><line x1="456.6" y1="1532.0" x2="456.6" y2="1536.0" stroke="#333" stroke-width="1.1" /><line x1="466.0" y1="1532.0" x2="466.0" y2="1536.0" stroke="#333" stroke-width="1.1" /><line x1="475.5" y1="1532.0" x2="475.5" y2="1536.0" stroke="#333" stroke-width="1.1" /><line x1="466.0" y1="1532.0" x2="475.5" y2="1532.0" stroke="#333" stroke-width="1.1" /><line x1="470.8" y1="1532.0" x2="470.8" y2="1532.0" stroke="#333" stroke-width="1.1" /><line x1="456.6" y1="1532.0" x2="470.8" y2="1532.0" stroke="#333" stroke-width="1.1" /><line x1="463.7" y1="1532.0" x2="463.7" y2="1532.0" stroke="#333" stroke-width="1.1" /><line x1="435.3" y1="1532.0" x2="463.7" y2="1532.0" stroke="#333" stroke-width="1.1" /><line x1="449.5" y1="1532.0" x2="449.5" y2="1532.0" stroke="#333" stroke-width="1.1" /><line x1="418.7" y1="1532.0" x2="449.5" y2="1532.0" stroke="#333" stroke-width="1.1" /><line x1="434.1" y1="1532.0" x2="434.1" y2="1532.0" stroke="#333" stroke-width="1.1" /><line x1="384.3" y1="1532.0" x2="434.1" y2="1532.0" stroke="#333" stroke-width="1.1" /><line x1="409.2" y1="1532.0" x2="409.2" y2="1532.0" stroke="#333" stroke-width="1.1" /><line x1="485.0" y1="1532.0" x2="485.0" y2="1536.0" stroke="#333" stroke-width="1.1" /><line x1="494.4" y1="1532.0" x2="494.4" y2="1536.0" stroke="#333" stroke-width="1.1" /><line x1="485.0" y1="1532.0" x2="494.4" y2="1532.0" stroke="#333" stroke-width="1.1" /><line x1="489.7" y1="1532.0" x2="489.7" y2="1532.0" stroke="#333" stroke-width="1.1" /><line x1="503.9" y1="1532.0" x2="503.9" y2="1536.0" stroke="#333" stroke-width="1.1" /><line x1="513.4" y1="1532.0" x2="513.4" y2="1536.0" stroke="#333" stroke-width="1.1" /><line x1="503.9" y1="1532.0" x2="513.4" y2="1532.0" stroke="#333" stroke-width="1.1" /><line x1="508.7" y1="1532.0" x2="508.7" y2="1532.0" stroke="#333" stroke-width="1.1" /><line x1="489.7" y1="1532.0" x2="508.7" y2="1532.0" stroke="#333" stroke-width="1.1" /><line x1="499.2" y1="1532.0" x2="499.2" y2="1532.0" stroke="#333" stroke-width="1.1" /><line x1="522.9" y1="1532.0" x2="522.9" y2="1536.0" stroke="#333" stroke-width="1.1" /><line x1="499.2" y1="1532.0" x2="522.9" y2="1532.0" stroke="#333" stroke-width="1.1" /><line x1="511.0" y1="1532.0" x2="511.0" y2="1532.0" stroke="#333" stroke-width="1.1" /><line x1="409.2" y1="1532.0" x2="511.0" y2="1532.0" stroke="#333" stroke-width="1.1" /><line x1="460.1" y1="1531.4" x2="460.1" y2="1532.0" stroke="#333" stroke-width="1.1" /><line x1="532.3" y1="1532.0" x2="532.3" y2="1536.0" stroke="#333" stroke-width="1.1" /><line x1="541.8" y1="1532.0" x2="541.8" y2="1536.0" stroke="#333" stroke-width="1.1" /><line x1="551.3" y1="1532.0" x2="551.3" y2="1536.0" stroke="#333" stroke-width="1.1" /><line x1="560.7" y1="1532.0" x2="560.7" y2="1536.0" stroke="#333" stroke-width="1.1" /><line x1="551.3" y1="1532.0" x2="560.7" y2="1532.0" stroke="#333" stroke-width="1.1" /><line x1="556.0" y1="1532.0" x2="556.0" y2="1532.0" stroke="#333" stroke-width="1.1" /><line x1="541.8" y1="1532.0" x2="556.0" y2="1532.0" stroke="#333" stroke-width="1.1" /><line x1="548.9" y1="1532.0" x2="548.9" y2="1532.0" stroke="#333" stroke-width="1.1" /><line x1="532.3" y1="1532.0" x2="548.9" y2="1532.0" stroke="#333" stroke-width="1.1" /><line x1="540.6" y1="1532.0" x2="540.6" y2="1532.0" stroke="#333" stroke-width="1.1" /><line x1="570.2" y1="1532.0" x2="570.2" y2="1536.0" stroke="#333" stroke-width="1.1" /><line x1="579.7" y1="1532.0" x2="579.7" y2="1536.0" stroke="#333" stroke-width="1.1" /><line x1="570.2" y1="1532.0" x2="579.7" y2="1532.0" stroke="#333" stroke-width="1.1" /><line x1="574.9" y1="1532.0" x2="574.9" y2="1532.0" stroke="#333" stroke-width="1.1" /><line x1="589.2" y1="1532.0" x2="589.2" y2="1536.0" stroke="#333" stroke-width="1.1" /><line x1="598.6" y1="1532.0" x2="598.6" y2="1536.0" stroke="#333" stroke-width="1.1" /><line x1="608.1" y1="1532.0" x2="608.1" y2="1536.0" stroke="#333" stroke-width="1.1" /><line x1="598.6" y1="1532.0" x2="608.1" y2="1532.0" stroke="#333" stroke-width="1.1" /><line x1="603.4" y1="1532.0" x2="603.4" y2="1532.0" stroke="#333" stroke-width="1.1" /><line x1="589.2" y1="1532.0" x2="603.4" y2="1532.0" stroke="#333" stroke-width="1.1" /><line x1="596.3" y1="1532.0" x2="596.3" y2="1532.0" stroke="#333" stroke-width="1.1" /><line x1="617.6" y1="1532.0" x2="617.6" y2="1536.0" stroke="#333" stroke-width="1.1" /><line x1="627.0" y1="1532.0" x2="627.0" y2="1536.0" stroke="#333" stroke-width="1.1" /><line x1="617.6" y1="1532.0" x2="627.0" y2="1532.0" stroke="#333" stroke-width="1.1" /><line x1="622.3" y1="1532.0" x2="622.3" y2="1532.0" stroke="#333" stroke-width="1.1" /><line x1="636.5" y1="1532.0" x2="636.5" y2="1536.0" stroke="#333" stroke-width="1.1" /><line x1="646.0" y1="1532.0" x2="646.0" y2="1536.0" stroke="#333" stroke-width="1.1" /><line x1="636.5" y1="1532.0" x2="646.0" y2="1532.0" stroke="#333" stroke-width="1.1" /><line x1="641.2" y1="1532.0" x2="641.2" y2="1532.0" stroke="#333" stroke-width="1.1" /><line x1="655.4" y1="1532.0" x2="655.4" y2="1536.0" stroke="#333" stroke-width="1.1" /><line x1="664.9" y1="1532.0" x2="664.9" y2="1536.0" stroke="#333" stroke-width="1.1" /><line x1="655.4" y1="1532.0" x2="664.9" y2="1532.0" stroke="#333" stroke-width="1.1" /><line x1="660.2" y1="1532.0" x2="660.2" y2="1532.0" stroke="#333" stroke-width="1.1" /><line x1="641.2" y1="1532.0" x2="660.2" y2="1532.0" stroke="#333" stroke-width="1.1" /><line x1="650.7" y1="1532.0" x2="650.7" y2="1532.0" stroke="#333" stroke-width="1.1" /><line x1="622.3" y1="1532.0" x2="650.7" y2="1532.0" stroke="#333" stroke-width="1.1" /><line x1="636.5" y1="1532.0" x2="636.5" y2="1532.0" stroke="#333" stroke-width="1.1" /><line x1="596.3" y1="1532.0" x2="636.5" y2="1532.0" stroke="#333" stroke-width="1.1" /><line x1="616.4" y1="1532.0" x2="616.4" y2="1532.0" stroke="#333" stroke-width="1.1" /><line x1="574.9" y1="1532.0" x2="616.4" y2="1532.0" stroke="#333" stroke-width="1.1" /><line x1="595.7" y1="1532.0" x2="595.7" y2="1532.0" stroke="#333" stroke-width="1.1" /><line x1="540.6" y1="1532.0" x2="595.7" y2="1532.0" stroke="#333" stroke-width="1.1" /><line x1="568.1" y1="1532.0" x2="568.1" y2="1532.0" stroke="#333" stroke-width="1.1" /><line x1="674.4" y1="1532.0" x2="674.4" y2="1536.0" stroke="#333" stroke-width="1.1" /><line x1="683.9" y1="1532.0" x2="683.9" y2="1536.0" stroke="#333" stroke-width="1.1" /><line x1="693.3" y1="1532.0" x2="693.3" y2="1536.0" stroke="#333" stroke-width="1.1" /><line x1="702.8" y1="1532.0" x2="702.8" y2="1536.0" stroke="#333" stroke-width="1.1" /><line x1="693.3" y1="1532.0" x2="702.8" y2="1532.0" stroke="#333" stroke-width="1.1" /><line x1="698.1" y1="1532.0" x2="698.1" y2="1532.0" stroke="#333" stroke-width="1.1" /><line x1="683.9" y1="1532.0" x2="698.1" y2="1532.0" stroke="#333" stroke-width="1.1" /><line x1="691.0" y1="1532.0" x2="691.0" y2="1532.0" stroke="#333" stroke-width="1.1" /><line x1="712.3" y1="1532.0" x2="712.3" y2="1536.0" stroke="#333" stroke-width="1.1" /><line x1="691.0" y1="1532.0" x2="712.3" y2="1532.0" stroke="#333" stroke-width="1.1" /><line x1="701.6" y1="1532.0" x2="701.6" y2="1532.0" stroke="#333" stroke-width="1.1" /><line x1="721.7" y1="1532.0" x2="721.7" y2="1536.0" stroke="#333" stroke-width="1.1" /><line x1="701.6" y1="1532.0" x2="721.7" y2="1532.0" stroke="#333" stroke-width="1.1" /><line x1="711.7" y1="1532.0" x2="711.7" y2="1532.0" stroke="#333" stroke-width="1.1" /><line x1="674.4" y1="1532.0" x2="711.7" y2="1532.0" stroke="#333" stroke-width="1.1" /><line x1="693.0" y1="1532.0" x2="693.0" y2="1532.0" stroke="#333" stroke-width="1.1" /><line x1="731.2" y1="1532.0" x2="731.2" y2="1536.0" stroke="#333" stroke-width="1.1" /><line x1="740.7" y1="1532.0" x2="740.7" y2="1536.0" stroke="#333" stroke-width="1.1" /><line x1="731.2" y1="1532.0" x2="740.7" y2="1532.0" stroke="#333" stroke-width="1.1" /><line x1="736.0" y1="1532.0" x2="736.0" y2="1532.0" stroke="#333" stroke-width="1.1" /><line x1="693.0" y1="1532.0" x2="736.0" y2="1532.0" stroke="#333" stroke-width="1.1" /><line x1="714.5" y1="1532.0" x2="714.5" y2="1532.0" stroke="#333" stroke-width="1.1" /><line x1="568.1" y1="1532.0" x2="714.5" y2="1532.0" stroke="#333" stroke-width="1.1" /><line x1="641.3" y1="1531.4" x2="641.3" y2="1532.0" stroke="#333" stroke-width="1.1" /><line x1="460.1" y1="1531.4" x2="641.3" y2="1531.4" stroke="#333" stroke-width="1.1" /><line x1="550.7" y1="1525.0" x2="550.7" y2="1531.4" stroke="#333" stroke-width="1.1" /><line x1="342.9" y1="1525.0" x2="550.7" y2="1525.0" stroke="#333" stroke-width="1.1" /><line x1="237.6" y1="1519.0" x2="446.8" y2="1519.0" stroke="#333" stroke-width="1.1" /><line x1="237.6" y1="1519.0" x2="237.6" y2="1527.0" stroke="#333" stroke-width="1.1" /><line x1="446.8" y1="1519.0" x2="446.8" y2="1525.0" stroke="#333" stroke-width="1.1" /><line x1="750.2" y1="1530.5" x2="750.2" y2="1536.0" stroke="#333" stroke-width="1.1" /><line x1="759.6" y1="1532.0" x2="759.6" y2="1536.0" stroke="#333" stroke-width="1.1" /><line x1="769.1" y1="1532.0" x2="769.1" y2="1536.0" stroke="#333" stroke-width="1.1" /><line x1="759.6" y1="1532.0" x2="769.1" y2="1532.0" stroke="#333" stroke-width="1.1" /><line x1="764.4" y1="1530.5" x2="764.4" y2="1532.0" stroke="#333" stroke-width="1.1" /><line x1="750.2" y1="1530.5" x2="764.4" y2="1530.5" stroke="#333" stroke-width="1.1" /><line x1="757.3" y1="1518.0" x2="757.3" y2="1530.5" stroke="#333" stroke-width="1.1" /><line x1="778.6" y1="1532.0" x2="778.6" y2="1536.0" stroke="#333" stroke-width="1.1" /><line x1="788.0" y1="1532.0" x2="788.0" y2="1536.0" stroke="#333" stroke-width="1.1" /><line x1="778.6" y1="1532.0" x2="788.0" y2="1532.0" stroke="#333" stroke-width="1.1" /><line x1="783.3" y1="1531.1" x2="783.3" y2="1532.0" stroke="#333" stroke-width="1.1" /><line x1="797.5" y1="1531.1" x2="797.5" y2="1536.0" stroke="#333" stroke-width="1.1" /><line x1="783.3" y1="1531.1" x2="797.5" y2="1531.1" stroke="#333" stroke-width="1.1" /><line x1="790.4" y1="1518.0" x2="790.4" y2="1531.1" stroke="#333" stroke-width="1.1" /><line x1="757.3" y1="1518.0" x2="790.4" y2="1518.0" stroke="#333" stroke-width="1.1" /><line x1="807.0" y1="1531.7" x2="807.0" y2="1536.0" stroke="#333" stroke-width="1.1" /><line x1="816.5" y1="1532.0" x2="816.5" y2="1536.0" stroke="#333" stroke-width="1.1" /><line x1="825.9" y1="1532.0" x2="825.9" y2="1536.0" stroke="#333" stroke-width="1.1" /><line x1="816.5" y1="1532.0" x2="825.9" y2="1532.0" stroke="#333" stroke-width="1.1" /><line x1="821.2" y1="1531.7" x2="821.2" y2="1532.0" stroke="#333" stroke-width="1.1" /><line x1="807.0" y1="1531.7" x2="821.2" y2="1531.7" stroke="#333" stroke-width="1.1" /><line x1="814.1" y1="1514.0" x2="814.1" y2="1531.7" stroke="#333" stroke-width="1.1" /><line x1="835.4" y1="1532.0" x2="835.4" y2="1536.0" stroke="#333" stroke-width="1.1" /><line x1="844.9" y1="1532.0" x2="844.9" y2="1536.0" stroke="#333" stroke-width="1.1" /><line x1="854.3" y1="1532.0" x2="854.3" y2="1536.0" stroke="#333" stroke-width="1.1" /><line x1="863.8" y1="1532.0" x2="863.8" y2="1536.0" stroke="#333" stroke-width="1.1" /><line x1="854.3" y1="1532.0" x2="863.8" y2="1532.0" stroke="#333" stroke-width="1.1" /><line x1="859.1" y1="1532.0" x2="859.1" y2="1532.0" stroke="#333" stroke-width="1.1" /><line x1="844.9" y1="1532.0" x2="859.1" y2="1532.0" stroke="#333" stroke-width="1.1" /><line x1="852.0" y1="1532.0" x2="852.0" y2="1532.0" stroke="#333" stroke-width="1.1" /><line x1="835.4" y1="1532.0" x2="852.0" y2="1532.0" stroke="#333" stroke-width="1.1" /><line x1="843.7" y1="1532.0" x2="843.7" y2="1532.0" stroke="#333" stroke-width="1.1" /><line x1="873.3" y1="1532.0" x2="873.3" y2="1536.0" stroke="#333" stroke-width="1.1" /><line x1="843.7" y1="1532.0" x2="873.3" y2="1532.0" stroke="#333" stroke-width="1.1" /><line x1="858.5" y1="1531.9" x2="858.5" y2="1532.0" stroke="#333" stroke-width="1.1" /><line x1="882.8" y1="1531.9" x2="882.8" y2="1536.0" stroke="#333" stroke-width="1.1" /><line x1="858.5" y1="1531.9" x2="882.8" y2="1531.9" stroke="#333" stroke-width="1.1" /><line x1="870.6" y1="1526.7" x2="870.6" y2="1531.9" stroke="#333" stroke-width="1.1" /><line x1="892.2" y1="1532.0" x2="892.2" y2="1536.0" stroke="#333" stroke-width="1.1" /><line x1="901.7" y1="1532.0" x2="901.7" y2="1536.0" stroke="#333" stroke-width="1.1" /><line x1="892.2" y1="1532.0" x2="901.7" y2="1532.0" stroke="#333" stroke-width="1.1" /><line x1="897.0" y1="1526.7" x2="897.0" y2="1532.0" stroke="#333" stroke-width="1.1" /><line x1="870.6" y1="1526.7" x2="897.0" y2="1526.7" stroke="#333" stroke-width="1.1" /><line x1="883.8" y1="1514.0" x2="883.8" y2="1526.7" stroke="#333" stroke-width="1.1" /><line x1="814.1" y1="1514.0" x2="883.8" y2="1514.0" stroke="#333" stroke-width="1.1" /><line x1="773.8" y1="1506.4" x2="848.9" y2="1506.4" stroke="#333" stroke-width="1.1" /><line x1="773.8" y1="1506.4" x2="773.8" y2="1518.0" stroke="#333" stroke-width="1.1" /><line x1="848.9" y1="1506.4" x2="848.9" y2="1514.0" stroke="#333" stroke-width="1.1" /><line x1="342.2" y1="1502.0" x2="811.4" y2="1502.0" stroke="#333" stroke-width="1.1" /><line x1="342.2" y1="1502.0" x2="342.2" y2="1519.0" stroke="#333" stroke-width="1.1" /><line x1="811.4" y1="1502.0" x2="811.4" y2="1506.4" stroke="#333" stroke-width="1.1" /><line x1="136.5" y1="1457.3" x2="576.8" y2="1457.3" stroke="#333" stroke-width="1.1" /><line x1="136.5" y1="1457.3" x2="136.5" y2="1503.0" stroke="#333" stroke-width="1.1" /><line x1="576.8" y1="1457.3" x2="576.8" y2="1502.0" stroke="#333" stroke-width="1.1" /><line x1="911.2" y1="1500.7" x2="911.2" y2="1536.0" stroke="#333" stroke-width="1.1" /><line x1="920.6" y1="1532.0" x2="920.6" y2="1536.0" stroke="#333" stroke-width="1.1" /><line x1="930.1" y1="1532.0" x2="930.1" y2="1536.0" stroke="#333" stroke-width="1.1" /><line x1="939.6" y1="1532.0" x2="939.6" y2="1536.0" stroke="#333" stroke-width="1.1" /><line x1="930.1" y1="1532.0" x2="939.6" y2="1532.0" stroke="#333" stroke-width="1.1" /><line x1="934.8" y1="1532.0" x2="934.8" y2="1532.0" stroke="#333" stroke-width="1.1" /><line x1="920.6" y1="1532.0" x2="934.8" y2="1532.0" stroke="#333" stroke-width="1.1" /><line x1="927.7" y1="1532.0" x2="927.7" y2="1532.0" stroke="#333" stroke-width="1.1" /><line x1="949.0" y1="1532.0" x2="949.0" y2="1536.0" stroke="#333" stroke-width="1.1" /><line x1="927.7" y1="1532.0" x2="949.0" y2="1532.0" stroke="#333" stroke-width="1.1" /><line x1="938.4" y1="1532.0" x2="938.4" y2="1532.0" stroke="#333" stroke-width="1.1" /><line x1="958.5" y1="1532.0" x2="958.5" y2="1536.0" stroke="#333" stroke-width="1.1" /><line x1="938.4" y1="1532.0" x2="958.5" y2="1532.0" stroke="#333" stroke-width="1.1" /><line x1="948.5" y1="1532.0" x2="948.5" y2="1532.0" stroke="#333" stroke-width="1.1" /><line x1="968.0" y1="1532.0" x2="968.0" y2="1536.0" stroke="#333" stroke-width="1.1" /><line x1="948.5" y1="1532.0" x2="968.0" y2="1532.0" stroke="#333" stroke-width="1.1" /><line x1="958.2" y1="1529.8" x2="958.2" y2="1532.0" stroke="#333" stroke-width="1.1" /><line x1="977.5" y1="1532.0" x2="977.5" y2="1536.0" stroke="#333" stroke-width="1.1" /><line x1="986.9" y1="1532.0" x2="986.9" y2="1536.0" stroke="#333" stroke-width="1.1" /><line x1="977.5" y1="1532.0" x2="986.9" y2="1532.0" stroke="#333" stroke-width="1.1" /><line x1="982.2" y1="1532.0" x2="982.2" y2="1532.0" stroke="#333" stroke-width="1.1" /><line x1="996.4" y1="1532.0" x2="996.4" y2="1536.0" stroke="#333" stroke-width="1.1" /><line x1="982.2" y1="1532.0" x2="996.4" y2="1532.0" stroke="#333" stroke-width="1.1" /><line x1="989.3" y1="1532.0" x2="989.3" y2="1532.0" stroke="#333" stroke-width="1.1" /><line x1="1005.9" y1="1532.0" x2="1005.9" y2="1536.0" stroke="#333" stroke-width="1.1" /><line x1="1015.3" y1="1532.0" x2="1015.3" y2="1536.0" stroke="#333" stroke-width="1.1" /><line x1="1005.9" y1="1532.0" x2="1015.3" y2="1532.0" stroke="#333" stroke-width="1.1" /><line x1="1010.6" y1="1532.0" x2="1010.6" y2="1532.0" stroke="#333" stroke-width="1.1" /><line x1="1024.8" y1="1532.0" x2="1024.8" y2="1536.0" stroke="#333" stroke-width="1.1" /><line x1="1010.6" y1="1532.0" x2="1024.8" y2="1532.0" stroke="#333" stroke-width="1.1" /><line x1="1017.7" y1="1532.0" x2="1017.7" y2="1532.0" stroke="#333" stroke-width="1.1" /><line x1="1034.3" y1="1532.0" x2="1034.3" y2="1536.0" stroke="#333" stroke-width="1.1" /><line x1="1017.7" y1="1532.0" x2="1034.3" y2="1532.0" stroke="#333" stroke-width="1.1" /><line x1="1026.0" y1="1532.0" x2="1026.0" y2="1532.0" stroke="#333" stroke-width="1.1" /><line x1="989.3" y1="1532.0" x2="1026.0" y2="1532.0" stroke="#333" stroke-width="1.1" /><line x1="1007.7" y1="1529.8" x2="1007.7" y2="1532.0" stroke="#333" stroke-width="1.1" /><line x1="958.2" y1="1529.8" x2="1007.7" y2="1529.8" stroke="#333" stroke-width="1.1" /><line x1="982.9" y1="1521.4" x2="982.9" y2="1529.8" stroke="#333" stroke-width="1.1" /><line x1="1043.8" y1="1528.2" x2="1043.8" y2="1536.0" stroke="#333" stroke-width="1.1" /><line x1="1053.2" y1="1532.0" x2="1053.2" y2="1536.0" stroke="#333" stroke-width="1.1" /><line x1="1062.7" y1="1532.0" x2="1062.7" y2="1536.0" stroke="#333" stroke-width="1.1" /><line x1="1053.2" y1="1532.0" x2="1062.7" y2="1532.0" stroke="#333" stroke-width="1.1" /><line x1="1058.0" y1="1532.0" x2="1058.0" y2="1532.0" stroke="#333" stroke-width="1.1" /><line x1="1072.2" y1="1532.0" x2="1072.2" y2="1536.0" stroke="#333" stroke-width="1.1" /><line x1="1081.6" y1="1532.0" x2="1081.6" y2="1536.0" stroke="#333" stroke-width="1.1" /><line x1="1072.2" y1="1532.0" x2="1081.6" y2="1532.0" stroke="#333" stroke-width="1.1" /><line x1="1076.9" y1="1532.0" x2="1076.9" y2="1532.0" stroke="#333" stroke-width="1.1" /><line x1="1058.0" y1="1532.0" x2="1076.9" y2="1532.0" stroke="#333" stroke-width="1.1" /><line x1="1067.4" y1="1528.2" x2="1067.4" y2="1532.0" stroke="#333" stroke-width="1.1" /><line x1="1043.8" y1="1528.2" x2="1067.4" y2="1528.2" stroke="#333" stroke-width="1.1" /><line x1="1055.6" y1="1521.4" x2="1055.6" y2="1528.2" stroke="#333" stroke-width="1.1" /><line x1="982.9" y1="1521.4" x2="1055.6" y2="1521.4" stroke="#333" stroke-width="1.1" /><line x1="1019.3" y1="1500.7" x2="1019.3" y2="1521.4" stroke="#333" stroke-width="1.1" /><line x1="911.2" y1="1500.7" x2="1019.3" y2="1500.7" stroke="#333" stroke-width="1.1" /><line x1="1100.6" y1="1532.0" x2="1100.6" y2="1536.0" stroke="#333" stroke-width="1.1" /><line x1="1110.1" y1="1532.0" x2="1110.1" y2="1536.0" stroke="#333" stroke-width="1.1" /><line x1="1100.6" y1="1532.0" x2="1110.1" y2="1532.0" stroke="#333" stroke-width="1.1" /><line x1="1105.3" y1="1526.1" x2="1105.3" y2="1532.0" stroke="#333" stroke-width="1.1" /><line x1="1119.5" y1="1526.1" x2="1119.5" y2="1536.0" stroke="#333" stroke-width="1.1" /><line x1="1105.3" y1="1526.1" x2="1119.5" y2="1526.1" stroke="#333" stroke-width="1.1" /><line x1="1112.4" y1="1508.0" x2="1112.4" y2="1526.1" stroke="#333" stroke-width="1.1" /><line x1="1129.0" y1="1532.0" x2="1129.0" y2="1536.0" stroke="#333" stroke-width="1.1" /><line x1="1138.5" y1="1532.0" x2="1138.5" y2="1536.0" stroke="#333" stroke-width="1.1" /><line x1="1129.0" y1="1532.0" x2="1138.5" y2="1532.0" stroke="#333" stroke-width="1.1" /><line x1="1133.7" y1="1523.6" x2="1133.7" y2="1532.0" stroke="#333" stroke-width="1.1" /><line x1="1147.9" y1="1523.6" x2="1147.9" y2="1536.0" stroke="#333" stroke-width="1.1" /><line x1="1133.7" y1="1523.6" x2="1147.9" y2="1523.6" stroke="#333" stroke-width="1.1" /><line x1="1140.8" y1="1508.0" x2="1140.8" y2="1523.6" stroke="#333" stroke-width="1.1" /><line x1="1112.4" y1="1508.0" x2="1140.8" y2="1508.0" stroke="#333" stroke-width="1.1" /><line x1="1157.4" y1="1531.1" x2="1157.4" y2="1536.0" stroke="#333" stroke-width="1.1" /><line x1="1166.9" y1="1531.1" x2="1166.9" y2="1536.0" stroke="#333" stroke-width="1.1" /><line x1="1157.4" y1="1531.1" x2="1166.9" y2="1531.1" stroke="#333" stroke-width="1.1" /><line x1="1162.1" y1="1512.0" x2="1162.1" y2="1531.1" stroke="#333" stroke-width="1.1" /><line x1="1176.4" y1="1527.3" x2="1176.4" y2="1536.0" stroke="#333" stroke-width="1.1" /><line x1="1185.8" y1="1532.0" x2="1185.8" y2="1536.0" stroke="#333" stroke-width="1.1" /><line x1="1195.3" y1="1532.0" x2="1195.3" y2="1536.0" stroke="#333" stroke-width="1.1" /><line x1="1185.8" y1="1532.0" x2="1195.3" y2="1532.0" stroke="#333" stroke-width="1.1" /><line x1="1190.6" y1="1532.0" x2="1190.6" y2="1532.0" stroke="#333" stroke-width="1.1" /><line x1="1204.8" y1="1532.0" x2="1204.8" y2="1536.0" stroke="#333" stroke-width="1.1" /><line x1="1190.6" y1="1532.0" x2="1204.8" y2="1532.0" stroke="#333" stroke-width="1.1" /><line x1="1197.7" y1="1527.3" x2="1197.7" y2="1532.0" stroke="#333" stroke-width="1.1" /><line x1="1176.4" y1="1527.3" x2="1197.7" y2="1527.3" stroke="#333" stroke-width="1.1" /><line x1="1187.0" y1="1512.0" x2="1187.0" y2="1527.3" stroke="#333" stroke-width="1.1" /><line x1="1162.1" y1="1512.0" x2="1187.0" y2="1512.0" stroke="#333" stroke-width="1.1" /><line x1="1126.6" y1="1498.8" x2="1174.6" y2="1498.8" stroke="#333" stroke-width="1.1" /><line x1="1126.6" y1="1498.8" x2="1126.6" y2="1508.0" stroke="#333" stroke-width="1.1" /><line x1="1174.6" y1="1498.8" x2="1174.6" y2="1512.0" stroke="#333" stroke-width="1.1" /><line x1="1091.1" y1="1467.0" x2="1150.6" y2="1467.0" stroke="#333" stroke-width="1.1" /><line x1="1091.1" y1="1467.0" x2="1091.1" y2="1536.0" stroke="#333" stroke-width="1.1" /><line x1="1150.6" y1="1467.0" x2="1150.6" y2="1498.8" stroke="#333" stroke-width="1.1" /><line x1="965.2" y1="1443.4" x2="1120.9" y2="1443.4" stroke="#333" stroke-width="1.1" /><line x1="965.2" y1="1443.4" x2="965.2" y2="1500.7" stroke="#333" stroke-width="1.1" /><line x1="1120.9" y1="1443.4" x2="1120.9" y2="1467.0" stroke="#333" stroke-width="1.1" /><line x1="356.6" y1="1344.0" x2="1043.0" y2="1344.0" stroke="#333" stroke-width="1.1" /><line x1="356.6" y1="1344.0" x2="356.6" y2="1457.3" stroke="#333" stroke-width="1.1" /><line x1="1043.0" y1="1344.0" x2="1043.0" y2="1443.4" stroke="#333" stroke-width="1.1" /></g>
<g shape-rendering="crispEdges"><path fill="#0a2dfa" d="M101.4 1539.5h9.8v5.6h-9.8zM110.9 1539.5h9.8v3.1h-9.8zM120.3 1539.5h9.8v4.0h-9.8zM129.8 1539.5h9.8v4.8h-9.8zM139.3 1539.5h9.8v2.3h-9.8zM148.8 1539.5h9.8v2.3h-9.8zM158.2 1539.5h9.8v3.1h-9.8zM167.7 1539.5h9.8v0.9h-9.8zM177.2 1539.5h9.8v3.1h-9.8zM186.6 1539.5h9.8v5.3h-9.8zM196.1 1539.5h9.8v4.0h-9.8zM205.6 1539.5h9.8v1.4h-9.8zM215.1 1539.5h9.8v0.6h-9.8zM224.5 1539.5h9.8v0.2h-9.8zM234.0 1539.5h9.8v0.2h-9.8zM243.5 1539.5h9.8v0.2h-9.8zM252.9 1539.5h9.8v2.3h-9.8zM262.4 1539.5h9.8v1.9h-9.8zM271.9 1539.5h9.8v0.2h-9.8zM281.3 1539.5h9.8v0.2h-9.8zM290.8 1539.5h9.8v0.2h-9.8zM300.3 1539.5h9.8v0.2h-9.8zM309.8 1539.5h9.8v0.2h-9.8zM319.2 1539.5h9.8v0.2h-9.8zM328.7 1539.5h9.8v0.2h-9.8zM338.2 1539.5h9.8v0.2h-9.8zM347.6 1539.5h9.8v0.2h-9.8zM357.1 1539.5h9.8v0.2h-9.8zM366.6 1539.5h9.8v0.2h-9.8zM376.1 1539.5h9.8v0.2h-9.8zM385.5 1539.5h9.8v0.2h-9.8zM395.0 1539.5h9.8v0.1h-9.8zM404.5 1539.5h9.8v0.1h-9.8zM413.9 1539.5h9.8v0.1h-9.8zM423.4 1539.5h9.8v0.1h-9.8zM432.9 1539.5h9.8v0.1h-9.8zM442.4 1539.5h9.8v0.1h-9.8zM451.8 1539.5h9.8v0.1h-9.8zM461.3 1539.5h9.8v0.1h-9.8zM470.8 1539.5h9.8v0.1h-9.8zM480.2 1539.5h9.8v0.1h-9.8zM489.7 1539.5h9.8v0.1h-9.8zM499.2 1539.5h9.8v0.1h-9.8zM508.7 1539.5h9.8v0.1h-9.8zM518.1 1539.5h9.8v0.1h-9.8zM527.6 1539.5h9.8v0.1h-9.8zM537.1 1539.5h9.8v0.1h-9.8zM546.5 1539.5h9.8v0.1h-9.8zM556.0 1539.5h9.8v0.1h-9.8zM565.5 1539.5h9.8v0.1h-9.8zM574.9 1539.5h9.8v0.1h-9.8zM584.4 1539.5h9.8v0.1h-9.8zM593.9 1539.5h9.8v0.1h-9.8zM603.4 1539.5h9.8v0.1h-9.8zM612.8 1539.5h9.8v0.1h-9.8zM622.3 1539.5h9.8v0.1h-9.8zM631.8 1539.5h9.8v0.1h-9.8zM641.2 1539.5h9.8v0.1h-9.8zM650.7 1539.5h9.8v0.1h-9.8zM660.2 1539.5h9.8v0.1h-9.8zM669.7 1539.5h9.8v0.1h-9.8zM679.1 1539.5h9.8v0.1h-9.8zM688.6 1539.5h9.8v0.1h-9.8zM698.1 1539.5h9.8v0.1h-9.8zM707.5 1539.5h9.8v0.1h-9.8zM717.0 1539.5h9.8v0.1h-9.8zM726.5 1539.5h9.8v0.1h-9.8zM736.0 1539.5h9.8v0.1h-9.8zM745.4 1539.5h9.8v0.2h-9.8zM811.7 1539.5h9.8v0.2h-9.8zM821.2 1539.5h9.8v0.2h-9.8zM830.7 1539.5h9.8v0.2h-9.8zM840.1 1539.5h9.8v0.2h-9.8zM849.6 1539.5h9.8v0.2h-9.8zM859.1 1539.5h9.8v1.4h-9.8zM868.5 1539.5h9.8v4.0h-9.8zM878.0 1539.5h9.8v1.9h-9.8zM887.5 1539.5h9.8v2.6h-9.8zM897.0 1539.5h9.8v0.6h-9.8zM906.4 1539.5h9.8v0.2h-9.8zM915.9 1539.5h9.8v5.6h-9.8zM925.4 1539.5h9.8v3.1h-9.8zM934.8 1539.5h9.8v2.3h-9.8zM944.3 1539.5h9.8v3.6h-9.8zM953.8 1539.5h9.8v1.7h-9.8zM963.3 1539.5h9.8v1.7h-9.8zM972.7 1539.5h9.8v1.7h-9.8zM982.2 1539.5h9.8v1.7h-9.8zM991.7 1539.5h9.8v6.4h-9.8zM1001.1 1539.5h9.8v2.5h-9.8zM1010.6 1539.5h9.8v1.7h-9.8zM1020.1 1539.5h9.8v1.7h-9.8zM1029.6 1539.5h9.8v2.5h-9.8zM1039.0 1539.5h9.8v3.3h-9.8zM1048.5 1539.5h9.8v1.4h-9.8zM1058.0 1539.5h9.8v2.5h-9.8zM1067.4 1539.5h9.8v0.9h-9.8zM1076.9 1539.5h9.8v0.8h-9.8zM1086.4 1539.5h9.8v0.8h-9.8zM1095.8 1539.5h9.8v3.3h-9.8zM1105.3 1539.5h9.8v1.7h-9.8zM1114.8 1539.5h9.8v1.4h-9.8zM1124.3 1539.5h9.8v2.0h-9.8zM1133.7 1539.5h9.8v1.7h-9.8zM1143.2 1539.5h9.8v2.5h-9.8zM1152.7 1539.5h9.8v1.7h-9.8zM1162.1 1539.5h9.8v2.5h-9.8zM1171.6 1539.5h9.8v4.8h-9.8zM1181.1 1539.5h9.8v4.0h-9.8zM1190.6 1539.5h9.8v2.5h-9.8zM1200.0 1539.5h9.8v4.5h-9.8z"/><path fill="#fc2a00" d="M101.4 1545.1h9.8v22.8h-9.8zM110.9 1542.6h9.8v10.1h-9.8zM129.8 1544.3h9.8v7.6h-9.8zM139.3 1541.8h9.8v10.1h-9.8zM148.8 1541.8h9.8v3.7h-9.8zM158.2 1542.6h9.8v10.1h-9.8zM167.7 1540.4h9.8v2.2h-9.8zM177.2 1542.6h9.8v1.2h-9.8zM243.5 1539.7h9.8v4.6h-9.8zM300.3 1539.7h9.8v0.7h-9.8zM338.2 1539.7h9.8v1.2h-9.8zM357.1 1539.7h9.8v2.4h-9.8zM480.2 1539.6h9.8v0.7h-9.8zM679.1 1539.6h9.8v0.5h-9.8zM745.4 1539.7h9.8v15.2h-9.8zM754.9 1539.5h9.8v12.8h-9.8zM764.4 1539.5h9.8v11.1h-9.8zM773.8 1539.5h9.8v12.4h-9.8zM783.3 1539.5h9.8v5.3h-9.8zM802.2 1539.5h9.8v1.4h-9.8zM811.7 1539.7h9.8v3.4h-9.8zM821.2 1539.7h9.8v2.4h-9.8zM830.7 1539.7h9.8v1.7h-9.8zM868.5 1543.5h9.8v1.7h-9.8zM878.0 1541.4h9.8v2.9h-9.8zM887.5 1542.1h9.8v2.7h-9.8zM897.0 1540.1h9.8v3.0h-9.8zM906.4 1539.7h9.8v21.5h-9.8zM925.4 1542.6h9.8v3.4h-9.8zM953.8 1541.2h9.8v1.2h-9.8zM963.3 1541.2h9.8v0.8h-9.8zM982.2 1541.2h9.8v7.4h-9.8zM991.7 1545.9h9.8v8.5h-9.8zM1001.1 1542.0h9.8v8.5h-9.8zM1010.6 1541.2h9.8v7.4h-9.8zM1020.1 1541.2h9.8v3.1h-9.8zM1029.6 1542.0h9.8v4.7h-9.8zM1039.0 1542.8h9.8v5.0h-9.8zM1048.5 1540.9h9.8v1.6h-9.8zM1067.4 1540.4h9.8v1.1h-9.8zM1076.9 1540.3h9.8v3.3h-9.8zM1086.4 1540.3h9.8v56.4h-9.8zM1095.8 1542.8h9.8v5.0h-9.8zM1105.3 1541.2h9.8v5.4h-9.8zM1114.8 1540.9h9.8v5.7h-9.8zM1133.7 1541.2h9.8v1.9h-9.8zM1143.2 1542.0h9.8v2.0h-9.8zM1162.1 1542.0h9.8v24.8h-9.8zM1171.6 1544.3h9.8v11.6h-9.8zM1181.1 1543.5h9.8v6.2h-9.8zM1190.6 1542.0h9.8v4.7h-9.8zM1200.0 1544.0h9.8v3.1h-9.8z"/><path fill="#1a93fa" d="M101.4 1568.0h9.8v41.4h-9.8zM110.9 1552.8h9.8v35.5h-9.8zM120.3 1543.5h9.8v37.2h-9.8zM129.8 1551.9h9.8v37.5h-9.8zM139.3 1551.9h9.8v14.4h-9.8zM148.8 1545.5h9.8v19.1h-9.8zM158.2 1552.8h9.8v22.0h-9.8zM167.7 1542.6h9.8v24.5h-9.8zM177.2 1543.8h9.8v23.3h-9.8zM186.6 1544.8h9.8v22.0h-9.8zM196.1 1543.5h9.8v25.4h-9.8zM205.6 1540.9h9.8v6.8h-9.8zM215.1 1540.1h9.8v8.8h-9.8zM224.5 1539.7h9.8v5.8h-9.8zM234.0 1539.7h9.8v6.3h-9.8zM243.5 1544.3h9.8v8.5h-9.8zM252.9 1541.8h9.8v11.8h-9.8zM262.4 1541.4h9.8v3.4h-9.8zM271.9 1539.7h9.8v3.4h-9.8zM281.3 1539.7h9.8v2.9h-9.8zM290.8 1539.7h9.8v3.7h-9.8zM300.3 1540.4h9.8v3.9h-9.8zM309.8 1539.7h9.8v4.6h-9.8zM319.2 1539.7h9.8v4.1h-9.8zM328.7 1539.7h9.8v2.9h-9.8zM338.2 1540.9h9.8v2.2h-9.8zM347.6 1539.7h9.8v3.7h-9.8zM357.1 1542.1h9.8v3.4h-9.8zM376.1 1543.5h9.8v0.8h-9.8zM395.0 1539.6h9.8v1.9h-9.8zM413.9 1539.6h9.8v0.8h-9.8zM423.4 1539.6h9.8v0.5h-9.8zM432.9 1539.6h9.8v0.7h-9.8zM442.4 1540.1h9.8v0.5h-9.8zM451.8 1539.6h9.8v1.0h-9.8zM470.8 1539.6h9.8v0.5h-9.8zM508.7 1539.6h9.8v0.7h-9.8zM537.1 1539.6h9.8v0.7h-9.8zM584.4 1539.6h9.8v0.3h-9.8zM593.9 1539.6h9.8v0.3h-9.8zM612.8 1539.6h9.8v0.5h-9.8zM622.3 1539.6h9.8v1.9h-9.8zM631.8 1539.6h9.8v2.2h-9.8zM641.2 1539.6h9.8v1.9h-9.8zM650.7 1539.6h9.8v1.5h-9.8zM669.7 1539.6h9.8v1.2h-9.8zM698.1 1539.6h9.8v0.5h-9.8zM717.0 1539.6h9.8v0.7h-9.8zM726.5 1539.6h9.8v1.9h-9.8zM745.4 1555.0h9.8v9.1h-9.8zM754.9 1552.3h9.8v5.1h-9.8zM764.4 1550.6h9.8v3.4h-9.8zM773.8 1551.9h9.8v0.8h-9.8zM783.3 1544.8h9.8v5.4h-9.8zM792.8 1546.0h9.8v3.4h-9.8zM802.2 1546.8h9.8v2.0h-9.8zM811.7 1549.9h9.8v2.0h-9.8zM821.2 1551.1h9.8v2.2h-9.8zM830.7 1547.2h9.8v4.7h-9.8zM840.1 1547.7h9.8v4.2h-9.8zM849.6 1555.0h9.8v5.1h-9.8zM859.1 1556.1h9.8v2.2h-9.8zM868.5 1557.8h9.8v6.8h-9.8zM878.0 1555.0h9.8v3.4h-9.8zM887.5 1556.6h9.8v5.8h-9.8zM897.0 1556.1h9.8v3.9h-9.8zM906.4 1584.0h9.8v2.0h-9.8zM915.9 1563.4h9.8v15.2h-9.8zM925.4 1565.1h9.8v11.3h-9.8zM934.8 1568.0h9.8v8.5h-9.8zM944.3 1568.8h9.8v8.1h-9.8zM953.8 1570.3h9.8v3.4h-9.8zM963.3 1562.1h9.8v3.6h-9.8zM972.7 1563.7h9.8v3.6h-9.8zM982.2 1574.5h9.8v3.9h-9.8zM991.7 1592.7h9.8v13.6h-9.8zM1001.1 1580.0h9.8v9.0h-9.8zM1010.6 1583.1h9.8v12.4h-9.8zM1020.1 1582.7h9.8v17.1h-9.8zM1029.6 1590.8h9.8v15.5h-9.8zM1039.0 1580.0h9.8v11.2h-9.8zM1048.5 1575.6h9.8v11.3h-9.8zM1058.0 1573.4h9.8v11.5h-9.8zM1067.4 1575.6h9.8v3.6h-9.8zM1076.9 1577.6h9.8v8.2h-9.8zM1095.8 1604.0h9.8v8.5h-9.8zM1105.3 1604.0h9.8v7.8h-9.8zM1114.8 1605.5h9.8v10.9h-9.8zM1124.3 1595.5h9.8v13.2h-9.8zM1133.7 1593.6h9.8v7.3h-9.8zM1143.2 1597.8h9.8v5.4h-9.8zM1152.7 1597.3h9.8v5.9h-9.8zM1162.1 1635.4h9.8v15.0h-9.8zM1171.6 1635.4h9.8v24.8h-9.8zM1181.1 1617.5h9.8v18.3h-9.8zM1190.6 1621.5h9.8v10.4h-9.8zM1200.0 1619.9h9.8v15.0h-9.8z"/><path fill="#f7827a" d="M101.4 1609.4h9.8v23.7h-9.8zM110.9 1595.0h9.8v7.9h-9.8zM129.8 1589.5h9.8v3.4h-9.8zM139.3 1566.3h9.8v3.4h-9.8zM148.8 1564.6h9.8v5.1h-9.8zM158.2 1574.7h9.8v5.9h-9.8zM167.7 1567.1h9.8v4.7h-9.8zM177.2 1567.1h9.8v3.7h-9.8zM205.6 1548.2h9.8v2.9h-9.8zM234.0 1546.0h9.8v1.7h-9.8zM243.5 1552.8h9.8v3.4h-9.8zM252.9 1555.0h9.8v2.9h-9.8zM262.4 1544.8h9.8v0.7h-9.8zM319.2 1545.5h9.8v2.2h-9.8zM357.1 1545.5h9.8v1.7h-9.8zM366.6 1539.7h9.8v2.9h-9.8zM385.5 1543.1h9.8v0.7h-9.8zM395.0 1541.4h9.8v0.7h-9.8zM404.5 1543.5h9.8v0.8h-9.8zM413.9 1540.4h9.8v0.7h-9.8zM461.3 1539.6h9.8v0.7h-9.8zM480.2 1540.2h9.8v0.3h-9.8zM489.7 1539.6h9.8v0.7h-9.8zM518.1 1539.6h9.8v0.7h-9.8zM527.6 1539.6h9.8v0.5h-9.8zM556.0 1540.1h9.8v0.3h-9.8zM574.9 1539.6h9.8v0.7h-9.8zM641.2 1541.4h9.8v0.7h-9.8zM650.7 1541.1h9.8v0.7h-9.8zM660.2 1539.6h9.8v1.2h-9.8zM679.1 1540.1h9.8v1.0h-9.8zM688.6 1539.6h9.8v0.7h-9.8zM707.5 1539.6h9.8v0.5h-9.8zM745.4 1564.1h9.8v12.3h-9.8zM754.9 1557.3h9.8v11.2h-9.8zM764.4 1553.9h9.8v13.2h-9.8zM773.8 1552.8h9.8v7.3h-9.8zM783.3 1550.2h9.8v6.8h-9.8zM802.2 1548.9h9.8v2.7h-9.8zM821.2 1553.3h9.8v2.0h-9.8zM830.7 1551.9h9.8v0.8h-9.8zM840.1 1551.9h9.8v0.8h-9.8zM859.1 1558.3h9.8v0.7h-9.8zM868.5 1564.6h9.8v3.4h-9.8zM878.0 1558.3h9.8v5.8h-9.8zM887.5 1562.4h9.8v1.7h-9.8zM897.0 1560.0h9.8v2.4h-9.8zM906.4 1586.1h9.8v34.3h-9.8zM925.4 1576.4h9.8v5.1h-9.8zM934.8 1576.4h9.8v0.8h-9.8zM953.8 1577.2h9.8v5.9h-9.8zM963.3 1565.7h9.8v2.2h-9.8zM972.7 1567.2h9.8v1.6h-9.8zM982.2 1578.4h9.8v14.3h-9.8zM991.7 1606.3h9.8v12.4h-9.8zM1001.1 1588.9h9.8v10.4h-9.8zM1010.6 1595.5h9.8v12.1h-9.8zM1020.1 1599.8h9.8v2.2h-9.8zM1029.6 1606.3h9.8v5.0h-9.8zM1048.5 1586.9h9.8v2.3h-9.8zM1067.4 1579.2h9.8v5.7h-9.8zM1076.9 1585.8h9.8v6.8h-9.8zM1086.4 1662.4h9.8v58.6h-9.8zM1095.8 1612.5h9.8v14.3h-9.8zM1105.3 1611.7h9.8v5.4h-9.8zM1114.8 1616.4h9.8v6.2h-9.8zM1133.7 1600.9h9.8v3.1h-9.8zM1143.2 1603.2h9.8v6.2h-9.8zM1152.7 1603.2h9.8v3.4h-9.8zM1171.6 1660.3h9.8v23.6h-9.8zM1181.1 1635.8h9.8v4.7h-9.8zM1190.6 1631.9h9.8v10.9h-9.8zM1200.0 1635.0h9.8v6.7h-9.8z"/><path fill="#2a9090" d="M110.9 1588.3h9.8v6.8h-9.8zM404.5 1541.8h9.8v1.7h-9.8zM622.3 1541.4h9.8v0.3h-9.8zM631.8 1541.8h9.8v0.7h-9.8z"/><path fill="#d683fa" d="M120.3 1580.7h9.8v10.1h-9.8zM129.8 1592.8h9.8v7.3h-9.8zM167.7 1571.9h9.8v4.1h-9.8zM177.2 1570.9h9.8v4.4h-9.8zM186.6 1566.8h9.8v2.9h-9.8zM196.1 1568.8h9.8v7.1h-9.8zM546.5 1539.6h9.8v0.7h-9.8zM556.0 1539.6h9.8v0.5h-9.8zM736.0 1539.6h9.8v2.5h-9.8zM792.8 1549.4h9.8v3.9h-9.8zM811.7 1551.9h9.8v2.5h-9.8zM868.5 1568.0h9.8v5.6h-9.8zM915.9 1581.5h9.8v6.8h-9.8zM925.4 1581.5h9.8v5.1h-9.8zM944.3 1576.9h9.8v3.7h-9.8zM1020.1 1602.0h9.8v6.7h-9.8zM1039.0 1591.1h9.8v10.9h-9.8z"/><path fill="#248c10" d="M205.6 1547.7h9.8v0.5h-9.8zM215.1 1548.9h9.8v1.0h-9.8zM252.9 1553.6h9.8v1.4h-9.8zM319.2 1543.8h9.8v1.7h-9.8zM376.1 1544.3h9.8v1.2h-9.8zM442.4 1539.6h9.8v0.5h-9.8zM499.2 1539.6h9.8v0.5h-9.8zM603.4 1539.6h9.8v0.5h-9.8zM915.9 1578.6h9.8v2.9h-9.8zM953.8 1573.8h9.8v3.4h-9.8z"/><path fill="#4cfc0a" d="M376.1 1539.7h9.8v3.7h-9.8zM385.5 1539.7h9.8v3.4h-9.8zM404.5 1539.6h9.8v2.2h-9.8zM565.5 1539.6h9.8v0.7h-9.8zM792.8 1539.5h9.8v6.5h-9.8zM802.2 1540.9h9.8v5.9h-9.8zM811.7 1543.1h9.8v6.8h-9.8zM821.2 1542.1h9.8v9.0h-9.8zM830.7 1541.4h9.8v5.8h-9.8zM840.1 1539.7h9.8v7.9h-9.8zM849.6 1539.7h9.8v15.2h-9.8zM859.1 1540.9h9.8v15.2h-9.8zM868.5 1545.1h9.8v12.7h-9.8zM878.0 1544.3h9.8v10.7h-9.8zM887.5 1544.8h9.8v11.8h-9.8zM897.0 1543.1h9.8v13.0h-9.8zM906.4 1561.2h9.8v22.8h-9.8zM915.9 1545.1h9.8v18.3h-9.8zM925.4 1546.0h9.8v19.1h-9.8zM934.8 1541.8h9.8v26.2h-9.8zM944.3 1543.1h9.8v25.7h-9.8zM953.8 1542.4h9.8v27.9h-9.8zM963.3 1542.0h9.8v20.2h-9.8zM972.7 1541.2h9.8v22.5h-9.8zM982.2 1548.6h9.8v25.9h-9.8zM991.7 1554.4h9.8v38.3h-9.8zM1001.1 1550.5h9.8v29.5h-9.8zM1010.6 1548.6h9.8v34.4h-9.8zM1020.1 1544.3h9.8v38.4h-9.8zM1029.6 1546.6h9.8v44.2h-9.8zM1039.0 1547.7h9.8v32.2h-9.8zM1048.5 1542.4h9.8v33.2h-9.8zM1058.0 1542.0h9.8v31.5h-9.8zM1067.4 1541.5h9.8v34.1h-9.8zM1076.9 1543.5h9.8v34.1h-9.8zM1086.4 1596.7h9.8v65.7h-9.8zM1095.8 1547.7h9.8v56.3h-9.8zM1105.3 1546.6h9.8v57.4h-9.8zM1114.8 1546.6h9.8v58.9h-9.8zM1124.3 1541.5h9.8v53.9h-9.8zM1133.7 1543.1h9.8v50.5h-9.8zM1143.2 1544.0h9.8v53.8h-9.8zM1152.7 1541.2h9.8v56.1h-9.8zM1162.1 1566.8h9.8v68.7h-9.8zM1171.6 1555.9h9.8v79.5h-9.8zM1181.1 1549.7h9.8v67.7h-9.8zM1190.6 1546.6h9.8v74.9h-9.8zM1200.0 1547.1h9.8v72.9h-9.8z"/></g>
<g shape-rendering="crispEdges"><path fill="#0a2dfa" d="M101.4 1733.1h9.8v12.8h-9.8zM110.9 1733.1h9.8v10.9h-9.8zM120.3 1733.1h9.8v16.3h-9.8zM129.8 1733.1h9.8v18.2h-9.8zM139.3 1733.1h9.8v17.2h-9.8zM148.8 1733.1h9.8v11.8h-9.8zM158.2 1733.1h9.8v18.2h-9.8zM167.7 1733.1h9.8v2.7h-9.8zM177.2 1733.1h9.8v17.2h-9.8zM186.6 1733.1h9.8v37.9h-9.8zM196.1 1733.1h9.8v23.0h-9.8zM205.6 1733.1h9.8v24.7h-9.8zM215.1 1733.1h9.8v8.2h-9.8zM224.5 1733.1h9.8v16.5h-9.8zM234.0 1733.1h9.8v16.5h-9.8zM243.5 1733.1h9.8v14.5h-9.8zM252.9 1733.1h9.8v25.7h-9.8zM262.4 1733.1h9.8v50.1h-9.8zM271.9 1733.1h9.8v17.2h-9.8zM281.3 1733.1h9.8v18.2h-9.8zM290.8 1733.1h9.8v34.8h-9.8zM300.3 1733.1h9.8v10.9h-9.8zM309.8 1733.1h9.8v18.2h-9.8zM319.2 1733.1h9.8v13.8h-9.8zM328.7 1733.1h9.8v4.6h-9.8zM338.2 1733.1h9.8v6.0h-9.8zM347.6 1733.1h9.8v18.2h-9.8zM357.1 1733.1h9.8v2.7h-9.8zM366.6 1733.1h9.8v2.7h-9.8zM376.1 1733.1h9.8v16.3h-9.8zM385.5 1733.1h9.8v10.9h-9.8zM395.0 1733.1h9.8v21.3h-9.8zM404.5 1733.1h9.8v23.6h-9.8zM413.9 1733.1h9.8v34.8h-9.8zM423.4 1733.1h9.8v66.3h-9.8zM432.9 1733.1h9.8v49.3h-9.8zM442.4 1733.1h9.8v28.0h-9.8zM451.8 1733.1h9.8v19.9h-9.8zM461.3 1733.1h9.8v0.3h-9.8zM489.7 1733.1h9.8v29.4h-9.8zM499.2 1733.1h9.8v20.9h-9.8zM508.7 1733.1h9.8v88.0h-9.8zM518.1 1733.1h9.8v22.6h-9.8zM527.6 1733.1h9.8v34.8h-9.8zM537.1 1733.1h9.8v32.1h-9.8zM546.5 1733.1h9.8v0.3h-9.8zM565.5 1733.1h9.8v63.2h-9.8zM574.9 1733.1h9.8v188.7h-9.8zM584.4 1733.1h9.8v44.3h-9.8zM593.9 1733.1h9.8v23.6h-9.8zM603.4 1733.1h9.8v35.2h-9.8zM612.8 1733.1h9.8v30.3h-9.8zM622.3 1733.1h9.8v11.8h-9.8zM631.8 1733.1h9.8v4.4h-9.8zM650.7 1733.1h9.8v31.7h-9.8zM660.2 1733.1h9.8v27.6h-9.8zM669.7 1733.1h9.8v25.7h-9.8zM679.1 1733.1h9.8v10.5h-9.8zM688.6 1733.1h9.8v33.9h-9.8zM698.1 1733.1h9.8v24.9h-9.8zM707.5 1733.1h9.8v18.2h-9.8zM717.0 1733.1h9.8v3.7h-9.8zM726.5 1733.1h9.8v25.7h-9.8zM736.0 1733.1h9.8v24.0h-9.8zM745.4 1733.1h9.8v5.5h-9.8zM754.9 1733.1h9.8v1.9h-9.8zM764.4 1733.1h9.8v4.6h-9.8zM773.8 1733.1h9.8v1.0h-9.8zM783.3 1733.1h9.8v9.1h-9.8zM792.8 1733.1h9.8v13.8h-9.8zM802.2 1733.1h9.8v12.5h-9.8zM811.7 1733.1h9.8v24.4h-9.8zM821.2 1733.1h9.8v9.1h-9.8zM830.7 1733.1h9.8v18.2h-9.8zM840.1 1733.1h9.8v12.5h-9.8zM849.6 1733.1h9.8v9.8h-9.8zM859.1 1733.1h9.8v16.3h-9.8zM868.5 1733.1h9.8v26.3h-9.8zM878.0 1733.1h9.8v15.5h-9.8zM887.5 1733.1h9.8v29.4h-9.8zM897.0 1733.1h9.8v13.8h-9.8zM906.4 1733.1h9.8v4.4h-9.8zM915.9 1733.1h9.8v25.3h-9.8zM925.4 1733.1h9.8v14.9h-9.8zM934.8 1733.1h9.8v12.5h-9.8zM944.3 1733.1h9.8v15.9h-9.8zM953.8 1733.1h9.8v4.6h-9.8zM963.3 1733.1h9.8v8.4h-9.8zM972.7 1733.1h9.8v6.4h-9.8zM982.2 1733.1h9.8v5.5h-9.8zM991.7 1733.1h9.8v18.2h-9.8zM1001.1 1733.1h9.8v9.8h-9.8zM1010.6 1733.1h9.8v5.7h-9.8zM1020.1 1733.1h9.8v6.4h-9.8zM1029.6 1733.1h9.8v6.9h-9.8zM1039.0 1733.1h9.8v14.2h-9.8zM1048.5 1733.1h9.8v7.3h-9.8zM1058.0 1733.1h9.8v13.7h-9.8zM1067.4 1733.1h9.8v5.3h-9.8zM1076.9 1733.1h9.8v2.8h-9.8zM1086.4 1733.1h9.8v1.9h-9.8zM1095.8 1733.1h9.8v9.1h-9.8zM1105.3 1733.1h9.8v5.3h-9.8zM1114.8 1733.1h9.8v5.3h-9.8zM1124.3 1733.1h9.8v7.6h-9.8zM1133.7 1733.1h9.8v8.2h-9.8zM1143.2 1733.1h9.8v6.9h-9.8zM1152.7 1733.1h9.8v7.3h-9.8zM1162.1 1733.1h9.8v4.0h-9.8zM1171.6 1733.1h9.8v7.6h-9.8zM1181.1 1733.1h9.8v6.9h-9.8zM1190.6 1733.1h9.8v6.9h-9.8zM1200.0 1733.1h9.8v8.6h-9.8z"/><path fill="#fc2a00" d="M101.4 1745.9h9.8v45.5h-9.8zM110.9 1744.0h9.8v30.0h-9.8zM129.8 1751.3h9.8v20.0h-9.8zM139.3 1750.3h9.8v61.6h-9.8zM148.8 1744.9h9.8v25.0h-9.8zM158.2 1751.3h9.8v41.4h-9.8zM167.7 1735.8h9.8v17.6h-9.8zM177.2 1750.3h9.8v13.5h-9.8zM205.6 1757.8h9.8v9.2h-9.8zM215.1 1741.3h9.8v13.8h-9.8zM224.5 1749.6h9.8v18.7h-9.8zM234.0 1749.6h9.8v14.6h-9.8zM243.5 1747.6h9.8v43.7h-9.8zM252.9 1758.8h9.8v15.4h-9.8zM262.4 1783.2h9.8v22.2h-9.8zM271.9 1750.3h9.8v43.3h-9.8zM281.3 1751.3h9.8v15.7h-9.8zM290.8 1767.9h9.8v30.2h-9.8zM300.3 1744.0h9.8v58.2h-9.8zM309.8 1751.3h9.8v36.5h-9.8zM319.2 1746.9h9.8v29.1h-9.8zM328.7 1737.7h9.8v25.4h-9.8zM338.2 1739.1h9.8v59.0h-9.8zM347.6 1751.3h9.8v53.2h-9.8zM357.1 1735.8h9.8v87.1h-9.8zM366.6 1735.8h9.8v100.6h-9.8zM385.5 1744.0h9.8v16.2h-9.8zM395.0 1754.4h9.8v12.2h-9.8zM413.9 1767.9h9.8v21.0h-9.8zM451.8 1753.0h9.8v33.8h-9.8zM470.8 1733.1h9.8v77.2h-9.8zM480.2 1733.1h9.8v33.9h-9.8zM508.7 1821.1h9.8v25.7h-9.8zM518.1 1755.7h9.8v55.1h-9.8zM527.6 1767.9h9.8v67.6h-9.8zM641.2 1733.1h9.8v10.9h-9.8zM660.2 1760.7h9.8v23.0h-9.8zM669.7 1758.8h9.8v18.5h-9.8zM679.1 1743.6h9.8v48.0h-9.8zM688.6 1767.0h9.8v43.8h-9.8zM698.1 1758.0h9.8v51.1h-9.8zM707.5 1751.3h9.8v39.6h-9.8zM717.0 1736.8h9.8v62.9h-9.8zM726.5 1758.8h9.8v31.7h-9.8zM736.0 1757.1h9.8v15.3h-9.8zM745.4 1738.6h9.8v72.6h-9.8zM754.9 1735.0h9.8v81.2h-9.8zM764.4 1737.7h9.8v72.5h-9.8zM773.8 1734.1h9.8v112.7h-9.8zM783.3 1742.2h9.8v51.4h-9.8zM792.8 1746.9h9.8v8.1h-9.8zM802.2 1745.6h9.8v27.7h-9.8zM811.7 1757.5h9.8v25.3h-9.8zM821.2 1742.2h9.8v32.9h-9.8zM830.7 1751.3h9.8v14.9h-9.8zM840.1 1745.6h9.8v5.4h-9.8zM859.1 1749.4h9.8v9.5h-9.8zM868.5 1759.4h9.8v10.8h-9.8zM878.0 1748.6h9.8v31.5h-9.8zM887.5 1762.5h9.8v18.5h-9.8zM897.0 1746.9h9.8v24.6h-9.8zM906.4 1737.5h9.8v47.3h-9.8zM925.4 1748.0h9.8v13.8h-9.8zM934.8 1745.6h9.8v7.4h-9.8zM944.3 1749.0h9.8v8.1h-9.8zM953.8 1737.7h9.8v17.3h-9.8zM963.3 1741.5h9.8v14.9h-9.8zM972.7 1739.5h9.8v7.4h-9.8zM982.2 1738.6h9.8v31.7h-9.8zM991.7 1751.3h9.8v19.8h-9.8zM1001.1 1742.9h9.8v27.7h-9.8zM1010.6 1738.8h9.8v21.4h-9.8zM1020.1 1739.5h9.8v8.1h-9.8zM1029.6 1740.0h9.8v14.0h-9.8zM1039.0 1747.3h9.8v11.8h-9.8zM1048.5 1740.4h9.8v7.6h-9.8zM1067.4 1738.4h9.8v10.9h-9.8zM1076.9 1735.9h9.8v16.0h-9.8zM1086.4 1735.0h9.8v57.1h-9.8zM1095.8 1742.2h9.8v10.9h-9.8zM1105.3 1738.4h9.8v14.0h-9.8zM1114.8 1738.4h9.8v14.3h-9.8zM1133.7 1741.3h9.8v5.7h-9.8zM1143.2 1740.0h9.8v4.7h-9.8zM1152.7 1740.4h9.8v4.3h-9.8zM1162.1 1737.1h9.8v44.1h-9.8zM1171.6 1740.7h9.8v14.6h-9.8zM1181.1 1740.0h9.8v14.3h-9.8zM1190.6 1740.0h9.8v6.7h-9.8zM1200.0 1741.7h9.8v6.3h-9.8z"/><path fill="#1a93fa" d="M101.4 1791.3h9.8v83.1h-9.8zM110.9 1774.0h9.8v101.5h-9.8zM120.3 1749.4h9.8v133.9h-9.8zM129.8 1771.3h9.8v116.1h-9.8zM139.3 1811.9h9.8v87.9h-9.8zM148.8 1769.9h9.8v111.6h-9.8zM158.2 1792.7h9.8v100.6h-9.8zM167.7 1753.4h9.8v116.3h-9.8zM177.2 1763.8h9.8v114.0h-9.8zM186.6 1771.0h9.8v126.1h-9.8zM196.1 1756.1h9.8v125.4h-9.8zM205.6 1767.0h9.8v83.5h-9.8zM215.1 1755.1h9.8v116.6h-9.8zM224.5 1768.3h9.8v128.8h-9.8zM234.0 1764.3h9.8v105.5h-9.8zM243.5 1791.3h9.8v93.9h-9.8zM252.9 1774.3h9.8v106.9h-9.8zM262.4 1805.4h9.8v82.5h-9.8zM271.9 1793.6h9.8v128.2h-9.8zM281.3 1767.0h9.8v138.5h-9.8zM290.8 1798.1h9.8v105.5h-9.8zM300.3 1802.1h9.8v104.2h-9.8zM309.8 1787.8h9.8v123.9h-9.8zM319.2 1776.0h9.8v54.5h-9.8zM328.7 1763.2h9.8v98.1h-9.8zM338.2 1798.1h9.8v64.5h-9.8zM347.6 1804.4h9.8v69.0h-9.8zM357.1 1823.0h9.8v46.8h-9.8zM366.6 1836.5h9.8v3.8h-9.8zM376.1 1822.4h9.8v60.1h-9.8zM385.5 1837.8h9.8v16.6h-9.8zM395.0 1856.2h9.8v33.4h-9.8zM404.5 1856.8h9.8v24.4h-9.8zM413.9 1788.9h9.8v120.4h-9.8zM423.4 1799.4h9.8v122.4h-9.8zM432.9 1782.4h9.8v59.3h-9.8zM442.4 1844.1h9.8v77.7h-9.8zM451.8 1786.8h9.8v107.5h-9.8zM461.3 1733.4h9.8v188.4h-9.8zM470.8 1810.3h9.8v11.8h-9.8zM480.2 1767.0h9.8v11.1h-9.8zM489.7 1762.5h9.8v102.1h-9.8zM499.2 1754.0h9.8v167.8h-9.8zM508.7 1846.8h9.8v37.5h-9.8zM518.1 1810.8h9.8v66.3h-9.8zM527.6 1835.5h9.8v86.3h-9.8zM537.1 1765.2h9.8v62.2h-9.8zM584.4 1777.4h9.8v14.5h-9.8zM603.4 1768.3h9.8v104.2h-9.8zM612.8 1763.4h9.8v121.2h-9.8zM622.3 1744.9h9.8v118.6h-9.8zM631.8 1737.5h9.8v159.0h-9.8zM641.2 1744.0h9.8v152.5h-9.8zM650.7 1764.8h9.8v157.0h-9.8zM660.2 1783.7h9.8v124.5h-9.8zM669.7 1777.4h9.8v115.9h-9.8zM679.1 1791.6h9.8v67.4h-9.8zM688.6 1810.8h9.8v70.1h-9.8zM698.1 1809.2h9.8v84.1h-9.8zM707.5 1790.9h9.8v78.9h-9.8zM717.0 1799.7h9.8v64.9h-9.8zM726.5 1790.5h9.8v94.7h-9.8zM736.0 1772.4h9.8v62.8h-9.8zM745.4 1811.2h9.8v48.3h-9.8zM754.9 1816.2h9.8v39.0h-9.8zM764.4 1810.3h9.8v23.0h-9.8zM773.8 1846.8h9.8v9.1h-9.8zM783.3 1793.6h9.8v51.4h-9.8zM792.8 1819.3h9.8v49.4h-9.8zM802.2 1845.0h9.8v33.1h-9.8zM811.7 1852.5h9.8v31.1h-9.8zM821.2 1863.3h9.8v40.3h-9.8zM830.7 1843.7h9.8v48.3h-9.8zM840.1 1838.3h9.8v60.2h-9.8zM849.6 1879.2h9.8v42.6h-9.8zM859.1 1889.7h9.8v23.4h-9.8zM868.5 1835.1h9.8v41.0h-9.8zM878.0 1850.8h9.8v20.8h-9.8zM887.5 1865.3h9.8v42.6h-9.8zM897.0 1864.0h9.8v35.8h-9.8zM906.4 1838.3h9.8v1.8h-9.8zM915.9 1826.1h9.8v58.8h-9.8zM925.4 1835.5h9.8v42.6h-9.8zM934.8 1879.2h9.8v36.5h-9.8zM944.3 1865.7h9.8v33.4h-9.8zM953.8 1865.7h9.8v15.2h-9.8zM963.3 1877.1h9.8v23.8h-9.8zM972.7 1883.8h9.8v24.8h-9.8zM982.2 1855.4h9.8v16.2h-9.8zM991.7 1859.0h9.8v32.7h-9.8zM1001.1 1859.5h9.8v29.5h-9.8zM1010.6 1850.8h9.8v36.5h-9.8zM1020.1 1850.8h9.8v46.3h-9.8zM1029.6 1866.0h9.8v40.6h-9.8zM1039.0 1855.5h9.8v33.6h-9.8zM1048.5 1867.3h9.8v42.7h-9.8zM1058.0 1873.6h9.8v48.2h-9.8zM1067.4 1879.6h9.8v19.4h-9.8zM1076.9 1868.2h9.8v26.0h-9.8zM1095.8 1871.1h9.8v19.0h-9.8zM1105.3 1884.6h9.8v19.9h-9.8zM1114.8 1882.1h9.8v26.0h-9.8zM1124.3 1883.8h9.8v38.0h-9.8zM1133.7 1891.0h9.8v20.3h-9.8zM1143.2 1890.4h9.8v13.3h-9.8zM1152.7 1895.7h9.8v16.2h-9.8zM1162.1 1894.8h9.8v27.0h-9.8zM1171.6 1858.0h9.8v33.9h-9.8zM1181.1 1877.4h9.8v33.5h-9.8zM1190.6 1884.6h9.8v17.4h-9.8zM1200.0 1882.1h9.8v27.3h-9.8z"/><path fill="#f7827a" d="M101.4 1874.4h9.8v47.4h-9.8zM110.9 1896.8h9.8v25.0h-9.8zM129.8 1887.4h9.8v11.8h-9.8zM139.3 1899.8h9.8v22.0h-9.8zM148.8 1881.5h9.8v40.3h-9.8zM158.2 1893.3h9.8v28.5h-9.8zM167.7 1869.8h9.8v25.7h-9.8zM177.2 1877.9h9.8v21.2h-9.8zM205.6 1871.4h9.8v50.4h-9.8zM215.1 1896.0h9.8v25.8h-9.8zM224.5 1897.1h9.8v24.7h-9.8zM234.0 1896.0h9.8v25.8h-9.8zM243.5 1885.2h9.8v36.6h-9.8zM252.9 1900.5h9.8v21.3h-9.8zM262.4 1887.9h9.8v33.9h-9.8zM281.3 1905.5h9.8v16.3h-9.8zM290.8 1903.6h9.8v18.2h-9.8zM300.3 1906.3h9.8v15.5h-9.8zM309.8 1911.7h9.8v10.1h-9.8zM319.2 1863.0h9.8v58.8h-9.8zM328.7 1861.3h9.8v60.5h-9.8zM338.2 1862.6h9.8v59.2h-9.8zM347.6 1873.4h9.8v48.4h-9.8zM357.1 1869.8h9.8v52.0h-9.8zM366.6 1840.3h9.8v81.5h-9.8zM376.1 1896.8h9.8v25.0h-9.8zM385.5 1876.1h9.8v45.7h-9.8zM395.0 1889.7h9.8v32.1h-9.8zM404.5 1904.5h9.8v17.3h-9.8zM413.9 1909.3h9.8v12.5h-9.8zM451.8 1894.4h9.8v27.4h-9.8zM470.8 1822.0h9.8v99.8h-9.8zM480.2 1778.1h9.8v143.7h-9.8zM508.7 1884.2h9.8v37.5h-9.8zM518.1 1877.1h9.8v44.7h-9.8zM565.5 1796.3h9.8v125.5h-9.8zM622.3 1887.9h9.8v33.9h-9.8zM631.8 1896.4h9.8v25.4h-9.8zM641.2 1896.4h9.8v25.4h-9.8zM660.2 1908.2h9.8v13.6h-9.8zM669.7 1893.3h9.8v28.5h-9.8zM679.1 1859.0h9.8v62.8h-9.8zM688.6 1880.9h9.8v40.9h-9.8zM698.1 1893.3h9.8v28.5h-9.8zM707.5 1869.8h9.8v52.0h-9.8zM717.0 1864.6h9.8v57.2h-9.8zM726.5 1885.2h9.8v36.6h-9.8zM736.0 1862.6h9.8v35.6h-9.8zM745.4 1859.5h9.8v62.3h-9.8zM754.9 1855.2h9.8v66.6h-9.8zM764.4 1833.2h9.8v88.6h-9.8zM773.8 1855.8h9.8v66.0h-9.8zM783.3 1845.0h9.8v76.8h-9.8zM792.8 1868.7h9.8v7.4h-9.8zM802.2 1878.2h9.8v43.6h-9.8zM811.7 1883.6h9.8v17.3h-9.8zM821.2 1903.6h9.8v18.2h-9.8zM830.7 1892.0h9.8v29.8h-9.8zM840.1 1898.5h9.8v23.3h-9.8zM859.1 1913.1h9.8v8.7h-9.8zM868.5 1876.1h9.8v20.3h-9.8zM878.0 1871.7h9.8v50.1h-9.8zM887.5 1907.9h9.8v13.9h-9.8zM897.0 1899.8h9.8v22.0h-9.8zM906.4 1840.0h9.8v81.8h-9.8zM925.4 1878.2h9.8v18.9h-9.8zM934.8 1915.8h9.8v6.0h-9.8zM944.3 1899.1h9.8v8.1h-9.8zM953.8 1897.8h9.8v24.0h-9.8zM963.3 1900.9h9.8v20.9h-9.8zM972.7 1908.6h9.8v13.2h-9.8zM982.2 1871.7h9.8v50.1h-9.8zM991.7 1891.7h9.8v30.1h-9.8zM1001.1 1889.0h9.8v32.8h-9.8zM1010.6 1887.4h9.8v34.4h-9.8zM1020.1 1897.1h9.8v8.4h-9.8zM1029.6 1906.6h9.8v15.2h-9.8zM1048.5 1910.0h9.8v11.8h-9.8zM1067.4 1899.0h9.8v22.8h-9.8zM1076.9 1894.2h9.8v27.6h-9.8zM1086.4 1860.2h9.8v61.6h-9.8zM1095.8 1890.1h9.8v31.7h-9.8zM1105.3 1904.6h9.8v17.2h-9.8zM1114.8 1908.1h9.8v13.7h-9.8zM1133.7 1911.3h9.8v10.5h-9.8zM1143.2 1903.7h9.8v18.1h-9.8zM1152.7 1911.9h9.8v9.9h-9.8zM1171.6 1891.9h9.8v29.9h-9.8zM1181.1 1910.9h9.8v10.9h-9.8zM1190.6 1902.0h9.8v19.8h-9.8zM1200.0 1909.4h9.8v12.4h-9.8z"/><path fill="#2a9090" d="M110.9 1875.5h9.8v21.4h-9.8zM215.1 1871.7h9.8v24.4h-9.8zM234.0 1869.8h9.8v26.2h-9.8zM432.9 1877.1h9.8v44.7h-9.8zM584.4 1834.9h9.8v86.9h-9.8zM612.8 1902.2h9.8v19.6h-9.8zM736.0 1835.1h9.8v27.5h-9.8z"/><path fill="#d683fa" d="M120.3 1883.3h9.8v38.5h-9.8zM129.8 1899.1h9.8v22.7h-9.8zM167.7 1895.5h9.8v26.3h-9.8zM177.2 1899.1h9.8v22.7h-9.8zM186.6 1897.1h9.8v24.7h-9.8zM196.1 1881.5h9.8v40.3h-9.8zM537.1 1827.4h9.8v94.4h-9.8zM546.5 1733.4h9.8v188.4h-9.8zM736.0 1898.2h9.8v23.6h-9.8zM792.8 1876.1h9.8v45.7h-9.8zM811.7 1900.9h9.8v20.9h-9.8zM868.5 1896.4h9.8v25.4h-9.8zM915.9 1895.5h9.8v26.3h-9.8zM925.4 1897.1h9.8v24.7h-9.8zM944.3 1907.2h9.8v14.6h-9.8zM1020.1 1905.5h9.8v16.3h-9.8zM1039.0 1889.1h9.8v32.7h-9.8z"/><path fill="#248c10" d="M205.6 1850.4h9.8v21.0h-9.8zM252.9 1881.1h9.8v19.3h-9.8zM319.2 1830.5h9.8v32.5h-9.8zM376.1 1882.5h9.8v14.3h-9.8zM385.5 1854.5h9.8v21.6h-9.8zM404.5 1881.1h9.8v23.4h-9.8zM432.9 1841.6h9.8v35.4h-9.8zM489.7 1864.6h9.8v57.2h-9.8zM584.4 1791.9h9.8v43.0h-9.8zM593.9 1756.7h9.8v165.1h-9.8zM603.4 1872.5h9.8v49.3h-9.8zM612.8 1884.7h9.8v17.6h-9.8zM622.3 1863.6h9.8v24.4h-9.8zM915.9 1884.9h9.8v10.6h-9.8zM953.8 1880.9h9.8v16.9h-9.8z"/><path fill="#4cfc0a" d="M376.1 1749.4h9.8v73.1h-9.8zM385.5 1760.2h9.8v77.7h-9.8zM395.0 1766.6h9.8v89.7h-9.8zM404.5 1756.7h9.8v100.1h-9.8zM442.4 1761.1h9.8v82.9h-9.8zM556.0 1733.1h9.8v188.7h-9.8zM792.8 1755.1h9.8v64.3h-9.8zM802.2 1773.3h9.8v71.7h-9.8zM811.7 1782.8h9.8v69.7h-9.8zM821.2 1775.1h9.8v88.2h-9.8zM830.7 1766.1h9.8v77.5h-9.8zM840.1 1751.0h9.8v87.3h-9.8zM849.6 1742.9h9.8v136.4h-9.8zM859.1 1758.8h9.8v130.8h-9.8zM868.5 1770.2h9.8v64.9h-9.8zM878.0 1780.1h9.8v70.8h-9.8zM887.5 1781.0h9.8v84.3h-9.8zM897.0 1771.6h9.8v92.4h-9.8zM906.4 1784.8h9.8v53.4h-9.8zM915.9 1758.4h9.8v67.6h-9.8zM925.4 1761.8h9.8v73.7h-9.8zM934.8 1753.0h9.8v126.2h-9.8zM944.3 1757.1h9.8v108.6h-9.8zM953.8 1755.1h9.8v110.7h-9.8zM963.3 1756.4h9.8v120.7h-9.8zM972.7 1746.9h9.8v136.9h-9.8zM982.2 1770.2h9.8v85.2h-9.8zM991.7 1771.0h9.8v87.9h-9.8zM1001.1 1770.6h9.8v88.9h-9.8zM1010.6 1760.2h9.8v90.6h-9.8zM1020.1 1747.6h9.8v103.2h-9.8zM1029.6 1754.0h9.8v112.0h-9.8zM1039.0 1759.1h9.8v96.4h-9.8zM1048.5 1748.0h9.8v119.2h-9.8zM1058.0 1746.8h9.8v126.8h-9.8zM1067.4 1749.3h9.8v130.3h-9.8zM1076.9 1751.8h9.8v116.3h-9.8zM1086.4 1792.1h9.8v68.1h-9.8zM1095.8 1753.1h9.8v118.0h-9.8zM1105.3 1752.4h9.8v132.3h-9.8zM1114.8 1752.7h9.8v129.4h-9.8zM1124.3 1740.7h9.8v143.1h-9.8zM1133.7 1747.0h9.8v144.0h-9.8zM1143.2 1744.7h9.8v145.6h-9.8zM1152.7 1744.7h9.8v150.9h-9.8zM1162.1 1781.3h9.8v113.5h-9.8zM1171.6 1755.3h9.8v102.7h-9.8zM1181.1 1754.4h9.8v123.0h-9.8zM1190.6 1746.8h9.8v137.9h-9.8zM1200.0 1748.0h9.8v134.1h-9.8z"/></g>
<g shape-rendering="crispEdges"><path fill="#0a2dfa" d="M101.4 1932.2h9.8v0.2h-9.8zM110.9 1932.2h9.8v0.2h-9.8zM120.3 1932.2h9.8v0.2h-9.8zM129.8 1932.2h9.8v1.4h-9.8zM148.8 1932.2h9.8v0.2h-9.8zM167.7 1932.2h9.8v0.2h-9.8zM177.2 1932.2h9.8v1.4h-9.8zM186.6 1932.2h9.8v0.6h-9.8zM196.1 1932.2h9.8v0.6h-9.8zM205.6 1932.2h9.8v0.2h-9.8zM868.5 1932.2h9.8v1.4h-9.8zM915.9 1932.2h9.8v2.3h-9.8zM991.7 1932.2h9.8v1.6h-9.8z"/><path fill="#fc2a00" d="M101.4 1932.4h9.8v2.4h-9.8zM110.9 1932.4h9.8v1.2h-9.8zM139.3 1932.2h9.8v5.3h-9.8zM158.2 1932.2h9.8v3.1h-9.8zM243.5 1932.2h9.8v0.6h-9.8zM252.9 1932.2h9.8v1.4h-9.8zM357.1 1932.2h9.8v10.7h-9.8zM366.6 1932.2h9.8v94.9h-9.8zM461.3 1932.2h9.8v1.4h-9.8zM518.1 1932.2h9.8v1.9h-9.8zM707.5 1932.2h9.8v0.6h-9.8zM717.0 1932.2h9.8v2.3h-9.8zM745.4 1932.2h9.8v8.7h-9.8zM754.9 1932.2h9.8v8.7h-9.8zM764.4 1932.2h9.8v14.4h-9.8zM773.8 1932.2h9.8v66.9h-9.8zM906.4 1932.2h9.8v7.0h-9.8zM982.2 1932.2h9.8v2.3h-9.8zM991.7 1933.8h9.8v2.3h-9.8zM1001.1 1932.2h9.8v1.6h-9.8zM1010.6 1932.2h9.8v1.6h-9.8zM1067.4 1932.2h9.8v0.3h-9.8zM1086.4 1932.2h9.8v19.8h-9.8zM1105.3 1932.2h9.8v0.3h-9.8zM1171.6 1932.2h9.8v0.8h-9.8z"/><path fill="#1a93fa" d="M101.4 1934.8h9.8v9.5h-9.8zM110.9 1933.6h9.8v11.0h-9.8zM120.3 1932.4h9.8v9.6h-9.8zM129.8 1933.6h9.8v21.5h-9.8zM139.3 1937.5h9.8v10.1h-9.8zM148.8 1932.4h9.8v11.8h-9.8zM158.2 1935.3h9.8v9.0h-9.8zM167.7 1932.4h9.8v19.8h-9.8zM177.2 1941.6h9.8v7.3h-9.8zM186.6 1932.8h9.8v5.1h-9.8zM196.1 1932.8h9.8v9.3h-9.8zM205.6 1932.4h9.8v6.8h-9.8zM215.1 1932.2h9.8v4.8h-9.8zM224.5 1936.5h9.8v4.4h-9.8zM234.0 1932.2h9.8v6.5h-9.8zM243.5 1932.8h9.8v5.4h-9.8zM252.9 1933.6h9.8v7.3h-9.8zM262.4 1932.2h9.8v3.9h-9.8zM271.9 1932.2h9.8v7.0h-9.8zM281.3 1932.2h9.8v4.3h-9.8zM290.8 1932.2h9.8v6.5h-9.8zM300.3 1932.2h9.8v6.5h-9.8zM309.8 1932.2h9.8v4.3h-9.8zM319.2 1932.2h9.8v8.2h-9.8zM338.2 1932.2h9.8v4.3h-9.8zM347.6 1932.2h9.8v5.3h-9.8zM357.1 1942.9h9.8v4.7h-9.8zM366.6 2027.1h9.8v3.4h-9.8zM376.1 1932.2h9.8v3.9h-9.8zM385.5 1932.2h9.8v7.0h-9.8zM395.0 1932.2h9.8v7.0h-9.8zM404.5 1932.2h9.8v6.0h-9.8zM413.9 1932.2h9.8v4.8h-9.8zM423.4 1932.2h9.8v2.6h-9.8zM432.9 1932.2h9.8v1.4h-9.8zM442.4 1932.2h9.8v5.3h-9.8zM451.8 1932.2h9.8v3.1h-9.8zM461.3 1933.6h9.8v4.6h-9.8zM470.8 1932.2h9.8v2.3h-9.8zM480.2 1932.2h9.8v3.1h-9.8zM489.7 1932.2h9.8v2.3h-9.8zM499.2 1932.2h9.8v5.3h-9.8zM508.7 1932.2h9.8v3.9h-9.8zM518.1 1934.1h9.8v4.1h-9.8zM527.6 1932.2h9.8v4.3h-9.8zM537.1 1932.2h9.8v3.9h-9.8zM546.5 1932.2h9.8v1.9h-9.8zM556.0 1932.2h9.8v3.1h-9.8zM565.5 1932.2h9.8v3.9h-9.8zM574.9 1932.2h9.8v1.4h-9.8zM584.4 1932.2h9.8v3.6h-9.8zM593.9 1932.2h9.8v1.9h-9.8zM603.4 1932.2h9.8v6.0h-9.8zM612.8 1934.5h9.8v0.8h-9.8zM622.3 1932.2h9.8v7.7h-9.8zM631.8 1932.2h9.8v3.1h-9.8zM641.2 1932.2h9.8v3.9h-9.8zM650.7 1932.2h9.8v3.1h-9.8zM660.2 1932.2h9.8v3.9h-9.8zM669.7 1932.2h9.8v1.9h-9.8zM679.1 1932.2h9.8v1.9h-9.8zM688.6 1932.2h9.8v1.9h-9.8zM698.1 1932.2h9.8v7.0h-9.8zM707.5 1932.8h9.8v3.7h-9.8zM717.0 1934.5h9.8v5.9h-9.8zM726.5 1932.2h9.8v7.3h-9.8zM736.0 1932.2h9.8v9.0h-9.8zM745.4 1940.9h9.8v8.5h-9.8zM754.9 1940.9h9.8v4.1h-9.8zM764.4 1946.6h9.8v4.7h-9.8zM773.8 1999.1h9.8v5.6h-9.8zM783.3 1932.2h9.8v3.6h-9.8zM792.8 1932.2h9.8v7.3h-9.8zM802.2 1932.2h9.8v3.1h-9.8zM811.7 1932.2h9.8v6.5h-9.8zM821.2 1932.2h9.8v8.7h-9.8zM830.7 1932.2h9.8v9.4h-9.8zM840.1 1939.2h9.8v5.4h-9.8zM849.6 1938.2h9.8v3.9h-9.8zM859.1 1944.3h9.8v3.7h-9.8zM868.5 1933.6h9.8v13.5h-9.8zM878.0 1932.2h9.8v6.5h-9.8zM887.5 1932.2h9.8v5.6h-9.8zM897.0 1939.5h9.8v6.4h-9.8zM915.9 1934.5h9.8v16.1h-9.8zM925.4 1944.3h9.8v8.8h-9.8zM934.8 1942.9h9.8v5.4h-9.8zM944.3 1952.2h9.8v5.1h-9.8zM953.8 1932.2h9.8v9.9h-9.8zM963.3 1944.6h9.8v1.6h-9.8zM972.7 1945.4h9.8v3.6h-9.8zM991.7 1950.8h9.8v10.9h-9.8zM1001.1 1933.8h9.8v9.3h-9.8zM1010.6 1933.8h9.8v10.9h-9.8zM1020.1 1932.2h9.8v20.9h-9.8zM1029.6 1952.7h9.8v5.1h-9.8zM1039.0 1932.2h9.8v5.4h-9.8zM1048.5 1946.5h9.8v5.1h-9.8zM1058.0 1945.4h9.8v6.7h-9.8zM1076.9 1952.7h9.8v5.9h-9.8zM1095.8 1945.8h9.8v1.9h-9.8zM1105.3 1946.2h9.8v5.4h-9.8zM1114.8 1947.7h9.8v6.2h-9.8zM1124.3 1946.9h9.8v8.5h-9.8zM1133.7 1942.3h9.8v3.9h-9.8zM1143.2 1950.0h9.8v2.0h-9.8zM1152.7 1956.2h9.8v1.6h-9.8zM1162.1 1946.9h9.8v7.8h-9.8zM1171.6 1950.8h9.8v5.0h-9.8zM1181.1 1959.3h9.8v3.1h-9.8zM1190.6 1946.2h9.8v5.9h-9.8zM1200.0 1960.1h9.8v5.0h-9.8z"/><path fill="#f7827a" d="M101.4 1944.3h9.8v2.4h-9.8zM110.9 1944.6h9.8v1.4h-9.8zM139.3 1947.6h9.8v0.7h-9.8zM148.8 1944.3h9.8v2.4h-9.8zM158.2 1947.6h9.8v0.7h-9.8zM205.6 1939.2h9.8v1.2h-9.8zM243.5 1938.2h9.8v1.0h-9.8zM252.9 1940.9h9.8v1.2h-9.8zM281.3 1936.5h9.8v1.0h-9.8zM328.7 1932.2h9.8v4.8h-9.8zM338.2 1937.8h9.8v1.4h-9.8zM357.1 1947.6h9.8v10.1h-9.8zM366.6 2030.5h9.8v76.1h-9.8zM385.5 1939.2h9.8v1.2h-9.8zM395.0 1939.2h9.8v0.7h-9.8zM404.5 1938.2h9.8v1.0h-9.8zM461.3 1938.2h9.8v1.0h-9.8zM508.7 1936.1h9.8v0.8h-9.8zM518.1 1938.2h9.8v1.7h-9.8zM565.5 1936.1h9.8v1.4h-9.8zM593.9 1934.1h9.8v1.2h-9.8zM641.2 1936.1h9.8v1.4h-9.8zM660.2 1937.0h9.8v1.2h-9.8zM707.5 1936.5h9.8v1.0h-9.8zM717.0 1940.4h9.8v2.5h-9.8zM736.0 1941.2h9.8v3.4h-9.8zM745.4 1949.3h9.8v10.1h-9.8zM754.9 1944.9h9.8v7.8h-9.8zM764.4 1951.4h9.8v18.9h-9.8zM773.8 2004.6h9.8v40.1h-9.8zM821.2 1944.3h9.8v0.7h-9.8zM840.1 1944.6h9.8v0.8h-9.8zM868.5 1947.1h9.8v1.2h-9.8zM878.0 1938.7h9.8v0.8h-9.8zM887.5 1939.9h9.8v1.0h-9.8zM906.4 1948.8h9.8v15.2h-9.8zM925.4 1953.1h9.8v1.4h-9.8zM934.8 1953.9h9.8v0.8h-9.8zM953.8 1947.6h9.8v1.7h-9.8zM982.2 1947.7h9.8v4.3h-9.8zM991.7 1961.7h9.8v3.9h-9.8zM1001.1 1947.7h9.8v4.3h-9.8zM1010.6 1952.4h9.8v4.3h-9.8zM1020.1 1967.5h9.8v1.9h-9.8zM1029.6 1957.8h9.8v1.6h-9.8zM1067.4 1947.7h9.8v2.3h-9.8zM1076.9 1958.6h9.8v3.4h-9.8zM1086.4 1981.0h9.8v23.3h-9.8zM1095.8 1947.7h9.8v3.1h-9.8zM1105.3 1957.0h9.8v2.3h-9.8zM1114.8 1959.3h9.8v2.6h-9.8zM1124.3 1962.0h9.8v2.0h-9.8zM1133.7 1950.0h9.8v1.1h-9.8zM1143.2 1952.0h9.8v1.9h-9.8zM1152.7 1957.8h9.8v1.6h-9.8zM1162.1 1962.9h9.8v1.1h-9.8zM1171.6 1955.8h9.8v4.3h-9.8zM1181.1 1962.4h9.8v1.6h-9.8zM1190.6 1960.1h9.8v3.1h-9.8zM1200.0 1965.1h9.8v2.5h-9.8z"/><path fill="#8e8a00" d="M101.4 1946.6h9.8v2.7h-9.8zM110.9 1946.0h9.8v2.9h-9.8zM120.3 1942.1h9.8v5.6h-9.8zM129.8 1955.1h9.8v7.3h-9.8zM167.7 1952.2h9.8v5.6h-9.8zM177.2 1948.8h9.8v3.4h-9.8zM186.6 1937.8h9.8v1.4h-9.8zM196.1 1942.1h9.8v4.6h-9.8zM215.1 1937.0h9.8v1.2h-9.8zM234.0 1938.7h9.8v2.2h-9.8zM243.5 1939.2h9.8v1.2h-9.8zM290.8 1938.7h9.8v1.7h-9.8zM300.3 1938.7h9.8v1.2h-9.8zM309.8 1936.5h9.8v1.7h-9.8zM413.9 1937.0h9.8v1.2h-9.8zM423.4 1934.8h9.8v1.7h-9.8zM451.8 1935.3h9.8v0.8h-9.8zM480.2 1935.3h9.8v0.8h-9.8zM489.7 1934.5h9.8v0.8h-9.8zM537.1 1936.1h9.8v1.4h-9.8zM546.5 1934.1h9.8v1.2h-9.8zM556.0 1935.3h9.8v0.8h-9.8zM584.4 1935.8h9.8v1.7h-9.8zM603.4 1938.2h9.8v1.7h-9.8zM783.3 1935.8h9.8v1.7h-9.8zM792.8 1939.5h9.8v3.4h-9.8zM802.2 1935.3h9.8v2.2h-9.8zM811.7 1938.7h9.8v2.2h-9.8zM830.7 1941.6h9.8v1.7h-9.8zM868.5 1948.3h9.8v3.9h-9.8zM878.0 1939.5h9.8v2.0h-9.8zM897.0 1946.0h9.8v1.7h-9.8zM915.9 1950.5h9.8v5.1h-9.8zM925.4 1954.4h9.8v4.1h-9.8zM1039.0 1942.3h9.8v2.0h-9.8zM1048.5 1951.6h9.8v3.1h-9.8z"/><path fill="#ddf878" d="M158.2 1944.3h9.8v3.4h-9.8zM338.2 1936.5h9.8v1.4h-9.8zM376.1 1936.1h9.8v2.5h-9.8zM432.9 1933.6h9.8v0.8h-9.8zM660.2 1936.1h9.8v0.8h-9.8zM821.2 1940.9h9.8v3.4h-9.8zM849.6 1942.1h9.8v3.9h-9.8zM887.5 1937.8h9.8v2.0h-9.8zM934.8 1948.3h9.8v5.6h-9.8zM953.8 1942.1h9.8v5.6h-9.8zM1001.1 1943.1h9.8v4.7h-9.8zM1010.6 1944.6h9.8v7.8h-9.8zM1020.1 1953.1h9.8v14.4h-9.8zM1039.0 1937.6h9.8v4.7h-9.8zM1105.3 1951.6h9.8v5.4h-9.8zM1114.8 1953.9h9.8v5.4h-9.8zM1124.3 1955.5h9.8v6.5h-9.8zM1133.7 1946.2h9.8v3.9h-9.8zM1162.1 1954.7h9.8v8.2h-9.8zM1190.6 1952.0h9.8v8.1h-9.8z"/><path fill="#4cfc0a" d="M177.2 1933.6h9.8v7.9h-9.8zM224.5 1932.2h9.8v4.3h-9.8zM612.8 1932.2h9.8v2.3h-9.8zM840.1 1932.2h9.8v7.0h-9.8zM849.6 1932.2h9.8v6.0h-9.8zM859.1 1932.2h9.8v12.1h-9.8zM897.0 1932.2h9.8v7.3h-9.8zM906.4 1939.2h9.8v9.6h-9.8zM925.4 1932.2h9.8v12.1h-9.8zM934.8 1932.2h9.8v10.7h-9.8zM944.3 1932.2h9.8v20.0h-9.8zM963.3 1932.2h9.8v12.4h-9.8zM972.7 1932.2h9.8v13.2h-9.8zM982.2 1934.5h9.8v13.2h-9.8zM991.7 1936.1h9.8v14.7h-9.8zM1029.6 1932.2h9.8v20.5h-9.8zM1048.5 1932.2h9.8v14.3h-9.8zM1058.0 1932.2h9.8v13.2h-9.8zM1067.4 1932.5h9.8v15.2h-9.8zM1076.9 1932.2h9.8v20.5h-9.8zM1086.4 1952.0h9.8v29.0h-9.8zM1095.8 1932.2h9.8v13.6h-9.8zM1105.3 1932.5h9.8v13.6h-9.8zM1114.8 1932.2h9.8v15.5h-9.8zM1124.3 1932.2h9.8v14.7h-9.8zM1133.7 1932.2h9.8v10.1h-9.8zM1143.2 1932.2h9.8v17.8h-9.8zM1152.7 1932.2h9.8v24.0h-9.8zM1162.1 1932.2h9.8v14.7h-9.8zM1171.6 1933.0h9.8v17.8h-9.8zM1181.1 1932.2h9.8v27.1h-9.8zM1190.6 1932.2h9.8v14.0h-9.8zM1200.0 1932.2h9.8v27.9h-9.8z"/></g>
<g shape-rendering="crispEdges"><path fill="#0a2dfa" d="M101.4 2122.5h9.8v18.1h-9.8zM110.9 2122.5h9.8v12.7h-9.8zM120.3 2122.5h9.8v15.4h-9.8zM129.8 2122.5h9.8v17.2h-9.8zM139.3 2122.5h9.8v24.9h-9.8zM148.8 2122.5h9.8v12.7h-9.8zM158.2 2122.5h9.8v22.6h-9.8zM167.7 2122.5h9.8v5.4h-9.8zM177.2 2122.5h9.8v18.9h-9.8zM186.6 2122.5h9.8v37.5h-9.8zM196.1 2122.5h9.8v22.6h-9.8zM205.6 2122.5h9.8v34.8h-9.8zM215.1 2122.5h9.8v14.5h-9.8zM224.5 2122.5h9.8v24.9h-9.8zM234.0 2122.5h9.8v22.6h-9.8zM243.5 2122.5h9.8v12.7h-9.8zM252.9 2122.5h9.8v28.7h-9.8zM262.4 2122.5h9.8v43.3h-9.8zM271.9 2122.5h9.8v18.5h-9.8zM281.3 2122.5h9.8v26.6h-9.8zM290.8 2122.5h9.8v23.9h-9.8zM300.3 2122.5h9.8v21.9h-9.8zM309.8 2122.5h9.8v26.6h-9.8zM319.2 2122.5h9.8v27.6h-9.8zM328.7 2122.5h9.8v12.7h-9.8zM338.2 2122.5h9.8v31.1h-9.8zM347.6 2122.5h9.8v45.6h-9.8zM357.1 2122.5h9.8v4.6h-9.8zM376.1 2122.5h9.8v23.5h-9.8zM385.5 2122.5h9.8v26.6h-9.8zM395.0 2122.5h9.8v37.5h-9.8zM404.5 2122.5h9.8v28.4h-9.8zM413.9 2122.5h9.8v25.7h-9.8zM423.4 2122.5h9.8v30.0h-9.8zM432.9 2122.5h9.8v30.0h-9.8zM442.4 2122.5h9.8v18.9h-9.8zM451.8 2122.5h9.8v28.4h-9.8zM461.3 2122.5h9.8v18.1h-9.8zM470.8 2122.5h9.8v38.8h-9.8zM480.2 2122.5h9.8v34.8h-9.8zM489.7 2122.5h9.8v24.9h-9.8zM499.2 2122.5h9.8v25.7h-9.8zM508.7 2122.5h9.8v30.0h-9.8zM518.1 2122.5h9.8v10.8h-9.8zM527.6 2122.5h9.8v21.9h-9.8zM537.1 2122.5h9.8v25.7h-9.8zM546.5 2122.5h9.8v32.1h-9.8zM556.0 2122.5h9.8v37.5h-9.8zM565.5 2122.5h9.8v30.3h-9.8zM574.9 2122.5h9.8v29.3h-9.8zM584.4 2122.5h9.8v31.6h-9.8zM593.9 2122.5h9.8v30.0h-9.8zM603.4 2122.5h9.8v24.6h-9.8zM612.8 2122.5h9.8v19.9h-9.8zM622.3 2122.5h9.8v23.5h-9.8zM631.8 2122.5h9.8v40.2h-9.8zM641.2 2122.5h9.8v24.6h-9.8zM650.7 2122.5h9.8v21.2h-9.8zM660.2 2122.5h9.8v19.9h-9.8zM669.7 2122.5h9.8v27.3h-9.8zM679.1 2122.5h9.8v24.9h-9.8zM688.6 2122.5h9.8v34.8h-9.8zM698.1 2122.5h9.8v30.7h-9.8zM707.5 2122.5h9.8v13.8h-9.8zM717.0 2122.5h9.8v15.4h-9.8zM726.5 2122.5h9.8v21.9h-9.8zM736.0 2122.5h9.8v13.1h-9.8zM745.4 2122.5h9.8v4.6h-9.8zM754.9 2122.5h9.8v8.1h-9.8zM764.4 2122.5h9.8v3.6h-9.8zM773.8 2122.5h9.8v0.5h-9.8zM783.3 2122.5h9.8v24.9h-9.8zM792.8 2122.5h9.8v14.5h-9.8zM802.2 2122.5h9.8v29.8h-9.8zM811.7 2122.5h9.8v25.7h-9.8zM821.2 2122.5h9.8v9.1h-9.8zM830.7 2122.5h9.8v22.6h-9.8zM840.1 2122.5h9.8v14.5h-9.8zM849.6 2122.5h9.8v10.8h-9.8zM859.1 2122.5h9.8v12.7h-9.8zM868.5 2122.5h9.8v26.2h-9.8zM878.0 2122.5h9.8v14.9h-9.8zM887.5 2122.5h9.8v31.4h-9.8zM897.0 2122.5h9.8v15.4h-9.8zM906.4 2122.5h9.8v2.7h-9.8zM915.9 2122.5h9.8v26.6h-9.8zM925.4 2122.5h9.8v13.8h-9.8zM934.8 2122.5h9.8v9.1h-9.8zM944.3 2122.5h9.8v16.5h-9.8zM953.8 2122.5h9.8v3.6h-9.8zM963.3 2122.5h9.8v9.5h-9.8zM972.7 2122.5h9.8v8.1h-9.8zM982.2 2122.5h9.8v6.4h-9.8zM991.7 2122.5h9.8v16.2h-9.8zM1001.1 2122.5h9.8v6.4h-9.8zM1010.6 2122.5h9.8v4.6h-9.8zM1020.1 2122.5h9.8v10.8h-9.8zM1029.6 2122.5h9.8v7.2h-9.8zM1039.0 2122.5h9.8v13.5h-9.8zM1048.5 2122.5h9.8v6.2h-9.8zM1058.0 2122.5h9.8v11.0h-9.8zM1067.4 2122.5h9.8v7.2h-9.8zM1076.9 2122.5h9.8v4.7h-9.8zM1086.4 2122.5h9.8v1.7h-9.8zM1095.8 2122.5h9.8v8.5h-9.8zM1105.3 2122.5h9.8v3.6h-9.8zM1114.8 2122.5h9.8v5.5h-9.8zM1124.3 2122.5h9.8v6.4h-9.8zM1133.7 2122.5h9.8v7.2h-9.8zM1143.2 2122.5h9.8v6.4h-9.8zM1152.7 2122.5h9.8v8.5h-9.8zM1162.1 2122.5h9.8v5.5h-9.8zM1171.6 2122.5h9.8v7.2h-9.8zM1181.1 2122.5h9.8v6.2h-9.8zM1190.6 2122.5h9.8v6.2h-9.8zM1200.0 2122.5h9.8v6.2h-9.8z"/><path fill="#fc2a00" d="M101.4 2140.6h9.8v25.7h-9.8zM110.9 2135.2h9.8v14.6h-9.8zM129.8 2139.7h9.8v7.7h-9.8zM139.3 2147.4h9.8v41.7h-9.8zM148.8 2135.2h9.8v14.9h-9.8zM158.2 2145.1h9.8v24.8h-9.8zM177.2 2141.4h9.8v7.7h-9.8zM205.6 2157.3h9.8v7.2h-9.8zM215.1 2137.0h9.8v12.2h-9.8zM224.5 2147.4h9.8v9.9h-9.8zM243.5 2135.2h9.8v36.3h-9.8zM252.9 2151.2h9.8v16.9h-9.8zM271.9 2141.0h9.8v37.2h-9.8zM281.3 2149.1h9.8v8.1h-9.8zM300.3 2144.4h9.8v13.8h-9.8zM309.8 2149.1h9.8v22.6h-9.8zM328.7 2135.2h9.8v24.8h-9.8zM338.2 2153.6h9.8v11.8h-9.8zM347.6 2168.1h9.8v10.8h-9.8zM357.1 2127.1h9.8v80.9h-9.8zM366.6 2122.5h9.8v100.4h-9.8zM385.5 2149.1h9.8v8.8h-9.8zM404.5 2150.9h9.8v23.5h-9.8zM413.9 2148.2h9.8v22.6h-9.8zM451.8 2150.9h9.8v12.4h-9.8zM461.3 2140.6h9.8v55.9h-9.8zM480.2 2157.3h9.8v12.6h-9.8zM489.7 2147.4h9.8v16.6h-9.8zM508.7 2152.5h9.8v30.0h-9.8zM518.1 2133.3h9.8v67.6h-9.8zM565.5 2152.8h9.8v17.0h-9.8zM593.9 2152.5h9.8v31.1h-9.8zM612.8 2142.4h9.8v9.1h-9.8zM641.2 2147.1h9.8v14.9h-9.8zM650.7 2143.7h9.8v19.6h-9.8zM660.2 2142.4h9.8v9.1h-9.8zM679.1 2147.4h9.8v16.6h-9.8zM698.1 2153.2h9.8v23.7h-9.8zM707.5 2136.3h9.8v53.8h-9.8zM717.0 2137.9h9.8v39.0h-9.8zM736.0 2135.6h9.8v15.8h-9.8zM745.4 2127.1h9.8v57.6h-9.8zM754.9 2130.6h9.8v68.6h-9.8zM764.4 2126.1h9.8v70.8h-9.8zM773.8 2123.0h9.8v108.2h-9.8zM783.3 2147.4h9.8v22.5h-9.8zM802.2 2152.3h9.8v11.4h-9.8zM811.7 2148.2h9.8v7.3h-9.8zM821.2 2131.6h9.8v19.3h-9.8zM830.7 2145.1h9.8v13.1h-9.8zM840.1 2137.0h9.8v6.4h-9.8zM868.5 2148.7h9.8v6.8h-9.8zM878.0 2137.4h9.8v26.7h-9.8zM887.5 2153.9h9.8v8.1h-9.8zM906.4 2125.2h9.8v44.6h-9.8zM925.4 2136.3h9.8v7.8h-9.8zM934.8 2131.6h9.8v6.4h-9.8zM953.8 2126.1h9.8v15.3h-9.8zM963.3 2132.0h9.8v11.1h-9.8zM972.7 2130.6h9.8v9.5h-9.8zM982.2 2128.9h9.8v30.7h-9.8zM991.7 2138.7h9.8v15.2h-9.8zM1001.1 2128.9h9.8v29.1h-9.8zM1010.6 2127.1h9.8v17.6h-9.8zM1029.6 2129.7h9.8v11.0h-9.8zM1039.0 2136.0h9.8v8.5h-9.8zM1048.5 2128.7h9.8v7.4h-9.8zM1067.4 2129.7h9.8v9.8h-9.8zM1076.9 2127.2h9.8v11.0h-9.8zM1086.4 2124.2h9.8v50.1h-9.8zM1095.8 2131.0h9.8v11.4h-9.8zM1105.3 2126.1h9.8v11.2h-9.8zM1114.8 2128.0h9.8v8.9h-9.8zM1124.3 2128.9h9.8v4.6h-9.8zM1133.7 2129.7h9.8v5.3h-9.8zM1143.2 2128.9h9.8v4.8h-9.8zM1152.7 2131.0h9.8v3.4h-9.8zM1162.1 2128.0h9.8v12.7h-9.8zM1171.6 2129.7h9.8v14.2h-9.8zM1181.1 2128.7h9.8v9.5h-9.8zM1190.6 2128.7h9.8v6.6h-9.8zM1200.0 2128.7h9.8v6.3h-9.8z"/><path fill="#1a93fa" d="M101.4 2166.3h9.8v87.4h-9.8zM110.9 2149.8h9.8v113.0h-9.8zM120.3 2137.9h9.8v113.1h-9.8zM129.8 2147.4h9.8v115.4h-9.8zM139.3 2189.1h9.8v107.5h-9.8zM148.8 2150.1h9.8v130.3h-9.8zM158.2 2169.8h9.8v89.3h-9.8zM167.7 2127.9h9.8v138.9h-9.8zM177.2 2213.1h9.8v64.5h-9.8zM186.6 2160.0h9.8v110.3h-9.8zM196.1 2145.1h9.8v105.1h-9.8zM205.6 2164.4h9.8v128.8h-9.8zM215.1 2149.1h9.8v122.2h-9.8zM224.5 2226.3h9.8v77.7h-9.8zM234.0 2145.1h9.8v119.0h-9.8zM243.5 2171.5h9.8v87.9h-9.8zM252.9 2168.1h9.8v119.7h-9.8zM262.4 2165.8h9.8v138.2h-9.8zM271.9 2178.2h9.8v125.8h-9.8zM281.3 2157.3h9.8v139.7h-9.8zM290.8 2146.4h9.8v132.6h-9.8zM300.3 2158.2h9.8v124.2h-9.8zM309.8 2171.7h9.8v99.6h-9.8zM319.2 2150.1h9.8v153.9h-9.8zM328.7 2160.0h9.8v104.8h-9.8zM338.2 2165.4h9.8v100.8h-9.8zM347.6 2178.9h9.8v125.1h-9.8zM357.1 2208.0h9.8v31.1h-9.8zM366.6 2222.9h9.8v3.4h-9.8zM376.1 2146.0h9.8v127.6h-9.8zM385.5 2157.9h9.8v141.0h-9.8zM395.0 2160.0h9.8v144.0h-9.8zM404.5 2174.4h9.8v118.5h-9.8zM413.9 2170.8h9.8v104.8h-9.8zM423.4 2152.5h9.8v97.7h-9.8zM432.9 2152.5h9.8v113.0h-9.8zM442.4 2141.4h9.8v162.6h-9.8zM451.8 2163.3h9.8v120.1h-9.8zM461.3 2196.5h9.8v94.0h-9.8zM470.8 2161.3h9.8v142.7h-9.8zM480.2 2169.8h9.8v102.4h-9.8zM489.7 2164.0h9.8v109.2h-9.8zM499.2 2148.2h9.8v155.8h-9.8zM508.7 2182.6h9.8v103.6h-9.8zM518.1 2201.0h9.8v63.2h-9.8zM527.6 2144.4h9.8v159.6h-9.8zM537.1 2148.2h9.8v133.1h-9.8zM546.5 2154.6h9.8v110.3h-9.8zM556.0 2160.0h9.8v114.0h-9.8zM565.5 2169.8h9.8v100.4h-9.8zM574.9 2151.8h9.8v119.5h-9.8zM584.4 2154.1h9.8v109.0h-9.8zM593.9 2183.6h9.8v113.4h-9.8zM603.4 2147.1h9.8v129.9h-9.8zM612.8 2237.1h9.8v66.9h-9.8zM622.3 2146.0h9.8v158.0h-9.8zM631.8 2162.7h9.8v141.3h-9.8zM641.2 2162.0h9.8v139.6h-9.8zM650.7 2163.3h9.8v140.7h-9.8zM660.2 2151.4h9.8v97.8h-9.8zM669.7 2149.8h9.8v154.2h-9.8zM679.1 2164.0h9.8v121.1h-9.8zM688.6 2157.3h9.8v119.7h-9.8zM698.1 2176.9h9.8v127.1h-9.8zM707.5 2190.1h9.8v72.0h-9.8zM717.0 2176.9h9.8v81.4h-9.8zM726.5 2144.4h9.8v159.6h-9.8zM736.0 2151.4h9.8v106.9h-9.8zM745.4 2184.7h9.8v57.4h-9.8zM754.9 2199.2h9.8v39.2h-9.8zM764.4 2196.9h9.8v19.2h-9.8zM773.8 2231.3h9.8v9.5h-9.8zM783.3 2169.8h9.8v86.9h-9.8zM792.8 2137.0h9.8v112.3h-9.8zM802.2 2163.6h9.8v82.5h-9.8zM811.7 2155.5h9.8v103.6h-9.8zM821.2 2150.9h9.8v91.6h-9.8zM830.7 2158.2h9.8v103.6h-9.8zM840.1 2226.3h9.8v68.6h-9.8zM849.6 2208.3h9.8v59.0h-9.8zM859.1 2262.8h9.8v41.2h-9.8zM868.5 2155.5h9.8v103.2h-9.8zM878.0 2164.0h9.8v85.2h-9.8zM887.5 2162.0h9.8v90.9h-9.8zM897.0 2212.3h9.8v72.1h-9.8zM906.4 2217.7h9.8v9.5h-9.8zM915.9 2149.1h9.8v115.7h-9.8zM925.4 2210.0h9.8v56.4h-9.8zM934.8 2211.4h9.8v41.5h-9.8zM944.3 2265.5h9.8v38.5h-9.8zM953.8 2141.4h9.8v91.2h-9.8zM963.3 2262.4h9.8v26.5h-9.8zM972.7 2259.4h9.8v32.5h-9.8zM982.2 2241.1h9.8v19.9h-9.8zM991.7 2226.7h9.8v54.4h-9.8zM1001.1 2157.9h9.8v72.4h-9.8zM1010.6 2144.7h9.8v78.9h-9.8zM1020.1 2133.3h9.8v95.2h-9.8zM1029.6 2258.7h9.8v32.3h-9.8zM1039.0 2144.5h9.8v70.4h-9.8zM1048.5 2236.5h9.8v40.0h-9.8zM1058.0 2246.6h9.8v57.4h-9.8zM1067.4 2260.3h9.8v25.0h-9.8zM1076.9 2249.4h9.8v33.7h-9.8zM1086.4 2245.6h9.8v2.3h-9.8zM1095.8 2249.4h9.8v26.6h-9.8zM1105.3 2212.7h9.8v37.2h-9.8zM1114.8 2218.5h9.8v38.6h-9.8zM1124.3 2211.4h9.8v49.5h-9.8zM1133.7 2226.4h9.8v37.4h-9.8zM1143.2 2267.6h9.8v24.1h-9.8zM1152.7 2281.5h9.8v13.3h-9.8zM1162.1 2210.5h9.8v47.8h-9.8zM1171.6 2246.6h9.8v31.1h-9.8zM1181.1 2276.8h9.8v20.5h-9.8zM1190.6 2208.3h9.8v34.2h-9.8zM1200.0 2265.7h9.8v27.3h-9.8z"/><path fill="#f7827a" d="M101.4 2253.7h9.8v20.3h-9.8zM110.9 2262.8h9.8v8.5h-9.8zM129.8 2262.8h9.8v7.2h-9.8zM139.3 2296.6h9.8v7.4h-9.8zM148.8 2280.4h9.8v23.6h-9.8zM158.2 2294.3h9.8v9.7h-9.8zM177.2 2277.7h9.8v9.5h-9.8zM205.6 2293.2h9.8v10.8h-9.8zM215.1 2271.3h9.8v10.4h-9.8zM243.5 2259.4h9.8v18.3h-9.8zM252.9 2287.8h9.8v16.2h-9.8zM281.3 2297.0h9.8v7.0h-9.8zM328.7 2264.8h9.8v39.2h-9.8zM338.2 2299.7h9.8v4.3h-9.8zM357.1 2239.1h9.8v64.9h-9.8zM366.6 2226.3h9.8v77.7h-9.8zM385.5 2298.9h9.8v5.1h-9.8zM404.5 2292.9h9.8v11.1h-9.8zM413.9 2275.6h9.8v6.5h-9.8zM461.3 2290.5h9.8v13.5h-9.8zM489.7 2273.2h9.8v5.8h-9.8zM508.7 2286.2h9.8v17.8h-9.8zM518.1 2264.1h9.8v39.9h-9.8zM565.5 2270.2h9.8v33.8h-9.8zM593.9 2297.0h9.8v7.0h-9.8zM641.2 2301.6h9.8v2.4h-9.8zM660.2 2301.6h9.8v2.4h-9.8zM679.1 2285.1h9.8v18.9h-9.8zM707.5 2262.1h9.8v41.9h-9.8zM717.0 2258.3h9.8v45.7h-9.8zM736.0 2258.3h9.8v45.7h-9.8zM745.4 2242.1h9.8v61.9h-9.8zM754.9 2238.4h9.8v65.6h-9.8zM764.4 2216.1h9.8v87.9h-9.8zM773.8 2240.7h9.8v63.3h-9.8zM783.3 2256.7h9.8v23.0h-9.8zM802.2 2246.1h9.8v9.5h-9.8zM811.7 2259.1h9.8v4.6h-9.8zM821.2 2286.7h9.8v17.3h-9.8zM830.7 2261.8h9.8v14.1h-9.8zM840.1 2294.8h9.8v9.2h-9.8zM868.5 2258.7h9.8v12.6h-9.8zM878.0 2249.3h9.8v28.4h-9.8zM887.5 2298.0h9.8v6.0h-9.8zM906.4 2227.2h9.8v76.8h-9.8zM925.4 2266.4h9.8v14.3h-9.8zM934.8 2298.9h9.8v5.1h-9.8zM953.8 2288.1h9.8v15.9h-9.8zM963.3 2288.9h9.8v15.1h-9.8zM972.7 2291.9h9.8v12.1h-9.8zM982.2 2261.0h9.8v43.0h-9.8zM991.7 2281.0h9.8v23.0h-9.8zM1001.1 2270.5h9.8v33.5h-9.8zM1010.6 2274.0h9.8v30.0h-9.8zM1020.1 2292.5h9.8v11.5h-9.8zM1029.6 2291.0h9.8v13.0h-9.8zM1039.0 2270.1h9.8v5.1h-9.8zM1048.5 2276.5h9.8v8.9h-9.8zM1067.4 2285.3h9.8v18.7h-9.8zM1076.9 2283.2h9.8v20.8h-9.8zM1086.4 2247.9h9.8v56.1h-9.8zM1095.8 2276.1h9.8v27.9h-9.8zM1105.3 2287.0h9.8v17.0h-9.8zM1114.8 2291.7h9.8v12.3h-9.8zM1124.3 2298.6h9.8v5.4h-9.8zM1133.7 2294.2h9.8v9.8h-9.8zM1143.2 2291.7h9.8v12.3h-9.8zM1152.7 2294.8h9.8v9.2h-9.8zM1162.1 2299.3h9.8v4.7h-9.8zM1171.6 2277.7h9.8v26.3h-9.8zM1181.1 2297.4h9.8v6.6h-9.8zM1190.6 2285.3h9.8v18.7h-9.8zM1200.0 2292.9h9.8v11.1h-9.8z"/><path fill="#8e8a00" d="M101.4 2274.0h9.8v30.0h-9.8zM110.9 2271.3h9.8v32.7h-9.8zM120.3 2251.0h9.8v53.0h-9.8zM129.8 2270.0h9.8v34.0h-9.8zM167.7 2266.8h9.8v37.2h-9.8zM177.2 2287.1h9.8v16.9h-9.8zM186.6 2270.2h9.8v33.8h-9.8zM196.1 2250.2h9.8v53.8h-9.8zM215.1 2281.7h9.8v22.3h-9.8zM234.0 2264.1h9.8v39.9h-9.8zM243.5 2277.7h9.8v26.3h-9.8zM290.8 2279.0h9.8v25.0h-9.8zM300.3 2282.4h9.8v21.6h-9.8zM309.8 2271.3h9.8v32.7h-9.8zM413.9 2282.1h9.8v21.9h-9.8zM423.4 2250.2h9.8v53.8h-9.8zM451.8 2283.5h9.8v20.5h-9.8zM480.2 2272.2h9.8v31.8h-9.8zM489.7 2279.0h9.8v25.0h-9.8zM537.1 2281.3h9.8v22.7h-9.8zM546.5 2264.8h9.8v39.2h-9.8zM556.0 2274.0h9.8v30.0h-9.8zM584.4 2263.2h9.8v40.8h-9.8zM603.4 2277.0h9.8v27.0h-9.8zM688.6 2277.0h9.8v27.0h-9.8zM783.3 2279.7h9.8v24.3h-9.8zM792.8 2249.3h9.8v54.7h-9.8zM802.2 2255.6h9.8v48.4h-9.8zM811.7 2263.7h9.8v40.3h-9.8zM830.7 2275.9h9.8v28.1h-9.8zM868.5 2271.3h9.8v32.7h-9.8zM878.0 2277.7h9.8v26.3h-9.8zM897.0 2284.4h9.8v19.6h-9.8zM915.9 2264.8h9.8v39.2h-9.8zM925.4 2280.8h9.8v23.2h-9.8zM1039.0 2275.2h9.8v28.8h-9.8zM1048.5 2285.3h9.8v18.7h-9.8z"/><path fill="#ddf878" d="M158.2 2259.1h9.8v35.2h-9.8zM338.2 2266.2h9.8v33.5h-9.8zM376.1 2273.6h9.8v30.4h-9.8zM432.9 2265.5h9.8v38.5h-9.8zM574.9 2271.3h9.8v32.7h-9.8zM660.2 2249.3h9.8v52.4h-9.8zM821.2 2242.5h9.8v44.2h-9.8zM849.6 2267.2h9.8v36.8h-9.8zM887.5 2252.9h9.8v45.0h-9.8zM934.8 2252.9h9.8v46.0h-9.8zM953.8 2232.6h9.8v55.5h-9.8zM1001.1 2230.3h9.8v40.2h-9.8zM1010.6 2223.5h9.8v50.5h-9.8zM1020.1 2228.6h9.8v64.0h-9.8zM1039.0 2214.9h9.8v55.2h-9.8zM1105.3 2249.8h9.8v37.2h-9.8zM1114.8 2257.0h9.8v34.6h-9.8zM1124.3 2260.9h9.8v37.8h-9.8zM1133.7 2263.8h9.8v30.4h-9.8zM1162.1 2258.3h9.8v41.0h-9.8zM1190.6 2242.6h9.8v42.7h-9.8z"/><path fill="#4cfc0a" d="M177.2 2149.1h9.8v64.0h-9.8zM224.5 2157.3h9.8v69.0h-9.8zM612.8 2151.4h9.8v85.6h-9.8zM840.1 2143.3h9.8v82.9h-9.8zM849.6 2133.3h9.8v74.9h-9.8zM859.1 2135.2h9.8v127.6h-9.8zM897.0 2137.9h9.8v74.4h-9.8zM906.4 2169.8h9.8v47.9h-9.8zM925.4 2144.1h9.8v65.9h-9.8zM934.8 2137.9h9.8v73.5h-9.8zM944.3 2139.0h9.8v126.5h-9.8zM963.3 2143.1h9.8v119.3h-9.8zM972.7 2140.1h9.8v119.3h-9.8zM982.2 2159.6h9.8v81.6h-9.8zM991.7 2153.9h9.8v72.8h-9.8zM1029.6 2140.7h9.8v118.0h-9.8zM1048.5 2136.0h9.8v100.5h-9.8zM1058.0 2133.5h9.8v113.1h-9.8zM1067.4 2139.5h9.8v120.9h-9.8zM1076.9 2138.2h9.8v111.2h-9.8zM1086.4 2174.3h9.8v71.3h-9.8zM1095.8 2142.4h9.8v107.1h-9.8zM1105.3 2137.3h9.8v75.3h-9.8zM1114.8 2136.9h9.8v81.6h-9.8zM1124.3 2133.5h9.8v77.9h-9.8zM1133.7 2135.0h9.8v91.3h-9.8zM1143.2 2133.8h9.8v133.8h-9.8zM1152.7 2134.4h9.8v147.1h-9.8zM1162.1 2140.7h9.8v69.8h-9.8zM1171.6 2143.9h9.8v102.7h-9.8zM1181.1 2138.2h9.8v138.6h-9.8zM1190.6 2135.3h9.8v73.1h-9.8zM1200.0 2135.0h9.8v130.6h-9.8z"/></g>
<line x1="89.9" y1="1538.7" x2="100.4" y2="1538.7" stroke="#000" stroke-width="2" />
<text transform="translate(75.9,1553.5) scale(0.850,1)" font-size="26" font-weight="bold" fill="#000" stroke="#000" stroke-width="0.50" >0</text>
<line x1="89.9" y1="1616.8" x2="100.4" y2="1616.8" stroke="#000" stroke-width="2" />
<text transform="translate(75.9,1626.0) scale(0.850,1)" font-size="26" font-weight="bold" fill="#000" stroke="#000" stroke-width="0.50" >2</text>
<line x1="89.9" y1="1695.0" x2="100.4" y2="1695.0" stroke="#000" stroke-width="2" />
<text transform="translate(75.0,1704.2) scale(0.850,1)" font-size="26" font-weight="bold" fill="#000" stroke="#000" stroke-width="0.50" >4</text>
<text transform="translate(88.1,1751.4) scale(0.750,1)" font-size="27" font-weight="bold" fill="#000" stroke="#000" stroke-width="0.50" >0</text>
<text transform="translate(65.6,1922.3) scale(0.750,1)" font-size="27" font-weight="bold" fill="#000" stroke="#000" stroke-width="0.50" >100</text>
<line x1="89.9" y1="1931.5" x2="100.4" y2="1931.5" stroke="#000" stroke-width="2" />
<text transform="translate(75.9,1946.3) scale(0.850,1)" font-size="26" font-weight="bold" fill="#000" stroke="#000" stroke-width="0.50" >0</text>
<line x1="89.9" y1="1994.2" x2="100.4" y2="1994.2" stroke="#000" stroke-width="2" />
<text transform="translate(75.9,2003.4) scale(0.850,1)" font-size="26" font-weight="bold" fill="#000" stroke="#000" stroke-width="0.50" >2</text>
<line x1="89.9" y1="2056.5" x2="100.4" y2="2056.5" stroke="#000" stroke-width="2" />
<text transform="translate(75.0,2065.7) scale(0.850,1)" font-size="26" font-weight="bold" fill="#000" stroke="#000" stroke-width="0.50" >4</text>
<text transform="translate(88.1,2140.4) scale(0.750,1)" font-size="27" font-weight="bold" fill="#000" stroke="#000" stroke-width="0.50" >0</text>
<text transform="translate(65.6,2311.5) scale(0.750,1)" font-size="27" font-weight="bold" fill="#000" stroke="#000" stroke-width="0.50" >100</text>
<text transform="translate(33.5,1888.4) rotate(-90) scale(0.731,1)" font-size="28" font-weight="bold" fill="#000" stroke="#000" stroke-width="0.50" >SBSs within 1 Mb from SV sites</text>
<line x1="36.5" y1="1582.0" x2="36.5" y2="1888.0" stroke="#000" stroke-width="1.4" />
<text transform="translate(68.5,1634.0) rotate(-90) scale(0.837,1)" font-size="27" font-weight="bold" text-anchor="middle"># SNVs <tspan font-weight="normal">(</tspan><tspan font-weight="normal">×</tspan><tspan>10</tspan><tspan font-size="16.2" dy="-11.3">3</tspan><tspan dy="11.3" font-weight="normal">)</tspan></text>
<line x1="71.0" y1="1561.5" x2="71.0" y2="1706.5" stroke="#000" stroke-width="1.4" />
<text transform="translate(67.0,1860.4) rotate(-90) scale(0.737,1)" font-size="27" font-weight="bold" fill="#000" stroke="#000" stroke-width="0.50" >% SBSs</text>
<line x1="70.0" y1="1786.0" x2="70.0" y2="1860.0" stroke="#000" stroke-width="1.4" />
<text transform="translate(33.5,2252.9) rotate(-90) scale(0.743,1)" font-size="28" font-weight="bold" fill="#000" stroke="#000" stroke-width="0.50" >SBSs in genome</text>
<line x1="36.5" y1="2089.5" x2="36.5" y2="2252.5" stroke="#000" stroke-width="1.4" />
<text transform="translate(68.5,2026.0) rotate(-90) scale(0.837,1)" font-size="27" font-weight="bold" text-anchor="middle"># SNVs <tspan font-weight="normal">(</tspan><tspan font-weight="normal">×</tspan><tspan>10</tspan><tspan font-size="16.2" dy="-11.3">3</tspan><tspan dy="11.3" font-weight="normal">)</tspan></text>
<line x1="71.0" y1="1953.5" x2="71.0" y2="2098.5" stroke="#000" stroke-width="1.4" />
<text transform="translate(67.0,2255.9) rotate(-90) scale(0.757,1)" font-size="27" font-weight="bold" fill="#000" stroke="#000" stroke-width="0.50" >% SBSs</text>
<line x1="70.0" y1="2179.5" x2="70.0" y2="2255.5" stroke="#000" stroke-width="1.4" />
<text transform="translate(100.5,1405.1) scale(0.751,1)" font-size="30.5" font-weight="bold" fill="#ff0000" stroke="#ff0000" stroke-width="0.50" >Cluster 1</text>
<text transform="translate(504.1,1405.1) scale(0.773,1)" font-size="30.5" font-weight="bold" fill="#0028ff" stroke="#0028ff" stroke-width="0.50" >Cluster 2</text>
<text transform="translate(910.1,1405.1) scale(0.777,1)" font-size="30.5" font-weight="bold" fill="#ff8c00" stroke="#ff8c00" stroke-width="0.50" >Cluster 3</text>
<text transform="translate(1087.1,1405.1) scale(0.766,1)" font-size="30.5" font-weight="bold" fill="#00904c" stroke="#00904c" stroke-width="0.50" >Cluster 4</text>
<rect x="100.4" y="1538.4" width="1109.9" height="186.6" fill="none" stroke="#000" stroke-width="3"/>
<rect x="100.4" y="1732.4" width="1109.9" height="189.4" fill="none" stroke="#000" stroke-width="3"/>
<rect x="100.4" y="1931.0" width="1109.9" height="185.3" fill="none" stroke="#000" stroke-width="3"/>
<rect x="100.4" y="2121.4" width="1109.9" height="183.6" fill="none" stroke="#000" stroke-width="3"/>
<rect x="98.5" y="957.8" width="874" height="353" fill="none" stroke="#000" stroke-width="2"/>
<rect x="106.6" y="969.8" width="31.0" height="25.6" fill="#0a2dfa" />
<text transform="translate(150.2,992.0) scale(0.840,1)" font-size="22.6" font-weight="bold" fill="#000" stroke="#000" stroke-width="0.50" >SBS1</text>
<rect x="106.6" y="1000.0" width="31.0" height="25.6" fill="#1a93fa" />
<text transform="translate(150.2,1022.2) scale(0.840,1)" font-size="22.6" font-weight="bold" fill="#000" stroke="#000" stroke-width="0.50" >SBS5</text>
<rect x="106.6" y="1030.3" width="31.0" height="25.6" fill="#3cfcfc" />
<text transform="translate(145.1,1052.5) scale(0.840,1)" font-size="22.6" font-weight="bold" fill="#000" stroke="#000" stroke-width="0.50" >SBS40</text>
<rect x="106.6" y="1060.5" width="31.0" height="25.6" fill="#fc2a00" />
<text transform="translate(150.3,1082.8) scale(0.840,1)" font-size="22.6" font-weight="bold" fill="#000" stroke="#000" stroke-width="0.50" >SBS2</text>
<rect x="106.6" y="1090.8" width="31.0" height="25.6" fill="#f7827a" />
<text transform="translate(145.1,1113.0) scale(0.840,1)" font-size="22.6" font-weight="bold" fill="#000" stroke="#000" stroke-width="0.50" >SBS13</text>
<rect x="106.6" y="1121.0" width="31.0" height="25.6" fill="#f0288c" />
<text transform="translate(145.0,1143.2) scale(0.840,1)" font-size="22.6" font-weight="bold" fill="#000" stroke="#000" stroke-width="0.50" >SBS85</text>
<rect x="106.6" y="1151.3" width="31.0" height="25.6" fill="#4cfc0a" />
<text transform="translate(150.3,1173.5) scale(0.840,1)" font-size="22.6" font-weight="bold" fill="#000" stroke="#000" stroke-width="0.50" >SBS3</text>
<rect x="106.6" y="1181.5" width="31.0" height="25.6" fill="#ddf878" />
<text transform="translate(150.2,1203.8) scale(0.840,1)" font-size="22.6" font-weight="bold" fill="#000" stroke="#000" stroke-width="0.50" >SBS8</text>
<rect x="106.6" y="1211.8" width="31.0" height="25.6" fill="#8e8a00" />
<text transform="translate(145.0,1234.0) scale(0.840,1)" font-size="22.6" font-weight="bold" fill="#000" stroke="#000" stroke-width="0.50" >SBS18</text>
<rect x="106.6" y="1242.0" width="31.0" height="25.6" fill="#248c10" />
<text transform="translate(144.6,1264.2) scale(0.840,1)" font-size="22.6" font-weight="bold" fill="#000" stroke="#000" stroke-width="0.50" >SBS7a</text>
<rect x="106.6" y="1272.3" width="31.0" height="25.6" fill="#2a9090" />
<text transform="translate(144.6,1294.5) scale(0.840,1)" font-size="22.6" font-weight="bold" fill="#000" stroke="#000" stroke-width="0.50" >SBS7b</text>
<rect x="492.7" y="986.1" width="31.0" height="26.3" fill="#d683fa" />
<text transform="translate(530.9,1008.6) scale(0.840,1)" font-size="22.6" font-weight="bold" fill="#000" stroke="#000" stroke-width="0.50" >SBS36</text>
<rect x="492.7" y="1016.5" width="31.0" height="26.3" fill="#561a90" />
<text transform="translate(530.9,1039.0) scale(0.840,1)" font-size="22.6" font-weight="bold" fill="#000" stroke="#000" stroke-width="0.50" >SBS26</text>
<rect x="492.7" y="1046.8" width="31.0" height="26.3" fill="#001890" />
<text transform="translate(530.9,1069.3) scale(0.840,1)" font-size="22.6" font-weight="bold" fill="#000" stroke="#000" stroke-width="0.50" >SBS33</text>
<rect x="492.7" y="1077.2" width="31.0" height="26.3" fill="#9933ff" />
<text transform="translate(536.1,1099.7) scale(0.840,1)" font-size="22.6" font-weight="bold" fill="#000" stroke="#000" stroke-width="0.50" >SBS6</text>
<rect x="492.7" y="1107.5" width="31.0" height="26.3" fill="#8080ff" />
<text transform="translate(530.9,1130.0) scale(0.840,1)" font-size="22.6" font-weight="bold" fill="#000" stroke="#000" stroke-width="0.50" >SBS12</text>
<rect x="492.7" y="1137.9" width="31.0" height="26.3" fill="#ff80f5" />
<text transform="translate(530.9,1160.4) scale(0.840,1)" font-size="22.6" font-weight="bold" fill="#000" stroke="#000" stroke-width="0.50" >SBS30</text>
<rect x="492.7" y="1168.3" width="31.0" height="26.3" fill="#8e1000" />
<text transform="translate(530.8,1190.8) scale(0.840,1)" font-size="22.6" font-weight="bold" fill="#000" stroke="#000" stroke-width="0.50" >SBS35</text>
<rect x="492.7" y="1198.6" width="31.0" height="26.3" fill="#ff9000" />
<text transform="translate(530.9,1221.1) scale(0.840,1)" font-size="22.6" font-weight="bold" fill="#000" stroke="#000" stroke-width="0.50" >SBS32</text>
<rect x="492.7" y="1229.0" width="31.0" height="26.3" fill="#8e5000" />
<text transform="translate(530.8,1251.5) scale(0.840,1)" font-size="22.6" font-weight="bold" fill="#000" stroke="#000" stroke-width="0.50" >SBS31</text>
<rect x="760.0" y="1130.4" width="30.5" height="25.2" fill="#000000" />
<text transform="translate(797.8,1152.6) scale(0.840,1)" font-size="22.6" font-weight="bold" fill="#000" stroke="#000" stroke-width="0.50" >SBS34</text>
<rect x="760.0" y="1160.7" width="30.5" height="25.2" fill="#404040" />
<text transform="translate(798.2,1182.9) scale(0.840,1)" font-size="22.6" font-weight="bold" fill="#000" stroke="#000" stroke-width="0.50" >SBS39</text>
<rect x="760.0" y="1190.9" width="30.5" height="25.2" fill="#7a7a7a" />
<text transform="translate(798.2,1213.1) scale(0.840,1)" font-size="22.6" font-weight="bold" fill="#000" stroke="#000" stroke-width="0.50" >SBS37</text>
<rect x="760.0" y="1221.2" width="30.5" height="25.2" fill="#8c8c8c" />
<text transform="translate(798.2,1243.4) scale(0.840,1)" font-size="22.6" font-weight="bold" fill="#000" stroke="#000" stroke-width="0.50" >SBS52</text>
<rect x="760.0" y="1251.4" width="30.5" height="25.2" fill="#c0c0c0" />
<text transform="translate(798.1,1273.6) scale(0.840,1)" font-size="22.6" font-weight="bold" fill="#000" stroke="#000" stroke-width="0.50" >SBS41</text>
<rect x="760.0" y="1281.7" width="30.5" height="25.2" fill="#d8d8d8" />
<text transform="translate(798.1,1303.9) scale(0.840,1)" font-size="22.6" font-weight="bold" fill="#000" stroke="#000" stroke-width="0.50" >SBS51</text>
<polyline points="203.2,973.1 216.6,973.1 216.6,1028.6 203.2,1028.6" stroke="#000" stroke-width="1.5" fill="none" />
<polyline points="203.2,1062.0 216.6,1062.0 216.6,1146.0 203.2,1146.0" stroke="#000" stroke-width="1.5" fill="none" />
<polyline points="203.2,1213.5 216.6,1213.5 216.6,1297.8 203.2,1297.8" stroke="#000" stroke-width="1.5" fill="none" />
<polyline points="589.4,986.1 602.6,986.1 602.6,1165.6 589.4,1165.6" stroke="#000" stroke-width="1.5" fill="none" />
<polyline points="589.4,1167.6 602.6,1167.6 602.6,1254.4 589.4,1254.4" stroke="#000" stroke-width="1.5" fill="none" />
<polyline points="851.5,1130.4 863.9,1130.4 863.9,1306.5 851.5,1306.5" stroke="#000" stroke-width="1.5" fill="none" />
<text transform="translate(221.9,995.0) scale(0.892,1)" font-size="22.6" font-weight="normal" fill="#000" xml:space="preserve">Clock-like signature</text>
<text transform="translate(221.7,1019.3) scale(0.885,1)" font-size="22.6" font-weight="normal" fill="#000" xml:space="preserve">(Age-related)</text>
<text transform="translate(210.6,1051.7) scale(0.904,1)" font-size="22.6" font-weight="normal" fill="#000" xml:space="preserve">Unknown (Age?)</text>
<text transform="translate(221.7,1084.0) scale(0.886,1)" font-size="22.6" font-weight="normal" fill="#000" xml:space="preserve">APOBEC signature</text>
<text transform="translate(220.5,1113.0) scale(0.890,1)" font-size="22.6" font-weight="normal" fill="#000" xml:space="preserve">(Deaminase)</text>
<text transform="translate(210.4,1173.0) scale(0.897,1)" font-size="22.6" font-weight="normal" fill="#000" xml:space="preserve">HR deficiency</text>
<text transform="translate(210.7,1204.2) scale(0.847,1)" font-size="22.6" font-weight="normal" fill="#000" xml:space="preserve">Unknown (HR/NER deficiency)</text>
<text transform="translate(218.7,1232.0) scale(0.913,1)" font-size="22.6" font-weight="normal" fill="#000" xml:space="preserve">(ROS)</text>
<text transform="translate(218.7,1262.5) scale(0.912,1)" font-size="22.6" font-weight="normal" fill="#000" xml:space="preserve">(UV)</text>
<text transform="translate(218.7,1292.0) scale(0.912,1)" font-size="22.6" font-weight="normal" fill="#000" xml:space="preserve">(UV)</text>
<text transform="translate(294.8,1248.6) scale(0.892,1)" font-size="22.6" font-weight="normal" fill="#000" xml:space="preserve">Exogenous</text>
<text transform="translate(295.6,1278.2) scale(0.872,1)" font-size="22.6" font-weight="normal" fill="#000" xml:space="preserve">damage</text>
<text transform="translate(588.4,979.6) scale(0.898,1)" font-size="22.6" font-weight="normal" fill="#000" xml:space="preserve">Repair deficiency</text>
<text transform="translate(605.6,1007.8) scale(0.909,1)" font-size="22.6" font-weight="normal" fill="#000" xml:space="preserve">(BER)</text>
<text transform="translate(605.6,1037.9) scale(0.912,1)" font-size="22.6" font-weight="normal" fill="#000" xml:space="preserve">(MMR)</text>
<text transform="translate(605.5,1067.8) scale(0.817,1)" font-size="22.6" font-weight="normal" fill="#000" xml:space="preserve">Unknown (Transcription  coupled  NER?)</text>
<text transform="translate(605.6,1097.1) scale(0.912,1)" font-size="22.6" font-weight="normal" fill="#000" xml:space="preserve">(MMR)</text>
<text transform="translate(605.5,1126.2) scale(0.817,1)" font-size="22.6" font-weight="normal" fill="#000" xml:space="preserve">Unknown (Transcription  coupled  NER?)</text>
<text transform="translate(605.6,1154.3) scale(0.909,1)" font-size="22.6" font-weight="normal" fill="#000" xml:space="preserve">(BER)</text>
<text transform="translate(607.2,1219.2) scale(0.875,1)" font-size="22.6" font-weight="normal" fill="#000" xml:space="preserve">Chemotherapy</text>
<text transform="translate(869.0,1227.6) scale(0.905,1)" font-size="22.6" font-weight="normal" fill="#000" xml:space="preserve">Unknown</text>
</svg>
</body></html>
